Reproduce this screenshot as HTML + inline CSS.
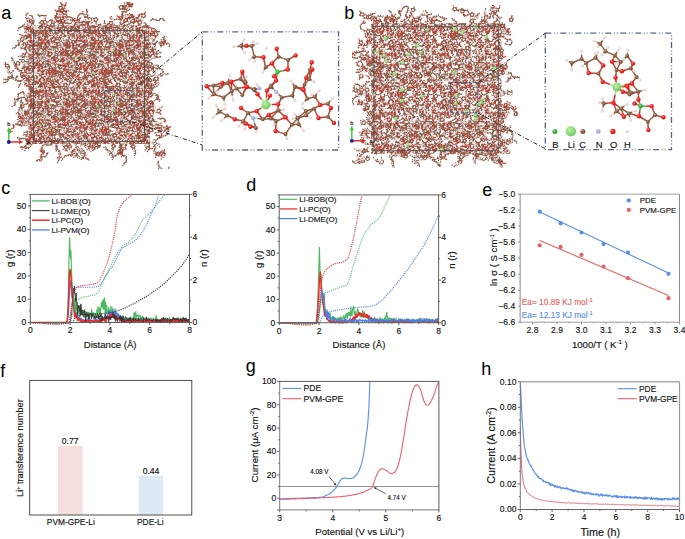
<!DOCTYPE html><html><head><meta charset="utf-8"><style>html,body{margin:0;padding:0;background:#fff;overflow:hidden}svg{display:block;font-family:"Liberation Sans", sans-serif}text{stroke:currentColor;stroke-width:0.14px;paint-order:stroke}text.pl{stroke:none}</style></head><body>
<svg width="685" height="539" viewBox="0 0 685 539">
<defs><radialGradient id="gC" cx="0.38" cy="0.35" r="0.7"><stop offset="0" stop-color="#bfa493"/><stop offset="0.5" stop-color="#8c5a3c"/><stop offset="1" stop-color="#774c33"/></radialGradient><radialGradient id="gO" cx="0.38" cy="0.35" r="0.7"><stop offset="0" stop-color="#f28482"/><stop offset="0.5" stop-color="#e8201c"/><stop offset="1" stop-color="#c51b17"/></radialGradient><radialGradient id="gH" cx="0.38" cy="0.35" r="0.7"><stop offset="0" stop-color="#f6e9e9"/><stop offset="0.5" stop-color="#f0d8d8"/><stop offset="1" stop-color="#ccb7b7"/></radialGradient><radialGradient id="gN" cx="0.38" cy="0.35" r="0.7"><stop offset="0" stop-color="#d0d5eb"/><stop offset="0.5" stop-color="#aab4dc"/><stop offset="1" stop-color="#9099bb"/></radialGradient><radialGradient id="gB" cx="0.38" cy="0.35" r="0.7"><stop offset="0" stop-color="#93d593"/><stop offset="0.5" stop-color="#3cb43c"/><stop offset="1" stop-color="#339933"/></radialGradient><radialGradient id="gL" cx="0.38" cy="0.35" r="0.7"><stop offset="0" stop-color="#c1edb5"/><stop offset="0.5" stop-color="#8fe07a"/><stop offset="1" stop-color="#79be67"/></radialGradient></defs>
<defs><pattern id="t1" patternUnits="userSpaceOnUse" width="47" height="47"><path d="M-.9.7l-2.3 0-.7-2.2 1.8-1.4 1.9 1.3-.7 2.2M-.9.7l 1.1 2M-.3 30.5l-2.2-.6-.1-2.3 2.2-.8 1.4 1.8-1.3 1.9M-.3 30.5l-1 2.1-1.1 2-2.2.7M-.9 47.7l-2.3 0-.7-2.2 1.8-1.4 1.9 1.3-.7 2.2M-.9 47.7l 1.1 2M-9.9 32.2l 2.3 0 2 1.1 2.3.4 2-1.1M-7.4 35.3l-.2 2.3 .7 2.2 2.1 1 1.8-1.5 1.4-1.8M-10 11l 2.3-.4 2.2.7 2.1.9 2.2-.7 .9-2.1M-.2 18.8l 1.7 1.5-.9 2.1-2.3-.2-.5-2.2 2-1.2M.6 22.4l 1 1.7M-2.2 32.6l 1.4 1.8-1.3 1.9-2.2-.6-.1-2.3 2.2-.8M-5.9 29.5l 1.9-1.3 2 1.2 2.2.7 .6 2.2M-1.1 25.3l-2.3-.4-1.4-1.8-.4-2.3-2-1.1-2.3.3M-.4 16.2l-1.3 1.9-2.3 0-2.2-.6-1.7-1.6M-.6 38.9l-2.2.8-1.9 1.2-2-1.1-2.3-.1-1.7 1.6-1.9 1.3-.5 2.2M-2.3 9.3l .7-2.2 2.3 0 .7 2.2-1.9 1.3-1.8-1.4M-5.7 20l 2.1-1 2.3-.3 1.6-1.6M-13.2 23.1l .8-2.2 2.2-.7 2.3 0 2 1.1 1.3 1.9 1.6 1.6 2.2-.6 .5-2.2M1.6-13.8l-1.3 1.9 0 2.3-1.5 1.7-.2 2.3 0 2.3-.9 2.1M21-4.8l 1 2.1 .3 2.3 2.1 1 2.1-.9M46.1.7l-2.3 0-.7-2.2 1.8-1.4 1.9 1.3-.7 2.2M46.1.7l 1.1 2M37.9-1.2l-2-1.1 .4-2.3 2.3-.3 1 2.1-1.7 1.6M6.5-.2l-2.3.2-1.4 1.9-1.5 1.8-2.3-.2M5.3-6.4l-2.3-.2-2.1.9-2.3.3-.9 2.1-1.5 1.7M34.1-3.1l 1.8 1.4 .7 2.2-1.7 1.5 .6 2.2-.5 2.2-.1 2.3M13.1-3.6l-1.5 1.8-1 2.1 .8 2.2-1.6 1.6-2.2-.7-2.2-.5M26.5-13.9l-2.3.2-1.2 1.9-.4 2.3-1.4 1.8-2.3.2-1.5 1.7-.8 2.2 1.1 2M34.8-7.5l-.2 2.3-1.7 1.6 .7 2.2 1.7 1.6 2.1 1M30-8.8l .1 2.3 1.4 1.8 1.4 1.8 1.9 1.3 .8 2.1-1.1 2-1.9 1.3M1.6-2.3l .4 2.3 2.1.9 2.3-.1 1.8-1.5 2.2.6M13.3-7.4l 1.9 1.3 1.5 1.7 1.7 1.5 .6 2.2M24.7-4.4l .9 2.1 2 1.1 2.2-.8 2.3.2 1.4 1.8 1 2.1-.2 2.3M18.3 3.5l 1.4 1.8-1.3 1.9-2.2-.6-.1-2.3 2.2-.8M18.5 7.2l .7 1.9M1.6 33.2l-1.3 1.9 0 2.3-1.5 1.7-.2 2.3 0 2.3-.9 2.1M19.2.2l 2.3-.2 .9 2.1-1.8 1.5-2-1.2 .5-2.2M22.3 2.2l 1.9.5M19.2.2l-2.2-.8-2.3.4-2.3-.3M4 16.1l-1.9 1.4-1.9-1.3 .7-2.2 2.3 0 .7 2.2M.3 16.1l-1.9.6M21 42.2l 1 2.1 .3 2.3 2.1 1 2.1-.9M46.7 30.5l-2.2-.6-.1-2.3 2.2-.8 1.4 1.8-1.3 1.9M46.7 30.5l-1 2.1-1.1 2-2.2.7M32.4 34l-1.8 1.5-1.9-1.2 .6-2.2 2.3-.1 .8 2.1M28.6 34.2l-1.9.7M32.4 34l 2.2.7 2.3-.4 2.1.8M4.9 2.2l .1-2.3 2.2-.6 1.3 1.9-1.4 1.8-2.1-.8M4.9 2.2l-1.1 2M28.8 26.3l-2.3.3-2.3-.4-1.2-1.9-1.8-1.5-2.1-.9-2.3-.4-2-1.2-1.1-2M15.1 28.6l-2-1.1 .4-2.3 2.3-.3 1 2.1-1.7 1.6M13.5 25.2l-1.4-1.5M15.1 28.6l-.2 2.3 .8 2.2M31.7 30l 1.7 1.5 1.9 1.3 .3 2.3 1.8 1.4 2-1.1 2.2-.8 2.3-.5M46.1 47.7l-2.3 0-.7-2.2 1.8-1.4 1.9 1.3-.7 2.2M46.1 47.7l 1.1 2M37.9 45.8l-2-1.1 .4-2.3 2.3-.3 1 2.1-1.7 1.6M36.3 42.4l-1.4-1.5M35.6 6.3l-1.3 1.9-2.2.6-.3 2.3 1.4 1.9 2.3 0 2.3 0 2.2.6M37.1 32.2l 2.3 0 2 1.1 2.3.4 2-1.1M15.8 18.4l-1.8-1.4-2.3 0-1.7 1.5-1.8 1.5-2.1.9-2.3.3M39.6 35.3l-.2 2.3 .7 2.2 2.1 1 1.8-1.5 1.4-1.8M6.5 46.8l-2.3.2-1.4 1.9-1.5 1.8-2.3-.2M37 11l 2.3-.4 2.2.7 2.1.9 2.2-.7 .9-2.1M6.4 25.5l 1.7-1.5 2 1.2-.5 2.2-2.3.2-.9-2.1M6.4 25.5l-2.3-.3-1.8 1.4-.8 2.1M5.3 40.6l-2.3-.2-2.1.9-2.3.3-.9 2.1-1.5 1.7M38.2 2.6l-1.7-1.6-.2-2.3-1.8-1.4-2.1 1-2.2-.5-2.2.7M34.1 43.9l 1.8 1.4 .7 2.2-1.7 1.5 .6 2.2-.5 2.2-.1 2.3M40.3 39.2l 1.4 1.8-1.3 1.9-2.2-.6-.1-2.3 2.2-.8M27.7 40.9l .2 2.3-2.1.9-1.5-1.7 1.2-2 2.2.5M27.7 40.9l 2.3.1 2.2-.8M8 12.4l-1.9 1.3-2.3-.3-1.2-2-2.3-.3-2.1-.8M23.3 44.9l-1.5-1.8-2.3.1-2.1 1-1.8-1.4-1.7-1.6-1.8-1.4 .5-2.2-.1-2.3M30.7 5.1l 2-1.1 2.3-.5 1.6-1.6-.2-2.3M41.5 14l-2.3-.1-1.4 1.8-2.3.2-2.2.7-1.7 1.5-.7 2.2 .9 2.1M42.3 1.7l-2.3-.2-1.1 2-2.3.1-2.3 0-1.8-1.5-2.1.9-2-1.2M-1.9 28.1l 1.1-2 2.3.5 .3 2.3-2.1 1-1.6-1.7M-1.9 28.1l-1.9-1.4-1.7-1.6M25.2 14.3l-1.5 1.8-2.2.5-1.9-1.2-.9-2.1M.4 11l 1.8 1.4-.8 2.2-2.3-.1-.7-2.2 1.9-1.3M1.5 14.6l 1.1 1.6M.4 11l-.5-2.2-1.5-1.7M39.4 15.8l .5 2.2 1.7 1.6-.5 2.2-1.2 2-2.3.4M4.7 29.6l-2.3.4-2.3.2-1.4-1.8-2.2.6-1.6-1.7M21.3 20.2l-1.8-1.5-2.2.7-1.1 2-.5 2.2-1.4 1.8M15.2 34.1l 1.2-2 2-1.1 2.1 1 2.2-.8 2.3.4 1.3-1.9 2.1-1 1.9 1.3M10.7 17.8l-1.5-1.7-2.2-.6-1.7 1.6-.6 2.2-1.5 1.8M-1.5 6.3l 1-2.1 2.3.3 .4 2.3-2 1.1-1.7-1.6M-1.5 6.3l-2.3.4-1.3 1.9-2 1.2M12 11.4l-2.2-.5-.2-2.3 2.1-.9 1.5 1.7-1.2 2M46.8 18.8l 1.7 1.5-.9 2.1-2.3-.2-.5-2.2 2-1.2M47.6 22.4l 1 1.7M17.5 20.7l-1.1 2 1 2.1 .3 2.3 1.3 1.9 2.3 0 1.6-1.6M8.3 16.7l-.2-2.3-.4-2.3-1.5-1.7-2.3.3-2 1.2-1.2 2-.6 2.2 1.1 2M13.1 43.4l-1.5 1.8-1 2.1 .8 2.2-1.6 1.6-2.2-.7-2.2-.5M.5 2.3l-.3-2.3 2.1-1 1.6 1.7-1.1 2-2.3-.4M.5 2.3l-2.3-.2M44.8 32.6l 1.4 1.8-1.3 1.9-2.2-.6-.1-2.3 2.2-.8M44.8 32.6l-.1-2.3-1.6-1.7-2.2-.7M26.5 33.1l-2.3.2-1.2 1.9-.4 2.3-1.4 1.8-2.3.2-1.5 1.7-.8 2.2 1.1 2M20.2 33.3l 2.1-1 1.7-1.6 1.4-1.8 2.2-.8 1.7 1.6 2.3 0 2.2.8 2.1.9M34.8 39.5l-.2 2.3-1.7 1.6 .7 2.2 1.7 1.6 2.1 1M4.4 21.9l-1.1 2 .8 2.1 1.4 1.8 2.2-.5 2.2-.8M44.5 14.1l-1.3 1.9 .2 2.3-1.2 2-2.3.1-2.2-.7-2.2-.6M31 13.7l 2.1 1-.3 2.3-2.3.4-1.1-2 1.6-1.7M32.8 17l 1.5 1.4M33.7 24.6l-2.3-.3-2.3 0-1.5 1.7-2 1.2-2.1 1-1.9-1.3-2.2.7M28.6 3.3l-2.3-.1-.6-2.2 1.9-1.3 1.8 1.4-.8 2.1M25.8.9l-1.9-.7M28.6 3.3l 2.1 1 2.3.1 2.3.4M10.8 28l 1.5-1.7 .9-2.1 2-1.1 2.3 0 1.6 1.6 .9 2.1M5.8 33.2l 1.1 2-.6 2.2-1.9 1.2 0 2.3 .9 2.1M34.3 1.1l 2.3-.1 2.3-.1 1.8-1.4 .3-2.3 .4-2.3M39.7 28.4l .1-2.3 2.2-.6 1.3 1.9-1.4 1.8-2.2-.8M39.7 28.4l-2.2.8-.8 2.1M10.1 6.1l-1.5 1.7-2.3-.2-1.6-1.7-2.2-.8-1.2-2-2.2-.6-2.1-1M18.9 19l .4-2.3 2.3-.3 1 2.1-1.7 1.6-2-1.1M21.5 16.4l .9-1.8M18.9 19l-2.2-.7M17.1 41l 2.1.9-.2 2.3-2.2.5-1.2-2 1.5-1.7M23.7 11.6l .6-2.2-1.5-1.7-2.3-.1-1.7-1.6M36.3 16.6l .1 2.3-2.1.8-1.5-1.8 1.2-1.9 2.2.6M36.3 16.6l 2.3.3 2.2.6M4.4 22.4l 1.7-1.5 2 1.2-.5 2.2-2.3.2-.9-2.1M8.1 22l 1.8-.8M41.1 29.5l 1.9-1.3 2 1.2 2.2.7 .6 2.2M15.9 39.6l-2.3-.3-2.3.2-2.2.5-2.2.7M45.9 25.3l-2.3-.4-1.4-1.8-.4-2.3-2-1.1-2.3.3M24.4 25.6l-2.2.7-1.9-1.3-2.3-.4-2.2.8-2.3.4-2.2-.7-2.2.8M2.1 42.6l-2.1.9-1.5-1.7 1.2-2 2.2.5 .2 2.3M13.1 32.1l-1.8 1.4-1.9-1.3 .6-2.2 2.3-.1 .8 2.2M9.4 32.3l-1.9.7M13.1 32.1l 1.4 1.9M25.2 20.8l-.2-2.3 1.7-1.5 .3-2.3-1.6-1.7 .6-2.2-.6-2.2-.5-2.2 .5-2.2M27.3 5.5l-1.8 1.5 0 2.3-.7 2.2-.7 2.2-1.4 1.9 .2 2.3 1.9 1.3-.2 2.3M15.5.2l-.1 2.3 1.8 1.4 1.3 1.9 2 1.1 1.4 1.8 2.2-.6 2.2-.5 2.2-.8M18.4 8.2l .2-2.3 2.2-.5 1.2 2-1.5 1.7-2.1-.9M18.4 8.2l-2.3.2M32.5-1.7l 2 1.1-.4 2.3-2.3.3-1-2.1 1.7-1.6M42.2 7.1l 1.1 2-1.6 1.7-2.1-.9 .3-2.3 2.3-.5M41.8 10.8l .4 2M21.4 27.8l 2.1-.9 1.5 1.7-1.2 2-2.2-.5-.2-2.3M21.4 27.8l-1.1-2M30 38.2l .1 2.3 1.4 1.8 1.4 1.8 1.9 1.3 .8 2.1-1.1 2-1.9 1.3M46.6 16.2l-1.3 1.9-2.3 0-2.2-.6-1.7-1.6M5.1 4.9l-1.7-1.6-1.9-1.2-.2-2.3-1.9-1.4-1.1-2-.6-2.2M12.6.6l 1.7 1.5-.9 2.1-2.3-.2-.5-2.2 2-1.2M46.4 38.9l-2.2.8-1.9 1.2-2-1.1-2.3-.1-1.7 1.6-1.9 1.3-.5 2.2M16.5 15.8l-2.3-.4-.3-2.3 2.1-1 1.6 1.7-1.1 2M16.5 15.8l 2.1 1M1.6 44.7l .4 2.3 2.1.9 2.3-.1 1.8-1.5 2.2.6M25 31.2l-.4-2.3 1.6-1.7 2.3-.2 1.4-1.8-.9-2.1-.3-2.3-.9-2.1 .7-2.2M20.7 13.8l-1.5-1.8 1.2-1.9 2.2.6 .1 2.3-2.1.8M20.7 13.8l-1.6 1.6-2.1 1-2 1.1M44.7 9.3l .7-2.2 2.3 0 .7 2.2-1.9 1.3-1.8-1.4M44.7 9.3l-2.2-.5-2.3-.4-1.9-1.2M27.1 10.5l 1.9-1.3 1.8 1.4-.8 2.2-2.3-.1-.6-2.2M27.1 10.5l-2.1-1M18.5 29.3l 2.1-1 2.1-.8 2.2-.8 1.8 1.5 1.7 1.6 2.3 0 1.1-2M13.3 39.6l 1.9 1.3 1.5 1.7 1.7 1.5 .6 2.2M34.2 33.2l 2.3.1 .6 2.2-1.9 1.3-1.8-1.4 .8-2.2M37.1 35.5l 1.9.7M12.4 35.7l-.1 2.3-2.2.6-1.2-1.9 1.5-1.8 2.1.8M12.4 35.7l 2.3-.2M30.6 21.6l-2.1-1-2.3-.4-2.2.7-2.3.2-2.1 1-2.3-.4M41.3 20l-.6 2.2-2.3.1-.8-2.2 1.8-1.4 1.9 1.3M41.3 20l 2.1-1 2.3-.3 1.6-1.6M1.4 32.9l-1.9-1.4 .7-2.2 2.3 0 .7 2.2-1.9 1.3M1.4 32.9l-.8 2.2-2 1.2M24.7 42.6l .9 2.1 2 1.1 2.2-.8 2.3.2 1.4 1.8 1 2.1-.2 2.3M20.8 26.2l-2.3-.2-1.6 1.7-2.1-.8-1.8 1.5-1.1 2-2.2.6-.9 2.1M31.1 44.5l 1.1-2 .9-2.1 1.8-1.5 .1-2.3M10.5 24.2l-1.3-1.9 1.4-1.9 2.2.7 0 2.3-2.2.7M10.5 24.2l .7 2.2M33.8 23.1l .8-2.2 2.2-.7 2.3 0 2 1.1 1.3 1.9 1.6 1.6 2.2-.6 .5-2.2M18.9 3.6l 1 2.1-1.7 1.6-2-1.1 .4-2.3 2.3-.3M18.2 7.2l .3 2M18.9 3.6l .5-2.2 1.3-1.9M-1.3 34l 2.2-.5 1.2 2-1.5 1.7-2.1-.9 .2-2.3M-1.3 34l-.2-2.3 .6-2.2M22.1 4.6l 2.2-.5 2.3-.5 2-1.1-.2-2.3 .1-2.3-1.2-1.9M1.7 19.3l-.9-2.1 1.8-1.5 1.9 1.2-.6 2.2-2.3.2M2.6 15.7l-.1-2M1.7 19.3l .7 2.2 1.9 1.2M19.2 47.2l 2.3-.2 .9 2.1-1.8 1.5-2-1.2 .5-2.2M19.2 47.2l-2.2-.8-2.3.4-2.3-.3M4.9 49.2l .1-2.3 2.2-.6 1.3 1.9-1.4 1.8-2.1-.8M38.2 49.6l-1.7-1.6-.2-2.3-1.8-1.4-2.1 1-2.2-.5-2.2.7M30.7 52.1l 2-1.1 2.3-.5 1.6-1.6-.2-2.3M42.3 48.7l-2.3-.2-1.1 2-2.3.1-2.3 0-1.8-1.5-2.1.9-2-1.2M.5 49.3l-.3-2.3 2.1-1 1.6 1.7-1.1 2-2.3-.4M28.6 50.3l-2.3-.1-.6-2.2 1.9-1.3 1.8 1.4-.8 2.1M25.8 47.9l-1.9-.7M34.3 48.1l 2.3-.1 2.3-.1 1.8-1.4 .3-2.3 .4-2.3M10.1 53.1l-1.5 1.7-2.3-.2-1.6-1.7-2.2-.8-1.2-2-2.2-.6-2.1-1M15.5 47.2l-.1 2.3 1.8 1.4 1.3 1.9 2 1.1 1.4 1.8 2.2-.6 2.2-.5 2.2-.8M32.5 45.3l 2 1.1-.4 2.3-2.3.3-1-2.1 1.7-1.6M5.1 51.9l-1.7-1.6-1.9-1.2-.2-2.3-1.9-1.4-1.1-2-.6-2.2M12.6 47.6l 1.7 1.5-.9 2.1-2.3-.2-.5-2.2 2-1.2M18.9 50.6l .5-2.2 1.3-1.9M22.1 51.6l 2.2-.5 2.3-.5 2-1.1-.2-2.3 .1-2.3-1.2-1.9M48.6-13.8l-1.3 1.9 0 2.3-1.5 1.7-.2 2.3 0 2.3-.9 2.1M53.5-.2l-2.3.2-1.4 1.9-1.5 1.8-2.3-.2M52.3-6.4l-2.3-.2-2.1.9-2.3.3-.9 2.1-1.5 1.7M48.6-2.3l .4 2.3 2.1.9 2.3-.1 1.8-1.5 2.2.6M48.6 33.2l-1.3 1.9 0 2.3-1.5 1.7-.2 2.3 0 2.3-.9 2.1M51 16.1l-1.9 1.4-1.9-1.3 .7-2.2 2.3 0 .7 2.2M47.3 16.1l-1.9.6M53.5 46.8l-2.3.2-1.4 1.9-1.5 1.8-2.3-.2M53.4 25.5l-2.3-.3-1.8 1.4-.8 2.1M52.3 40.6l-2.3-.2-2.1.9-2.3.3-.9 2.1-1.5 1.7M55 12.4l-1.9 1.3-2.3-.3-1.2-2-2.3-.3-2.1-.8M45.1 28.1l 1.1-2 2.3.5 .3 2.3-2.1 1-1.6-1.7M45.1 28.1l-1.9-1.4-1.7-1.6M47.4 11l 1.8 1.4-.8 2.2-2.3-.1-.7-2.2 1.9-1.3M48.5 14.6l 1.1 1.6M47.4 11l-.5-2.2-1.5-1.7M51.7 29.6l-2.3.4-2.3.2-1.4-1.8-2.2.6-1.6-1.7M45.5 6.3l 1-2.1 2.3.3 .4 2.3-2 1.1-1.7-1.6M45.5 6.3l-2.3.4-1.3 1.9-2 1.2M55.3 16.7l-.2-2.3-.4-2.3-1.5-1.7-2.3.3-2 1.2-1.2 2-.6 2.2 1.1 2M47.5 2.3l-.3-2.3 2.1-1 1.6 1.7-1.1 2-2.3-.4M47.5 2.3l-2.3-.2M57.1 6.1l-1.5 1.7-2.3-.2-1.6-1.7-2.2-.8-1.2-2-2.2-.6-2.1-1M49.1 42.6l-2.1.9-1.5-1.7 1.2-2 2.2.5 .2 2.3M52.1 4.9l-1.7-1.6-1.9-1.2-.2-2.3-1.9-1.4-1.1-2-.6-2.2M48.6 44.7l .4 2.3 2.1.9 2.3-.1 1.8-1.5 2.2.6M48.4 32.9l-1.9-1.4 .7-2.2 2.3 0 .7 2.2-1.9 1.3M48.4 32.9l-.8 2.2-2 1.2M45.7 34l 2.2-.5 1.2 2-1.5 1.7-2.1-.9 .2-2.3M45.7 34l-.2-2.3 .6-2.2M48.7 19.3l-.9-2.1 1.8-1.5 1.9 1.2-.6 2.2-2.3.2M48.7 19.3l .7 2.2 1.9 1.2M47.5 49.3l-.3-2.3 2.1-1 1.6 1.7-1.1 2-2.3-.4M57.1 53.1l-1.5 1.7-2.3-.2-1.6-1.7-2.2-.8-1.2-2-2.2-.6-2.1-1M52.1 51.9l-1.7-1.6-1.9-1.2-.2-2.3-1.9-1.4-1.1-2-.6-2.2" stroke="#8a6450" stroke-width="1.05" fill="none" stroke-linejoin="round"/>
<path d="M.8 7.2l1.2-1.6M26.5-.4l1.4 1.4M43.1-1.4l-1.9-.6M35.2.1l1.4-1.5M-1.5 41.4l-1.8-.8M26.5 46.6l1.4 1.4M44.4 27.6l-1.7-1.1M7.2-.7l.7-1.9M19.1 21.9l-1 1.8M35.3 32.8l.6-1.9M43.1 45.6l-1.9-.6M35.4 12.9l-.1-2M13.9 17l.9-1.8M41.4 11.3l.9-1.8M10.1 25.2l1.8-.8M40.4 42.9l.7 1.9M25.8 44.1l-.4 2M32.7 3.9l0-2M31.8 22.5l1.9-.6M30.5 3.2l-.7-1.9M1.5 26.6l1.5-1.4M23.7 16.1l1.7 1M21.5 16.6l1.2 1.6M1.8 4.6l1.4-1.4M9.6 8.6l-1.7-1M23 27.3l-1.1-1.7M2.3-1l.4-2M45 36.3l.7 1.9M23 35.2l-1.4-1.5M18.9 39.5l0 2M22.2 32.3l-1.4-1.4M31.5 29.7l.9-1.8M34.6 41.8l2-.3M35.2 47.1l1.4-1.5M10.1 26.6l1.6 1.2M6.4 37.4l-1.9.6M42 25.5l.7-1.9M19.1 44.2l1.5 1.3M34.3 19.7l-.5 1.9M-1.5 41.8l-2 .2M25.5 13.1l-.8 1.8M24.9 6.4l1.4-1.4M28.7 6.8l1.6 1.3M20.9 5.4l.8-1.8M34.1 1.6l1.4 1.5M25 28.5l2-.2M43 18.1l-.6-1.9M13.5 4.2l1 1.7M14 13.1l-1.8-1M29.9 25.3l-1.9-.5M28.7 20.9l2-.4M20.4 10.1l-.7-1.9M47.8 7.2l1.2-1.6M30.8 10.6l1.9-.6M10 38.6l-.7 1.9M38.4 22.3l-1.1 1.7M.2 29.4l-1.2-1.6M10.6 20.5l-.6-1.9M41.1 21.4l.2-2M2.1 35.5l2 .2M26.6 3.6l.1 2M7.2 46.3l.7-1.9M2.3 46l.4-2M34.1 48.6l1.4 1.5M45.5 41.4l-1.8-.8M48.5 26.6l1.5-1.4M48.8 4.6l1.4-1.4M45.5 41.8l-2 .2M47.2 29.4l-1.2-1.6" stroke="#b85a48" stroke-width="1.05" fill="none"/>
<path d="M-1.8 2.1h0m.9.6h0m0-1.9h0m.3-2.3h0m.3.1h0m.5 4.2h0m.2-.5h0m.8-2.5h0m.2 2.3h0m.5-2.1h0m.3-.9h0m.4 3.7h0m.1-.9h0m1-1.1h0m.2.1h0m.1-.8h0m.7 2.2h0m.5.7h0m1-2.2h0m.1-1h0m.7-.5h0m.9-.1h0m.3 2h0m1.9-1.3h0m.3 1.9h0m0-1.5h0m1-2.1h0m.8 1.4h0m.2 1h0m2.1-.7h0m.8.3h0m1.5-.8h0m.7-1h0m.9 4h0m.4-3.1h0m.2.9h0m.2 1.1h0m1.3-1.9h0m1.6.1h0m0 2.6h0m2.1-1.6h0m1.3.4h0m.8-1.3h0m1.1-.8h0m.1.9h0m.3-1.1h0m.5 3.4h0m0-1.8h0m.2 2.3h0m.8-1.5h0m1.4-1.2h0m1 2.1h0m.6-3.5h0m.1-.1h0m.1 4h0m.9-2.3h0m.1-1.5h0m.5 3.1h0m.2-.5h0m.2 1h0m.3-3.6h0m.1 3.5h0m.4-1.8h0m.4.5h0m.3-2.3h0m.4.5h0m0 .8h0m.2 1.5h0m.1.8h0m0-.8h0m0-.6h0m.7.7h0m.6-2.4h0m.3 3.9h0m.7-1.7h0m1.8-1.4h0m1.6 2.2h0m.7-3.1h0m.2-.2h0m.8 3.3h0m.6-2.8h0m.6 3.2h0m.9.6h0m0-1.9h0m.3-2.3h0m.3.1h0m.5 4.2h0m.2-.5h0m.8-2.5h0m.2 2.3h0m.5-2.1h0m-50.6 7.2h0m.1-.8h0m.6-2.9h0m.8 5.4h0m.3-.9h0m.6-.7h0m.6-3.5h0m.4.9h0m.4 2.3h0m.3-1.6h0m.9-1.9h0m.3.9h0m1.3.7h0m1.9-1.9h0m1.5 4.8h0m1 .8h0m.2-4.5h0m.2 2h0m1.1-2.1h0m.5 3.7h0m1.8-3.5h0m2.6 4.2h0m0-2.3h0m0-1.8h0m.1 2.3h0m.3-2.7h0m.7.1h0m.9 3.3h0m.2-3.7h0m.1 4.7h0m.1-1h0m.1-1.4h0m.3.1h0m0-2.4h0m1.6 4h0m.1-3.9h0m.1 3.2h0m.3-1.5h0m1.1 3.3h0m0-1.3h0m.1-2.8h0m.7 3h0m1.5.5h0m.7-1.7h0m.5-2.2h0m1 3.4h0m.1-4h0m.6 1.9h0m1.4-2.3h0m0 3.6h0m1.8-3.7h0m.2 1.9h0m0-.8h0m1.4 4.6h0m.5-4.9h0m.1 0h0m.3.4h0m1.2 0h0m.1 3.9h0m0-4.5h0m.5 5h0m.4-4h0m.3 1.6h0m1-2.6h0m1.6 3.5h0m.7-3.6h0m1.1 4h0m.2.9h0m1.7.2h0m.3-1.5h0m.2 1.7h0m.7-2h0m2.1.3h0m.1-.8h0m.6-2.9h0m.8 5.4h0m.3-.9h0m.6-.7h0m.6-3.5h0m.4.9h0m-50.6 5.6h0m.3 2.2h0m.2-1h0m.5 3.2h0m.4-3.9h0m.1-1.4h0m.8 1.8h0m.3 2.8h0m.3.1h0m.5-4.6h0m0 5.3h0m.4-2.7h0m.7-.5h0m.7 2.6h0m.5-.6h0m.1-2.6h0m2.2 3h0m.1-3.3h0m1.5 1.7h0m.3.3h0m.1 2h0m4-2.9h0m1.2-2h0m.8 3.6h0m2.1-1h0m1.6 1.7h0m1-.6h0m1.8-3.1h0m.1-1h0m.1 4.7h0m2-3.1h0m.1 2.3h0m.9-1.4h0m.3 2.1h0m.3-4.3h0m.4 2.1h0m.3-2h0m.2 4.8h0m.3-1.2h0m.6-2.2h0m1 3.9h0m0-4.3h0m.6 2.2h0m2.3.1h0m.8-2.2h0m.2 3.1h0m.8-2.6h0m1.4 1.9h0m2.3 0h0m1.5-2h0m.8 1.9h0m1.5 1h0m0-3.4h0m.5-.7h0m.2 0h0m0 3.7h0m1.5-2.3h0m.1 2.8h0m.3-3.2h0m1.7 1.3h0m1 2h0m.2-4.8h0m.5.9h0m.3 2.2h0m.2-1h0m.5 3.2h0m.4-3.9h0m.1-1.4h0m.8 1.8h0m.3 2.8h0m.3.1h0m.5-4.6h0m0 5.3h0m.4-2.7h0m-50.6 6.2h0m.4.6h0m1-2.4h0m.2 2.6h0m.4-2.7h0m.1 1h0m0-.9h0m1.4 3.2h0m.9-3.6h0m1.4 3.5h0m0-3h0m.5.8h0m.7.2h0m1.7-1.6h0m1.2 4.6h0m.1-3.4h0m.9-.6h0m1.4 4.4h0m.1-2.7h0m1-.8h0m2.2 1.2h0m.1-1.3h0m1 3.3h0m.1-2.8h0m.8.8h0m.8-2.6h0m.1 2.5h0m.3-1.9h0m.5 3h0m.1 1.2h0m1.1-3.9h0m.2 2.2h0m.2-3.6h0m.5-.1h0m0 3.4h0m1.3 1.4h0m.5.1h0m.1-3.6h0m.1-.1h0m1 2.1h0m.1-3h0m.2 2.3h0m.8-1.8h0m.4 4.9h0m.7-1.8h0m.2-.5h0m.2 2.3h0m1.1-.6h0m.5-3.2h0m1 1.7h0m.7-2.2h0m.1 4h0m.1.3h0m.8-5.5h0m1.1 2h0m.3 3h0m.7-2.2h0m1.2-1.2h0m0 1h0m.5-1.3h0m.8-.6h0m.2 3.7h0m.4 1.2h0m.8-5h0m.1 3h0m.7-2.4h0m.5 3.6h0m.7-.3h0m.1.2h0m.2-4.4h0m.8 1.2h0m.6-1h0m0 4.3h0m.3-1.5h0m0-3h0m.4 4h0m.1.6h0m0-2.3h0m.8-.5h0m0-.1h0m.5 2.5h0m.3-.4h0m.6.6h0m.8-2.1h0m.2-2.2h0m.2 3h0m.1-.8h0m1.4 1.7h0m.5-1.9h0m.4.6h0m1-2.4h0m.2 2.6h0m.4-2.7h0m.1 1h0m0-.9h0m1.4 3.2h0m-50.4 3h0m.6 3.1h0m.4-1.1h0m.3 2.5h0m.2-4.8h0m.8.4h0m.9 4.1h0m.8 0h0m.1-5.1h0m.9-.4h0m.2 2.9h0m.4-2.6h0m.3 3.8h0m.1.9h0m.1-3.4h0m.1-.3h0m.1-.5h0m.9 2.6h0m1.1 1h0m1.2-1.2h0m.5-2.2h0m1.2 3.8h0m.8.8h0m0-1.4h0m.5-.9h0m.7 2.2h0m.2-1.4h0m.8 1.3h0m.5-2.8h0m0-2.3h0m.8 4h0m.1.5h0m.7-.2h0m.4 1.3h0m.5-3.6h0m.6 1.8h0m0-1.2h0m.1 1.6h0m.4-3.8h0m.1 1.2h0m.4-1.2h0m.5 3.3h0m.1-3h0m.6 2.8h0m1-2.7h0m.1 2.9h0m.5-2.6h0m.4 4.7h0m.1-1.1h0m.1-.8h0m.4 1.2h0m.5-3.4h0m.4 4.1h0m.1-5.8h0m.4 5.1h0m.8-2h0m1.4 1.3h0m.2-4.2h0m.3 5.3h0m2.7-.6h0m1.2.2h0m.2-3.1h0m.1 1.2h0m.8.9h0m.7-3.6h0m.9 2.7h0m.4-1.8h0m1.9 2.1h0m.1-1.5h0m3.8 1.1h0m.7-1.9h0m1.6 1.5h0m1.2-2h0m0-.5h0m.5 3.8h0m.4.3h0m.3-2.4h0m.2.2h0m.8 3.5h0m.4-1.9h0m.4-.1h0m1.2-2.6h0m.6 3.1h0m.4-1.1h0m.3 2.5h0m.2-4.8h0m.8.4h0m.9 4.1h0m-50.4 1.6h0m.4 3.6h0m.2-3.3h0m0 4.2h0m0-.1h0m.3-3.1h0m.6.3h0m.1.7h0m.4-.4h0m0 .1h0m.1-.8h0m.5 2.9h0m.3-3.7h0m.4 4.4h0m.1-4.2h0m.3.1h0m.7 1.1h0m.1-.6h0m.7 2.2h0m1.5-2h0m.9-1.7h0m1.6-.3h0m.6-.2h0m.8 5.6h0m.7-.7h0m.2-4.9h0m.1 3.5h0m.4-.8h0m.8-2h0m1.1 2.3h0m.4-.3h0m.7-1.7h0m.1 3.9h0m1.8-1.3h0m.2-2.3h0m1.7-1.6h0m.1.6h0m1.5 3.3h0m.1-1.6h0m.5-.3h0m.4-1.4h0m1 4.4h0m.1-3.7h0m.8.7h0m0-1.2h0m.2 2.3h0m.6 2.3h0m.4-1.2h0m.1-3.7h0m.2-.1h0m.6.9h0m.3 2.3h0m.1.2h0m.9.8h0m.1-3.1h0m0 2.7h0m.4-2.3h0m.8.7h0m.5-1.5h0m.9 0h0m.8 1.6h0m.2-2.6h0m.7 2.7h0m0 2.2h0m.9-2h0m.5-.3h0m.9 0h0m0 2.1h0m.2-1.8h0m2 .5h0m1.7 2.3h0m.4-1.4h0m.9-.1h0m.4.9h0m.4-3.1h0m1.9 3.1h0m.3-3.9h0m1.3-.6h0m.1 1.7h0m.8-.3h0m.1-1.8h0m1.1.8h0m.2.4h0m.1-1.2h0m.2 1.6h0m.9-1.4h0m.3 2.7h0m.1 2.3h0m.1-3.2h0m.2-1.3h0m.4 3.6h0m.2-3.3h0m0 4.2h0m0-.1h0m.3-3.1h0m.6.3h0m.1.7h0m.4-.4h0m0 .1h0m.1-.8h0m.5 2.9h0m.3-3.7h0m.4 4.4h0m.1-4.2h0m.3.1h0m-50.3 7.5h0m.2 0h0m0-2.3h0m.7 4.9h0m.8-1.5h0m0-2.3h0m.3 2.1h0m0-2.1h0m1-1.9h0m.5 2.3h0m2.4 3.2h0m1.4-5.5h0m.6 4.2h0m.6-2.2h0m1.8 1.4h0m1.2 1.9h0m.2-3.7h0m2.1.8h0m.2-.4h0m.1 2.3h0m1.8-3.6h0m.2 1.5h0m.6-1.5h0m.4-1.1h0m4.5.3h0m2.8 1.9h0m1.2-1.9h0m2.3-.2h0m2.1 1.1h0m1.3 4h0m2.4-4.2h0m1 1.4h0m.8-2.2h0m.4 1.5h0m.5 1.9h0m.2.2h0m.4-1.7h0m1.2-.8h0m.3 1.2h0m.3 1h0m1.5-1.4h0m.4 2.4h0m.1-2.2h0m.1-.1h0m1.9-1.9h0m.1 1.3h0m.9.7h0m.1-2h0m.1 2.3h0m1-1.9h0m.1.4h0m.9.5h0m.2 1.7h0m.5 0h0m.2 0h0m0-2.3h0m.7 4.9h0m.8-1.5h0m0-2.3h0m.3 2.1h0m0-2.1h0m1-1.9h0m-50.3 10.2h0m.2-1.6h0m0 1.9h0m0-2.3h0m.1.1h0m1.1-1.7h0m1.2 1.4h0m.7 3.4h0m.3-4.3h0m.2 2.3h0m.9-2.3h0m2.3.2h0m.1 2.5h0m1.6-2.5h0m2.2-.7h0m2.2-.5h0m.8.4h0m1 3.6h0m.2-3.8h0m.4-.3h0m1.5 1.6h0m.4 2h0m0-.1h0m.3-3.2h0m.6 3.8h0m.1-.8h0m.2 2.1h0m.3-3.7h0m.2.2h0m.1 3h0m1-.1h0m.5-4.6h0m.1 4.7h0m.4-1h0m1.5-1h0m.2-2.9h0m.6 3.8h0m.2 1.1h0m1.3.6h0m1-2.5h0m.4.2h0m.8-2.2h0m.2 4.3h0m.2-.6h0m1.6-1.1h0m.3-2.1h0m1 4.1h0m1.3-3.9h0m.1-.5h0m.1 4.4h0m1-.4h0m.3-2.2h0m.6-2.1h0m.1 2.2h0m.7.9h0m.2-3h0m.8 4.4h0m.1-.9h0m.4-1.4h0m.1 1.8h0m.1-2.6h0m.2-2.3h0m1.5 2.9h0m.1-1.1h0m1.7-1.6h0m.1.2h0m.1 2.3h0m.4-.1h0m1 2.1h0m.4-4.4h0m.3-.6h0m0 .6h0m.1 3.1h0m.6 1.4h0m.4-2.3h0m.6-1.3h0m.3.1h0m1.5-1.6h0m.4.4h0m.5 4h0m0-2.5h0m.2 3h0m.4-.8h0m.2-1.6h0m0 1.9h0m0-2.3h0m.1.1h0m1.1-1.7h0m1.2 1.4h0m.7 3.4h0m.3-4.3h0m-49.8 7.4h0m.3-2.3h0m.3.1h0m1.5 1.2h0m.7.1h0m.3-.9h0m.6 2.8h0m1-1.1h0m.2.1h0m.1-.8h0m2.2.7h0m.1-1h0m.7-.5h0m.9-.1h0m.3 2h0m1.9-1.3h0m.3 1.9h0m0-1.5h0m1-2.1h0m.8 1.4h0m.2 1h0m2.1-.7h0m.8.3h0m1.5-.8h0m.7-1h0m1.3.9h0m.2.9h0m.2 1.1h0m1.3-1.9h0m1.6.1h0m2.1 1h0m1.3.4h0m.8-1.3h0m1.1-.8h0m.1.9h0m.3-1.1h0m.5 1.7h0m1 .8h0m1.4-1.2h0m1 2.1h0m.6-3.5h0m.1-.1h0m.9 1.7h0m.1-1.5h0m.5 3.1h0m.2-.5h0m.5-2.6h0m.1 3.5h0m.4-1.8h0m.4.5h0m.3-2.3h0m.4.5h0m0 .8h0m.2 1.5h0m.1.8h0m0-.8h0m0-.6h0m.7.7h0m.6-2.4h0m1 2.2h0m1.8-1.4h0m1.6 2.2h0m.7-3.1h0m.2-.2h0m.8 3.3h0m.6-2.8h0m1.5 1.9h0m.3-2.3h0m.3.1h0m1.5 1.2h0m.7.1h0" stroke="#7e5440" stroke-width="1.45" stroke-linecap="round" fill="none"/>
<path d="M40 1.6h0m-38.7 1.7h0m5 4.4h0m18.1-3.5h0m1.1 4.6h0m22.8-5.4h0m-47.1 14.9h0m3.5 1.2h0m33 .3h0m10.5-1.5h0m-24 8.1h0m.4 2.7h0m7.1-1.3h0m-17.8 13.6h0m26.1 7.3h0" stroke="#a9b6dc" stroke-width="1.45" stroke-linecap="round" fill="none"/>
<path d="M-1.4-1.6h0m.7.6h0m.1 2.2h0m.4-2.4h0m.1 3.8h0m.6-.8h0m.2-1.4h0m.5-1h0m.5-1.2h0m.3 3.1h0m1.6-.2h0m2.9-2.3h0m2.4 1.9h0m1-1.3h0m.2-.7h0m.9 1.6h0m.7-1.1h0m.9 2.1h0m.6-1.9h0m.9 2h0m.1-1.7h0m1.2-.4h0m.5-1.1h0m1.7 2.3h0m.6-.3h0m.8 2.8h0m1.1-.7h0m1-3.7h0m1.1-.1h0m1.5 3.6h0m.4-1.8h0m.4 2.5h0m2.7-2.7h0m0-1.7h0m.9 2.5h0m.3 2.1h0m.2-4.2h0m1.1 2.4h0m0-1.6h0m.1-.6h0m1.6 2.8h0m0-.8h0m.4 1h0m.2 1h0m1.3-.6h0m.9-1.9h0m1 0h0m0 0h0m.2 2.5h0m1.6-2h0m.1-.9h0m.6 1.9h0m.2.1h0m.5.5h0m.8-2.5h0m5 .3h0m1.7-2h0m.7.6h0m.1 2.2h0m.4-2.4h0m.1 3.8h0m.6-.8h0m.2-1.4h0m.5-1h0m.5-1.2h0m-50.4 9.9h0m.6-4.6h0m.8.2h0m.4 3.3h0m0 .5h0m1.5.9h0m0-5.1h0m.3 1.8h0m0-1.5h0m0 3.2h0m1.6-2.7h0m.6-.8h0m.8-.2h0m.3 1.4h0m.3-.4h0m3.3 2h0m.5-3.1h0m5.7 1.9h0m.5-1.7h0m1.4 3.9h0m.2-.4h0m0-3.7h0m1 4.5h0m.6-3.2h0m.1-.3h0m.1 4.4h0m.8-4.3h0m.7 1h0m.5 2.1h0m5.5 1.6h0m2.2-.3h0m1-4h0m1.3-1.2h0m1.1 2.5h0m.5 2.3h0m0-4.3h0m.2 1.6h0m.7-1.6h0m.3-.2h0m1.9 0h0m.2 2.8h0m.6 2.2h0m1.4.3h0m.4-5.5h0m.2 5h0m1-3.1h0m.2 2.9h0m0 0h0m1-4.7h0m.5 3.7h0m.5.3h0m1.4-.2h0m.3.6h0m.2-1.7h0m.3.5h0m.3-.4h0m.3-1h0m.3 2.6h0m.3-3.9h0m.4 4.4h0m.6-4.6h0m.8.2h0m.4 3.3h0m0 .5h0m1.5.9h0m0-5.1h0m-50.5 7.3h0m1.5 1.7h0m1.4-1.8h0m.5-.7h0m.2.3h0m.3 3.9h0m0-4.3h0m.2 4h0m.9-2.5h0m1.2 1.7h0m.4 1.1h0m1-1.9h0m.8-.1h0m.4.4h0m1.5-1.6h0m1 3.9h0m3.1-1.7h0m1.6-2.2h0m1.4-.7h0m1.7-.7h0m.2 5.2h0m0 .3h0m.5-3.4h0m.2-2.3h0m.8-.1h0m.1 4.3h0m.6-2.7h0m.7 4.1h0m1.9-.2h0m1-.3h0m.3-1.5h0m.6-.5h0m1.2-1h0m.1 2.2h0m.3-4h0m.2 3.8h0m.5-4.3h0m2 5.4h0m1.4-2.3h0m2.4-2.6h0m1.8 5.1h0m.3-2.5h0m1.2 2.7h0m.8-3.2h0m3.1-1.7h0m1.1 4.4h0m0-3.4h0m.4-1.4h0m1 3.2h0m.8-.9h0m0-2.8h0m1.1.2h0m.3 1.8h0m.5-.1h0m.4-.3h0m1.5 1.7h0m1.4-1.8h0m.5-.7h0m.2.3h0m-50.8 9.1h0m.3-2.6h0m.6.6h0m0 3h0m.4-1.9h0m.6-.7h0m.2 2.2h0m1.8-2.6h0m.3 3.2h0m.4-4.4h0m2.8-.1h0m.2.4h0m0 2.9h0m1.9-3.2h0m.3 2.1h0m.5-1.8h0m4.9 1.9h0m.4 0h0m1.3-1.5h0m.5.4h0m.2.4h0m.6 2.2h0m.4-3.1h0m.7 2.2h0m.6-2.1h0m.8-1.9h0m.9 0h0m.3 3h0m.9-2.8h0m.4.3h0m.9 1.6h0m.7.2h0m.3-1.4h0m.3 4.1h0m.1.9h0m1.6-3.7h0m.6 3.4h0m.3-.2h0m1.8-4.6h0m1.1 1.3h0m.3 3.2h0m1-3.4h0m.3.1h0m1.1 0h0m.5-1.5h0m.3 1.3h0m1.8 1.6h0m1.4-2.9h0m.1 1.8h0m.2 1.6h0m.2-3.1h0m.8 1h0m.1.8h0m.6 3.2h0m.1.2h0m.7-3.5h0m.1.1h0m0 0h0m.3 1.7h0m.6-2.1h0m.4-1.4h0m1 5.2h0m.2-.7h0m.1-.9h0m.5-2h0m.2 1.6h0m1.2 1.8h0m.8-3.1h0m.6.8h0m.8.9h0m.3-2.6h0m.6.6h0m0 3h0m.4-1.9h0m.6-.7h0m.2 2.2h0m1.8-2.6h0m-48.1 9.5h0m.1-2h0m.8-.8h0m1-1.4h0m.1.4h0m.1-1.1h0m0 .9h0m.7.1h0m.2.5h0m.1.3h0m1 1.1h0m.6-.8h0m4.2-3.1h0m0 4.5h0m.4-4.4h0m.7 2.4h0m1.6.1h0m.1.7h0m0 2.2h0m.3-2h0m1.8-1.1h0m.2-1.5h0m2.7-.9h0m.3 2.7h0m1.1 2.1h0m.4-2.2h0m.1-.5h0m.2.6h0m0 2.6h0m.3-2.5h0m.5 2.6h0m.3-4.9h0m.7 4.4h0m.7-1.1h0m1-3h0m.2 4.7h0m1.5-1.5h0m1.8-3.6h0m.5 5.3h0m1.6-4.6h0m2.3 1.7h0m1.6.1h0m3.8-2.6h0m3.5 1.4h0m1.3.7h0m.4-.1h0m.8 1.3h0m.2 2.2h0m.7-1.9h0m0-1.7h0m.4-2.2h0m4.2 5.7h0m.1-2h0m.8-.8h0m-50.6 5.2h0m.2 1.6h0m.3.1h0m.2.8h0m0-1.8h0m.2 1.9h0m.4-3.2h0m.5.2h0m3.7-1.1h0m1.7-.3h0m.7 1.1h0m0 1h0m.6-.5h0m1 3.9h0m4.2-5.8h0m.3 2.5h0m.4-1.4h0m.2-.8h0m1 3h0m.4-.4h0m.2-1.6h0m.9 1.8h0m.8 1.1h0m.1.8h0m.5-1.9h0m1.1-1.7h0m.6.3h0m.8-1.5h0m.1 1.6h0m.9-.3h0m.1 1h0m.2.6h0m1.9-1.2h0m.1 3.5h0m.2.3h0m1.4-3.3h0m.4 1h0m.1-.5h0m.1 2.4h0m.5-.7h0m1-3.1h0m0-.6h0m.1.8h0m.2 4h0m.7-4.6h0m.8 2.2h0m1.9.6h0m.5-2.6h0m0-.2h0m2.3 3.3h0m.5-2.4h0m.3 2h0m0 .9h0m.7-.4h0m.8 1.1h0m1.3.2h0m0 .1h0m1.3-5.4h0m1 1.5h0m.2 2.8h0m2.2-.8h0m.5-.3h0m.7-1.4h0m1.5 1.8h0m.2.3h0m.1-4.1h0m.2 4.6h0m.4-4.1h0m.5-.1h0m.1.1h0m.3 1.5h0m.2 1.6h0m.3.1h0m.2.8h0m0-1.8h0m.2 1.9h0m.4-3.2h0m.5.2h0m-48.1 9.8h0m.8-5.7h0m.3.6h0m.3-.1h0m.1-.2h0m.1-.1h0m0 2.6h0m.8.8h0m.6-.7h0m.9-2.9h0m.6 5.5h0m3-.4h0m2.7-4.4h0m1.4 4.2h0m1.8-4.1h0m.6-.4h0m.1.2h0m.1.3h0m.9-.4h0m.5 1.6h0m0 2.4h0m.2-2h0m.3 1.5h0m1.1-2.4h0m3 3h0m7.8-2.9h0m4.3 4h0m0 0h0m.7-4h0m0 .6h0m1.8-.5h0m.4 1.2h0m.1-.4h0m1.4-.5h0m.2-2.1h0m.4.9h0m1.1.5h0m.2 3.5h0m.3-.3h0m.6-4.5h0m.6 2.6h0m.1.7h0m.9-3h0m.2-.1h0m.7-.7h0m.1.4h0m0-.4h0m0 1.5h0m2.8 2h0m.1-.4h0m.3-1.3h0m1.5 4h0m.8-5.7h0m.3.6h0m.3-.1h0m.1-.2h0m.1-.1h0m0 2.6h0m.8.8h0m.6-.7h0m-50.6 6h0m1 .7h0m.1-2.3h0m2.7-.6h0m.6 4.4h0m.4-5.2h0m.7 4.2h0m1.5-3h0m3.3-.2h0m1.6 1.3h0m.3-1.8h0m3-.4h0m.5 4.1h0m.1-3.5h0m.8 4.8h0m1.8-5h0m.7 5.5h0m0-4.7h0m.2 3.9h0m1.1-4h0m.2 4h0m.3-2.9h0m1.3 3.3h0m.9.3h0m1.6-4.9h0m.8 4h0m.8-4.8h0m2.2.2h0m.3 5.6h0m1.3-.6h0m.2-3.1h0m.1-1.7h0m2.4 2.9h0m0 2.1h0m.2-.7h0m.4-3.2h0m1.2 1.1h0m.5 1.1h0m0 2h0m1.1-2.4h0m.1 1.8h0m.5-.8h0m0-2.5h0m.4 3h0m.6-4.2h0m.2 4.2h0m1.1-4h0m2.9 3h0m1.1.9h0m.3-3.2h0m.5-1.3h0m.2.4h0m.3.6h0m.9.8h0m1.2.7h0m.5.2h0m1 .7h0m.1-2.3h0m2.7-.6h0m-50.3 5.5h0m.7.6h0m.1 2.2h0m.4-2.4h0m.7 3h0m.2-1.4h0m.5-1h0m.5-1.2h0m.3 3.1h0m1.6-.2h0m2.9-2.3h0m2.4 1.9h0m1-1.3h0m.2-.7h0m.9 1.6h0m.7-1.1h0m.9 2.1h0m.6-1.9h0m.9 2h0m.1-1.7h0m1.2-.4h0m.5-1.1h0m1.7 2.3h0m.6-.3h0m2.9-1.7h0m1.1-.1h0m1.5 3.6h0m.4-1.8h0m3.1-.3h0m0-1.7h0m.9 2.5h0m.5-2.1h0m1.1 2.4h0m0-1.6h0m.1-.6h0m1.6 2.8h0m0-.8h0m.4 1h0m2.4-1.4h0m1 0h0m0 0h0m1.8.5h0m.1-.9h0m.6 1.9h0m1.6-1.9h0m5 .3h0m1.7-2h0m.7.6h0m.1 2.2h0m.4-2.4h0m.7 3h0m.2-1.4h0m.5-1h0m.5-1.2h0" stroke="#efe6e6" stroke-width="1.5" stroke-linecap="round" fill="none"/>
<path d="M.2 0h0m4.8-.1h0m6.4 2.6h0m2.9-.4h0m1.1.5h0m5.1-4h0m.9 1.5h0m3.9-1h0m2.6 2h0m1.8-3.1h0m.1 3.3h0m2.2-3.1h0m.7 3.7h0m1.8.7h0m0-3.3h0m2.1-.7h0m4.5-.7h0m2.7 2.8h0m3.4-.8h0m-48.7 7.1h0m1-2.9h0m2.5 1.3h0m1.2-2.4h0m1.5 2.9h0m3-2.6h0m.2 4.2h0m6.6-1.7h0m4.1 0h0m1.1 2.3h0m.1-3h0m.1.4h0m1.9-2h0m3.7 3.4h0m.9-3.9h0m0 1.9h0m.4.6h0m3.5 2.5h0m4.7-1.7h0m0-3h0m.5.7h0m0-1.1h0m10 4h0m1-2.9h0m2.5 1.3h0m-48.6 5.4h0m1.9 1.4h0m7.5-1.5h0m2.5 1.2h0m7-.1h0m5.4 2.9h0m.8-5.6h0m3.6-.1h0m3.7.8h0m.3 4.7h0m2.2-3.7h0m7-1.5h0m1.1-.4h0m4 1.9h0m-46.5 6.1h0m.7 3.2h0m.6-2.9h0m3.9 3.4h0m3.8-2.2h0m0 0h0m4.3-3.2h0m.5-.1h0m4.5 1.5h0m3.4 1.5h0m2.8-1.1h0m5.2 3.4h0m5.8-1.5h0m4.9.5h0m.5 1.4h0m.5-4.6h0m5.5.9h0m.7 3.2h0m-49.3 5.8h0m3.7-.9h0m3.1-4.2h0m2.1 3h0m1.1-1.6h0m2.7 2h0m1.3-.2h0m4.3-1.1h0m.6.5h0m.3 2.3h0m3.4-.3h0m1.6 1.1h0m3.1-.3h0m1.4-1.8h0m5.8-2.9h0m0-.2h0m3.5 2.3h0m2.5 2.2h0m.9-3.9h0m2 1.4h0m.1 2.9h0m3.5-.4h0m-47.2 1.6h0m.4 3.8h0m12.1-3.7h0m1.5-.4h0m3.3 4.6h0m1.3-5h0m3.1 3.8h0m4.8-3.6h0m.6 0h0m.8 1.1h0m1.2.4h0m4.1-.7h0m1.1 3.6h0m2.5-.6h0m8.6-1h0m1.5-2.1h0m.4 3.8h0m-48.3 5.9h0m.4.7h0m.6-3.8h0m1.7-.9h0m3.2 2.2h0m.4 2.3h0m6.8-4.5h0m.9 4.5h0m9.4-4.3h0m.9 3.7h0m8-2h0m4.4 3.4h0m1.5-5.6h0m8.8 4.1h0m.4.7h0m.6-3.8h0m1.7-.9h0m-49.2 5.6h0m1.2 4.4h0m2.7.6h0m1.8-3.1h0m3.5 3.5h0m1.3-4h0m9.6 1.1h0m.4.4h0m8.6 1.3h0m5 .9h0m3 .5h0m.7-3.1h0m4.5 3.2h0m.6-3.8h0m1.8 1h0m.2-1.3h0m2.1-1.5h0m1.2 4.4h0m-46.8 3.5h0m4.8-.1h0m15.6-1.4h0m.9 1.5h0m3.9-1h0m2.6 2h0m1.8-3.1h0m.1 3.3h0m2.2-3.1h0m.7 3.7h0m1.8-2.6h0m2.1-.7h0m4.5-.7h0m2.7 2.8h0m3.4-.8h0" stroke="#e2221d" stroke-width="1.45" stroke-linecap="round" fill="none"/></pattern><pattern id="t2" patternUnits="userSpaceOnUse" width="53" height="59"><path d="M-11.4-3.9l 2.3.2 1.6 1.6 1.5 1.8 0 2.3 2.1.9 2 1.1M-6 10.8l 2.1 1 1.7 1.6 2.3-.2 .8-2.2-.8-2.1-2.2-.8M-4.8 56.5l-.5-2.2 2-1.2 1.7 1.5-.9 2.1-2.3-.2M-2 47.7l 1.5-1.7 2.1.9-.2 2.3-2.2.5-1.2-2M1.6 46.9l 1.7-1M-1.4 7.5l-1.4 1.8-2.2-.8 .1-2.3 2.2-.6 1.3 1.9M-1.4 7.5l 1.5-1.7 .9-2.1 .4-2.3M-2.9 18.4l 1.9-1.2 .3-2.3-2-1.2-1.9-1.3-2.2.8-2-1.2-2.3.3M-2.8 52.3l 1.7-1M-5.9 43.6l 1.2-2 2.1-1 1.8 1.4 2-1.2 1.7-1.6M-3 28.6l-1.8-1.5 .9-2.1 2.3.2 .5 2.2-2 1.2M-8.7 5.8l .8 2.2 1.9 1.3 2.3.1 1.1-2 1.3-1.9 1.7-1.5-.5-2.3-2.2-.7M-1.2 33l-1.3-1.9-2.1-.9-2.3 0-2.2.7M-11.4 55.1l 2.3.2 1.6 1.6 1.5 1.8 0 2.3 2.1.9 2 1.1M-8.3 49.5l 1.4 1.8 .5 2.2 1.6 1.6 2.3.2 2.1-1 2.1.9 2.2.6M-1 8.2l 1.1 2-1.6 1.7-2.1-1 .3-2.3 2.3-.4M-1.5 11.9l .4 2M-.5-1.4l 2 1.1-.4 2.3-2.3.3-1-2.1 1.7-1.6M-.5-1.4l 1.1-2M-7.4 14.7l 2 1.2 2.3-.3 1.7-1.5M-1.4 66.5l 1.5-1.7 .9-2.1 .4-2.3M-8.7 64.8l .8 2.2 1.9 1.3 2.3.1 1.1-2 1.3-1.9 1.7-1.5-.5-2.3-2.2-.7M-.5 57.6l 2 1.1-.4 2.3-2.3.3-1-2.1 1.7-1.6M-.5 57.6l 1.1-2M17.5-5.5l-.8 2.2-.6 2.2-1.4 1.8 0 2.3M3.6-1.3l-.8 2.1-2.3-.1-.6-2.2 1.9-1.2 1.8 1.5M.5.7l-1.3 1.5M3.6-1.3l 1.4-1.8-.2-2.3M48.2-2.5l-2.2.8M19.6-3l-.5 2.2-1.4 1.8-1.3 1.9M32.6-.4l 2.1 1 2-1.1 2.3.2 1.6 1.7M26.7-.7l 1.2 1.9-.2 2.3 .6 2.2 .5 2.2 2.3.4M7.7-3.4l .4 2.3 .6 2.2-.1 2.3 .7 2.2 .9 2.1M41.7-6l-2 1.1-1.1 2 .9 2.1-.1 2.3M43.8-1.2l-.2-2.3-2.1-1-2 1.1-1.5 1.7-2.2.8M41.6-3.9l 2.3.2 1.6 1.6 1.5 1.8 0 2.3 2.1.9 2 1.1M37.3-1.9l .7-2.2-.8-2.1-1.9-1.3-2.2.5-2-1.1M20.3-.4l .7 2.2 2.1.9 0 2.3-2 1.1-2.3-.4-1.5-1.7-2.2.5-1.3 1.9M29.2-9.6l-1.5 1.7 .2 2.3 1.1 2-.8 2.2 1.5 1.8M17.5 53.5l-.8 2.2-.6 2.2-1.4 1.8 0 2.3M35.7 24.3l .9-2.1 2.2-.8 1.6-1.6 1.8-1.5-.1-2.3-1.2-2-.1-2.3-.6-2.2M47 10.8l 2.1 1 1.7 1.6 2.3-.2 .8-2.2-.8-2.1-2.2-.8M35.8 3.1l 1.7 1.5-.9 2.1-2.3-.2-.5-2.2 2-1.2M35.8 3.1l 1.8-1.4M27.4 40.6l-2.3.1-1.6-1.6-1.5-1.8-1.3-1.9-2.1-1M38.4 27.5l 2-1.1 2.2.7 2.3.3 1.5-1.7 2.1-.8M18 24.1l 2.3 0 2.2-.7 .8-2.2 2.1-.9 1.3-1.9M3.6 57.7l-.8 2.1-2.3-.1-.6-2.2 1.9-1.2 1.8 1.5M.5 59.7l-1.3 1.5M3.6 57.7l 1.4-1.8-.2-2.3M25.8 50l .5 2.2 2.2.7 .7 2.2 2.3.2M32.6 10.6l-1.7-1.5 .8-2.2-.5-2.2 1.6-1.6-.2-2.3-2-1.1-.9-2.1M35.2 45.7l-2.3.4-1.5-1.7 .8-2.2 1.8-1.4 2.2-.8 .4-2.3-.2-2.3M2 10.7l-2.2-.6-2.3-.2-2.3-.1-2-1.1-.7-2.2M5.6 7.2l 2-1.2 1.7 1.5-.9 2.1-2.3-.2-.5-2.2M5.6 7.2l-2.1.9-1.6 1.6M48.2 56.5l-.5-2.2 2-1.2 1.7 1.5-.9 2.1-2.3-.2M49.7 53.1l .2-2M48.2 56.5l-2.2.8M51 47.7l 1.5-1.7 2.1.9-.2 2.3-2.2.5-1.2-2M54.6 46.9l 1.7-1M19.6 56l-2.3-.3-.4-2.3 2-1.1 1.7 1.6-1 2.1M19.6 56l-.5 2.2-1.4 1.8-1.3 1.9M6.3 13.6l-2.2-.8-1.7-1.6-2.1.9-2.3.4-1.7 1.5 .4 2.3M30 8.5l 1.6-1.6 2.2.7 2.1-1 1.2-2 2.3-.4M8.4 29.9l-2.3 0-.7-2.2 1.8-1.4 1.9 1.3-.7 2.2M8.4 29.9l-.1 2.3-.5 2.2M32.6 58.6l 2.1 1 2-1.1 2.3.2 1.6 1.7M19.9 25.2l 1.2-2 .4-2.3 .9-2.1 2.3-.1 1.6 1.7 2.2.7M22.8 24.2l-1.2-1.9 .9-2.1 2.2-.6 2.2-.8M3.5 47.3l-1.1 2-2.3.2-2.1-1-1.1-2-.2-2.3-1.7-1.6-1.6-1.6M18.6 31.3l .3-2.3 1.8-1.4 1.9-1.2 1.4-1.8 2.2-.8 2.1-.9 2.2-.7 .4-2.3M31.6 21.3l-1-2.1 1.7-1.6 2 1.1-.4 2.3-2.3.3M31.6 21.3l-2.2.6M9.8 46l 0 2.3-2.2.7-1.4-1.9 1.3-1.9 2.2.7M8.7 37.7l-.8 2.1-.8 2.2-2.3.2-1.1 2 1 2.1 2.2.7M2.1 40.3l 2-1.1 2.3.1 1.7-1.6 2.2.5 1.4-1.8 2-1.1M26.7 58.3l 1.2 1.9-.2 2.3 .6 2.2 .5 2.2 2.3.4M7.7 55.6l .4 2.3 .6 2.2-.1 2.3 .7 2.2 .9 2.1M10.9 27.1l-.2-2.3 2.1-.9 1.5 1.8-1.2 2-2.2-.6M12.9 24l .5-1.9M10.9 27.1l-.5 2.3 1.3 1.9M8.9 31.5l-1.8-1.4 .8-2.1 2.3.1 .6 2.2-1.9 1.3M8.9 31.5l 1.6 1.6 1.5 1.7M2.5 32.1l 1.4 1.8 0 2.3 .2 2.3-1.8 1.4-.3 2.3 1.5 1.7 1.4 1.8 2.3.5M37.3 52.7l 1.3-1.9-.4-2.3 .2-2.3-.1-2.3-.9-2.1M43.4 24.6l .8 2.2-1.8 1.4-1.9-1.3 .6-2.2 2.3-.1M43.4 24.6l 1.4-1.8-.4-2.3-1.4-1.8M34.7 44.7l-2.2-.6-.1-2.3 2.1-.8 1.5 1.8-1.2 1.9M34.7 44.7l-.7 2.2-.1 2.3M33.7 16.6l-.9 2.1-2.1.9-1.9 1.3-2.1-.8-2.3-.4-1.9 1.4M5.3 1.8l-2.1.9-1.5-1.7 1.2-2 2.2.5 .2 2.3M1.6.9l-2 .2M5.3 1.8l 2.1.9 1.7 1.5M8.7 39.4l .7-2.2-1.7-1.6-2.3-.4-1.3-1.9-.7-2.2-1.6-1.6-2.1-.9-2.3 0M26.2 30.9l-2.2-.5-.2-2.3 2.1-.9 1.5 1.7-1.2 2M23.7 28.1l-1.7-1M26.2 30.9l-.6 2.2M51.6 7.5l-1.4 1.8-2.2-.8 .1-2.3 2.2-.6 1.3 1.9M48 8.5l-1.7 1.1M51.6 7.5l 1.5-1.7 .9-2.1 .4-2.3M50.1 18.4l 1.9-1.2 .3-2.3-2-1.2-1.9-1.3-2.2.8-2-1.2-2.3.3M24.9 23l 2.3-.2 .9 2.1-1.7 1.5-2-1.2 .5-2.2M24.9 23l-2.3-.4M41.7 48.1l-.4-2.3 1.4-1.8 2.3.1 2.2.5 1.7-1.6-.4-2.3M12.8 55.8l-1-2.1 1.6-1.6 2 1.1-.4 2.3-2.3.3M30.2 6.4l-1.7 1.6-2-1.1 .4-2.3 2.3-.3 1 2.1M26.5 6.8l-1.8.9M30.2 6.4l 1.9 1.3M2.2 52l 1.8-1.4 1.9 1.3-.7 2.2-2.3 0-.7-2.2M5.9 51.9l 1.9-.6M2.2 52l-1.3-1.9-1.7-1.5-.6-2.2M12.4 16.1l-.4-2.3 2.1-1 1.6 1.6-1 2-2.3-.4M12.4 16.1l-1.1 2 .2 2.3M41.8 24.3l-1.5-1.7-.6-2.2 1.5-1.7 2.3.4 .5 2.2-.5 2.3 .6 2.2 1.4 1.8M38.9 8.8l .2-2.3 2.2-.6 1.2 1.9-1.5 1.8-2.1-.9M41.3 5.9l .7-1.9M38.9 8.8l-2.3-.2-2.1.9M15.5 2.5l-1.2 2-2.1.9-1.6 1.6-2.3-.3-2.3 0-2 1.1-2.1-1M46.6 53l 1.6-1.7 2.1 1-.3 2.3-2.3.4-1.1-2M50.2 52.3l 1.7-1M29.3 46.9l .8-2.2 2.3.1 .6 2.2-1.9 1.3-1.8-1.4M32.4 44.8l 1.2-1.6M30.5 4.8l-2 1.1-.7 2.2-1.9 1.3-2 1.2-2-1.1M47.1 43.6l 1.2-2 2.1-1 1.8 1.4 2-1.2 1.7-1.6M50 28.6l-1.8-1.5 .9-2.1 2.3.2 .5 2.2-2 1.2M49.1 25l-1.1-1.7M50 28.6l-1.5 1.7M44.3 5.8l .8 2.2 1.9 1.3 2.3.1 1.1-2 1.3-1.9 1.7-1.5-.5-2.3-2.2-.7M27.3 44.7l 1 2.1-1.7 1.6-2-1.1 .5-2.3 2.3-.3M1.9 18.1l-2.1-1 .3-2.3 2.3-.5 1.1 2-1.6 1.7M27.3 13.3l-.8 2.2-1.1 2-2 1.1-2.3.4M28.9 34.4l 1.9 1.3-.6 2.2-2.3.1-.8-2.2 1.8-1.4M32.2 25.7l-2.3.3-1-2.1 1.6-1.6 2 1.1-.4 2.3M32.2 25.7l 1.3 1.9 .9 2.1M22.6 6.4l 2.3 0 2-1.1 1.9-1.2 .4-2.3M25.3 48.8l 0 2.3-2.2.7-1.3-1.9 1.4-1.8 2.2.7M25.3 48.8l 2.3-.2M16.2 39l-1.3 1.9-2.1.9-1.9 1.3-2.3.3M19.1 9.4l-1.8 1.4-1.9-1.3 .6-2.2 2.3-.1 .8 2.2M19.1 9.4l 1.3 1.9 1.5 1.7M16.6 11.3l-1.8 1.4-1.4 1.8 1.1 2-.4 2.3M41.7 53l-2 1.1-1.1 2 .9 2.1-.1 2.3M15.8 43.5l-2.1.9-2.1.9-2.2-.8-2.2.6-2.2.5M17 17.8l-2.2-.7 0-2.3 2.2-.7 1.4 1.9-1.3 1.9M14.8 14.8l-1.6-1.2M47.4 28.1l-1.3 1.9-2.2-.7 0-2.3 2.2-.7 1.4 1.9M43.9 29.3l-1.6 1.2M47.4 28.1l 1.8 1.4M24.7 34.7l-.2 2.3-2.2.5-1.2-2 1.5-1.8 2.1.9M22.3 37.5l-.8 1.9M24.7 34.7l 2.2-.8 2.3-.3 2.3.4M32.7 28.3l-.3 2.3-2.3.4-1.1-2 1.6-1.6 2.1 1M30.1 30.9l-.9 1.8M32.7 28.3l 2.3-.2 2.2-.6 2.3-.1M12.1 21.4l 0-2.3 2.2-.7 1.3 1.9-1.4 1.8-2.2-.7M14.3 18.4l .6-1.9M12.1 21.4l-1.9 1.2M40.5 32.6l-1.9-1.3-2.3 0-2-1.1-2 1.1-2.3-.2-1.5-1.7M15.9 48.1l-2-1.2 .5-2.2 2.3-.2 .9 2.1-1.7 1.5M15.9 48.1l 1.1 2 .4 2.3M6.7 17.8l 1.1-2 2.3.4 .3 2.3-2.1 1-1.6-1.7M10 16.2l 1.4-1.4M6.7 17.8l-1.9-1.3-.9-2.1M46.4 29.9l-1.4 1.9-2.2-.7 0-2.3 2.2-.7 1.3 1.9M11.6 15.8l 1.9 1.2 2.2.5 1.9 1.3 2.3-.4M51.8 33l-1.3-1.9-2.1-.9-2.3 0-2.2.7M1.6 6.8l-.8-2.2 1.2-2-1.2-1.9-2.3-.1-1.5 1.7M14.4 47.2l 1.8-1.4 .8-2.2-.8-2.1-1.1-2M20.5 4.5l 1.1-2 2.3.4 .3 2.3-2.1 1-1.6-1.7M20.5 4.5l-2.2.7M42.6 16.6l-2.3-.1-1.3-1.9-.4-2.3 1.7-1.5 .5-2.2M9.9-1l 1.4 1.8-1.3 1.9-2.2-.7-.1-2.3 2.2-.8M45 17.3l 1.5 1.8-1.2 2-2.2-.5-.2-2.3 2.1-.9M45 17.3l 1.3-1.9M8.3 51l 1.9 1.4-.7 2.2-2.3 0-.7-2.2 1.9-1.4M8.3 51l-.5-2.2-2.1-1M1.6 27.1l-2.2.8-1.4-1.8 1.3-1.9 2.2.7 0 2.3M-1.9 26l-2 0M11 53l-2.3.2-2.2.5-2-1.2-1.4-1.8M45.3 22.8l 1.1 2 .6 2.2-1.2 2-1.3 1.9M40 36.6l 1.9 1.3-.6 2.2-2.3.1-.8-2.1 1.8-1.4M40 36.6l .2-2.3-1.4-1.8-2.2-.8M43.8 57.8l-.2-2.3-2.1-1-2 1.1-1.5 1.7-2.2.8M11.5 42.4l 2.3.3 .4 2.3-2 1.1-1.7-1.6 1-2.1M11.5 42.4l-.9-2.1-2.1-.9M13.5 36.1l-2.3-.5-2.2.7-1.5 1.7-2.3.4-2.3-.2-2.2-.5-2 1.2-2.1 1M41.6 55.1l 2.3.2 1.6 1.6 1.5 1.8 0 2.3 2.1.9 2 1.1M44.7 49.5l 1.4 1.8 .5 2.2 1.6 1.6 2.3.2 2.1-1 2.1.9 2.2.6M34.8 3.9l-2.1.9-.8 2.2 .6 2.2-.1 2.3-.8 2.2 0 2.3-1.6 1.6M37.1 30.9l 1.5 1.7-1.2 2-2.2-.5-.2-2.3 2.1-.9M34.5 35.2l 2 1.1 1.9 1.4 2.3-.5 1.1-2 1.5-1.7 2.2-.6 1.2-2M37.3 57.1l .7-2.2-.8-2.1-1.9-1.3-2.2.5-2-1.1M20.3 58.6l .7 2.2 2.1.9 0 2.3-2 1.1-2.3-.4-1.5-1.7-2.2.5-1.3 1.9M52 8.2l 1.1 2-1.6 1.7-2.1-1 .3-2.3 2.3-.4M51.5 11.9l .4 2M6.6 19.7l-2 1.2-1.2 2-.7 2.2-.5 2.3-2.2.5-1.1 2-2.3 0M26.2.6l .4-2.3-.7-2.2-1.3-1.9 .8-2.1 1.8-1.4M49.5 45.9l-2.1.9-1.5-1.8 1.2-2 2.2.5 .2 2.3M45.8 45l-2 .1M20.4 17.3l-.4 2.3-2 1.2-1.6 1.7-2.3-.1-1.6-1.7-.8-2.2M13.7 2.8l 1 2.1 1.1 2 1.1 2-1 2.1-1.5 1.7-1.6 1.7-2.3-.4M26.6 32.3l .2 2.3-2.1.9-1.5-1.7 1.2-2 2.2.5M26.6 32.3l 1.2-2 1.7-1.6M29.2 49.4l-1.5 1.7 .2 2.3 1.1 2-.8 2.2 1.5 1.8M43.1 3.9l 1.6 1.7-.3 2.3-2.1 1-2.3.4-1.2-2 .8-2.1-1.6-1.6M31.2 29.7l 2.1-1 1.6 1.7-1.1 2-2.3-.5-.3-2.3M31.2 29.7l-2.2-.7-2.2.7-1.7 1.6M32.8 43.2l-1.9-1.3-2-1.1-2.2-.7-2.3.1-1.6 1.6M24.9 18.9l-1.7-1.5-1-2-1.6-1.6 .3-2.3-1.7-1.5M15.3 29.2l-.8 2.1-2.3-.1-.6-2.2 1.9-1.2 1.8 1.5M12.1 31.2l-1.3 1.5M15.3 29.2l 2.3-.2 2.2.6M12.4 8.9l-1.4 1.8 0 2.3 1.9 1.3 1.2 1.9M14.8 27l-1.3-1.9-.1-2.3 .4-2.3-.8-2.1-1.8-1.5-.4-2.3M25.4 38l-.9-2.1 1.7-1.5 2 1.2-.5 2.2-2.3.2M26.2 34.4l-.2-2M25.4 38l-.8 2.2-1.4 1.8M43.8 33.3l 2.2-.7 1.4 1.9-1.4 1.9-2.2-.7 0-2.3M2.8 22.2l-1.9 1.2-1.8-1.5 .8-2.1 2.3.1 .6 2.2M2.8 22.2l 2.1.9 1.5 1.7M21.8 49.6l-1.7-1.6 1-2.1 2.3.3 .4 2.3-2 1.1M46.6 2.6l 2.2-.5 1.2 2-1.5 1.7-2.1-.9 .2-2.3M19.4 40.5l 2.3-.5 1.1 2-1.6 1.7-2.1-1 .3-2.3M22.8 42.1l 2 .2M19.4 40.5l-2.1-1-1.1-2-.2-2.3M23 32.5l-1.9-1.2 0-2.3 .2-2.3 1.7-1.5 .4-2.3 2.1-.9 2.2.8 .7 2.2M.4 34.6l 1.7-1.6-.4-2.3-.1-2.3-1.6-1.6-2.2-.8-2-1M48.2 19l 2 1.2-.5 2.2-2.3.2-.9-2.1 1.7-1.5M48.2 19l .9-2.1M48.3 36.7l-1.3-1.9-1.9-1.3-1.9-1.3-1.6-1.7 .7-2.2-.4-2.3-1.5-1.7M37 14.5l 2.3-.1 1.6-1.7 2.2.6 .3 2.3M51 42.3l-2.1.9-2.3-.4-1.4 1.8 1.2 2-.3 2.3-2.2.7-1 2.1 1 2.1M19.1 11.4l 2.3 0 .7 2.2-1.8 1.4-1.9-1.3 .7-2.2M22.1 13.6l 1.9.6M39.6 43.6l 1.8-1.4 1.9 1.3-.7 2.2-2.3 0-.8-2.2M52.5-1.4l 2 1.1-.4 2.3-2.3.3-1-2.1 1.7-1.6M52.5-1.4l 1.1-2M39.5 8.2l 2.2.8-.1 2.3-2.2.6-1.3-1.9 1.4-1.8M39.5 8.2l-1.2-1.9-2.1-1M15.8 53.3l-.5-2.3-2.1-1-2.3-.1-1.2-1.9-2.2-.8-1.4-1.8-.4-2.3M32.5 23.1l 2-1.2 1.7 1.5-.9 2.1-2.3-.2-.5-2.2M32.5 23.1l-2.3-.3-1.8 1.4M45.6 14.7l-2.3.3-1-2.1 1.7-1.6 2 1.1-.4 2.3M42.4 12.9l-2-.4M45.6 14.7l 2 1.2 2.3-.3 1.7-1.5M36.1 5.6l-2 1.2 0 2.3-.6 2.2-2 1.1-1.9 1.3-2.3-.2-1.4-1.9 0-2.3M35.8 62.1l 1.8-1.4M32.6 69.6l-1.7-1.5 .8-2.2-.5-2.2 1.6-1.6-.2-2.3-2-1.1-.9-2.1M5.3 60.8l-2.1.9-1.5-1.7 1.2-2 2.2.5 .2 2.3M1.6 59.9l-2 .2M5.3 60.8l 2.1.9 1.7 1.5M51.6 66.5l 1.5-1.7 .9-2.1 .4-2.3M44.3 64.8l .8 2.2 1.9 1.3 2.3.1 1.1-2 1.3-1.9 1.7-1.5-.5-2.3-2.2-.7M22.6 65.4l 2.3 0 2-1.1 1.9-1.2 .4-2.3M1.6 65.8l-.8-2.2 1.2-2-1.2-1.9-2.3-.1-1.5 1.7M9.9 58l 1.4 1.8-1.3 1.9-2.2-.7-.1-2.3 2.2-.8M26.2 59.6l .4-2.3-.7-2.2-1.3-1.9 .8-2.1 1.8-1.4M52.5 57.6l 2 1.1-.4 2.3-2.3.3-1-2.1 1.7-1.6M52.5 57.6l 1.1-2M56.6-1.3l-.8 2.1-2.3-.1-.6-2.2 1.9-1.2 1.8 1.5M53.5.7l-1.3 1.5M56.6 57.7l-.8 2.1-2.3-.1-.6-2.2 1.9-1.2 1.8 1.5M53.5 59.7l-1.3 1.5M55 10.7l-2.2-.6-2.3-.2-2.3-.1-2-1.1-.7-2.2M58.6 7.2l-2.1.9-1.6 1.6M59.3 13.6l-2.2-.8-1.7-1.6-2.1.9-2.3.4-1.7 1.5 .4 2.3M56.5 47.3l-1.1 2-2.3.2-2.1-1-1.1-2-.2-2.3-1.7-1.6-1.6-1.6M55.5 32.1l 1.4 1.8 0 2.3 .2 2.3-1.8 1.4-.3 2.3 1.5 1.7 1.4 1.8 2.3.5M58.3 1.8l-2.1.9-1.5-1.7 1.2-2 2.2.5 .2 2.3M54.6.9l-2 .2M61.7 39.4l .7-2.2-1.7-1.6-2.3-.4-1.3-1.9-.7-2.2-1.6-1.6-2.1-.9-2.3 0M55.2 52l-1.3-1.9-1.7-1.5-.6-2.2M68.5 2.5l-1.2 2-2.1.9-1.6 1.6-2.3-.3-2.3 0-2 1.1-2.1-1M54.9 18.1l-2.1-1 .3-2.3 2.3-.5 1.1 2-1.6 1.7M54.6 6.8l-.8-2.2 1.2-2-1.2-1.9-2.3-.1-1.5 1.7M54.6 27.1l-2.2.8-1.4-1.8 1.3-1.9 2.2.7 0 2.3M51.1 26l-2 0M66.5 36.1l-2.3-.5-2.2.7-1.5 1.7-2.3.4-2.3-.2-2.2-.5-2 1.2-2.1 1M59.6 19.7l-2 1.2-1.2 2-.7 2.2-.5 2.3-2.2.5-1.1 2-2.3 0M55.8 22.2l-1.9 1.2-1.8-1.5 .8-2.1 2.3.1 .6 2.2M53.4 34.6l 1.7-1.6-.4-2.3-.1-2.3-1.6-1.6-2.2-.8-2-1M58.3 60.8l-2.1.9-1.5-1.7 1.2-2 2.2.5 .2 2.3M54.6 59.9l-2 .2M54.6 65.8l-.8-2.2 1.2-2-1.2-1.9-2.3-.1-1.5 1.7" stroke="#8a6450" stroke-width="1.05" fill="none" stroke-linejoin="round"/>
<path d="M-.4 54.4l1.3 1.6M1.1 2l1.4 1.5M1.1 61l1.4 1.5M14.7 3l1.7 1M31.1 8.4l-.2 2M8.1-1.1l1.8-.9M9.4 5.6l-1.8.9M13.7 6.4l-1.9-.7M49.1 11.8l-1 1.7M36.6 6.7l1 1.7M44.9 27.4l-.5-1.9M30.5-.4l1.2-1.6M36.2 40l1.3 1.5M9.3 7.5l2-.4M16.9 53.4l-1.8-.9M33.8 7.5l.3 2M5.4 27.8l-1.9-.6M22.4 18.9l1.8.9M24.7 18.7l-.1-2M32.3 17.6l-.3-2M7.7 49l-.6 1.9M8.1 57.9l1.8-.9M7.9 27.9l-1.1-1.7M42.4 28.1l.1 2M32.3 41.8l-1.7-1.1M50.4 13.7l1.3-1.5M28.1 24.9l2 .4M41.3 45.8l-2 .3M13.4 52.2l-.3-2M14 12.7l.3-2M28.5 6l1.6 1.3M24 10.7l-.3-2M49.2 9.3l.8 1.8M26.5 48.4l.2 2M.1 14.9l-1.5-1.4M26.6 15.5l-2 .4M25.5 17.6l-2-.4M30.1 37.9l1.2 1.6M28.9 23.9l-2-.3M23 51.8l-.7 1.9M10.9 43l1.6 1.2M15.4 9.5l-1.9.7M14.4 44.7l-1.3-1.5M42.9 31l-1.6 1.2M19.9 18.5l-1.1-1.7M23.9 3l1.5-1.4M40.9 8.6l-2-.3M10 2.7l.7 1.9M45.3 21l.8 1.9M9.5 54.6l1.2 1.6M44.3 30.9l1.8.9M41.3 40l1.3 1.6M14.2 45l1.8.8M9.1 36.4l-1.2-1.6M3 38.3l.7-1.9M.8 37.8l0-2M52.6 54.4l1.3 1.6M37.4 34.6l.8 1.8M3.4 22.9l1.9.7M24.8 35.5l-.4 2M38.1 3.5l1.4-1.5M34.8 30.4l2-.2M23.2 17.4l1.7-1M10.7 14.7l2 .3M47.3 34.4l2 0M-.9 22l-1.9.5M21.1 45.9l-1-1.8M50 4l2 .2M49.7 22.4l1.3 1.5M41.6 30.5l-1.3 1.5M46.6 42.8l-.1-2M43.8 49.6l-1.5-1.3M43.3 43.5l1.9-.7M54.1 2l1.4 1.5M41.6 11.3l1.6 1.2M36.2 23.5l2-.4M34.2 6.8l-1.6-1.2M34.1 9.1l-1.8.9M26 9.3l2 .4M30.5 58.6l1.2-1.6M29.5 56.5l1.9-.7M54.1 61l1.4 1.5M46.4 41l-1.4 1.5M53.1 14.9l-1.5-1.4M53.8 37.8l0-2M52.1 22l-1.9.5" stroke="#b85a48" stroke-width="1.05" fill="none"/>
<path d="M-1.5.6h0m.3 1.6h0m.7-3.7h0m.4-.1h0m.6 2.2h0m.3 0h0m.3 1.2h0m.3-.6h0m.3-.5h0m.4 1.8h0m.8-3.7h0m.8-.3h0m1.5.8h0m.2 2.3h0m2.1.9h0m.3-2.9h0m.1 2.3h0m.3-3.2h0m.6 2.2h0m1.2-2.1h0m.1 3.7h0m3.8.1h0m1-2.1h0m0 2.3h0m.8-.5h0m.5-3.6h0m.3 4.1h0m1.3-1.9h0m1.4-1.8h0m1.2.4h0m.7 2.2h0m2.1.9h0m.8.2h0m2.3-2.4h0m.4-2.3h0m.2.9h0m1.2 1.9h0m.2-2.6h0m1 3.3h0m.4-1.5h0m.9-.8h0m2.1 0h0m.2 3.4h0m1.9-2.4h0m1.1-1.4h0m.9.3h0m.7-1.3h0m.3 3.6h0m.3-3.3h0m1 1.2h0m.4 1.9h0m.1-2.3h0m1.1 2h0m3.2-2.4h0m2.3-.5h0m.6 4.3h0m.3-2.9h0m0 2.3h0m2.1.9h0m.9-.6h0m.8-1.4h0m.1-.8h0m.7.4h0m.3 1.6h0m.7-3.7h0m.4-.1h0m.6 2.2h0m.3 0h0m.3 1.2h0m.3-.6h0m.3-.5h0m-56.5 3.1h0m.5 3.5h0m.1-2.1h0m.3 2.8h0m1.1-2.5h0m.3-1.9h0m.4.8h0m.2-1h0m.6 3.2h0m.3-.1h0m1.6 1.4h0m.5-.4h0m1.6-.5h0m.4-.6h0m2.3 0h0m.3-3.2h0m.4.8h0m.2 3.3h0m.1-1.9h0m.9 2.1h0m.3-.7h0m1.6-1.6h0m.1 3.5h0m1.4-2.4h0m.9-1.5h0m.4-.4h0m.7 2.4h0m.3.3h0m.9 1.7h0m.4-4.9h0m1 3.2h0m0-2h0m.5.5h0m1.7-1.2h0m.5 1.6h0m1 .1h0m.5.2h0m.5-1.4h0m1.1.2h0m.7 1.2h0m1.6.4h0m.4-2.3h0m.9-1.1h0m0 4.7h0m.7-2.2h0m.3-1.8h0m.1 3.8h0m.4-3.7h0m.8 4.2h0m.2-2.1h0m.3-1.5h0m.6-.2h0m0 3.8h0m.5-1.5h0m.3.1h0m.1.7h0m.6-2.9h0m1.1 2.7h0m0-3.3h0m.3 2.6h0m.2-.3h0m.5-2.6h0m1-.8h0m.1 3.5h0m.2-.9h0m.1-.4h0m.4 3.3h0m0-1.8h0m.4-2.2h0m1-1h0m.2 2.8h0m.6 2.4h0m.6-.5h0m.2-3.1h0m1.2 3.4h0m.4-2.7h0m1 3h0m.2-1.1h0m.6-4h0m1.2 1.9h0m.1 2.1h0m.3-2.3h0m.4 2.4h0m.4-1.4h0m.7 2.2h0m.3-3.9h0m1.6 3.6h0m.1-2.3h0m.5-.4h0m1.2 2.9h0m.3-4.6h0m.2 1.5h0m.1 1.7h0m.7-3.3h0m.5 3.5h0m.1-2.1h0m.3 2.8h0m1.1-2.5h0m.3-1.9h0m.4.8h0m.2-1h0m.6 3.2h0m.3-.1h0m-56.9 5.8h0m.5-.6h0m.1 2.1h0m.7.9h0m.4-4.9h0m.4 4.8h0m.2-2.7h0m.5-1.1h0m1-1.3h0m.1.9h0m.4 3.7h0m1.5 0h0m.3-1.5h0m2-3.4h0m.2 4.2h0m2.1-4h0m2.1 4.4h0m.2.7h0m.3-4.1h0m0 2.3h0m1.8 1.4h0m.1-.1h0m.6.3h0m.6-1.8h0m.3 0h0m.5 0h0m0 2.2h0m.5-5.3h0m.3 4.9h0m.2-3.4h0m.8.3h0m.4 2.9h0m1.4-.5h0m.7-4.2h0m0 2h0m0-1.4h0m1.2 5h0m.2-3.7h0m.1 2.5h0m.3-2.3h0m1.1 1.5h0m0-3.4h0m.1 4h0m1.9-2.9h0m2 1h0m0-2.1h0m0-.2h0m1.3 4.2h0m0-.1h0m2.3.4h0m1.3-4.7h0m.6 3.4h0m.2 1.2h0m.8-2.2h0m.1-2.3h0m0 1.4h0m.9.8h0m.6-2.2h0m.3.3h0m2.5 5h0m1-4.4h0m1 4.6h0m.3-.3h0m0-2.4h0m.7-2.7h0m.2.2h0m.1 1.4h0m.4.8h0m.1 2.3h0m0-1.3h0m.1-3.1h0m.5 1.7h0m.5.9h0m.3.7h0m.7.4h0m1-1.9h0m.3.6h0m1.3 2.7h0m.4-2.3h0m.9-3.2h0m.1 1.6h0m1.1-1h0m.4 2.6h0m.6-.6h0m.1-2.5h0m.2 1.6h0m.9 2.8h0m.1-3.8h0m.3 3.5h0m.3-.8h0m.5-.6h0m.1 2.1h0m.7.9h0m.4-4.9h0m.4 4.8h0m.2-2.7h0m.5-1.1h0m1-1.3h0m.1.9h0m-55.9 6.5h0m.8 2.6h0m2-1.7h0m.3 1.9h0m1.2-3.6h0m1.3.1h0m1.8 3.2h0m.1-1.8h0m1.6 1.7h0m1.8-3.3h0m.3 2.3h0m.8-1.5h0m.1 1.1h0m.2 2.3h0m.2-4.5h0m.2 2.6h0m.5-2.4h0m.3 4.6h0m.3-2.2h0m.7-1.4h0m.2 3.5h0m.4-4.4h0m0 2.6h0m.2-.4h0m.3-2h0m1 3.8h0m.1-2.7h0m1.2.3h0m.6 1.1h0m.4 1.8h0m.3-4.7h0m1.5 2.5h0m.2 1.1h0m.4-2.3h0m.8 1.8h0m.3 1.9h0m.6-5.6h0m.3 3.5h0m.1 2.1h0m.7-3.6h0m.3 1.2h0m.9 1h0m.3 0h0m0-.8h0m.2.2h0m.4 1.3h0m.2-2.7h0m.8 2.9h0m.3-4.9h0m0 2.8h0m.1 1.7h0m.2-1.3h0m1.9 2.1h0m1.3-3.3h0m.6 2h0m1-3.6h0m.6 1.7h0m1.4-1h0m.2 4.4h0m.4-2.3h0m6-2.2h0m.1 3.2h0m.8-1.1h0m.9-2.7h0m.1 2.3h0m.5-1.7h0m.3 1.6h0m.2.5h0m0 1.8h0m.4-4.9h0m1 4.9h0m.6-3.2h0m1.3-1.9h0m.2 5.1h0m1.1-4.7h0m.6 3.1h0m.9-2.1h0m.7-1.4h0m.2 2.9h0m1.9-1.2h0m.8 2.6h0m2-1.7h0m-56.9 7.9h0m.3-.8h0m.7-3.2h0m.3 2.1h0m.5 2.7h0m1.7-2h0m1.2.3h0m.1-2.9h0m.6.7h0m1.5.2h0m1.5 1.7h0m.8 1.6h0m2.9-3.8h0m1.9-1.2h0m.8 2.6h0m.6 1.2h0m.7-2.9h0m.1-.2h0m.1 3.6h0m2.1-3.4h0m1.5 1.7h0m1.9 1.1h0m.4-1.1h0m.8-.8h0m.2 3.4h0m.2-4.4h0m.9 1.1h0m.2 2.9h0m0-3.7h0m.1 1.6h0m.2.9h0m.2-3.9h0m.2 1.7h0m1 2.4h0m.5-2.2h0m.6-1.1h0m.7 1.8h0m.2 2.7h0m1.7-1.5h0m.2-2.1h0m0 2.1h0m0-.7h0m.1-3.1h0m.4 2.8h0m.5-2h0m.8.9h0m.3-.8h0m0 .3h0m1.1-1h0m.5 4.4h0m.3-2.5h0m.1.2h0m.5 2h0m2.3.2h0m.4-1.3h0m.5-.8h0m.4-1.3h0m3.6.4h0m.2 3.8h0m.1.5h0m.6-2.2h0m.6-.4h0m.2 1.7h0m1.5-1.4h0m0-1h0m.5-2.3h0m.1 4.5h0m.8-3h0m.4.1h0m0-1.8h0m.8 5.3h0m.3-1.4h0m.1.9h0m1-3.1h0m1.1 2.3h0m.2 0h0m.4.1h0m.6-2.6h0m1.1 3.6h0m.3 0h0m.3-.8h0m.7-3.2h0m.3 2.1h0m.5 2.7h0m1.7-2h0m-55.6 2.7h0m.8 1.2h0m.3-.7h0m1.5.6h0m.1-1.4h0m.2 2.5h0m.2 3.5h0m.2-5.7h0m.2 4.8h0m1-1h0m1.9-3.4h0m2.5.1h0m.4 4.3h0m.1-2.3h0m.4 1.6h0m.3-3.8h0m1.1.3h0m.3 1.4h0m.3.8h0m.2-3.1h0m.6 1.9h0m.2 2.3h0m.4-.1h0m1-3.5h0m.3.1h0m1.3-.7h0m.5 2.2h0m2.3-.2h0m1.1 2.2h0m.3-2.3h0m.9.6h0m.9-2.1h0m.4 3.7h0m1.9 1.2h0m.7-4.4h0m.7 3.8h0m.7-.6h0m.7-4.1h0m.3 3.7h0m.4 1.5h0m.1-2.6h0m.6-.8h0m.5 1.5h0m.6-1.1h0m.5-.3h0m.1-.1h0m.5-.1h0m.6 2.2h0m.6-3.7h0m.5 2.4h0m.3 2.3h0m.9-.8h0m.4-2.9h0m.7-.7h0m.2 4.8h0m.7-2.3h0m0-.4h0m.4.7h0m.2 1.4h0m0-3.7h0m1.3 3.1h0m.3.4h0m.4-.7h0m.1-3.4h0m1.1 0h0m.3 3.7h0m.1 1.2h0m.7-5.1h0m1 5.2h0m1.1-2.1h0m.7-2.2h0m.1-.1h0m.1-1h0m.3 3.9h0m0-2.3h0m.4 3.4h0m.6-5.1h0m0 2.3h0m0 1.6h0m.4 0h0m.5-3.5h0m.2.6h0m.4-.4h0m.1 5.2h0m.1-3.8h0m.4 1.2h0m.3-.4h0m.3 1h0m.1-3.8h0m.5 1.1h0m1 2.1h0m0 .1h0m.8-.8h0m.4.3h0m.3-1.2h0m.5-.1h0m0 2.6h0m1.4-3.7h0m.8 1.2h0m.3-.7h0m1.5.6h0m.1-1.4h0m.2 2.5h0m-56.1 9.4h0m0-5.9h0m1.6 1.6h0m.4 3.2h0m2.2.5h0m.8-4.3h0m.3 4.6h0m.1-5.2h0m1.1 5.1h0m.2-3.2h0m2.1 2.9h0m.2-2.5h0m0-1.2h0m.3 3.3h0m.6-.1h0m.4-1.3h0m.4.8h0m.9 1.1h0m.2-5.2h0m.8 2.5h0m.5.8h0m.2-1.6h0m1.5 1.3h0m.3-.7h0m2.3-.2h0m.1 3.8h0m.1-1.5h0m2.3-3h0m2.1 1h0m.3.1h0m1 1.8h0m.2.2h0m.3-3.7h0m.7 0h0m1.4.9h0m.1.8h0m.6 2.5h0m.2-4.9h0m.6 1.3h0m.7-.4h0m.2 1.9h0m.6 1.9h0m.1.3h0m.3-2.5h0m.7-1.1h0m.2-.9h0m1 4.4h0m1.3-3.9h0m3.2 1.1h0m.6-1.1h0m1.3 1.4h0m.1.7h0m0 1.6h0m.8-3.2h0m.8 3.4h0m.2-.4h0m1.6-1h0m.2-2.3h0m.5 2.8h0m1.1-2h0m1.5-1.7h0m.5-.1h0m0 2.3h0m1.3-2.2h0m.9 2.9h0m1.4-1.9h0m1 2.2h0m3.5 2.3h0m0-5.9h0m1.6 1.6h0m.4 3.2h0m-54.7 4.3h0m2.9.2h0m.1-2h0m.2-.3h0m.5-.7h0m1.3-.1h0m.7 3h0m1 .9h0m.7-3.8h0m.7 2.6h0m.8-2.2h0m.6-.4h0m.1 3.8h0m.1-3.9h0m1.8 5.2h0m.1-4.2h0m.2 2.7h0m.6-.6h0m1.3-.7h0m.9 2.7h0m.6.5h0m.2-.3h0m.5-3.8h0m.2-1.3h0m.7 3.9h0m.4-1.9h0m.5 2.9h0m.3-.7h0m.3-4.2h0m1.8 3.3h0m.3-2.3h0m1.8 3.2h0m1.6-1.7h0m.4-.1h0m.3-2.9h0m.9 1.2h0m.2-.2h0m.5.6h0m1.5-.5h0m.6 4.5h0m.2-4.1h0m1.4.3h0m2 1.1h0m.5 2.4h0m.8-2.2h0m0-.4h0m.1 3h0m.5-1.5h0m1.2-2.4h0m.4.2h0m.2 3.7h0m1.2-1.9h0m.3-2.7h0m1.1 1.8h0m.9 2.1h0m.8-3.7h0m.5 3.4h0m1.8-3.6h0m1.4 4h0m.6-.5h0m1.7.6h0m.2.5h0m.7.4h0m.5-4h0m.3 1.8h0m.5.2h0m0 .6h0m.2 1h0m.7-2h0m.6-1.9h0m.3 2.4h0m.1-.1h0m.3.5h0m.4.6h0m.1-4.3h0m.6.7h0m.7 1.7h0m1.1-.3h0m2.9.2h0m-57 5.4h0m.5-1.4h0m.6 2.2h0m.1 1.1h0m.9-.2h0m.8.6h0m.6-.9h0m.2-2.3h0m.7 2.4h0m.7 1.5h0m.4-3.5h0m1.1-1h0m.3-.5h0m.1-.1h0m.8 2.1h0m.4-2.4h0m.1 1.8h0m.5-.2h0m.4-.7h0m0-1h0m.3 2h0m.1-1.9h0m0 3.7h0m.2-.2h0m1.9-.8h0m.1-2h0m1.1 4h0m.7-4.6h0m.6.7h0m1 4h0m1.1-2.8h0m1.6.8h0m1.1 2h0m.6-3.5h0m3.5-.6h0m.6 4h0m.1-.3h0m1.3-1.5h0m.3-1.9h0m.4 2.3h0m.7-1.2h0m.5-2.3h0m.3 3.8h0m.5 1.1h0m.8-1.6h0m.7 1.3h0m.3-1.1h0m1.6.8h0m.1-2.5h0m1.8 4h0m0-2.5h0m1.9-2.1h0m0 .9h0m.9 2.2h0m.1-2.3h0m1.2-1.2h0m3 2.8h0m.2-2.3h0m.2 4.6h0m1.7-5h0m1 .1h0m.4 2.3h0m.9-2.4h0m1.2 3.9h0m.9-.1h0m1.3-.6h0m.3-2.3h0m3.1-.7h0m.4.6h0m1.1 2h0m0-.8h0m.5-1.4h0m.6 2.2h0m.1 1.1h0m.9-.2h0m.8.6h0m.6-.9h0m.2-2.3h0m-56.3 7.7h0m1.3-.2h0m.9 1.2h0m1.2-.3h0m0 1h0m.4-4.3h0m.7 2.2h0m1.1 1.8h0m.5-3.4h0m.3 1h0m.2 2.3h0m.2-1.7h0m.7-2.2h0m.6 1.8h0m0-1.3h0m.7 2.2h0m.5 1.1h0m.7-4.6h0m.4 2.2h0m.8 1.4h0m1.5-1.6h0m1.8 2.8h0m.6-3.7h0m1.7 3.3h0m.2-4.4h0m.2 2.1h0m.3.1h0m.9 2.3h0m.2-2.2h0m.5-1.1h0m.1 1.1h0m1.4-1.2h0m.7 3.7h0m1-2.1h0m2.4-2.1h0m1.5 1.4h0m.8-2.1h0m.9 1.1h0m1.4-1.1h0m.2 2.3h0m.6-.5h0m.5 2.5h0m.3-.3h0m.3 1.4h0m2-1.2h0m1.6-3.4h0m2.2-.5h0m1.9 1.3h0m.1-.1h0m.7 2.2h0m.5 1.2h0m.9-.4h0m.2-1.6h0m1.8.5h0m.1.6h0m.1-2.1h0m1.2-1.3h0m.7 3.9h0m.3-.2h0m0-1.6h0m2.2-2.4h0m.4 1.7h0m.1.6h0m1.1 1.4h0m.5 1.5h0m.1-1.3h0m1.4-2.1h0m.3 1.5h0m.3-2.3h0m.3 4.4h0m.1-1.3h0m.8-.8h0m1.3-.2h0m.9 1.2h0m1.2-.3h0m0 1h0m-56.3 3.4h0m1-2h0m.4-.1h0m.6 2.2h0m.3 0h0m.3 1.2h0m.3-.6h0m.3-.5h0m1.2-2h0m.8-.3h0m1.5.8h0m.2 2.3h0m2.4-2h0m.4-.9h0m.6 2.2h0m1.2-2.1h0m4.8 1.7h0m1.4-1.8h0m1.6 2.2h0m1.4-1.8h0m1.2.4h0m.7 2.2h0m5.2-1.2h0m.4-2.3h0m.2.9h0m1.2 1.9h0m.2-2.6h0m1 3.3h0m.4-1.5h0m.9-.8h0m2.1 0h0m2.1 1h0m1.1-1.4h0m.9.3h0m.7-1.3h0m.3 3.6h0m.3-3.3h0m1 1.2h0m.4 1.9h0m.1-2.3h0m1.1 2h0m3.2-2.4h0m2.3-.5h0m.9 1.4h0m3.8 1.2h0m.1-.8h0m.7.4h0m1-2h0m.4-.1h0m.6 2.2h0m.3 0h0m.3 1.2h0m.3-.6h0m.3-.5h0" stroke="#7e5440" stroke-width="1.45" stroke-linecap="round" fill="none"/>
<path d="M32.5.7h0m18.4 7.4h0m-19.9 11.7h0m-17.6 3.1h0m-14.4 7h0m2.7.9h0m50.3-.9h0m2.7.9h0m-7.7 4h0m-37.6 9.8h0m16.4 10.5h0m19.6 1.8h0m-13 2.7h0" stroke="#a9b6dc" stroke-width="1.45" stroke-linecap="round" fill="none"/>
<path d="M-1.3 2.3h0m.5-.1h0m.4-1.2h0m1 1.8h0m.4 0h0m1.4-2.9h0m1.2.3h0m2.4-1h0m.4-1h0m.2.5h0m.6 1.4h0m1.2-2h0m6.1 1.4h0m.6 2.2h0m.9-1.2h0m.2-.5h0m.2-.2h0m.9 1.6h0m1.3.9h0m3.6-1.7h0m1.3.4h0m3.8 1.7h0m.1-.4h0m1.3-2.2h0m.4 2.3h0m.6.2h0m1.7-4.8h0m3.3 1.5h0m0 2.1h0m1-.5h0m.6-.4h0m.9-2h0m1.4 3.2h0m.1-2h0m0 0h0m1.3.7h0m5.8.4h0m.6-2.5h0m.5 1h0m0 1h0m.8-1.9h0m1 .3h0m0 .1h0m.4 2.5h0m1.1-2.8h0m.2 2.4h0m.8 1.4h0m.5-.1h0m.4-1.2h0m1 1.8h0m.4 0h0m-55.7 5.8h0m.4-4h0m0 0h0m.4-.6h0m.1 1.8h0m.5-2h0m.2 1.1h0m.1 1.9h0m.7-1.6h0m.1 3h0m.2-1.2h0m.2-.2h0m.2 1.1h0m2.6-.3h0m.1-1.3h0m.6.4h0m1-3.5h0m1.8 1.4h0m.6-.2h0m.2-.4h0m.5-.6h0m.4 1.6h0m.2 2.8h0m1.1-3h0m.3 3.7h0m0-4.4h0m2.7 1.1h0m.4-2.1h0m.3-.3h0m1.1 5.5h0m1.5-4.1h0m.5 3h0m0-.8h0m.6-3.1h0m1.1 1.9h0m.1.3h0m1.2-.5h0m.8-.9h0m.2.9h0m.6 2.6h0m1.1-1.6h0m1.5 1.4h0m1.6 1.2h0m.1-3.2h0m.9 1.7h0m1.1-4h0m1.1.5h0m0 5h0m.2-1.1h0m.3-1.8h0m1.7-.2h0m.4-1.8h0m.4 2.1h0m.2 2.8h0m0-4.4h0m.8 2.1h0m.3.9h0m.6-1.8h0m.4.7h0m2-3.2h0m.3 5.4h0m.6-.1h0m.4-.5h0m.7-3.1h0m.8 2.6h0m1 1.5h0m1 0h0m.4-4.7h0m2.4 3.2h0m.7-1h0m0-2.5h0m2.4-.3h0m.3 4.9h0m1.3 0h0m.9-4.3h0m1.3 4.7h0m.4-4h0m0 0h0m.4-.6h0m.1 1.8h0m.5-2h0m.2 1.1h0m.1 1.9h0m.7-1.6h0m.1 3h0m.2-1.2h0m.2-.2h0m.2 1.1h0m-56.4 2.3h0m.8 3.6h0m1.3-.6h0m1.3-3.3h0m.1-.5h0m3 .4h0m6 1.5h0m.9 2.1h0m.1 1.4h0m.6-1.5h0m.3 1.6h0m.3-2.3h0m.6 1.1h0m1.8-2.5h0m.1 3.6h0m.1-5.3h0m1.8.4h0m.4.6h0m.1 1.8h0m1-2.9h0m.6 1.9h0m.7 1.1h0m.1-2.6h0m1.7.4h0m.3 1.2h0m.6 3.2h0m1.4-.4h0m2-3h0m2.1 3.5h0m2.7-2.3h0m.2-1.7h0m2 2.8h0m2.6-2.7h0m.6-.8h0m1.1 1.5h0m.5 2.1h0m.5-4.3h0m1.4 4.5h0m.8-.2h0m.1-1.1h0m1 1.3h0m.2-3.2h0m.7.2h0m1.9-1.4h0m.2 5.1h0m0-.9h0m.5-.4h0m.9.5h0m.3-1.9h0m.3-2.3h0m1.2.1h0m.1 3.4h0m.5-3.8h0m2.6 2.8h0m.3-1.7h0m.8 3.6h0m1.3-.6h0m1.3-3.3h0m.1-.5h0m-53.8 9.8h0m2.3-.8h0m.3.5h0m.1-.9h0m.5 2.1h0m.8-4.3h0m.2-.4h0m.4 3.4h0m.7-1.1h0m.4 1.8h0m3.6-.3h0m.6 1.7h0m0-.5h0m1.3-2.8h0m.3 1.8h0m.2-3.7h0m.1 2.2h0m.7-1.2h0m1 1.3h0m.6.9h0m.1-2.5h0m.7-1h0m.3 3.4h0m1.7 1.7h0m.4-5.4h0m.3 2.4h0m.3.7h0m1.2 2.5h0m.1-.6h0m1.4.3h0m.3-2.3h0m.3.9h0m.8.5h0m.7-2h0m.2-1.5h0m.3 1.7h0m.1.3h0m.2 2.1h0m.9-1.1h0m.7-1.8h0m1.3-.4h0m.4 2.7h0m.4-2.4h0m1.1-1h0m1.2 4.6h0m.4-5h0m2.8.4h0m0 0h0m7.1 2h0m2.3-1.2h0m.1-.1h0m.1 3.4h0m.9-3.6h0m1 2.1h0m.2-3.2h0m.8.8h0m.1 3.5h0m.6-1.3h0m0 0h0m1.2-1h0m.4-2.2h0m1 1h0m1 1.8h0m3.4 1.1h0m-51.6 4.6h0m.4 2.3h0m.2-2.3h0m.7 2.9h0m.3-.3h0m.5-2h0m2.1-.3h0m.9-1h0m.1 3.1h0m.4-5.3h0m1 5.1h0m2.5-4.1h0m.8.6h0m.1-.7h0m.8 1h0m.3.6h0m.3-1.5h0m1.6 4.9h0m1-5.2h0m3.4 3.7h0m1.5.2h0m.2-4.1h0m1.3 3.6h0m.5-2.6h0m.1 1.6h0m.2 2h0m1-4.7h0m.1 2h0m0-2h0m1.1.4h0m2.5.2h0m.5.9h0m1.1 2.5h0m.2-1.6h0m.1-2.3h0m.2 1.8h0m.1 1.4h0m.6-1.1h0m.3 1.8h0m.7-3.8h0m.3 5.1h0m0-3.9h0m0 0h0m.1 3.7h0m.6-4h0m.7 4.3h0m.1-4.3h0m.3 3.9h0m0-4.5h0m.4 2.2h0m.2 2.3h0m1.4-5.5h0m.1 5.7h0m2.3-5.6h0m1.7 2.7h0m.2.5h0m2.9-1.3h0m.4-.6h0m0-.1h0m.7 4.6h0m1.5-.7h0m0-4.3h0m.3 4.6h0m1-3.3h0m.3 1.7h0m1-1.6h0m.1 3.2h0m.4.4h0m.5-.9h0m.8-2.2h0m.5 1.1h0m-51.9 2.3h0m.5 3.3h0m0-1.5h0m1 1.1h0m.2-.1h0m3.9 1.5h0m3.1.6h0m.7-.7h0m.3-1h0m.5-1.4h0m1.3 1.2h0m.4 1h0m.3.5h0m.1-3.1h0m0 3.1h0m0 .8h0m2.1-3.4h0m.1 3h0m.2-.4h0m3.1-1.6h0m.5-.7h0m.3-2.2h0m1.6 5.5h0m.9-2.6h0m1.7-1.1h0m.1-.8h0m.5-1.3h0m.8 4.4h0m.1.7h0m.8-4.6h0m1.6 2.9h0m.6 1.9h0m.2-2h0m.6 1.2h0m.8-.6h0m.3-.4h0m0 .4h0m.4-1.9h0m.1 1.1h0m.1-2.7h0m.6.6h0m.1-.6h0m0 5.4h0m.3-3.6h0m.2 1.3h0m0 1.9h0m.2-1.3h0m.2 0h0m.1 1.3h0m.2-5h0m3.1 3.4h0m.1-.5h0m.5-1.2h0m.9 1h0m0 1.1h0m.2-2.5h0m.2-1.1h0m.4 3.2h0m.8-2.4h0m0-.2h0m1 2.1h0m.2-2.5h0m.1 1.7h0m.3.2h0m.1 2.1h0m.6-1.1h0m.2-1.1h0m3.1.9h0m0-1.6h0m.6 1.3h0m1.2-1.1h0m.1-1.6h0m.2 1.7h0m.5 2h0m.3-.6h0m1.8.1h0m.2-1.2h0m.2-.7h0m.3 1h0m.5.5h0m.5-2.2h0m.4 2h0m.1-2.2h0m2.5-.5h0m.5 3.3h0m0-1.5h0m1 1.1h0m.2-.1h0m-51.2 4.1h0m.3 2.4h0m1.3-1h0m.4 1.6h0m.4-.3h0m.1 1.7h0m.9-4.3h0m.6.4h0m0 .4h0m.3.4h0m.6-1h0m.7-.7h0m.2 2.8h0m1.2 2.2h0m.3-2.5h0m.3 2.1h0m.7-.9h0m0-1.9h0m.1-.2h0m3.9 2.6h0m.1-2.9h0m.9 3.8h0m2.1-3.2h0m1.1 2.6h0m1 .6h0m.6-1.8h0m.8.1h0m2.2.3h0m1-4.4h0m1.1.7h0m.1-.6h0m.1 1.6h0m.1 4h0m0 0h0m0-2.2h0m1.1-1.9h0m0-.3h0m.9-1.1h0m1.7 5.5h0m.5-4.6h0m.6-.5h0m2.5 1.4h0m3.8 2.4h0m.7-2.7h0m.3 1.7h0m1.9-.6h0m1.1-2h0m.7 1.6h0m.5-.8h0m0 2.1h0m.2-1h0m.1-2.1h0m1.8 3.5h0m.6-4.1h0m-42.9 6h0m1.9 1.9h0m2.5 3.6h0m.8-5.5h0m.5 4.5h0m.5-3.2h0m1.3-1.1h0m0 4h0m.2 1.4h0m.5-.5h0m.2-4.3h0m.1 1.3h0m.9.6h0m1.3.2h0m.6-.6h0m2.8 1.6h0m1.2-3.1h0m1.3 1.2h0m.4 3.2h0m2.7-5.1h0m1.4.1h0m.1 4.2h0m1.8-1.4h0m1 1.2h0m.6-4.1h0m.9 3.6h0m1.8 1.7h0m.8.1h0m2.6-3.7h0m1.2 2.1h0m1.1-3.9h0m.9.6h0m.1 2h0m.6-.9h0m.1 3.2h0m.6-4.2h0m.5 1h0m.1-2.1h0m1 3.2h0m5.8 2.1h0m1.9-2.2h0m1.2 2.1h0m2-4.9h0m1.2 1.7h0m.2 2h0m.1.3h0m3.7-4.1h0m-54.8 8.6h0m.1 2.3h0m2.1.9h0m.3-1.8h0m1.1-3.3h0m1.1 5h0m.3-.2h0m1.3-3.6h0m0 .2h0m.2 2.1h0m.2 0h0m.4 1h0m.1-3.9h0m.4 2.1h0m1.3.6h0m.7-2h0m0-1.6h0m.8.5h0m1.3 1.5h0m.4 1.5h0m3.7.5h0m1 .1h0m1.7-1.5h0m.3-.1h0m1.8 2h0m1.9-3.4h0m1.2 3.7h0m1.2-3h0m1 1.6h0m.4 0h0m.1-.7h0m1 .5h0m.9-2.7h0m1.7 3.2h0m3.7-.6h0m.9-1.1h0m0 3.6h0m.2 0h0m2-.8h0m.5.6h0m0-3.2h0m2.3-.4h0m3 3.1h0m.7-4.9h0m.9 0h0m1.3 5.2h0m3.1-5.2h0m1.3 1.8h0m.2-.3h0m.2.8h0m.9 3.1h0m0-2.7h0m2-.1h0m.1 2.3h0m2.1.9h0m-56 5.1h0m0-.9h0m0-3.8h0m.3 4.4h0m.9-4.6h0m.5 3.9h0m0-3.8h0m.5 3.1h0m2 2h0m.3-1.9h0m.1 1.8h0m.4-4h0m.9.2h0m.5-1.1h0m.8 3.3h0m.3-1.4h0m.2 3.2h0m1.2-5h0m3.3 5.6h0m.1-.6h0m.1.2h0m4.5-4.2h0m.5 4.5h0m.2-4.4h0m.6-.9h0m1 2.5h0m1.3 2.5h0m1.7-1.6h0m.2.5h0m.6-.4h0m3.9.7h0m.6-.2h0m2.3.3h0m1.5-3.5h0m.3 1.5h0m.4 1.9h0m0-3.3h0m.6-.4h0m7.8 4.1h0m1.8-3.2h0m2 .9h0m.9 1.6h0m.5-.1h0m1-.7h0m.3-.3h0m.4.2h0m.1-.1h0m0-.1h0m.1-2.5h0m.3 1.1h0m.4 3.2h0m2.6-2.2h0m.4-2.9h0m.6 2.6h0m1.5 2.3h0m0-.9h0m0-3.8h0m.3 4.4h0m.9-4.6h0m.5 3.9h0m0-3.8h0m.5 3.1h0m-54.6 5.8h0m2.8-1h0m1.2.3h0m2.4-1h0m.4-1h0m.2.5h0m.6 1.4h0m1.2-2h0m6.1 1.4h0m.6 2.2h0m.9-1.2h0m.2-.5h0m.2-.2h0m.9 1.6h0m4.9-.8h0m1.3.4h0m5.3-.9h0m2.7-2.2h0m3.3 1.5h0m0 2.1h0m1-.5h0m.6-.4h0m.9-2h0m1.4 3.2h0m.1-2h0m0 0h0m1.3.7h0m5.8.4h0m.6-2.5h0m.5 1h0m0 1h0m.8-1.9h0m1 .3h0m0 .1h0m.4 2.5h0m1.1-2.8h0m.2 2.4h0m1.8.2h0" stroke="#efe6e6" stroke-width="1.5" stroke-linecap="round" fill="none"/>
<path d="M-.1 1.6h0m1.6-1.9h0m1.3 1.1h0m.4 1.8h0m6.7-4.6h0m1.4 2.8h0m10.4 1.7h0m3.7-.9h0m6.3-3.6h0m7.8 4h0m9.4 0h0m4.1-.4h0m1.6-1.9h0m-55.5 4.5h0m1 4.7h0m2.4-5.4h0m5.1 2.6h0m0 .5h0m3-1.9h0m.6 2.5h0m.6-1.3h0m2.5-1.4h0m2.1-.4h0m7.3 4.7h0m3.2-3.3h0m1.5.4h0m.2 2.2h0m1.5-.7h0m1.6-.4h0m.9-1.2h0m5-1h0m.1 3.8h0m1.2-1.1h0m.1 1h0m.1-1.8h0m.3-2.3h0m12.7 0h0m1 4.7h0m-54.4 4.6h0m.1-1.3h0m1.4 1h0m0-2.9h0m2.3 1h0m9.5 2.5h0m1.5-3.6h0m.9.6h0m2.9 0h0m4.1.6h0m6.6-1.7h0m3 .7h0m1.4-.4h0m1.8-.5h0m4.5 2.9h0m3-3.3h0m1.5 3.5h0m.2 2.4h0m3-1.9h0m1.7.4h0m1.2.6h0m.8-2.9h0m0-1.8h0m1.5 4.2h0m.1-1.3h0m1.4 1h0m0-2.9h0m-53.3 6.9h0m4.8 3.8h0m3.2-5.1h0m4.4 3.3h0m.5-4h0m1.9 1.5h0m.3.6h0m4-.3h0m3.7 3.4h0m1.1-3h0m.7 2.6h0m.4-3.9h0m.1.9h0m.3-.3h0m5.7 2.8h0m1.4-3.6h0m.8 3.1h0m6.8 1.7h0m3.8-1.3h0m3.1 0h0m3.2-2.7h0m.5 3.9h0m2.6-3h0m-54.8 6.8h0m2.8-.5h0m4.4.2h0m1.5 2.6h0m4-1.4h0m13.3-.4h0m2.9-.9h0m.3-.8h0m.5-.1h0m2.2 3.3h0m.2-.7h0m4.4-3.3h0m3.7 1.1h0m.6-1.6h0m1.7 2.9h0m3.8 2.5h0m.1-1.2h0m1.7-2.7h0m4.1-.4h0m.9 1.5h0m2.8-.5h0m-54.4 4.4h0m4-.6h0m2.6 2.8h0m1 .1h0m7.4 1.3h0m6.6-2.4h0m2.9 1.4h0m6.1.6h0m2.3-.4h0m.9-1.8h0m3.5 1.5h0m1.8 2.5h0m1.7-.7h0m1 .3h0m1.3-2h0m2.5 1.6h0m.9.8h0m.1-2.6h0m.1 1.8h0m2.1-4.7h0m4.2.7h0m-51.7 8h0m2.9.6h0m.2-.1h0m4.1-1.5h0m16.4 2.8h0m.1-1.6h0m0 1.1h0m2.4-2.4h0m3.9 1.1h0m7.4.7h0m3.8 1.4h0m7.4-3.4h0m4.5 1.3h0m-52.7 5.1h0m2.4 3.1h0m.1.2h0m8.9 0h0m.6-1h0m.7-.5h0m6.4 1.5h0m1.5-4.1h0m1.1 1.9h0m7.3 2.7h0m.5-4h0m.7-1.2h0m1.1 4.6h0m5.1-2.5h0m3.9.6h0m1.2-.6h0m2.4.9h0m.2.4h0m1.3-2.1h0m1.7.8h0m5.9-.8h0m-54.6 5.1h0m4.5 4.6h0m3 .3h0m2.8-2.6h0m3.3 1.9h0m.8-3.2h0m2.1-1.1h0m.2.1h0m3.9 2.1h0m6.6 2.4h0m1.5-3.5h0m11.1-.7h0m3 2.2h0m5-1.5h0m5.2-.8h0m-51.6 10h0m9.3-3.6h0m.5 3.8h0m1.1-2.4h0m3.3-1.2h0m2.2 3.1h0m5-2h0m2.9-2.6h0m6.2 4.7h0m16.3-1.6h0m.5-2.9h0m5.8 4.7h0m-54 4.7h0m1.6-1.9h0m1.3 1.1h0m7.1-2.8h0m1.4 2.8h0m14.1.8h0m6.3-3.6h0m21.2 3.6h0m1.6-1.9h0" stroke="#e2221d" stroke-width="1.45" stroke-linecap="round" fill="none"/></pattern><pattern id="t3" patternUnits="userSpaceOnUse" width="43" height="51"><path d="M-1.1 40.4l 1.6-1.6-.2-2.3-1.7-1.5-2.1.9-2.3.1M.5 25.1l-2.3-.4-.3-2.3 2.1-1 1.6 1.7-1.1 2M.5 25.1l 0 2.3 1 2.1M-6.1 12.5l 2.3.3 2 1.2M14.2-8l .8 2.2 .7 2.2-1.5 1.8-1.6 1.6-2.2-.5M40.6-7.9l-.1 2.3-.7 2.2 1 2.1-.9 2.1 0 2.3 0 2.3M19.3-1.6l 2-1.2 1.8 1.5-.9 2.1-2.3-.2-.5-2.2M32.5-1l-.9 2.1-.5 2.3 .2 2.3-.9 2.1M27.2 35.1l-.9-2.1 1.8-1.5 2 1.2-.5 2.2-2.3.2M27.2 35.1l-2.3.3M41.9 40.4l 1.6-1.6-.2-2.3-1.7-1.5-2.1.9-2.3.1M21.7 24.7l-1.1-2 1.6-1.6 2.1 1-.3 2.3-2.3.4M21.7 24.7l .2 2.3 1.8 1.4M14.2 43l .8 2.2 .7 2.2-1.5 1.8-1.6 1.6-2.2-.5M32.1 26.1l-.6-2.2 1.9-1.2 1.8 1.5-.8 2.1-2.3-.1M33.5 22.6l .1-2M32.1 26.1l-1.1 2-1.6 1.7M6.2 28.7l 1.4 1.8-1.3 1.9-2.2-.7-.1-2.3 2.2-.8M6.2 28.7l .6-2.2-.8-2.2-1.8-1.4M35 34.7l-.3-2.3 2.1-1 1.6 1.6-1.1 2-2.3-.4M35 34.7l-2.2.7-2.2-.8-1.5-1.8M43.5 25.1l-2.3-.4-.3-2.3 2.1-1 1.6 1.7-1.1 2M40.9 22.4l-1.8-.9M43.5 25.1l 0 2.3 1 2.1M40.6 43.1l-.1 2.3-.7 2.2 1 2.1-.9 2.1 0 2.3 0 2.3M13.3 27.8l-1.7-1.6 1-2.1 2.3.3 .4 2.3-2 1.1M12.6 24.1l-1-1.7M7 1.1l 2.3.4 .8 2.2-1.5 1.8-.1 2.3 0 2.3M16.7 41.4l 2.3-.2 1.4-1.8 2.2-.8 2-1.1 2.3.3M19.3 49.4l 2-1.2 1.8 1.5-.9 2.1-2.3-.2-.5-2.2M32.6 34.7l 0 2.3-2.2.7-1.4-1.8 1.3-1.9 2.2.7M32.6 34.7l 1.2-2-.8-2.2M5.9 35.3l-2.3.3-2.3.2-1.4 1.8-2.3.4-1.6-1.6 .8-2.1M36.9 12.5l-.2 2.3-2.2.5-1.2-2 1.5-1.7 2.1.9M34.4 15.3l-.8 1.8M36.9 12.5l 2.3.3 2 1.2M25.3 27.2l-2.1 1-2.3.5-1.8-1.4-2.3-.1M25.3 14.3l .5-2.3 .7-2.2 2.3-.4 .6-2.2M7.8 44.7l-1.2 2-2.2-.5-.2-2.3 2.1-.9 1.5 1.7M7.8 44.7l 2.2-.5M18.8 5.3l 1.9 1.3-.5 2.3 1.1 2-.4 2.3-1.4 1.8M23.9 35l-.8 2.2-2.3-.1-.7-2.2 1.9-1.3 1.8 1.4M20.9 37.1l-1.2 1.6M23.9 35l 1.4-1.8 2.2-.8 1.2-2M36.7 2.7l 1.8 1.4-.8 2.2-2.3-.1-.6-2.2 1.9-1.3M37.8 6.3l 1.1 1.7M36.7 2.7l-.4-2.3-1-2M16.2 23.7l 2.2-.8 1.7 1.6 .3 2.3-.2 2.3-.6 2.2M33.3 9.4l 2.3.3 .4 2.3-2 1.1-1.6-1.6 1-2.1M30.8-1.5l 1.1 2-1.6 1.6-2.1-1 .3-2.3 2.3-.4M2.8 21.8l-.9-2.1 1.6-1.6 1.5-1.7 .1-2.3M14.2 1.3l 1.7-1.5 2 1.2-.5 2.2-2.3.2-.9-2.1M17.9.9l 1.8-.8M14.2 1.3l-1.9 1.3M32.5 50l-.9 2.1-.5 2.3 .2 2.3-.9 2.1M9.6 17.7l-2-1.2 .6-2.2 2.3-.2 .9 2.1-1.8 1.5M8.2 14.2l-1.3-1.5M9.6 17.7l .8 2.1M5.6 8.8l 2.3-.2 2.1-.9 1-2.1 2.2-.5 .7-2.2M7 52.1l 2.3.4 .8 2.2-1.5 1.8-.1 2.3 0 2.3M36.7 53.7l-.4-2.3-1-2M30.8 49.5l 1.1 2-1.6 1.6-2.1-1 .3-2.3 2.3-.4M14.2 52.3l 1.7-1.5 2 1.2-.5 2.2-2.3.2-.9-2.1M17.9 51.9l 1.8-.8M14.2 52.3l-1.9 1.3M48.9 35.3l-2.3.3-2.3.2-1.4 1.8-2.3.4-1.6-1.6 .8-2.1M45.8 21.8l-.9-2.1 1.6-1.6 1.5-1.7 .1-2.3" stroke="#8a6450" stroke-width="1.05" fill="none" stroke-linejoin="round"/>
<path d="M23-1.3l1.9-.5M31.1 3.4l-1.7-1.1M28.1 31.5l-.2-2M22.3 21.1l-.3-2M15 45.2l-1.7 1M6.3 32.5l.7 1.9M36.8 31.4l.3-2M40.5 45.4l-1.9.5M26.8 37.8l.5-1.9M23 49.7l1.9-.5M30.5 37.7l-.6 1.9M4.4 46.1l-1.5 1.3M36 12.1l1.8.9M30.2 2.1l.3 2M13.3 5.2l.6 1.9" stroke="#b85a48" stroke-width="1.05" fill="none"/>
<path d="M7 1.1h0m2.3.4h0m1.1-2.2h0m2 3.3h0m.3-2.8h0m1.6-1.6h0m0 3.1h0m3.7-.4h0m1.3-2.5h0m.5 2.2h0m2.3.2h0m.9-2.1h0m5.2 2.4h0m.3-2.3h0m1.7 3.3h0m.6-3.7h0m1.7.6h0m2.8-.6h0m1 2h0m.4 2.3h0m3.1-1.9h0m.9-2.1h0m-35.2 10.2h0m2.3-.2h0m.6-.9h0m1.5 0h0m0-4.1h0m1 2h0m2.2-.5h0m.7-2.2h0m1.1.4h0m2.3-.2h0m1.3 2.1h0m1.4 3.6h0m.5-2.3h0m8.7.6h0m1.1.6h0m.7-4.4h0m.2 2.3h0m3.6-1.7h0m.6 2.2h0m2.3.1h0m2.1-.9h0m0-2.3h0m-41.8 10.9h0m7 .1h0m3 .2h0m.3-4.2h0m2 4h0m9 .9h0m1.4-1.8h0m.4-2.3h0m4 3.4h0m.5-2.3h0m2.9-2.6h0m3.6 2.1h0m.9 1.8h0m.1-3.8h0m.6 3.7h0m.8-1.6h0m1.2.5h0m.9.4h0m2.3.3h0m2 1.2h0m-39.2 5.7h0m1.6-1.6h0m1.5-1.7h0m4.6 1.4h0m.8 2.1h0m.9-3.6h0m23-.9h0m10.5 4.4h0m-44.9 1.8h0m.5 3.7h0m1.1-2h0m1.2-1.3h0m1.4 1.1h0m1.8 1.4h0m.8 2.2h0m5.9-2.4h0m2.3.3h0m.4 2.3h0m.9-2.9h0m2.2-.8h0m1.7 1.6h0m.3 2.3h0m1.4-2.1h0m.6-3.7h0m1.7 3.3h0m.3-2.3h0m7.8 4h0m1.4-3.5h0m.9 3.6h0m.8-2.1h0m5.6-1.6h0m2.1-1h0m.5 3.7h0m1.1-2h0m-44.1 4.3h0m1 2.1h0m2.6 0h0m.1 2.3h0m2.1-3.1h0m.1 3.7h0m7-4.7h0m5.8-.4h0m.3 4h0m.6-2.2h0m.9-.4h0m.9-1.7h0m1.3 1.2h0m.5.2h0m1.5-1.2h0m2.3 5.2h0m.5-.9h0m.6-1.1h0m.5 2.4h0m.2-3.1h0m.6 3h0m1-4.7h0m2 2.5h0m.8 2.2h0m3-1.3h0m6.7-4h0m1 2.1h0m-44.5 8.1h0m.4-1.1h0m.2 2.3h0m.8-3h0m2.3-.2h0m2.3-.3h0m14.3-.4h0m.7 2.2h0m1.2-3.5h0m.4 5h0m1.4-3.6h0m.6 2.6h0m.4-2.1h0m.5-2.3h0m1.5 4.6h0m.3-2.7h0m1.9.7h0m.4-.9h0m.9-1h0m.1 3.7h0m.2-3.1h0m1.9.1h0m.2.7h0m2.2-.7h0m2.2 1.3h0m.1-.9h0m1.1-2h0m.7 3.3h0m.8-2.1h0m.8 3.8h0m2.3-.4h0m.4-1.1h0m.2 2.3h0m.8-3h0m-45.4 4.6h0m5.3 3.4h0m2.1-.9h0m1.5 1.7h0m2.2-.5h0m4.1-1.1h0m2.4-1.7h0m2.3-.2h0m1.4-1.8h0m20.2 3.7h0m1.3-2.7h0m-37.5 5.6h0m6 4.2h0m2.2.5h0m1.6-1.6h0m.8-4h0m.7 2.2h0m3.6 2h0m3.7.3h0m5.5.1h0m2.3-.4h0m1.7.6h0m2.8-.6h0m4.6-1.8h0m.7-2.2h0m.2 4.3h0m-33.8 2.5h0m2.3.4h0m5-.2h0m3.7-.4h0m1.9-.3h0m2.3.2h0m6 .3h0m8.2-.7h0m3.6.3h0" stroke="#7e5440" stroke-width="1.45" stroke-linecap="round" fill="none"/>
<path d="M10.4 2.8h0m2.1-1.9h0m.4-.7h0m.4 1h0m4.4-2.2h0m.5 2.1h0m.5.9h0m1.1-1.8h0m15.5-1h0m.4 2.3h0m.3-.2h0m.7-1.9h0m1.9.4h0m.9.1h0m-41.1 4.9h0m8.6 4h0m1.3-.4h0m1.2-2.2h0m.3 2.9h0m4.2-4.3h0m1.7-1.2h0m3.2 3h0m2-1.6h0m9.2 3.7h0m.6-3.7h0m2.6-1.7h0m.8 4.5h0m4.8 0h0m2-3.5h0m.6.2h0m-37.3 7.9h0m2.8.1h0m2.2-2.8h0m3.3 5h0m8-4.3h0m.7.9h0m1.1.7h0m8-2.7h0m.4 1.7h0m.6-1h0m1.9 1h0m3.1-.5h0m1.2 1.8h0m.3-1.5h0m.3.2h0m-39.2 4.2h0m1.6 5h0m1.2-2.5h0m1.9-1.7h0m2.7-1.2h0m1.6 2.8h0m.7 1.1h0m9.3-3.3h0m15.6 1.4h0m0 3.5h0m8.2-5.1h0m1.6 5h0m1.2-2.5h0m-45 8h0m.9.9h0m1.4-.7h0m1.2-3.8h0m2 4.1h0m0-.7h0m.6-2.1h0m.1-.2h0m1.1-.6h0m2.7-1.6h0m2.1 1.1h0m7 2.3h0m1.5.6h0m.3-.1h0m.3 1.5h0m.5-1.2h0m2.2-.2h0m1.6.4h0m5.5.5h0m5.6.3h0m0-.7h0m3.1-4.4h0m3.4 4.5h0m.9.9h0m1.4-.7h0m-44.4 4.9h0m1.6-3.2h0m.2 1.8h0m.1-.7h0m.5 1.4h0m2.7-2.5h0m2.1 1.7h0m5.1-.1h0m3.8-1.6h0m3.5 2.4h0m.7-2.7h0m1.4.2h0m1.1 4.7h0m.9-.4h0m.7-4.1h0m4.3 5h0m1-4.6h0m.2 2.1h0m.5 2.6h0m.5-3h0m.6-.5h0m.5-1.8h0m11 3.2h0m-44.1 6.7h0m2.6-2h0m.1-1.4h0m2.2 2.9h0m15.4 1.5h0m1.7-1.3h0m3.2-2.7h0m.2 1.8h0m.8-.7h0m.2 3h0m.3-.4h0m.1-4h0m.4-.5h0m1.7 2.3h0m1.8-3.1h0m.1 3.5h0m1-1.2h0m1.6-1.2h0m.6.5h0m.6 2.1h0m.4-2h0m3 2.1h0m2.4-2.1h0m.4.2h0m2.3 2.7h0m2.6-2h0m-45.8 3.4h0m2.3 1.2h0m3.7 1.5h0m1.9-.4h0m4.7 3.2h0m4.4-.6h0m1.7-4.1h0m22.6-.2h0m1.7-.6h0m2.3 1.2h0m-45.1 5h0m9.8.3h0m.2 0h0m0 3.4h0m3.3-.2h0m1.6-.7h0m3.5 1.9h0m10.4-1.8h0m3.3-.3h0m3.8-.2h0m.1 2.4h0m1.5.1h0m1.7-3.6h0m.2 4h0m.9.1h0m1.4-3.8h0m1.3-1.8h0m-29.8 6.7h0m.4-.7h0m.4 1h0m4.9-.2h0m.5.9h0m1.1-1.8h0m15.9 1.3h0m.3-.2h0" stroke="#efe6e6" stroke-width="1.5" stroke-linecap="round" fill="none"/>
<path d="M15.9-.2h0m9-1.5h0m4.5 4h0m2.1-1.1h0m.3-.6h0m-23.2 4.9h0m5.3 1.6h0m16.6-3h0m8 0h0m-12.1 5.7h0m9.2 0h0m1 5h0m1.2-1.8h0m-30.1 3.5h0m14.3 2.6h0m-23.7 5.6h0m13.4 1.5h0m9-3.5h0m10.9 1.1h0m9.7.9h0m-33.6 5.8h0m9.2-3.3h0m11.1 2.3h0m6.8 2.9h0m2.4-3h0m-38.5 5.5h0m8.3-.6h0m16.2 2.8h0m3.1-4.1h0m1 2.9h0m5.3 1.1h0m6.9-1.2h0m2.1-.9h0m-11.8 4.7h0m-27 7.7h0m3.8-.8h0m6.6-.4h0m2.7 4.6h0m5.3-2.6h0m3.7 1h0m13.7-3.3h0m-7.1 6.2h0m.3-.6h0" stroke="#e2221d" stroke-width="1.45" stroke-linecap="round" fill="none"/></pattern><clipPath id="cpa"><rect x="3" y="2" width="176" height="167"/></clipPath><clipPath id="cpb"><rect x="352" y="5" width="168" height="163"/></clipPath></defs>
<rect width="685" height="539" fill="#fff"/>
<text x="1.2" y="19.3" font-size="18" text-anchor="start" fill="#000" color="#000" class="pl">a</text>
<g clip-path="url(#cpa)"><rect x="28.5" y="25.4" width="121.0" height="118.6" fill="url(#t1)"/><rect x="28.5" y="25.4" width="121.0" height="118.6" fill="url(#t2)" transform="translate(0 0)"/><path d="M113 23.6l-1.9 1.3-1.8-1.4 .8-2.1 2.3.1 .6 2.2M113 23.6l 1.9 1.3M73.8 153.6l-2.1.9-2.3.2-2.3.2-2.1.9-1.2 2-1.7 1.6M22.7 124.7l-.1-2.3 2.1-.8 1.5 1.8-1.2 1.9-2.2-.6M24.7 121.6l .5-1.9M156.5 36.2l-2-1.2 .5-2.2 2.3-.2 .9 2.1-1.7 1.5M29.1 25.5l 1 2.1-1.7 1.6-2-1.1 .4-2.3 2.3-.3M29.1 25.5l 1.2-2 .1-2.3M160.3 100.6l-1.5-1.8-1.5-1.7-.5-2.3-1.9-1.2-2-1.1-2.3-.3M127.2 144.3l-2.3.1-2.1-.9-2.2.7-.6 2.2 .5 2.2-.3 2.3 1.2 2 1.6 1.6M152.4 95.6l-1.9 1.3-1.8-1.4 .8-2.2 2.3.1 .6 2.2M148.7 95.4l-1.9.5M152.4 95.6l 2.1-.9M151.7 51.1l 1.7 1.5 2.2.6 2.2.6 1.6-1.7 2.2.5M20.9 40.7l-.5-2.2 2-1.2 1.7 1.5-.9 2.1-2.3-.2M20.9 40.7l-1.1 2-.1 2.3M26.2 80.7l 1.4-1.8 2.2.8-.1 2.3-2.2.6-1.3-1.9M29.7 79.7l 1.7-1.1M26.2 80.7l-2.3-.2-2.3-.2-2.1.9M153.7 40.7l-1.1 2-1.5 1.7-.5 2.3-2.2.6-1.5-1.7 .1-2.3M65.2 21.4l-.7-2.2 .1-2.3-2.1-1-1.9 1.3-2.1-1M112.6 147.8l-.9-2.1 1.8-1.5 2 1.2-.5 2.2-2.3.2M112.6 147.8l-.2 2.3M151 20.3l 1.7-1.5 2.2.7 2.1.8 2.3.1 1.3-1.9 2.3.4 1.4 1.8M132 20.2l 2.2-.6 1.3 1.9-1.4 1.8-2.2-.8 .1-2.3M29.2 23.8l .3-2.3 2.3-.4 1.1 2-1.6 1.7-2.1-1M31.8 21.1l .9-1.8M29.2 23.8l-2.3.1-2.2.6-1.7 1.5M25 48.8l 1.2-1.9 1-2.1 .3-2.3 1.2-2M24.8 27.1l 2.2-.5 2.1-1 1.8-1.5 .1-2.3 1.9-1.3-.2-2.3-.9-2.1-2.2-.8M157.6 40.9l-1.4 1.8-1.9 1.3-2.2-.5-2.1 1-1.8-1.5-2.2-.6-2.3.4M25.4 64.2l-1.2 2-.2 2.3-1.6 1.7-2.2.6-1.8-1.4-.8-2.2-1.6-1.6 .5-2.2M64.1 24.2l-.7 2.2-1.8 1.4-1.9 1.3-.2 2.3M149.5 27.6l 2.3.4 2.3.4 1.7 1.5 1.8 1.4 2.3.2M154.4 120.3l-2.2-.8-.8-2.1-1.7-1.6-2.1.8-.1 2.3-1.4 1.9M126.3 25l 2.2-.8 1.7-1.5 2.2-.5 2.2-.6 .4-2.3 1.4-1.8 2.3-.3M125.2 18.4l 2.2.6 .1 2.3-2.2.8-1.4-1.8 1.3-1.9M127.4 21.3l 1.7 1.1M125.2 18.4l-1.7-1.6-1.3-1.9 .7-2.2M28 142.8l-1.7-1.5 .9-2.1 2.3.2 .5 2.2-2 1.2M27.2 139.2l-1-1.7M28 142.8l-1.2 2-.5 2.2-.3 2.3M158.8 117.8l 2.1.9 2.2-.8 1.9 1.3 .7 2.2M114.8 146.9l-1.7 1.5 .6 2.2-1.7 1.6-1.8 1.4M156.7 79.2l 1.5-1.8 2-1.1 2.2-.8 1.4-1.8M26.6 143.4l-.2-2.3 2.1-.9 1.5 1.7-1.2 2-2.2-.5M26.6 143.4l-.7 2.2M24.1 79.9l .7 2.2 .8 2.1 1.2 1.9 2.3 0 1.2 2 1.3 1.9 2.3-.3M96.4 21.4l-2.2-.6-.1-2.3 2.1-.8 1.5 1.8-1.2 1.9M94 18.5l-1.7-1.1M96.4 21.4l .1 2.3-.6 2.2-1.2 2M30.3 147l .9-2.1 1.5-1.7-.8-2.2 .7-2.2 2.3-.2M37.8 14.6l 1.6 1.6 2.1-.9 2.3.5 2.3-.3M27.9 103.3l-.1-2.3-1.1-2 1.3-1.9 2.2-.6 2-1 2.2-.7M152.1 124.3l-2.3.1-.8-2.1 1.8-1.5 1.9 1.2-.6 2.2M148.9 122.3l-1.9-.5M152.1 124.3l 1.3 1.9M125.8 147.1l-1.4 1.8-1.2 2-1.6 1.7-2.3-.2-1.9 1.3-1.6 1.7-2.3-.4M83.3 26.1l-1.6-1.7 1.1-2 2.3.4 .3 2.3-2.1 1M82.8 22.4l-.8-1.8M83.3 26.1l-.1 2.3-1.8 1.4M49.8 25.4l-1 2.1-2.3-.1-1-2-2.2-.6-2.2.5M149.9 141.4l-.5 2.2-.2 2.3 .1 2.3-.6 2.2M148.9 85.9l 2.3-.2 .9 2.1-1.8 1.5-1.9-1.2 .6-2.2M152.1 87.8l 1.9.5M153.3 68.6l .5 2.2 1.3 1.9-.5 2.2-2.1 1-2.1.9-1.2 2-1.7 1.5-2.1 1M156 86.7l 1.9-1.2 1-2.1-.5-2.2 .1-2.3-1.5-1.8 .9-2.1 2.3 0 1.2-2M150.4 35.8l 0-2.3 2.2-.7 1.3 1.9-1.4 1.8-2.2-.7M152.6 32.8l .6-1.9M150.4 35.8l-2.3.1M155.1 47.5l-1.6 1.6-.4 2.3 .4 2.3-1.9 1.3-1.8 1.5M72.8 24.8l-1.2 2 .4 2.3 2 1.1 2.1.9 2.1-.8 2.1 1M120.9 20.1l-2.2-.7 0-2.3 2.2-.7 1.4 1.8-1.3 1.9M120.9 20.1l-.1 2.3-.5 2.3M159 109l 1.6 1.6-1.1 2-2.3-.4-.3-2.3 2.1-1M159 109l 1.9-1.3 1.9-1.3M28.2 122l-2.3.1-.8-2.2 1.8-1.4 1.9 1.3-.6 2.2M28.2 122l .9 2.1M29.2 111.5l-1 2.1-2.3-.3-.4-2.3 2-1.1 1.7 1.6M28 59.2l 1.3 1.9 2 1.2 1.4 1.8-.4 2.3-.8 2.2M157.6 77.8l-.1 2.3-2.2.6-1.3-1.9 1.4-1.8 2.1.8M21.9 99.7l-.4 2.3 1.9 1.3 2.1 1 2.2-.7 2 1.1 .8 2.2 2.3.1 2.3.1M153.3 57.9l 2.3.1 1.1-2-.1-2.3 .4-2.3 2.1-1M153.5 110.9l-2.1-.9-1.6-1.6-.2-2.3 2-1.1 1.7-1.5 0-2.3M101.3 24l-2.2.5-1.8 1.4-2.1.8-1.9 1.3-2-1.1-1.8 1.5-2.2-.7M23.9 72.3l 2.2-.5 1.4 1.8 2.2-.5 2.1-.9 2.2-.5 2.1 1M90.5 148.8l 1.1-2 2.3.4 .3 2.3-2.1 1-1.6-1.6M93.8 147.1l 1.4-1.4M90.5 148.8l-2.3-.2M124.3 143.7l 1.6 1.7-1.1 2-2.3-.4-.3-2.3 2.1-1M124.3 143.7l-1.2-2M90.4 144.8l-.9 2.1-2.3-.3-.5-2.3 2-1.1 1.7 1.5M87.1 146.7l-1.3 1.5M90.4 144.8l 1.2-2-.6-2.2 .2-2.3M104.9 146.3l 1.7 1.5 .4 2.3 2.2.7 1.7 1.5 1.7 1.6 .5 2.2 .4 2.3M93.8 145.7l .5-2.2 2.3-.2 .9 2.1-1.8 1.5-2-1.2M93.8 145.7l-2.3 0M100.6 146.1l-2.1.9-2.2.8-2.3.4-2.2-.7-2.2-.7-2.3-.2-1.7-1.5-1.4-1.8M77.3 19.8l .2-2.3 1-2.1 1.7-1.6 2.3 0 2.3.3 1.9-1.3 .6-2.2M26.1 98.6l-1.8-1.5-2.3.3-2.2.5-2.1.9-1.9 1.3-.7 2.2 .3 2.3-2 1.2M26.2 83.2l 1.7 1.5 2.3.4 1.2 1.9-1.2 1.9M57.5 21.8l 1.9-1.3 1.8 1.4-.7 2.2-2.3 0-.7-2.2M61.2 21.9l 1.9-.6M57.5 21.8l-1.4-1.8-.8-2.2-.1-2.3M27.9 96.1l-2.2-.6-1.4-1.8-1.5-1.7-2.2.8-2 1.2-.4 2.3 .4 2.3-.6 2.2M75.2 25l .9-2.1-1.5-1.7-1.7-1.5-1.2-2-2.2-.6-2.3-.1M156.3 64.8l 2.1.8 .1 2.3 2.2.8 2.2.6 .4 2.3 1.6 1.7 2 1.1 1.9-1.2M20.7 59.4l 1 2.1 2.2.8 1.3 1.9 .4 2.3 1.9 1.3 2.2.5M152.6 104.1l-2.3-.1-.6-2.2 1.9-1.2 1.8 1.5-.8 2.1M149.8 101.7l-1.9-.7M152.6 104.1l 1.7 1.6 1.3 1.9M152.2 36.4l-.2-2.3 1.1-2 2.2-.5 2.3-.4M24.8 132.2l 2.3-.3 1 2.1-1.7 1.6-2-1.1 .4-2.3M20 124.9l-2.2-.7-2.3-.1-1.2 1.9-.9 2.1-2.2.6-1.2 1.9 .4 2.3M88.5 23.2l 0 2.3-2.2.7-1.4-1.8 1.3-1.9 2.2.7M86.4 26.2l-.6 1.9M149.8 136.5l-2.2-.5-2.3.3-1.1 2-1.4 1.8-2.1 1-2.3-.4-1.9 1.3M28.1 93.6l 1.9-1.3 2.1-1 2.2.7 1.5 1.8 2.3-.3 1.7 1.5 2.2.5 1.8 1.4M150.2 118.3l-2.2-.5-1.7-1.5-1.9-1.3-1.3-1.9M150.9 59.9l .8-2.2-1.5-1.8-.7-2.2 .8-2.2 1.9-1.3 2.3-.3M58.9 23.1l-.6-2.2 2-1.2 1.8 1.5-.9 2.1-2.3-.2M58.9 23.1l-.6 2.2M29.4 147.2l-2.3 0-2.1-.9-1.8 1.4-2-1.1M48.3 21.8l 1.7-1.6 2.3-.1 1.5 1.7 2.3.1 1.8-1.5M76.3 21.9l .6-2.2 2.3-.1 .8 2.2-1.8 1.4-1.9-1.3M153.8 67.5l-1.9 1.3-1.8-1.4 .8-2.2 2.3.1 .6 2.2M43.6 23.5l-.6-2.2 1.9-1.2 1.8 1.5-.8 2.1-2.3-.1M43.6 23.5l-.3 2.3M23.9 46.3l-.8-2.2 1.6-1.7 2.3-.1 1.4 1.8 1.7 1.5 1.7 1.6 1.5 1.7M158.3 125.5l-.8 2.1-2.3-.1-.6-2.2 1.9-1.3 1.8 1.4M158.3 125.5l 1.4-1.9 2.2-.6M77.4 23.6l-2.3.2-.7 2.2 1.3 1.9 .6 2.2-1.2 2-1.6 1.6-1.3 1.9 .9 2.1M24.8 66.7l 2.3.3 .5 2.3-2 1.1-1.7-1.6 1-2.1M152.8 101.9l-.3 2.3-.6 2.2-1.4 1.8-2.3-.1-2.3-.3-2.3.3M150.1 83.4l 2.3.5 2 1.1 1.9-1.3-.4-2.3-1.7-1.5M57.2 148.7l-1.3-1.9 .3-2.3 1.5-1.8 .9-2.1 1.8-1.4 2.3.4 .7 2.2 .4 2.3M104.3 20.8l .6 2.2 1.4 1.8 .1 2.3 .8 2.2-1.4 1.9-.7 2.2 .9 2.1M71.9 22.5l-2 1-2.2-.7-1.5-1.8-2.3-.1-1.6 1.6-2.1.8M150.6 106.1l-.2-2.3 2.1-.9 1.5 1.7-1.2 2-2.2-.5M152.6 102.9l .5-1.9M18.7 40.3l .7 2.2-.5 2.2-2.2.6-1 2.1-2.2.6M27.2 33.8l 2.2.6 .1 2.3-2.2.8-1.4-1.8 1.3-1.9M27.2 33.8l-1.4-1.8 .4-2.3M17.5 75.9l-1.6 1.6 .1 2.3 2.2.8 2.3.2 1 2-1.5 1.7-.6 2.2M21.8 76.2l-1.4-1.8 1.3-1.9 2.2.6 .1 2.3-2.2.8M28.4 75.6l .9 2.1-1.7 1.5-2-1.2 .5-2.2 2.3-.2M28.4 75.6l 1.8-1.5 1.5-1.8 2.2-.6M66.7 145.5l 1.2 2-1.5 1.7-2.1-.9 .2-2.3 2.2-.5M52.3 144.4l-2.3.1-2.3.4-2.1-.9-2.2.8-1 2.1-1.3 1.9 .5 2.2 1.2 2M154.9 111.5l-1-2.1-1.8-1.4-2.3.1-1.8 1.5-2.2.6M141.8 16.5l .4-2.3 2.3-.3 1 2.1-1.7 1.6-2-1.1M141.8 16.5l-1 2.1 .5 2.2 .5 2.2M43.8 23.5l-2.1.9-1.5-1.8 1.2-2 2.2.6 .2 2.3M40.1 22.6l-2 .1M43.8 23.5l 2.1 1 2.2.7M140.4 24.2l-2.2-.6-.1-2.3 2.1-.8 1.4 1.8-1.3 1.9M34.2 22.1l-.3-2.3-2.2-.8-2.3.2-1.8-1.5M27.9 56.7l 1.9-1.4 2.2-.7 2.3-.3 2-1.1 2.3-.2 2.2.7 2.3.4 2.3.4M82.4 24.9l 2.2-.6 1.6-1.7 2-1.2 2.2.7 2.2.6M150.5 80.6l-2.2-.8-2.3 0-1.8 1.4-.9 2.1-1.4 1.8M154.3 35.4l 1.3 1.9-1.4 1.8-2.2-.8 .1-2.3 2.2-.6M154.1 39.1l .5 1.9M154.3 35.4l-.4-2.3M52 26.7l-1.4-1.9 1.4-1.9 2.2.7 0 2.3-2.2.7M52 26.7l-.7 2.2 .5 2.2 1 2.1M152.2 34.9l-1.4-1.8 1.3-1.9 2.2.7 .1 2.3-2.2.8M152.2 34.9l-1.4 1.9-2 1.2-1.5 1.8M151.6 67.4l-2.3.1-2.2-.7-2.3-.1-2.3.3-1.6-1.7-.8-2.2 .8-2.2M27.5 25.5l-2.3.4-2.3-.4-1.6 1.6-2.2.6-.4 2.3M109.9 24.8l-.7 2.2-.2 2.3 1 2.1-1.1 2-2.3 0M152.1 70.1l-2.3-.1-.9-2.1-.6-2.2-1.6-1.6 .7-2.2 1.9-1.3M152.8 129l-.4 2.3-2.3.3-1-2.1 1.7-1.6 2 1.1M152.8 129l 2-1.2 2.3.5 2.2-.6M25.5 75.6l .2 2.3-2.1.9-1.5-1.7 1.2-2 2.2.5M23.6 78.8l-.4 2M25.5 75.6l 2-1.1 2-1.1M23.2 56.8l 2.1-.9 .1-2.3 1.3-1.9-.5-2.2-1.7-1.5-2.3.2-2.1-1M132.5 20l-2 1.2 0 2.3-2 1.2-.3 2.3M150.7 110.5l 2.2.7 .5 2.2-.4 2.3 .2 2.3 0 2.3 2 1.2 2.3.2M24.7 76.6l 1.8 1.4 2.3-.2 2.1-1 2.3-.2 1.9-1.3 2.1.9-.1 2.3M121.6 26.7l-.4-2.3 2.1-1 1.6 1.6-1 2-2.3-.4M121.6 26.7l-1.9 1.4M21.8 55.5l 1.3-1.9 2.2.7 0 2.3-2.2.7-1.4-1.8M21.8 55.5l-2.2.5M33.8 23.8l-2.2-.6-2.3-.4-1.6-1.7-.8-2.2-1.4-1.9 .6-2.2 1.6-1.7M150.8 62.1l 1.7 1.6 .6 2.2 1.7 1.6 2.1.8M150.4 126.8l .9-2.1-.5-2.3-1.7-1.6-1-2.1 1.5-1.7-.4-2.3M25.6 26.1l 2.3-.4 1 2.1-1.6 1.6-2-1 .4-2.3M28.9 27.8l 2 .3M25.6 26.1l-.3-2.3M139.8 18.7l-2.3.4-2.3 0-1.9-1.3-2.1-.8-1.6 1.7-2.2-.8-2.2-.7M154.1 51.7l-.4 2.3-2.3.3-1-2.1 1.7-1.6 2 1.1M154.1 51.7l 1.3-1.9-.5-2.2M150.9 106.1l-2.2-.7-2.3-.3-2.1 1-1.8 1.5-.1 2.3-2 1.2-.9 2.1M24.4 118.2l-1.6-1.6-1.1-2 0-2.3 .5-2.2-.5-2.3-.4-2.3 .9-2.1-.9-2.1M149.6 111.3l .2 2.3 1.8 1.5 .8 2.2 1.3 1.9-1 2.1-2.2.8M42.3 153.4l-1.4-1.8 1.3-1.9 2.2.7 0 2.3-2.2.8M42.3 153.4l-1.2 1.9 .7 2.2 .1 2.3M28 67.6l 1.2-2-.9-2.1-.8-2.1-2.3-.2-1.4-1.8-2.3 0M154.8 50l-1.4-1.8-1.6-1.7-2.1-.8-1.5-1.7-2-1.1-2.3-.1M57.1 145l 0 2.3 .3 2.3 2.2.8 .4 2.3 .3 2.3-1.1 2 0 2.3-1 2.1M150.3 82.2l-2-1.1 .5-2.3 2.3-.2 .9 2.1-1.7 1.5M148.8 78.8l-1.3-1.5M150.3 82.2l .9 2.1 2.1.9 1.6 1.7M101.1 144.7l-2 1.2-1.9-1.2 .4-2.3-1.6-1.6-2.3-.4-2.1-.8M154.7 139.2l 1.2 2 .8 2.2 2.3.5 1.6 1.6M64.1 22.3l-2.2.6-1.3-1.9 1.4-1.8 2.2.8-.1 2.3M64.1 22.3l 2.2.8 2.2.6M82.1 145.2l-.8-2.2 .2-2.3-.9-2.1-2-1.1-1.3-1.9-1.8-1.5M154.1 109.7l-1.7 1.5-2-1.2 .5-2.2 2.3-.2 .9 2.1M149.7 90.9l-.7-2.2 1.9-1.4 1.9 1.3-.7 2.2-2.3 0M157.6 94.5l 1 2.1-.9 2.1-2.1.9-1.6 1.6M28.7 27l-1.8 1.4-1.9-1.3 .7-2.2 2.3 0 .7 2.2M24.9 27.1l-1.9.6M28.7 27l 2.3-.3M27.3 80.6l 0-2.3 .2-2.3 .6-2.2-1.2-2 1.3-1.9 2.3.4 2.2.8M133.8 148.2l-2.2-.8 .1-2.3 2.2-.6 1.3 1.9-1.4 1.8M133.8 148.2l 1.5 1.8 .4 2.3-.4 2.3M23.9 37.2l 1.4-1.9 2.2.7 0 2.3-2.2.7-1.4-1.9M23.9 37.2l-2-1.1-1.2-2M25.9 123.2l-1.7-1.6-2.3.3-1.7-1.5 .4-2.3-.7-2.2M77.8 146.2l 1.1 2 2.3.2 1.8 1.4 1 2.1 2 1.1M141.6 13.9l-2.2.5-.8 2.2-1.3 1.9 1.1 2 2.3.2 2.3-.4M146.8 146.6l 2.3-.3 1 2.1-1.7 1.6-2-1.1 .5-2.3M146.8 146.6l-.9-2.1M20 62.6l-.7 2.2-2.3.1-.8-2.2 1.8-1.4 1.9 1.3M26.6 138l 2-1.1 2.3.4 2.2-.5 1.7-1.6 2.1-.9 .5-2.2 1.1-2M144.8 22.5l 1.6 1.6-.6 2.2-2.3.4-2.3.2-1.9 1.3 .2 2.3 .7 2.2 1.9 1.3M70.6 148.3l-2.2-.5-.2-2.3 2.1-.9 1.5 1.8-1.2 2M20.4 107.3l .3-2.3 2.3-.4 1.1 2-1.6 1.7-2.1-1M23 104.6l .9-1.8M20.4 107.3l-.9 2.1-.3 2.3-1.8 1.4M79.4 26.6l-2.2-.5-.2-2.3 2.1-.9 1.5 1.7-1.2 2M79.4 26.6l .2 2.3 .2 2.3 .3 2.3M18.6 137.2l 1.5 1.7 2.2-.7 2.3 0 2.3-.1 1.5 1.8M63.4 24l-1.7 1.6-2.1.9-2.2.7-2.3.4-1.7-1.5M48.2 152.2l-1.2 2-1.1 2-2.3 0-1.2 1.9-2 1.2-2.3.3-1.8 1.5M28.5 138l 1.8 1.4-.8 2.2-2.3-.1-.7-2.2 1.9-1.3M29.6 141.6l 1.1 1.6M28.5 138l-1.2-2-1.4-1.8M24.9 42.1l .6 2.2 1.5 1.8 1.7 1.6 1.9 1.3 2.1.9 0 2.3 1.2 2-.6 2.2M26.1 115.1l-1.7-1.5 .9-2.1 2.3.2 .5 2.2-2 1.2M25.3 111.5l-1-1.7M26.1 115.1l-1.5 1.8 .2 2.3 .1 2.3M66.4 15.1l-.5 2.2-2.3.2-.9-2.1 1.7-1.5 2 1.2M59 14.2l-2.2-.6-.1-2.3 2.2-.8 1.4 1.8-1.3 1.9M59 14.2l 1.7 1.5 2.1.9 2 1.2M64.2 11.2l-2 1.2-1.8-1.5 .9-2.1 2.3.2 .6 2.2M64.2 11.2l 2.3.4 2.3-.3M61.5 6.3l 1.1 2-1.6 1.6-2.1-1 .3-2.3 2.3-.4M61.5 6.3l 1.3-1.9M62.4 8.8l .3 2.3-.6 2.2-1.7 1.5-1.8 1.4-1.5 1.8M65.2 12.1l .2 2.3-.2 2.3 .7 2.2-1.4 1.8-.7 2.2M67.8 16.9l-1.6-1.7 .2-2.3 .2-2.3-1.6-1.6-.9-2.1 1.3-1.9 .9-2.1M60.1 15.7l 1.8 1.5 1.6 1.7 2.3.3 2.3.4 2.3.2 2 1.1 2.3-.4 2.2-.6 1.6 1.6M66 10.2l-2.3-.2-1.2-2 .2-2.3-1.5-1.8-.7-2.2-2.3-.3M60 16.1l-1.6 1.7-2.1-1 .3-2.3 2.3-.4 1.1 2M129.4 13.5l 2 1.2 .4 2.3-1.9 1.3-2.3-.2-1.8-1.5-.8-2.1M124.7 4.7l 1.7 1.5-.9 2.1-2.3-.2-.5-2.2 2-1.2M125.5 8.3l 1 1.7M124.7 4.7l-.4-2.3 1.3-1.9-.5-2.2M121.1 5.4l 1.9 1.3-.7 2.2-2.3 0-.8-2.2 1.8-1.4M122.3 8.9l 1.2 1.6M125 4.3l 1.9-1.2 2.1-.9 .7-2.2-1.4-1.8-.7-2.2M127.5 1.8l 2.3-.4 1 2-1.6 1.6-2-1 .4-2.3M127.5 1.8l-1.2-2M129.1 6.6l-.7-2.2 1.9-1.3 1.9 1.4-.7 2.2-2.3 0M130.2 3l 0-2M129.1 6.6l .1 2.3M127.3 10.7l-1.7 1.6-2-1.1 .4-2.3 2.3-.3 1 2.1M127.3 10.7l 1.9-1.2M127.5 7.7l-1.1 2-2.3-.4-.3-2.3 2.1-1 1.6 1.6M124.2 9.4l-1.4 1.4M127.5 7.7l 1.6-1.7 1.6-1.6M126.5 4.5l 2.3-.5 1.1 2-1.5 1.7-2.1-.9 .2-2.3M129.8 15l 2.2-.5 1.2 2-1.5 1.7-2.1-.9 .2-2.3M133.3 16.5l 2 .2M129.8 15l-2.3-.2-2.3.2M121.5 14.5l 1.7 1.6-.5 2.3-2.1.9-2.1-1-2.1.9-2.2.8-2.2-.7-2.1-1M85.2 19.9l 1.7 1.6 .2 2.3 .7 2.2 1.5 1.8 1.5 1.7-.1 2.3-2.1 1M86 13.7l 1.8 1.4-.8 2.2-2.3 0-.7-2.2 1.9-1.3M86 13.7l 1.2-2-.8-2.2M85 16.2l 2.1 1 2.2.5 2.1.9 .1 2.3-2 1.1-1.9 1.2-2.2-.6-1.8-1.4-2.1.9M7.3 67.8l-1.8-1.4 .7-2.2 2.3 0 .7 2.2-1.9 1.3M7.3 67.8l 1.6 1.6-.1 2.3M10.1 66.1l-.8 2.1-.1 2.3 .7 2.2 1.9 1.2-.4 2.3-2.2.7-1.5 1.7M14.8 77.8l-2.3-.5-2.1.9-2.2.7-2.3.2-2.3-.1M8.6 76.5l .2 2.3-.9 2.1-2 1.1-2.2.8-1.9-1.4-.8-2.2-.7-2.2M18.4 69.1l-2.1-1-.1-2.3-1.3-1.9-.7-2.2-1.3-1.9-.5-2.2M14 70.2l-1.4 1.8-.3 2.3 .3 2.3 1.4 1.8 2.2-.5 2-1.2M155.6 46.3l 0-2.3-2-1.1-2.3-.1-2.1.9-2.3.3M163.1 39.5l 2.1.9-.2 2.3-2.2.5-1.2-2 1.5-1.7M163.1 39.5l .6-2.2 2-1.1M165.2 41.3l-1.7 1.5-2-1.2 .5-2.2 2.3-.2 .9 2.1M165.2 41.3l 1.8 1.5 1.9 1.2 1.3 1.9M163.7 42.4l 0 2.3-2.2.7-1.4-1.9 1.3-1.9 2.2.7M161.5 45.4l-.6 1.9M163.7 42.4l .4-2.3 1.2-2 .9-2.1M155.9 49.4l-2.3-.1-2.3 0-1 2.1 .6 2.2 2.2.8 1.7 1.5 1.9 1.3 2.3-.1 2.2-.5M164.7 127.4l 1.9-1.3 1.8 1.4-.8 2.2-2.3-.1-.6-2.2M168.4 127.6l 1.9-.6M164.7 127.4l-2.2-.6-1.7-1.5-2.1-.9M159.3 129.7l 1.2 2 1.5 1.7-.6 2.2-1.1 2-2.2.6-1.5 1.8M165.5 130.8l .7-2.2 2.3 0 .7 2.2-1.9 1.3-1.8-1.4M165.5 130.8l-2.3-.2-2.2.5M158.9 126.9l 2.1 1 1.1 2-1.4 1.8-2.3.4-2.3.1M160 124.4l 1.5 1.8-1.2 1.9-2.2-.6-.2-2.3 2.1-.9M160 124.4l-.5-2.2M168.2 133.5l-1.7 1.6-2.3.2-1.5 1.7-2.2.6-1.5-1.8-2.2-.6-.9-2.1M159.1 160.8l-1.2 2 .9 2.1 .5 2.2 2 1.2 1.1 2 2.2.6 1.7-1.5 2.3.3 .8 2.2M156.2 156.1l .5-2.2-1.4-1.8-.9-2.1 1-2.1-.6-2.2-1.4-1.9-.4-2.3M164.3 151.5l-.3 2.3-2.3.4-1.1-2 1.6-1.7 2.1 1M159.8 155l-2.2.6-1.3-1.9 1.4-1.8 2.2.8-.1 2.3M156.3 153.7l-2-.1M159.8 155l 2.3.3M162 155.5l-.3-2.3 2.1-1 1.6 1.7-1.1 2-2.3-.4M162 155.5l .1 2.3M77.5 153l-.6 2.2-2.1.9-1.8-1.4 0-2.3 .8-2.2 2.1-1 2.3-.4M73.9 154l-2.1-.8 0-2.3 2-1.2 1.7-1.6 1.5-1.7-.9-2.1-.7-2.2-.8-2.1M75.7 152.2l 1.3 1.9 1.3 1.9 2 1.1 1.9 1.2 2-1.2-.1-2.3 .5-2.3-.4-2.3M78.3 149.4l 1.6 1.7 1.4 1.8 1.7 1.5 .5 2.2 1.6 1.6 2.2.8 2 1.2M120.3 152l .2 2.3 1.9 1.3 2.3-.4 1.9 1.4-.3 2.3 .4 2.3-1.9 1.3-1.2 2M118.7 152.3l .6-2.2 2.1-.9 1.5-1.8 .1-2.3-1.6-1.6-.4-2.3-1.9-1.3-2.1-1M122.7 153.2l-1.7 1.5-2-1.2 .5-2.2 2.3-.2 .9 2.1M120.4 148.7l 1.9 1.3-.7 2.2-2.3.1-.8-2.2 1.8-1.4M121.7 152.2l 1.2 1.6M120.4 148.7l .9-2.1-.5-2.2 .1-2.3M22.7 117.8l-2.2-.5-.2-2.3 2.1-.9 1.5 1.7-1.2 2M22.7 117.8l 1.1 2 1.9 1.2 1 2.1M19.4 113.4l 1 2.1 1.3 1.9 2.2.7 2.3-.1 1.9-1.4 0-2.3M19.3 116.9l 1.9 1.3 1.2 2 1.8 1.4 1.4 1.8 1.9 1.3M19.7 121l 1.7 1.6-1 2.1-2.3-.3-.4-2.3 2-1.1M19.7 121l-1.1-2" stroke="#8a6450" stroke-width="1.05" fill="none" stroke-linejoin="round"/>
<path d="M109.3 23.4l-1.9.5M155 32.8l-1.3-1.5M28.4 29.1l.3 2M150.6 92.3l-.3 2M22.3 37.3l.2-2M146.9 43.2l2-.2M64.5 19.2l-2 .3M113.5 144.2l-.2-2M135.5 21.4l2 .1M27.3 44.8l-2-.2M28.8 40.5l2 .2M29.1 25.6l.7 1.9M148.2 43.1l-1.1 1.7M24 68.5l-2-.3M59.5 31.4l2 .1M138.8 17.3l.3-2M165.7 121.4l-1.9.5M28.5 140.2l.4-2M29.1 86.2l-.3-2M31.1 144.8l-1.7-1M32.6 138.7l1.9.6M27.8 101l-2-.3M45.5 25.3l1.1-1.7M147.5 80.4l-.7-1.9M153.1 51.4l-2 0M78.3 30.2l1.3 1.5M118.7 17.1l-1.6-1.2M159.6 112.6l.9 1.8M25.1 119.9l-1.9-.6M26 113.3l-1.4 1.5M155.3 80.7l-.7 1.9M35.1 106.9l-.6 1.9M151.5 105.1l1.2 1.6M93.2 28.1l1.4 1.4M91.2 27l1.2-1.6M87.2 27.7l.3-2M26.2 71.8l.5 1.9M124.8 147.4l.9 1.8M96.6 143.3l1.1-1.7M98.5 147l-1.1-1.7M91.8 147.6l.4-2M82.5 13.8l.3-2M15.8 100.2l-1.5-1.3M72.9 19.7l1.7-1.1M28 134l2 .4M14.3 126l-1.7-1.1M9.9 130.7l1.5 1.3M38 93.6l-.8-1.8M42 95.6l1.4-1.5M148 117.8l.2-2M146.3 116.3l.5-1.9M60.3 19.7l.1-2M23.2 147.8l-1.8-.9M79.2 19.6l1.1-1.7M150.1 67.3l-1.9.5M44.9 20l.1-2M155.2 127.5l-1.3 1.6M72.2 35.6l1.9.6M27.6 69.2l1.8.8M150.5 108.2l.7 1.9M29.5 36.7l1.7 1.1M21.7 72.5l-.7-1.9M27.7 79.3l.2 2M66.4 149.2l.4 2M144.4 13.9l.9-1.8M138 21.3l-1.7-1.1M52 23l-.6-1.9M152.1 31.2l-.7-1.9M25.2 25.9l.3 2M150.1 131.6l-.9 1.8M123.3 23.3l.3-2M25.3 54.3l1.6-1.2M27.7 21.1l1.9-.7M133.3 17.9l.3-2M127.5 17.9l-.8 1.8M151.5 54.3l-.9 1.8M42.3 149.7l-.7-1.9M59.2 157l1.9.7M59.2 159.3l-1.9-.6M60.6 21l-2-.1M150.4 110l-1.8.8M150.9 87.4l0-2M27.4 76l-1.8-.9M131.7 145.1l-1.6-1.2M27.5 36.1l1.6-1.2M20.3 120.4l.8-1.8M150 148.4l2 .4M17 64.9l-1.1 1.6M36.9 134.4l1.5 1.3M139.6 30.5l2 .1M142.2 34l1.7-1.1M68.2 145.5l-1.7-1M76.9 23.8l-1.7-1M28.4 139.8l1.5-1.3M42.4 158.1l-2-.3M28.7 47.6l1-1.7M32.7 49.9l.3 2M33.9 54.1l2-.3M63.6 17.6l-1 1.7M56.7 11.3l-1.7-1.1M60.5 11l-1.9.5M61 10l.3 2M65.4 14.4l-1.9-.5M64 6.9l1.4-1.4M62.8 5.8l2-.3M56.3 16.8l-1.8 1M129.9 18.3l-1.8-.9M127.6 18.1l-.3 2M130.8 3.5l2 .3M123.6 11.2l-1.8.8M129.9 6l2 .2M123.2 16l-1.6 1.2M120.7 19.2l-1.4-1.4M110.1 18.2l1.1-1.7M87.1 17.2l1.1 1.6M6.2 64.2l-1.2-1.6M165 42.7l1.5 1.3M161.5 41.6l-1.8.8M168.6 128.7l1.2-1.6M160.2 128.1l.7 1.9M168.7 169.7l-.3-2M155.3 147.9l-1.1-1.7M161.7 154.2l-.9 1.8M163.8 152.2l.4-2M72.9 152.5l1.8-.9M83.6 156.6l1.8-.9M119 153.5l-1.8.8M20.3 115l-1.7-1M21.6 117.4l-1 1.7M20.4 124.7l1 1.8" stroke="#b85a48" stroke-width="1.05" fill="none"/>
<path d="M58.3 1.5h0m2.3.3h0m5.6 1.1h0m58.2-.5h0m.8-4.1h0m.5 2.2h0m.6-.7h0m1.2 2h0m.8-3.6h0m.7 4h0m.7-2.2h0m-70.8 9h0m.3-2.3h0m2-2.7h0m0 4.9h0m.2-2.5h0m.9 2.5h0m.4-3h0m.1-1.3h0m1.2 2.5h0m1.3-1.9h0m53.9 1.8h0m.8 2.2h0m1.1-3.6h0m1.2 3.5h0m.5-3.1h0m.5 2.2h0m.6-1h0m.2 1.8h0m.7-4.3h0m.3-.4h0m.6 4h0m.4-2.2h0m.4.7h0m0 1.9h0m.2-4.2h0m.4-1.4h0m.2 1h0m.4 3.7h0m.9 0h0m.7-1.1h0m0-.5h0m.1 2.8h0m0-3.8h0m.8.9h0m.3-3h0m.5 1.4h0m.1-.9h0m.6 3.1h0m.7-2.2h0m-106 10.5h0m1.6-1.7h0m10.2 1.4h0m18.8-.1h0m.1-3.2h0m2.2 2.8h0m0-3.6h0m.1 3.7h0m1.3.5h0m0-2.4h0m.2-1.4h0m.5-1h0m1 3.3h0m.6-2.2h0m1-2.1h0m.1 1h0m.4 1.2h0m.2 2.7h0m.5-4.9h0m.2 3h0m.2 2.3h0m.6-4.2h0m.3 2.7h0m.1-1.4h0m2.3-.3h0m11.4 2.6h0m2.3 0h0m1.7 1.2h0m.6-.8h0m1.3-.5h0m.4-4.2h0m.3 3.4h0m.5-1.2h0m.1-1h0m34.2 3.8h0m.7.4h0m.7-2.2h0m.7-1.5h0m.6-1.8h0m.8 5.1h0m2.3-3.8h0m.3 4.1h0m1.7-5.3h0m.1 4h0m.5 1.5h0m1.5-.3h0m10.3-.8h0m2.8 0h0m-118.9 3.3h0m1.4 1.9h0m.7-1.2h0m1.8 1.5h0m.2-3.9h0m2.1 3.7h0m.1-3h0m.9 2.1h0m.2 2.3h0m6.5-4.2h0m1.9 4.4h0m.2-5.2h0m3.3 4.6h0m1.2-4.4h0m3.9 4.6h0m2.3-.1h0m2.9-4.6h0m.1 2.3h0m.8 2.2h0m.2-3.2h0m.7 1.1h0m.9 2.4h0m.6-4.2h0m0 0h0m1.5-.1h0m.2-.4h0m.2 4h0m.4-3.9h0m1.2 1.4h0m.1 2.1h0m.5-3.3h0m.2-.4h0m.1 1.2h0m.7 2.2h0m.1-1.3h0m.3 3.3h0m.3-.8h0m.3-.8h0m0 1.5h0m0-3.8h0m.2 1h0m1 1.2h0m.1-.3h0m.3 2.2h0m0-5.8h0m.2-.1h0m.8 1.8h0m.6-.1h0m.2 2.7h0m2.3.2h0m1.4-2.1h0m.6 3.2h0m.6-1.3h0m3.9.4h0m.5-.2h0m.2-2.3h0m1.7 2h0m5.6-2.4h0m.2-1h0m.2 3.7h0m1.9-2.8h0m0 .1h0m2.2.4h0m2.1.9h0m.1 2.3h0m2.5-2.4h0m2.1-.8h0m1.5 1.8h0m6.6 1.3h0m5.8-2.5h0m2.1 1h0m2.2.7h0m2.2-.8h0m2.1-.9h0m.1-1.1h0m2 2.1h0m.1-2.8h0m0 3.7h0m1.3-1.9h0m.6.1h0m.5-2.3h0m.2.8h0m.4 3.5h0m1.3-1.9h0m.1-3.3h0m0 2.2h0m.5-.6h0m1.6 1.3h0m.1.2h0m2-.8h0m0 1.4h0m.2-.4h0m1.9-.1h0m0-1.2h0m.3 3.2h0m.5-.2h0m.7-3.5h0m.1 1.4h0m1.7 1.5h0m.2-.3h0m1.2-1.5h0m.7.8h0m.4.7h0m.7 1.4h0m.3-3.9h0m.2.8h0m1.1 1.4h0m.3 1.8h0m.4.1h0m.1-2.1h0m.5 2.2h0m.5-4.3h0m1.1 3.8h0m.9-2.7h0m1.7-1.6h0m5.6 4.3h0m1.7-1.5h0m2.2.7h0m2.1.8h0m2.3.1h0m1.3-1.9h0m2.3.4h0m1.4 1.8h0m-141.5 4.8h0m0 .4h0m1.7-1.5h0m.5 1.5h0m.1-2.1h0m.3 2.3h0m0-1.2h0m1.1.9h0m.2-1.9h0m.1 2.7h0m.4-1h0m.2-4.4h0m.2 3.7h0m1.1.6h0m.1.1h0m.1-1.8h0m0-1h0m.9.7h0m.1-2.3h0m.6 2.9h0m0 2.7h0m.1-5h0m.3 3h0m.2-1.6h0m.3-2.1h0m1.1 2h0m.9.7h0m.4-1.7h0m6 .5h0m.9 2.7h0m2.2.4h0m0-1h0m.3-1.3h0m0-2.3h0m.2 2.3h0m1.7 1.9h0m.4-.9h0m0-.8h0m.8-2.1h0m1.3 3.7h0m.3-3.4h0m1.5 3.6h0m2.3 1.4h0m0-3.7h0m1.4 3.1h0m.8-.1h0m0-2.3h0m1.9-1.9h0m1.3 0h0m.7 2.2h0m.1 1.4h0m.6-2.2h0m.7 3.3h0m.5-3.1h0m.3.7h0m.1-3h0m.6 2.3h0m0-1.5h0m.5 3.7h0m.4-4.4h0m.2 1.3h0m1.1 1.5h0m0 2.4h0m.7-4h0m.1 1.8h0m1.1-2.8h0m1 1.7h0m1.4-.3h0m.8.9h0m1.4-.2h0m1.8 3.3h0m.3-4.3h0m1 2.4h0m1.5 1.2h0m.3-4.9h0m.4 2.7h0m.1 1.1h0m.9-2.1h0m.1-1h0m.6 2h0m.5-.2h0m.8-.5h0m.3-1.5h0m.5 1.3h0m.4 3.7h0m.6-4.9h0m.5 2.9h0m.9-2.6h0m.9 2.8h0m.4-2.4h0m.5 3.7h0m1.4-1.9h0m.4.1h0m.1-1.5h0m.3 2.3h0m0-2.6h0m.8 0h0m.1-.1h0m.1 3.7h0m.5-4.7h0m.2 2.3h0m.7 2.2h0m.7-2.8h0m1-1.2h0m.8.2h0m2.2.6h0m2.5 4.1h0m.8-.9h0m.5-4.5h0m.1 2.3h0m.7 2.3h0m1.8-1.4h0m2.2-.5h0m3.6-1h0m1.4 1.8h0m3 2.2h0m0-3.6h0m.6 1.4h0m.2-3.5h0m2.3.1h0m.6 2.2h0m1.9 1.3h0m5.4-.2h0m.5-2.3h0m.8 4.3h0m1.7-3.3h0m1.6 1.6h0m.4-2.9h0m1 3h0m1.1-3.7h0m.9 5.6h0m.2-2.6h0m.1.3h0m1.6-1.9h0m.4.7h0m1.4-1h0m.5-.2h0m1.7 1h0m.5-1.6h0m.9-.2h0m2.5-.1h0m2.3 2.9h0m.9 2.7h0m.4-4.6h0m.1.7h0m1.8 3.7h0m1.3-4.2h0m1.6 1.6h0m-127.7 5.8h0m.4-2.3h0m2.2-.6h0m3.5-.1h0m.1 0h0m.3 1.3h0m.5 3.6h0m.4-2.3h0m.1-1.7h0m.9 1.4h0m1.1-.3h0m.3-2.1h0m.3.8h0m17.6-.4h0m4.8 1.6h0m.5 2.2h0m3.3-3.5h0m2.3-.4h0m2.1 4.1h0m2-3.6h0m10.5 1.3h0m2 1.1h0m1 2h0m.6-4.2h0m.5 3.1h0m.1-.9h0m2 0h0m1.2-1.3h0m.2 2.3h0m.6 0h0m.9-1.3h0m1.8-1.4h0m4.1-.7h0m2 0h0m.1.7h0m1.3 3.3h0m.1-2.3h0m.4-2.5h0m2 1.1h0m1.5-.2h0m11.1 3.2h0m.6-4h0m.8 2.2h0m12.6-1.2h0m4.1-1h0m15.8 3.5h0m.7 2.2h0m9.3-5.1h0m2.3.4h0m.3 3.2h0m.5 1.7h0m.5-.8h0m1-3.7h0m.2 3.4h0m.7.9h0m.3-1.2h0m.5-1.6h0m1.5 2.6h0m.3-1.3h0m0 .1h0m2.3.2h0m-139.2 2.6h0m1.2 2h0m.4 1.1h0m1.6 0h0m.1 1.5h0m1.9-3.1h0m1.3-1.9h0m.1 3.7h0m.1.9h0m0-2.3h0m2 .6h0m23.3-3.4h0m19.4 2.4h0m.9 2.1h0m.4-4h0m6.7-.3h0m25.9 2h0m.6-2h0m35.5.6h0m5.9 1.9h0m.7 2h0m1.6-2.1h0m.4.9h0m1.2 1.6h0m.1-2.3h0m.1-1.1h0m.1 1.5h0m.3.2h0m1.3-3.4h0m.1 1.5h0m.4.7h0m0-1.3h0m2.2 2h0m1.7-1.5h0m5.4 2.6h0m1.6.9h0m.4-2h0m.5-.1h0m-147.4 4.3h0m.7 2.2h0m.3 2.5h0m.1-2.3h0m1.1-2h0m2.2 3.4h0m.1-3.2h0m1.5 1.6h0m.2-.3h0m.4-3h0m2 5.7h0m.3-2.3h0m.8 1.7h0m.4-3.6h0m115 2.3h0m0 .1h0m2.3-.4h0m0 .4h0m.8 1.1h0m0-.8h0m.5-3.5h0m.7 4.3h0m.2-.9h0m.9.7h0m.9.8h0m1-.1h0m1.1-.9h0m1.4-.7h0m.1-2.2h0m.5-1.6h0m.2 4.9h0m1.2-.1h0m.7-1.3h0m1.4-1.8h0m2.5 2.6h0m1.3-1.9h0m0-.1h0m0-.4h0m.5-1.8h0m.7 3.8h0m.4-3.7h0m.6 2.9h0m.4-2.3h0m.3-.9h0m.6 3.5h0m.3-1.4h0m1.8 1.5h0m1.9 1.2h0m-155.6 3.9h0m2.2-.6h0m1-2.1h0m5.7 2.8h0m1.6-1.9h0m1.2 2.5h0m1.2-1.9h0m0 2.6h0m.7-3.4h0m1.7 1.6h0m1.4-1.9h0m.5 3.3h0m1.2-1.7h0m.9 2.6h0m.6-.9h0m115-1.7h0m1.3-1.5h0m.9 1h0m.7 2.6h0m.5-2.8h0m.3 4.1h0m1.3-2.5h0m.1 1h0m.1.2h0m.8.7h0m.4-.1h0m.2-2.4h0m.1-.1h0m.4 2.3h0m.1-3.5h0m.3 3.1h0m3.3 1h0m2.4-5h0m8.7.6h0m-150.6 10.1h0m2.2-.5h0m1.4 1.3h0m2.1-2.5h0m0 2.3h0m.1-3h0m1.3-1.9h0m1.1 4.9h0m4.8-4.5h0m.6 4.2h0m.6-2.2h0m.3.2h0m2-1.1h0m2.3-.2h0m2.2.7h0m2.3.4h0m2.3.4h0m104.2-.7h0m.4 2.7h0m.4-.5h0m0-4.3h0m0-.3h0m.2.9h0m.4 1.3h0m.6.7h0m.1.7h0m.1-3.9h0m1.3 3.3h0m.1-3h0m.3 1.3h0m0 1h0m.7-2h0m.6 4.2h0m.9-2.6h0m1 .3h0m.1 2.3h0m.3-4.6h0m.8 2.6h0m1.6-1.7h0m1.8 4.3h0m.5-3.8h0m-149.2 4.8h0m.5 2.2h0m1.3 1.9h0m2 1h0m1.8-1.4h0m1.9 1.3h0m.7-3.2h0m.7-.1h0m.3 2.2h0m1.5-4.1h0m.5 2h0m.1 2.9h0m1.3-1.1h0m2.3.2h0m.6-2.2h0m1.3 1.9h0m2 1.2h0m109.6-1.2h0m9.9 1h0m0-2.2h0m.8-2.2h0m1.6.1h0m5.6-.8h0m-152.7 7.2h0m1.1 3.6h0m1.2-3.5h0m.7 2.2h0m.1 1.8h0m.8-2.1h0m4.8-2.2h0m1 1.6h0m.3.3h0m.1 2.3h0m.1-4.8h0m.5 1.6h0m.6 2.3h0m6.3 1.6h0m.1-.2h0m.2-2.3h0m.6.4h0m.3-2.5h0m.3.1h0m.1 2.2h0m1.9 1.3h0m.6-.1h0m.3-4.1h0m.9 2.1h0m.5 2.6h0m2 .2h0m.8-2.2h0m.4-2.3h0m107.3-.9h0m.8 2.2h0m3.9 1.4h0m2-2.7h0m.3 2.8h0m1.9 1.1h0m.3-.4h0m.8-.2h0m.8-2.2h0m.7 2.2h0m1-3.7h0m.6 2.2h0m0-.6h0m.1 3.3h0m.5-1.1h0m1 0h0m1.5-2.6h0m.7 3.5h0m1.5-2.7h0m.1 2.3h0m2.2.8h0m-151.8 3h0m.1-2.3h0m.3 1.1h0m.7 2.2h0m1.9 1.2h0m.4.4h0m.3-2.3h0m1.4-1.8h0m4.4-.9h0m.1-.2h0m1.7 1.7h0m1.5 1.7h0m.8-2.3h0m1.5 2.9h0m.1-.8h0m1.6-2h0m.6 1.5h0m.7.1h0m.6 2.7h0m.1-.9h0m0-4.4h0m.5 4.6h0m1.5-.4h0m.3-.3h0m.4 1h0m.2-3.8h0m1.3 2.1h0m.2-.2h0m.7-1.1h0m1.3.7h0m.2-.1h0m2.1 1h0m113.6-2.7h0m2.3.1h0m1.7.7h0m.8 4.1h0m.5-2.2h0m2.9 2.2h0m2.3 0h0m1.2-2h0m1.4-3.7h0m.4 2.3h0m.6 2.2h0m1-.5h0m2 1.1h0m1.9-1.2h0m-168.3 4h0m.7 2.2h0m2.5-.2h0m2.3.1h0m1.7-.5h0m.3 2.3h0m.3-2h0m.4-2.4h0m.6.4h0m1.2 1.3h0m1-2h0m1.1 1.1h0m0-.7h0m1.4 1.8h0m.9-.7h0m1.1-.3h0m.1 2.3h0m.2-1.9h0m1.3-2.1h0m.6 4.7h0m0-3.9h0m2.3 4h0m1.2-.5h0m.2-4.1h0m.3.9h0m1.2-2h0m.4 3.7h0m.3 1.7h0m.1-5.1h0m.1 4.5h0m.6-3.3h0m.8-1h0m.2 2.5h0m.5-2.2h0m0 4.9h0m.4-2.7h0m.7.3h0m0 2.3h0m.1-4.6h0m.2 3.2h0m.8-3.6h0m.4 2.2h0m.9 1.9h0m1.1-2.9h0m2.3-.2h0m1.9-1.3h0m2 3.2h0m.1-2.3h0m108.9 3.6h0m1.5.6h0m.8-.6h0m.4-1h0m.5.1h0m1.2-2h0m.1 3.8h0m.5-2.1h0m.9 2.1h0m.5-4.6h0m1.5 2.8h0m.1 1.1h0m1.1.8h0m.2-3.7h0m1.3 2.2h0m.4-2.2h0m.4.7h0m.6-.4h0m.4 1.4h0m1.6-2.4h0m2.2-.8h0m-160.5 5.9h0m1.9 1.4h0m2.2-.8h0m13.3 4.7h0m.1-5.6h0m.5 3.4h0m1.5-1.7h0m3.3-.7h0m.8 2.1h0m.6-1h0m1.2-.6h0m.5 2.2h0m1.2 1.4h0m.5-4.2h0m112.3 3.2h0m1.4-1.8h0m.9-2.1h0m1.2.1h0m3.5 4.5h0m1.1-2.5h0m.2-1.2h0m.9 2.1h0m1.2-.4h0m.9 1.4h0m1.1-.3h0m.5 2h0m1-5.5h0m.2 5.3h0m.2-3h0m1.7 1.8h0m.5-4.3h0m.5 2.2h0m-129 9h0m.2-3.3h0m.2-1h0m1.1-1h0m.7 4.2h0m1.8-1.6h0m.4 2.3h0m114.1-4h0m1.4 2.8h0m.6-1.6h0m.3 3h0m.2-4.9h0m1.2 3.5h0m.1-3.1h0m.6.9h0m.2 3.9h0m-135.2 6.3h0m.6-2.8h0m.4-2.3h0m0 4.5h0m1.1-.4h0m2.2-.5h0m2.3-.3h0m0-3.6h0m1.4 1.8h0m.4 3.2h0m.6.4h0m1.2-2.9h0m.1 1h0m.1-3.4h0m2.1 2.8h0m2-1h0m2.2-.7h0m1.4-.8h0m2.3-.3h0m1.7 1.5h0m2.2.5h0m1.8 1.4h0m104.9-1.6h0m.8-2.2h0m2.3.1h0m.6 2.2h0m2.1-.9h0m.4-1h0m1.9 1.2h0m.5 2.3h0m.3-2.6h0m.1 4.2h0m.9-2.1h0m.2 2.3h0m-143.8 3.5h0m.3 2.3h0m.4-4.5h0m2.3.4h0m3.1.7h0m.3.7h0m.4-2.3h0m.2 3.7h0m.9 1.2h0m2.5-.4h0m2.2-.7h0m.1-2.5h0m.1 2.3h0m1.9 1.3h0m120-2.9h0m1.9-1.2h0m.9 2.4h0m.1 1.2h0m.1-2.2h0m.4-.6h0m0 2.3h0m.2-1.6h0m.4-.8h0m.1 3.5h0m1.5-5.1h0m4.7 1.1h0m-147 5.2h0m6.1 3.5h0m.9-2.1h0m1.2.5h0m.5 2.3h0m.4-1.8h0m1.6-1.7h0m3.5 3.3h0m5.3-3.1h0m2.3.1h0m107.3 3h0m.1-2.3h0m1.1.5h0m.7-1.9h0m1.5 4.1h0m.1-2.5h0m.5-2.6h0m1.6 4.5h0m.2-1.6h0m.5-2.6h0m.8.7h0m.3 2h0m.6 1.8h0m.1-1.8h0m.1-2.1h0m.1 4.4h0m.1-4.3h0m0 1.6h0m.4 2.3h0m.2-5h0m.4 1.3h0m.2 1.7h0m.8-1.4h0m.3.9h0m.3 3.4h0m.5-1.5h0m.2.2h0m.2-4h0m1.3 1.9h0m1.4 2.4h0m2.1-1h0m1.9-1.3h0m1.9-1.3h0m-145.5 6.7h0m1.8-1.4h0m.2 5.3h0m0-3.5h0m.6 2.5h0m.3-1h0m.1.5h0m1.2-.9h0m.8-.5h0m1.5 1.7h0m.8 1h0m.7-5.4h0m.2-.4h0m.4 2.3h0m.2 1.8h0m1.5-3.4h0m.3 2.7h0m0 2.3h0m.1-2.8h0m1.1-2.4h0m110.4 1.7h0m6.7 3.1h0m1.3.4h0m1.8-1.8h0m.3-3.5h0m.1 4.5h0m1.8-.8h0m1.4-3.9h0m.1 4.5h0m.4-2.3h0m1.4-1.9h0m2.4.7h0m2.3.4h0m-141.9 9.5h0m.9-3.1h0m1.1 2h0m.6-.6h0m.4-2.3h0m.6.1h0m.4-.8h0m.3 4.5h0m.5-1.7h0m.2-2.4h0m1.1.4h0m0 1.6h0m.4 1.8h0m0 0h0m.1-3.3h0m.3 3.4h0m.2-2.5h0m.1 2.3h0m.2-1.5h0m.6 1.1h0m.4-3h0m.8.5h0m1.3 3.5h0m.6-2.2h0m117.2 1h0m1.4-1.9h0m.6-1.1h0m.3 1h0m.7 3.5h0m.3-1.4h0m.6-3.8h0m.4 1.3h0m.2 3.7h0m.3-1.2h0m.2 1.6h0m.5-5.1h0m.8 2.1h0m.1-2.3h0m.3 4h0m.1.8h0m.6-4.1h0m0 2.3h0m.3-1.1h0m.8 1.2h0m.9 1.2h0m2.3.2h0m1.3-3.9h0m.7 4.3h0m1.5-3.5h0m2.2-.8h0m1.9 1.3h0m.7 2.2h0m-154.6 7.4h0m3.1-2.7h0m1.2-1.9h0m2.3.1h0m.3.1h0m1.9.5h0m.4-.3h0m2.3.1h0m2.2.6h0m.8-1.9h0m.3-.2h0m.2.2h0m.6-.3h0m.8 1.6h0m1.5-.6h0m121.4 2.7h0m.3 1.1h0m.6-3.2h0m.7-.4h0m1.3 1.9h0m1.2-.9h0m.2 2.5h0m.4-.3h0m1.3-3.5h0m.5 4.2h0m.9-3.1h0m.2 2.3h0m.3-2h0m.3-1.1h0m.3 2.5h0m.3.8h0m.4-4.1h0m.3.7h0m.2 3.7h0m.5-2.7h0m.3 2.6h0m.9-4.9h0m.6 3.8h0m2.2.6h0m3.7.1h0m.2 1.1h0m-158.7 2h0m.4 2.3h0m14.1 1.6h0m.4-2.3h0m1.2 2h0m2.1-.2h0m8.9.4h0m.5-2.2h0m1.1-2h0m110.6-.6h0m1 2.1h0m2.7-2.6h0m3.1 4.1h0m.2-.8h0m3.2-2.6h0m1.2 2h0m.5-.6h0m1 2.3h0m.1-3.4h0m1.1.6h0m2.1-.9h0m.2 1.2h0m1.8 1.4h0m.2-2.5h0m.5 3.8h0m1.1-2.6h0m-150.7 6.3h0m1.5 1.7h0m2.2-.7h0m2.3 0h0m1.8-2.6h0m.2 2.4h0m0 1.3h0m.3-1.2h0m.3 1.1h0m.2-3.2h0m1.1 3.8h0m.1.4h0m0-2.2h0m.9 1.4h0m1.4-2h0m1 3.6h0m.7-2.2h0m.6-1.9h0m1.7-1.6h0m.1 3.3h0m23.9 2.1h0m1.8-1.4h0m2.3.4h0m11.7.3h0m4-2.5h0m2 1.1h0m.9 2.1h0m9.5 0h0m.2-2.3h0m2.5 1.9h0m2.3.4h0m21.1-1.8h0m2.1 1h0m19.4.8h0m5.8-2.4h0m3.4-2.3h0m2.2.5h0m4.9 2.7h0m2 .8h0m.1-4.8h0m1.4 3.1h0m2.2-.6h0m.1-.1h0m2.2-.6h0m1.5-1.7h0m2.3-.2h0m-145.3 11.5h0m3.8-.2h0m.8-.8h0m.7-2.2h0m.2 1.4h0m.4-3.3h0m.7 1.3h0m.8 1.1h0m.7-2.3h0m.4.1h0m0 .3h0m.3 5h0m.9-2.1h0m11.3 2.1h0m1-2.1h0m2.2-.8h0m2.1.9h0m2.3-.4h0m2.3-.1h0m4.8.6h0m.7-2.2h0m5.7-.9h0m.4 2.3h0m.5 1.9h0m2.2-.5h0m1.5 0h0m2.1-.9h0m1.5 1.8h0m3.5-4.2h0m.7 2.2h0m.9 2.1h0m.8-.3h0m3.5-3.2h0m.8 2.2h0m2.1-1.8h0m1.4 1.8h0m1-.7h0m.5 2.3h0m.2 0h0m1.3-3.4h0m1 3.6h0m.7-2h0m1.1.9h0m.1-2.8h0m2.2 2.8h0m2 1.2h0m.9-3.6h0m.6 1.3h0m.3.8h0m.1-3.1h0m1.6 3.5h0m1.5.2h0m.5-1.4h0m3.8 1.6h0m8.6-2.1h0m1.3 2.7h0m.7-1.5h0m4.6 1h0m.6-2.2h0m.2.1h0m.1-2.3h0m.1-.7h0m.3 5.3h0m.1-3h0m.8 1.2h0m.3 2.3h0m.3-3.5h0m.2 1.6h0m.1-3.4h0m1.2 2h0m.6.8h0m2.3-.1h0m4.5.8h0m2.2-.6h0m1.3 1.9h0m1.4-4.3h0m9.2 2.5h0m.9 2.1h0m2.4-.7h0m.2-2.3h0m.5-2.2h0m3.1.1h0m1.7 4.1h0m1.1-4.4h0m.8 2.2h0m2.3.5h0m1.6 1.6h0m-137.4 2.3h0m2.8 1.6h0m.3-2.3h0m.8.2h0m2.3 0h0m11.7 1.6h0m1.1.8h0m2.2.7h0m0 2.3h0m3.7-.4h0m8.9-4.9h0m.2 1.4h0m.2.8h0m2.2.8h0m.4 2.3h0m4.3-4.4h0m2.1.9h0m4.2-.9h0m1.1 2.6h0m1.1 1.6h0m.8-2.2h0m.1-.5h0m1.7-1.6h0m.3 1.1h0m0 2.9h0m2.3-3.3h0m.4.5h0m.6-1.2h0m1 2.9h0m1.3-2.7h0m.1 4.4h0m1.6-3h0m1 2.1h0m.3-1.6h0m.4 2.3h0m3.5-4h0m2.3.2h0m1.3-1.2h0m.3 2.8h0m1.7-3.3h0m.3 2.3h0m2.1-1.5h0m2.2-.8h0m8.1.8h0m2.6 3h0m1.7 1.5h0m1.1-.2h0m.5-2.1h0m.2-2.3h0m1.1 2.8h0m1.2-3h0m3.8 2.4h0m.1 2.2h0m.6.1h0m0-2.3h0m0 2.2h0m.1-.9h0m.7-.3h0m0 1h0m.2-3.3h0m.1 0h0m.9.5h0m.2 3h0m.1-1.1h0m1.2-3.7h0m.2 3.5h0m1.2-2h0m.4-1.6h0m1-.3h0m8 1.1h0m1.5 1.8h0m.4 2.3h0m10.7-3.4h0m2 1.1h0m.3.5h0m.6-2.2h0m.7.2h0m4.4 1.5h0m.9 2.1h0m.1-4.2h0m2.3 4.1h0m2.2.8h0m.8-.6h0m1.6-1.7h0m1.6 1.7h0m.5-.7h0m-123.2 3.8h0m.7 2.2h0m.6-4.1h0m0 4.7h0m1.2-1.9h0m2.3 0h0m13.3.8h0m4.6.8h0m1.2-2h0m2.1-.9h0m2.3-.2h0m2.3-.2h0m1.2.3h0m.9-1.2h0m.1.5h0m.9 2.1h0m2.1-.9h0m.2-1.1h0m.5-1.1h0m.9 3h0m2 1.1h0m1.9 1.2h0m.8-3.9h0m.5 2.2h0m.7-1.8h0m.1 2.3h0m1.6-4.1h0m24.2.5h0m2.4.4h0m.5 2.2h0m.4 2.3h0m.2-3.5h0m2.3.4h0m1.6-1.7h0m1.6-.2h0m3.3 2.1h0m.4-2.4h0m.4 1.3h0m1.5.7h0m1.6 3.6h0m.3-2.3h0m8.8-2h0m20.9 1.6h0m.1-2.4h0m3.5 1.3h0m2-.8h0m.2 1.3h0m.1-.2h0m0 2.5h0m2.2-1.8h0m1.1-2h0m-127.2 5.6h0m2.3-.3h0m1.5.6h0m16.3 1.5h0m1-2.1h0m3 .1h0m61.3 5.1h0m1.2-2h0m1.9-1.3h0m31.4 1.7h0m.9 2.1h0m.2-4.1h0m.3 6.3h0m2 1.2h0m1.1 2h0m2.2.6h0m1.7-1.5h0m2.3.3h0" stroke="#7e5440" stroke-width="1.45" stroke-linecap="round" fill="none"/>
<path d="M33.8 19.8h0m76.2 11.5h0m-1.1 2h0m42.3 9.5h0m1.3-.1h0m-132.3 4.4h0m5.1 8.8h0m124 4.6h0m6.3-2.6h0m-7.2 7.7h0m-139.5 13.2h0m14.6 24.4h0m-1.8 9.1h0m122.7 2.7h0m-67.2 20.7h0m-20.9 8.9h0m97-.7h0m-40.3 4.6h0m-23.7 11.8h0m80.2 11.7h0" stroke="#a9b6dc" stroke-width="1.45" stroke-linecap="round" fill="none"/>
<path d="M59.7.5h0m.2-.3h0m5.5 1.1h0m58-.4h0m.3-1.9h0m.3 1.5h0m.3-.9h0m.3-.2h0m1.3-.7h0m.2 2.8h0m.6-3.3h0m.1 2h0m.1-2h0m1.4 1.6h0m2 1.2h0m.3 1.7h0m.8.1h0m-72 2.1h0m.8.3h0m2.9.8h0m.1.4h0m0-.2h0m.6.7h0m.1-3.9h0m1.6 4.6h0m0-.3h0m52.1-1.2h0m1.9-1.5h0m1.6-1h0m.7.7h0m2.1-1.3h0m.9 1.5h0m.5-.1h0m.2-1.1h0m.7 1h0m.1 4h0m.3-1.5h0m1.1.1h0m1.1 1.2h0m.1.4h0m.6-.8h0m3.5-1.5h0m-107 6.3h0m31.8.2h0m.9 1.2h0m1.4-.9h0m.1 1h0m1.5-.9h0m.3-2.8h0m2.5 2.4h0m.4-3.1h0m.1 0h0m.4.3h0m.5 3.4h0m.6-4h0m1.3 4.9h0m.2-2.9h0m1.9 1h0m11.6 0h0m.7-.2h0m2 1.1h0m1 .5h0m0-1.7h0m.1-.3h0m.9 1.3h0m1.6-2.7h0m.9.5h0m31.8 4h0m1.2-3.5h0m1-.7h0m.8-.2h0m.2 3.8h0m2.8-4.3h0m1.3-.5h0m.3-.2h0m1.1 5.7h0m1.2-4.9h0m.3 3.5h0m-105.1 3h0m1.7.8h0m.6 2.2h0m.7-.2h0m.5.8h0m.2-.2h0m0 1.1h0m1.8-2.2h0m1.7.5h0m1.4-.2h0m10 .5h0m10.1-.5h0m.1-2.1h0m4.2-1.1h0m.3 3.1h0m.1-3.2h0m1.1-.1h0m0 .1h0m.4.3h0m.6.4h0m.5-.1h0m0 .7h0m.2-1.9h0m.3-.2h0m.2 3.7h0m.4 2.1h0m1.4-5.3h0m.2 3.8h0m.6-1.7h0m.3-.4h0m.3 2h0m0-3.8h0m.1 3.6h0m.4.7h0m.2-2.8h0m.2.5h0m1.3 2.9h0m1.6-1.9h0m.2 1.6h0m12.4.4h0m3.1-4.8h0m1.1 5h0m3.2-1.5h0m3-1.9h0m.2 2.4h0m6.7.1h0m10-3.2h0m1.7 1.3h0m1.9 1.7h0m2.6.8h0m2.7-1.8h0m.3 1.2h0m.5-.7h0m.9 1.6h0m1.3-3.3h0m2.6 1.1h0m.1-.5h0m.1-1.1h0m.5-.3h0m.3 1.1h0m.4-2.8h0m.8 1.5h0m.5-.5h0m.1 1.5h0m.7-1.2h0m.3.2h0m.4 1h0m.5-.9h0m3.2 2h0m1.1 2h0m2.6-3.9h0m.5 2.6h0m.7 1.1h0m1.4-.4h0m1.3-1.8h0m.5.6h0m.5-2.6h0m.3 2.7h0m1.3.9h0m.4.8h0m.1-2.5h0m10.3-1.2h0m3.7 1.7h0m6.1-.7h0m.8-.8h0m-138.4 8.9h0m.3-4h0m.2 3.9h0m.1-1.1h0m.1-1.8h0m.4 1.3h0m.1 1h0m.2-.9h0m.4 1h0m.3-1.4h0m.9 2.4h0m.5-1.3h0m.3-1.3h0m.1-.5h0m.1 3.1h0m.3-2.9h0m.2 1.3h0m.5.9h0m0 0h0m.2-.2h0m.1.3h0m.2-1.6h0m.3.3h0m.5-2.2h0m1.9 3.4h0m5.4-2.9h0m4.8 2.3h0m2 .7h0m0-3.5h0m.4 3h0m0-2.4h0m1 1.1h0m.2.4h0m.3.1h0m6.3-2.8h0m1.8-.4h0m.9 5.5h0m.8-3.5h0m.3 3h0m.2-1h0m.6-1h0m0-.5h0m1.3 2.8h0m.6-1.6h0m.5-.4h0m.2 2h0m2.8-5.3h0m.9 2.8h0m.7 1.3h0m.2.3h0m.8-3.6h0m1-.6h0m1 3.8h0m.1-2.8h0m3.1-.5h0m1.3 3.4h0m.9-3.2h0m2.5-.8h0m.2 4.2h0m.7 1.1h0m0-3h0m1.3-.6h0m.2 1.9h0m1.6-.9h0m.4-2.7h0m1.1 5h0m.4.3h0m1.7.2h0m.2-3.8h0m.3 3.9h0m.9-3.4h0m1.4 3.2h0m0-1.4h0m2.2 1.2h0m1.7-3.9h0m.1.3h0m1-1.2h0m3.5 3h0m.9.7h0m1.3-.1h0m0-2.3h0m1.2-1.7h0m7.2 3.3h0m3.6.7h0m4.5-1.2h0m.7-2.9h0m.6 2h0m5.2 3.2h0m.4-.6h0m1.1-3.9h0m.3 4h0m.7-4.1h0m.5-.1h0m5.5 3.7h0m.8-2.8h0m1 2h0m.8-3h0m.2 2.5h0m9.1-1.6h0m.6 3.5h0m.6-.7h0m.8-3h0m8.6 4.4h0m14.2-4.3h0m-146.8 9.3h0m.5-2.2h0m4-1.8h0m.4.1h0m.6.1h0m1.6 2.3h0m.1-2.4h0m1.8 3.5h0m3.8-3.1h0m12.9-.7h0m6.9.3h0m.6 5.1h0m.9-4.3h0m.9.5h0m.5-1.8h0m.3 1.7h0m1.9-1.2h0m17.3 4h0m1.8 1.2h0m4.9-3.5h0m0 .3h0m.7 1.8h0m.4-1.5h0m.1-2.4h0m.2 2.4h0m.1-.1h0m1.2-1.2h0m3.5-.3h0m5.7-.1h0m1.4 1.7h0m.3-1.1h0m3.5-1.2h0m10.5 4.3h0m12.8-4.6h0m1.3.2h0m4.2 0h0m1.1-.2h0m14 4h0m.5 1.6h0m.1 0h0m2.8-4.2h0m.9-.6h0m5.4 1.1h0m1 3.2h0m1.9-1.1h0m1.9 1.7h0m.2.1h0m1.4-4.2h0m.7 1.5h0m.9 2.8h0m.4-.4h0m-138.5 3.7h0m1.5-.7h0m.1-1.1h0m.4 3.2h0m1.4 1.1h0m1.2-1.7h0m.8-3.6h0m0 .6h0m.2-.4h0m.2 0h0m2.4 5.2h0m23-4.8h0m1.8.8h0m22-.7h0m6.3.4h0m.3-.4h0m24-.5h0m1.4.3h0m.8.6h0m31.4-.7h0m7 4.6h0m.8-.5h0m1.8-1.9h0m.4.8h0m.2 0h0m1.1.9h0m.2-.9h0m.3-.9h0m1.1 1.8h0m.1-3.6h0m0 2.3h0m.7-2.2h0m.4 3.6h0m2-4.1h0m2.2 3.5h0m2.1-3.6h0m.2 1h0m1.6 4.2h0m2.8-.7h0m.4-.7h0m0 0h0m.4-1.1h0m.1 0h0m1.1 1.2h0m.4 0h0m-147.9 3.6h0m.6 3.1h0m.9-2.1h0m4.3-.5h0m1.5 1.6h0m.1-1.9h0m1.5.4h0m2.9 2.2h0m111.8-.1h0m1.3.6h0m.6-2.7h0m.8.8h0m1.3-1.2h0m1.6.8h0m2.7 2.3h0m.2-1.8h0m1.8-.7h0m.2.1h0m1.6-1.1h0m5.3.8h0m1.8-1.9h0m.8.4h0m2.1 3.3h0m1.1-3.7h0m.3-.8h0m.2 3.4h0m.6-1.9h0m.2.4h0m.2 3.1h0m0 .1h0m.6-.1h0m2.6 0h0m-149.4 1.6h0m2.1.8h0m4.3-.2h0m.1-.8h0m.2.5h0m2.2 2.5h0m.9-1.4h0m.4 3.2h0m1.4 0h0m2-2.5h0m112.5-2.3h0m1.8.2h0m0 3h0m.3 1.2h0m.2-4.6h0m1 5.3h0m.6-4.7h0m2.3 1.9h0m.6 2.3h0m.1.7h0m.1-3h0m1.3 3h0m.8-4.2h0m4.6.8h0m8.4.1h0m-149.1 7.4h0m3.7-2h0m.4-.4h0m2 1h0m2-1.2h0m2.7-.7h0m2 3.1h0m.7 1.2h0m.2-3.2h0m.7 3.3h0m5.6-.6h0m1.7-.5h0m1 .9h0m1.8.4h0m104.6-3.5h0m.1.2h0m.6 1.6h0m1-1.4h0m.5 3.8h0m.4-4.3h0m.7 2.6h0m.4.9h0m1.3-2.7h0m1.3 1.6h0m2.2-3.2h0m.6.6h0m1.6 1.5h0m.7-2.5h0m-148.1 9.9h0m2.6.8h0m2.1-2.3h0m1.2-2.5h0m.9 2.9h0m.3.7h0m.9-3.6h0m2 3.7h0m1.4 1.8h0m.6-4.6h0m4.1 2.1h0m1 1.2h0m3.2.2h0m107.3-.3h0m.3-2.1h0m2 1.9h0m7.6-2.7h0m1-1.1h0m6.7.9h0m-152.2 9.1h0m2 1.3h0m.3-.8h0m2.9-1.3h0m2.3-2.9h0m3 2.3h0m.7.8h0m7.8-2h0m1 .5h0m.9-1.4h0m.7 1.6h0m2.4 1.7h0m.3-.5h0m.9-3h0m.1 5.2h0m.6-4.2h0m106.8-.9h0m3.9 2.4h0m.2-.7h0m2.5-1.7h0m.7 4.3h0m3.5.3h0m3.2-3.1h0m1.2-1.7h0m1.3 2.4h0m.5.6h0m4.8-1.5h0m2.7 2.4h0m-155.1 3.5h0m.1.1h0m1.1-1.2h0m.7 4.3h0m1 .5h0m.4-1.4h0m1.3-1.1h0m.2 1.4h0m1.6 1.1h0m8.4-5.4h0m.2.3h0m.9 3.6h0m2.8 1.4h0m.2-.7h0m0-1h0m.5 1.2h0m.2-2.4h0m.1 2.5h0m.2-4h0m.3 3.6h0m.8-2h0m.2 2.5h0m1 0h0m.4-2.8h0m.1-.4h0m.5-1.6h0m.7 4h0m.1.2h0m.1-1.1h0m1.5.7h0m.2-2.7h0m.3 2h0m0-.9h0m.4-1.9h0m.3 3.3h0m.5-.2h0m.9-.8h0m.1-.7h0m1.1 3.3h0m1.2-2.5h0m111.6-2.9h0m2 1h0m1.4 1.9h0m1 1.1h0m1.8-2.3h0m.9.7h0m.4-1.9h0m3.6 1.6h0m1.8-1.4h0m.8 3.7h0m.4-1.8h0m.8.8h0m1.1.8h0m2.2.8h0m.7-.7h0m-168.2 4.2h0m.6 2.3h0m1.2-3.7h0m.1 4.2h0m2.9-3h0m.7 2.7h0m.3-2h0m2.7 1.6h0m4.7-1.9h0m.8-.6h0m0-.2h0m2.1.8h0m.2 0h0m.8 1h0m.3-.2h0m3.5-.3h0m1 1.7h0m1-3h0m.2 3.4h0m1.4-1.8h0m.9-2.9h0m.7-.6h0m.1 1.7h0m2.7 1h0m0 .2h0m.7-2h0m.1-.9h0m1-.4h0m.6 3.5h0m1-.5h0m1-2.6h0m1 2.3h0m1.6 1.9h0m1.9-2.7h0m109.6.3h0m2.1-.1h0m1.4 1.3h0m3.2-2.5h0m1.5.4h0m.1 3h0m.1-1.3h0m.5-3.1h0m1.5.8h0m.2 3.7h0m.5-2.7h0m.1-.5h0m.2-.4h0m.4 1.9h0m1 1.3h0m1.1-2.2h0m-160.7 5.7h0m1.9 1.4h0m5.1-1.6h0m10.5-.2h0m1.7 2.9h0m.5-2.6h0m.3.4h0m1 1.4h0m1.2-2.7h0m1.8-.3h0m.4.3h0m1.3 2.6h0m.2-1.5h0m1.8 1.2h0m1 1.6h0m115.5-4.7h0m3.8 1.7h0m.6 1.5h0m2.3.9h0m.1-2.9h0m.3.5h0m1.3-1.1h0m.4 1.7h0m.3 2h0m2.3.6h0m.5-4.5h0m.5 2.3h0m.1-2h0m0 0h0m1.1 3.2h0m.8-.4h0m-131.1 8.2h0m4.7-5.3h0m114.5 2.1h0m.4.1h0m.2.5h0m3.8 2.3h0m1.5.1h0m.3-1.7h0m.3-2.7h0m.6 4h0m-137.4 4.9h0m6.2-2.3h0m1.4 1.9h0m0-1.3h0m.5 2.3h0m1.7-1.5h0m.1-.9h0m6.6-.7h0m5.7 2h0m2.7-2.8h0m1.5 1.5h0m103.1.6h0m6.1-.8h0m1.1-.2h0m4.8 3.1h0m.4-.8h0m1.1-.6h0m-145.8 4.2h0m1.7 2.5h0m4.2.1h0m3.3.3h0m0-.8h0m4.2 1.4h0m.8-1.9h0m115.8 2.7h0m3.2-4h0m3.1 4h0m2-5.4h0m.1 1.4h0m.4-1.4h0m.5-.2h0m.8 3.8h0m.2-2.1h0m7.1 3.8h0m-145.8 1.2h0m2.2 4.7h0m1.1-2h0m.5 2.2h0m2-5.9h0m2 3.7h0m.2 1h0m1.6.2h0m1-4.7h0m3.8 5.2h0m112-1.2h0m1.1-.7h0m.2.1h0m.4-.8h0m1.6-.9h0m.3-.7h0m1.2-.1h0m2 3h0m.4-.1h0m0-.2h0m.2-.1h0m1.2-.4h0m.3-.7h0m.7 1.4h0m.7-3.7h0m.3.4h0m.6 1h0m.1 2h0m.1-.6h0m0 .1h0m.1-.8h0m0 .8h0m0-2.1h0m.6 2h0m.8 2.6h0m.3-1.9h0m1.6-1.1h0m2.1.5h0m.7.8h0m.5-.9h0m.6-1.9h0m-144.5 8.4h0m3.2-1.4h0m.3 2.3h0m.1-1.8h0m.4-2.8h0m.4 3.7h0m.5 2h0m1.3.2h0m.4-2.2h0m.4 1.7h0m4.1-1h0m2-1.1h0m109.8.6h0m7.7 0h0m.9.3h0m.1-.2h0m.3 1.3h0m.6-.3h0m1.4-4.4h0m.1 2.2h0m.3.6h0m.9.1h0m1 1.8h0m.8 0h0m.9-5.3h0m.2.2h0m.2 3h0m5.9 2.7h0m-146.2 5.7h0m1.4.1h0m0 0h0m1.9-2.1h0m.7-1h0m1.4 2.4h0m.2-2.3h0m1.9.6h0m.9 2.4h0m0-3.4h0m.1-.9h0m.1.9h0m.7 2.1h0m.7-4.2h0m.4 2.4h0m.1.6h0m.2-.1h0m1.3-2.2h0m0 5.1h0m.2-3.1h0m3.4.6h0m.1-.4h0m115.7-.9h0m.4 3.3h0m0-4.4h0m.4 3.7h0m1.2.5h0m2.3-2.4h0m.3-1.6h0m.5-.7h0m.3 5.2h0m.4-.7h0m.9.8h0m.1-4.8h0m1.1 4.7h0m1-3.1h0m.5 2.8h0m1.6-.1h0m.6-.2h0m.8 0h0m6.7.7h0m2.2-1.8h0m-157.4 7.8h0m3.4-1.5h0m.6-2.5h0m1.9.9h0m6.3.5h0m2 .5h0m.6-2h0m.4-1.8h0m.9 1.6h0m.6-1.5h0m.3.1h0m.9 2.1h0m.4.3h0m121.4.9h0m.1 0h0m3.1.8h0m.2.8h0m.1-1h0m.2-3.5h0m.1 1.6h0m.4-.7h0m0 3.2h0m2.5-1.7h0m.6-2.8h0m.3.1h0m.4 3.3h0m1-3.3h0m.4 1.5h0m.3 1.9h0m.9-2.5h0m1.1 2.6h0m2.1-3.4h0m.6 3.2h0m0-.8h0m6.2 1.2h0m-147.4 6.6h0m1.4.1h0m1.3-3h0m2.1 3.6h0m7.6.2h0m3.8-2h0m116.1 1.1h0m.1-2.2h0m2.1 2.6h0m1.8-1.5h0m.6-3.2h0m.7.5h0m.3.1h0m.1 2.3h0m.7-.7h0m1.1-1.2h0m0 1.4h0m1.6-2.6h0m.5 3.1h0m.6 1.6h0m.4-2.6h0m2.4 2.4h0m-145 3.6h0m.4-.3h0m1.2-.8h0m.6 2.1h0m.9-.8h0m.7.3h0m.6.6h0m.3-2h0m.3.4h0m2 3.4h0m.9-1h0m.4 1.3h0m3.6-3.7h0m.7-.3h0m26.8 3.8h0m11.3-2h0m1.4 0h0m3.8-.4h0m.8 2.7h0m2.5-2.2h0m7 1.7h0m0 0h0m.4-.8h0m.7.5h0m1.6-.2h0m2.2.7h0m23.2-.5h0m.3.6h0m.1 0h0m2.1.2h0m40.3-1.4h0m1.2-.2h0m.8-1.5h0m.4-2.6h0m.7.4h0m-138.3 8.8h0m0-1.1h0m.9 3.1h0m.5-3.3h0m1.2 2.9h0m1.9-.3h0m1.4-2.3h0m1.1 3.2h0m10-2.1h0m.9-1h0m1.2 1h0m4.4-.9h0m0 .8h0m9.5.3h0m4.5 0h0m1.2.1h0m1.6-2.2h0m.3 2h0m.4-.3h0m7.6 1.8h0m.3-4.2h0m.3-.6h0m1.2 5h0m4.3-2.7h0m6.1.9h0m.1 1.9h0m1.2-2.8h0m3.3 3.7h0m.5-2.6h0m.3-.3h0m.3.5h0m.4 1.2h0m1.7-3.8h0m1.8 3.7h0m21 1h0m3.7-3.9h0m.6-.2h0m.4 1h0m.9-.9h0m.1 2.6h0m.4-2.3h0m.5 2.6h0m.5-.9h0m0-.6h0m.2 2.6h0m.4-4.7h0m.5.6h0m.4-.3h0m12.2 3.9h0m8.4-.6h0m1.3-.9h0m.5.7h0m3-1.1h0m.4-2.1h0m.2.2h0m4.9-.6h0m2.4 2.3h0m.9 1.7h0m1.4-1.2h0m-137.8 4.5h0m.5.1h0m1.4.5h0m2.4.8h0m14-3.6h0m.5-.1h0m28.1 2.4h0m.6 1.7h0m.4-1.2h0m1.9 2.9h0m1.6-1.8h0m.1-2.2h0m.3 2.7h0m.9-1.2h0m1.3 2h0m.8-3.3h0m1.9.3h0m.2-1.2h0m1.1-.5h0m1.8 1.8h0m.3 3.1h0m3.1-4.6h0m1.8 4.6h0m0 0h0m1.9-2.6h0m.2-1h0m.9 2h0m1.9-2.2h0m.7-1.7h0m2.1 1.2h0m13.1.7h0m2.1 2.7h0m.2-1.3h0m1.5 1.1h0m.3.6h0m1.2-3.4h0m2.4-.3h0m.7 1.2h0m.7 2.3h0m3.9-2.5h0m.3-2.1h0m1.6 1.5h0m0 2.2h0m.3.4h0m11-2.2h0m.5 1h0m1.3-3.2h0m.2 3.6h0m.2-1.1h0m0 .1h0m9.5.6h0m7.2-2.6h0m2.8 1.1h0m.4 2.5h0m3.7-1.6h0m1-1.1h0m2.5.9h0m1.4 2.9h0m-127.2 5.1h0m.6.2h0m.7-3.4h0m1.1-.8h0m1.4 5h0m.8-2.5h0m.4 2.1h0m1-4h0m0 0h0m15.5 1.1h0m.9 3.1h0m1.4-.7h0m.1-.1h0m3.2-2.4h0m2.4-1.2h0m1.2-1h0m2.3 1h0m1.1 2h0m.6.3h0m1.4 1.5h0m4-3.6h0m.9 4.2h0m2.2-3.2h0m.6.4h0m.6.2h0m1.2 2.5h0m.5-.2h0m1 .3h0m.8-5h0m25.6.4h0m.9 1.9h0m.6-2.4h0m3 1.7h0m4.3.4h0m2.3-1.6h0m2.8 1.2h0m1.4 2.5h0m.4-2.2h0m6-.2h0m20.7-1.4h0m5.8 3h0m.6-.4h0m.3.1h0m.3-2.8h0m.1 2.5h0m1.2.8h0m1.5.6h0m1-.3h0m-124.9 2.6h0m2.3 1.5h0m14.3-1.1h0m.5-.4h0m3.4.3h0m2.2-1h0m52.1 0h0m9.8 1.5h0m2.5-.6h0m29.9 4.7h0m1.9-3.3h0m-34.3 3.8h0m35.1 1.9h0m2.6 2.1h0m2.9 1.4h0m.2.1h0m4.4-.3h0" stroke="#efe6e6" stroke-width="1.5" stroke-linecap="round" fill="none"/>
<path d="M127.6-4h0m2.2 5.5h0m-67.2 6.6h0m0 .3h0m2.2-2.9h0m.8 0h0m57.5 1.2h0m3.5-.6h0m1.9-1.8h0m.4-.4h0m3.1 2.2h0m.9-2.4h0m-77.7 6.4h0m1.7 3.4h0m1.8-2.1h0m2.8.5h0m.9.5h0m1.2 1.4h0m3.1-3.2h0m16.2 1.2h0m39 .2h0m3.8.3h0m.8-2.5h0m5.7 4.7h0m7.3-.1h0m2.8-.2h0m3.2-2.1h0m-115.8 8.3h0m14.3-4.6h0m1.2 2.2h0m9.5-.3h0m3.8 3.1h0m0-3.1h0m.2 3.2h0m.8-.5h0m1.1-2.8h0m.1-.5h0m2 2.3h0m.1-.2h0m2.6-2.6h0m.7.7h0m3.6-.3h0m5.1 3.5h0m0-2h0m2.3 1.1h0m1.6-4.2h0m1.8 2.5h0m7.5-2.8h0m.4 3.8h0m5.9 2h0m17-4.3h0m5.8-.6h0m1.7 3.5h0m.6-1.6h0m2.3-.6h0m5.1 2.6h0m.7.3h0m.1-1.1h0m.7-1.6h0m3.1-.3h0m2.4-1.2h0m.6 3.7h0m2.1.7h0m2.8-4.9h0m-111.2 10.4h0m1.7-4.2h0m12.1 2.9h0m1.4-3.1h0m3.6 2.4h0m4.1 1.2h0m.7-3.8h0m2.4.7h0m8 1.2h0m1.9-.1h0m11.3 0h0m2 3.3h0m4.6-1.7h0m1.9-3.3h0m4 4.6h0m0-2.5h0m.6-1.8h0m.4 4.1h0m3.8-.1h0m15-1.5h0m3.7.9h0m10.1-.4h0m2.4-3h0m7-.2h0m7 .4h0m.6 2.1h0m7.7 2.7h0m-120.2 1.6h0m1.2.5h0m1.8 2.7h0m1.2-3.7h0m.2.1h0m18.8-.1h0m10.9 1.6h0m1.8 2.4h0m18.1.2h0m9 1h0m6-3.2h0m14.4-.3h0m30.3-1.1h0m2.2 2.4h0m2.2 2.2h0m7.6-3.5h0m2.2 2h0m-133.3 7.2h0m2.2-3.2h0m2.8.1h0m3.8-.5h0m.3-.5h0m1.7 3.4h0m42.9-1.5h0m31-3h0m45.3.2h0m.4-.5h0m1.2 1h0m2.5.9h0m1.1 2.3h0m-136.7 7.4h0m6.5-.2h0m.2-.3h0m1.5-2h0m3.8-1.6h0m116.4 4h0m1.7-1.7h0m10.8-.6h0m3.8.4h0m.2 1.9h0m1.5-4.3h0m1.3 3.6h0m-141.9 3.9h0m5.1-2.1h0m117.2-.4h0m5.3 4.8h0m-128.9 3.3h0m3.8-.5h0m2.8 2.2h0m2.2-.7h0m1-2.8h0m3 2h0m114.6 2.3h0m.6-4.7h0m2.6 2.6h0m-148.7 8.6h0m142.4-.8h0m9.2-4.6h0m-151.2 9.3h0m10.4.1h0m3.4-1.7h0m2.7 3.4h0m5.1-1.3h0m115.4.1h0m5.7.9h0m3.7.9h0m-131.5 5.6h0m.6-3.8h0m5.7 3.1h0m1.5-3.8h0m1.2.1h0m-3.7 5.1h0m.1 2.7h0m1.9 1h0m1.8-1.2h0m117.4.8h0m10.7 1.6h0m-130.6 6.1h0m1-5h0m1 2.9h0m1.3 1h0m118.1-4.2h0m2.5 4.4h0m.4.3h0m3.3-3.1h0m-134 10.1h0m2.2-.8h0m8.9-1.8h0m5.6 1.7h0m111.7-3h0m-134.8 10.2h0m29.2-4.8h0m106.9.1h0m.3 2.6h0m-129.8 8.1h0m5.1-4.3h0m124.5 3.2h0m.1-.2h0m2.1.3h0m-131.2 1.4h0m9.2 1.2h0m4 2.1h0m114 1.9h0m1.2-2.3h0m1.5 1.6h0m1.5-3.4h0m7.9 3.9h0m-142.1 3.3h0m4.2 2.7h0m1.7-3h0m.2 1.2h0m3.6-1.2h0m112.2-2.5h0m2.6 2h0m3.7 1.2h0m1.4 1.5h0m1.6-2.2h0m2.6-2.4h0m8.1 3.3h0m-140 2.8h0m.2 1.9h0m.5-.6h0m.3 4h0m1.1-.1h0m.7-3.1h0m2.7 2.7h0m137.9-.2h0m-151.2 3.1h0m.8 3.2h0m8-1.7h0m128.4-2h0m7.7 3.2h0m4-1.5h0m4.8 2.5h0m.3-2.5h0m3.2.9h0m-158.3 4.9h0m15.6 0h0m3 2.4h0m45.4-.2h0m73.7-.8h0m3.2-2.1h0m1.5-2.2h0m4.5 3.1h0m2.3-.4h0m.3-1.8h0m-132.4 7h0m.3 1.3h0m1 .3h0m.4.8h0m4.1 0h0m4-3.7h0m53.1 3.8h0m51.3.6h0m2.5-3.8h0m13.7-.4h0m2.5-.2h0m-140.1 11.2h0m4.9-5.6h0m.1-.2h0m3 2.7h0m3.3-.7h0m23.3 3.7h0m10.5-2.4h0m22.9 2.5h0m2.1-.2h0m.7-1.1h0m2.1-2.1h0m3 1.9h0m.3-3.8h0m14.1 4.1h0m1.6-3.5h0m12.6 3.1h0m4.2-1.4h0m10.6-2.8h0m8.3 5.2h0m5.2-.1h0m-113.3 5.3h0m.7-3.8h0m.1 3.3h0m25.1.1h0m1.1-3.7h0m.5.3h0m6.3 3.8h0m19.4-3.3h0m12.9 1.9h0m14.5 2.8h0m.2-.3h0m.7-2.7h0m3.3-.8h0m6-1.8h0m20.3 1.4h0m12.2 1.4h0m-123.8 7.4h0m2.5-4.7h0m4.2 1.1h0m10.2 4.5h0m3-3.7h0m.8 2.8h0m10.7-4.5h0m13.5 5h0m.2-2.5h0m31.8-1.4h0m3.3 0h0m.5.4h0m35.7-.8h0m.9 1.8h0m3.3.3h0m.8-2.8h0m2.3.6h0m-127.6 7.2h0m51-1.9h0m81.1 8.7h0" stroke="#e2221d" stroke-width="1.45" stroke-linecap="round" fill="none"/></g>
<circle cx="76.4" cy="57.5" r="1.2" fill="url(#gL)"/><circle cx="53.6" cy="129.9" r="1.2" fill="url(#gL)"/><circle cx="97.3" cy="106.2" r="1.2" fill="url(#gL)"/><circle cx="94.6" cy="73.7" r="1.2" fill="url(#gL)"/><circle cx="113.6" cy="94.1" r="1.2" fill="url(#gL)"/><circle cx="118.8" cy="103.1" r="1.2" fill="url(#gL)"/><circle cx="125.0" cy="79.6" r="1.2" fill="url(#gL)"/><circle cx="52.4" cy="48.9" r="1.2" fill="url(#gL)"/><circle cx="112.7" cy="50.8" r="1.2" fill="url(#gL)"/><circle cx="105.4" cy="98.8" r="1.2" fill="url(#gL)"/><circle cx="42.3" cy="116.1" r="1.2" fill="url(#gL)"/><circle cx="39.5" cy="124.9" r="1.2" fill="url(#gL)"/><circle cx="125.2" cy="55.9" r="1.2" fill="url(#gL)"/><circle cx="113.0" cy="110.6" r="1.2" fill="url(#gL)"/><circle cx="49.3" cy="104.0" r="1.2" fill="url(#gL)"/><circle cx="49.1" cy="129.8" r="1.2" fill="url(#gL)"/>
<rect x="33.5" y="30.4" width="111" height="111.2" fill="none" stroke="#444" stroke-width="0.75"/>
<rect x="104.6" y="90.5" width="27.2" height="31.2" fill="none" stroke="#3c4a78" stroke-width="0.9" stroke-dasharray="3 1.5"/>
<line x1="131.8" y1="90.5" x2="202.3" y2="31.8" stroke="#222" stroke-width="1.0" stroke-dasharray="4 2 1 2"/>
<line x1="131.8" y1="121.7" x2="202.3" y2="145" stroke="#222" stroke-width="1.0" stroke-dasharray="4 2 1 2"/>
<rect x="202.3" y="31.8" width="136.3" height="118.2" fill="#fff" stroke="#56648a" stroke-width="1.3" stroke-dasharray="6 2.6 0.9 2 0.9 2.6"/>
<path d="M295.0 86.7L294.9 86.8" stroke="#8c5a3c" stroke-width="1.5"/>
<path d="M294.9 86.8L294.9 86.9" stroke="#8c5a3c" stroke-width="1.5"/>
<path d="M254.5 89.0L254.3 89.5" stroke="#8c5a3c" stroke-width="1.5"/>
<path d="M254.3 89.5L254.1 90.0" stroke="#8c5a3c" stroke-width="1.5"/>
<path d="M271.1 85.6L270.9 86.2" stroke="#8c5a3c" stroke-width="1.5"/>
<path d="M270.9 86.2L270.6 86.9" stroke="#8c5a3c" stroke-width="1.5"/>
<path d="M310.1 69.5L311.2 69.5" stroke="#8c5a3c" stroke-width="1.5"/>
<path d="M311.2 69.5L312.3 69.5" stroke="#e8201c" stroke-width="1.5"/>
<path d="M309.3 79.0L307.8 78.4" stroke="#8c5a3c" stroke-width="1.5"/>
<path d="M307.8 78.4L306.2 77.8" stroke="#e8201c" stroke-width="1.5"/>
<path d="M243.5 121.1L244.8 122.3" stroke="#8c5a3c" stroke-width="1.5"/>
<path d="M244.8 122.3L246.0 123.6" stroke="#e8201c" stroke-width="1.5"/>
<path d="M227.8 82.9L229.5 82.3" stroke="#8c5a3c" stroke-width="1.5"/>
<path d="M229.5 82.3L231.2 81.7" stroke="#e8201c" stroke-width="1.5"/>
<path d="M221.1 86.8L221.7 84.8" stroke="#8c5a3c" stroke-width="1.5"/>
<path d="M221.7 84.8L222.3 82.9" stroke="#e8201c" stroke-width="1.5"/>
<path d="M270.6 118.6L269.6 116.8" stroke="#8c5a3c" stroke-width="1.5"/>
<path d="M269.6 116.8L268.7 114.9" stroke="#e8201c" stroke-width="1.5"/>
<path d="M306.0 111.1L306.0 113.3" stroke="#8c5a3c" stroke-width="1.5"/>
<path d="M306.0 113.3L306.0 115.5" stroke="#8c5a3c" stroke-width="1.5"/>
<path d="M245.6 82.3L246.1 84.5" stroke="#8c5a3c" stroke-width="1.5"/>
<path d="M246.1 84.5L246.7 86.8" stroke="#e8201c" stroke-width="1.5"/>
<path d="M245.6 82.3L246.1 84.6" stroke="#8c5a3c" stroke-width="1.5"/>
<path d="M246.1 84.6L246.6 86.9" stroke="#e8201c" stroke-width="1.5"/>
<path d="M304.5 84.5L303.6 86.8" stroke="#8c5a3c" stroke-width="1.5"/>
<path d="M303.6 86.8L302.8 89.0" stroke="#e8201c" stroke-width="1.5"/>
<path d="M254.5 89.0L257.0 88.7" stroke="#8c5a3c" stroke-width="1.5"/>
<path d="M257.0 88.7L259.5 88.4" stroke="#aab4dc" stroke-width="1.5"/>
<path d="M251.7 46.1L249.1 46.0" stroke="#8c5a3c" stroke-width="1.5"/>
<path d="M249.1 46.0L246.5 45.8" stroke="#e8201c" stroke-width="1.5"/>
<path d="M270.6 86.9L268.8 88.8" stroke="#8c5a3c" stroke-width="1.5"/>
<path d="M268.8 88.8L266.9 90.6" stroke="#e8201c" stroke-width="1.5"/>
<path d="M327.8 103.7L329.4 105.8" stroke="#8c5a3c" stroke-width="1.5"/>
<path d="M329.4 105.8L330.9 108.0" stroke="#e8201c" stroke-width="1.5"/>
<path d="M241.2 46.1L243.8 46.0" stroke="#8c5a3c" stroke-width="1.5"/>
<path d="M243.8 46.0L246.5 45.8" stroke="#e8201c" stroke-width="1.5"/>
<path d="M274.1 76.2L275.8 74.2" stroke="#e8201c" stroke-width="1.5"/>
<path d="M275.8 74.2L277.5 72.1" stroke="#3cb43c" stroke-width="1.5"/>
<path d="M254.1 90.0L255.8 92.2" stroke="#8c5a3c" stroke-width="1.5"/>
<path d="M255.8 92.2L257.5 94.3" stroke="#e8201c" stroke-width="1.5"/>
<path d="M227.8 82.9L225.1 82.9" stroke="#8c5a3c" stroke-width="1.5"/>
<path d="M225.1 82.9L222.3 82.9" stroke="#e8201c" stroke-width="1.5"/>
<path d="M304.5 84.5L304.1 87.2" stroke="#8c5a3c" stroke-width="1.5"/>
<path d="M304.1 87.2L303.6 90.0" stroke="#e8201c" stroke-width="1.5"/>
<path d="M254.1 90.0L256.8 89.2" stroke="#8c5a3c" stroke-width="1.5"/>
<path d="M256.8 89.2L259.5 88.4" stroke="#aab4dc" stroke-width="1.5"/>
<path d="M256.0 127.9L253.2 127.3" stroke="#8c5a3c" stroke-width="1.5"/>
<path d="M253.2 127.3L250.4 126.7" stroke="#e8201c" stroke-width="1.5"/>
<path d="M236.7 88.4L234.2 89.8" stroke="#8c5a3c" stroke-width="1.5"/>
<path d="M234.2 89.8L231.7 91.2" stroke="#8c5a3c" stroke-width="1.5"/>
<path d="M240.6 79.0L243.1 80.7" stroke="#8c5a3c" stroke-width="1.5"/>
<path d="M243.1 80.7L245.6 82.3" stroke="#8c5a3c" stroke-width="1.5"/>
<path d="M254.5 89.0L256.0 91.7" stroke="#8c5a3c" stroke-width="1.5"/>
<path d="M256.0 91.7L257.5 94.3" stroke="#e8201c" stroke-width="1.5"/>
<path d="M270.6 118.6L273.4 119.8" stroke="#8c5a3c" stroke-width="1.5"/>
<path d="M273.4 119.8L276.2 121.1" stroke="#8c5a3c" stroke-width="1.5"/>
<path d="M278.1 110.5L278.1 107.4" stroke="#8c5a3c" stroke-width="1.5"/>
<path d="M278.1 107.4L278.1 104.3" stroke="#e8201c" stroke-width="1.5"/>
<path d="M298.6 124.2L298.3 121.1" stroke="#8c5a3c" stroke-width="1.5"/>
<path d="M298.3 121.1L298.0 118.0" stroke="#8c5a3c" stroke-width="1.5"/>
<path d="M271.1 85.6L269.0 88.1" stroke="#8c5a3c" stroke-width="1.5"/>
<path d="M269.0 88.1L266.9 90.6" stroke="#e8201c" stroke-width="1.5"/>
<path d="M213.4 85.6L210.1 85.9" stroke="#8c5a3c" stroke-width="1.5"/>
<path d="M210.1 85.9L206.7 86.2" stroke="#e8201c" stroke-width="1.5"/>
<path d="M304.5 84.5L305.4 81.2" stroke="#8c5a3c" stroke-width="1.5"/>
<path d="M305.4 81.2L306.2 77.8" stroke="#e8201c" stroke-width="1.5"/>
<path d="M291.7 124.8L295.1 124.5" stroke="#8c5a3c" stroke-width="1.5"/>
<path d="M295.1 124.5L298.6 124.2" stroke="#8c5a3c" stroke-width="1.5"/>
<path d="M271.1 85.6L273.6 83.1" stroke="#8c5a3c" stroke-width="1.5"/>
<path d="M273.6 83.1L276.1 80.6" stroke="#e8201c" stroke-width="1.5"/>
<path d="M247.9 113.0L250.4 115.5" stroke="#8c5a3c" stroke-width="1.5"/>
<path d="M250.4 115.5L252.9 118.0" stroke="#aab4dc" stroke-width="1.5"/>
<path d="M314.1 108.6L317.2 106.8" stroke="#8c5a3c" stroke-width="1.5"/>
<path d="M317.2 106.8L320.3 104.9" stroke="#e8201c" stroke-width="1.5"/>
<path d="M309.3 79.0L306.9 81.8" stroke="#8c5a3c" stroke-width="1.5"/>
<path d="M306.9 81.8L304.5 84.5" stroke="#8c5a3c" stroke-width="1.5"/>
<path d="M262.8 119.2L265.8 117.1" stroke="#8c5a3c" stroke-width="1.5"/>
<path d="M265.8 117.1L268.7 114.9" stroke="#e8201c" stroke-width="1.5"/>
<path d="M265.7 67.3L268.8 65.3" stroke="#8c5a3c" stroke-width="1.5"/>
<path d="M268.8 65.3L271.9 63.4" stroke="#e8201c" stroke-width="1.5"/>
<path d="M310.1 69.5L310.9 65.9" stroke="#8c5a3c" stroke-width="1.5"/>
<path d="M310.9 65.9L311.7 62.3" stroke="#e8201c" stroke-width="1.5"/>
<path d="M270.6 86.9L273.4 89.3" stroke="#8c5a3c" stroke-width="1.5"/>
<path d="M273.4 89.3L276.2 91.8" stroke="#aab4dc" stroke-width="1.5"/>
<path d="M240.6 79.0L241.4 75.3" stroke="#8c5a3c" stroke-width="1.5"/>
<path d="M241.4 75.3L242.3 71.7" stroke="#e8201c" stroke-width="1.5"/>
<path d="M327.8 103.7L324.1 104.3" stroke="#8c5a3c" stroke-width="1.5"/>
<path d="M324.1 104.3L320.3 104.9" stroke="#e8201c" stroke-width="1.5"/>
<path d="M307.3 98.7L311.1 97.8" stroke="#8c5a3c" stroke-width="1.5"/>
<path d="M311.1 97.8L314.8 96.8" stroke="#8c5a3c" stroke-width="1.5"/>
<path d="M227.8 82.9L224.4 84.8" stroke="#8c5a3c" stroke-width="1.5"/>
<path d="M224.4 84.8L221.1 86.8" stroke="#8c5a3c" stroke-width="1.5"/>
<path d="M221.1 86.8L217.2 86.2" stroke="#8c5a3c" stroke-width="1.5"/>
<path d="M217.2 86.2L213.4 85.6" stroke="#8c5a3c" stroke-width="1.5"/>
<path d="M262.8 119.2L266.7 118.9" stroke="#8c5a3c" stroke-width="1.5"/>
<path d="M266.7 118.9L270.6 118.6" stroke="#8c5a3c" stroke-width="1.5"/>
<path d="M281.8 97.4L280.0 100.8" stroke="#8c5a3c" stroke-width="1.5"/>
<path d="M280.0 100.8L278.1 104.3" stroke="#e8201c" stroke-width="1.5"/>
<path d="M281.8 97.4L279.0 94.6" stroke="#8c5a3c" stroke-width="1.5"/>
<path d="M279.0 94.6L276.2 91.8" stroke="#aab4dc" stroke-width="1.5"/>
<path d="M271.1 85.6L273.6 88.7" stroke="#8c5a3c" stroke-width="1.5"/>
<path d="M273.6 88.7L276.2 91.8" stroke="#aab4dc" stroke-width="1.5"/>
<path d="M254.1 90.0L250.4 88.4" stroke="#8c5a3c" stroke-width="1.5"/>
<path d="M250.4 88.4L246.7 86.8" stroke="#e8201c" stroke-width="1.5"/>
<path d="M254.5 89.0L250.6 87.9" stroke="#8c5a3c" stroke-width="1.5"/>
<path d="M250.6 87.9L246.7 86.8" stroke="#e8201c" stroke-width="1.5"/>
<path d="M295.0 86.7L298.9 87.8" stroke="#8c5a3c" stroke-width="1.5"/>
<path d="M298.9 87.8L302.8 89.0" stroke="#e8201c" stroke-width="1.5"/>
<path d="M294.9 86.9L298.9 88.0" stroke="#8c5a3c" stroke-width="1.5"/>
<path d="M298.9 88.0L302.8 89.0" stroke="#e8201c" stroke-width="1.5"/>
<path d="M278.6 56.7L277.6 52.7" stroke="#8c5a3c" stroke-width="1.5"/>
<path d="M277.6 52.7L276.7 48.7" stroke="#e8201c" stroke-width="1.5"/>
<path d="M270.6 86.9L273.4 83.8" stroke="#8c5a3c" stroke-width="1.5"/>
<path d="M273.4 83.8L276.1 80.6" stroke="#e8201c" stroke-width="1.5"/>
<path d="M298.0 118.0L302.0 116.8" stroke="#8c5a3c" stroke-width="1.5"/>
<path d="M302.0 116.8L306.0 115.5" stroke="#8c5a3c" stroke-width="1.5"/>
<path d="M314.1 108.6L310.1 109.8" stroke="#8c5a3c" stroke-width="1.5"/>
<path d="M310.1 109.8L306.0 111.1" stroke="#8c5a3c" stroke-width="1.5"/>
<path d="M247.9 113.0L244.4 110.5" stroke="#8c5a3c" stroke-width="1.5"/>
<path d="M244.4 110.5L241.0 108.0" stroke="#e8201c" stroke-width="1.5"/>
<path d="M227.1 115.5L230.9 117.3" stroke="#8c5a3c" stroke-width="1.5"/>
<path d="M230.9 117.3L234.8 119.2" stroke="#e8201c" stroke-width="1.5"/>
<path d="M276.1 80.6L276.8 76.3" stroke="#e8201c" stroke-width="1.5"/>
<path d="M276.8 76.3L277.5 72.1" stroke="#3cb43c" stroke-width="1.5"/>
<path d="M236.7 88.4L239.5 91.7" stroke="#8c5a3c" stroke-width="1.5"/>
<path d="M239.5 91.7L242.3 95.0" stroke="#8c5a3c" stroke-width="1.5"/>
<path d="M236.7 88.4L233.9 85.1" stroke="#8c5a3c" stroke-width="1.5"/>
<path d="M233.9 85.1L231.2 81.7" stroke="#e8201c" stroke-width="1.5"/>
<path d="M219.3 111.7L223.2 113.6" stroke="#8c5a3c" stroke-width="1.5"/>
<path d="M223.2 113.6L227.1 115.5" stroke="#8c5a3c" stroke-width="1.5"/>
<path d="M213.4 85.6L213.6 89.9" stroke="#8c5a3c" stroke-width="1.5"/>
<path d="M213.6 89.9L213.7 94.3" stroke="#8c5a3c" stroke-width="1.5"/>
<path d="M327.8 116.7L330.9 119.8" stroke="#8c5a3c" stroke-width="1.5"/>
<path d="M330.9 119.8L334.0 122.9" stroke="#e8201c" stroke-width="1.5"/>
<path d="M288.1 60.0L291.9 57.7" stroke="#8c5a3c" stroke-width="1.5"/>
<path d="M291.9 57.7L295.6 55.4" stroke="#e8201c" stroke-width="1.5"/>
<path d="M243.5 121.1L246.9 123.9" stroke="#8c5a3c" stroke-width="1.5"/>
<path d="M246.9 123.9L250.4 126.7" stroke="#e8201c" stroke-width="1.5"/>
<path d="M243.5 121.1L239.2 120.2" stroke="#8c5a3c" stroke-width="1.5"/>
<path d="M239.2 120.2L234.8 119.2" stroke="#e8201c" stroke-width="1.5"/>
<path d="M247.9 113.0L252.2 112.0" stroke="#8c5a3c" stroke-width="1.5"/>
<path d="M252.2 112.0L256.6 111.1" stroke="#e8201c" stroke-width="1.5"/>
<path d="M292.4 95.6L293.6 91.2" stroke="#8c5a3c" stroke-width="1.5"/>
<path d="M293.6 91.2L294.9 86.9" stroke="#8c5a3c" stroke-width="1.5"/>
<path d="M254.3 56.7L258.9 57.0" stroke="#8c5a3c" stroke-width="1.5"/>
<path d="M258.9 57.0L263.4 57.3" stroke="#e8201c" stroke-width="1.5"/>
<path d="M242.3 95.0L244.4 91.0" stroke="#8c5a3c" stroke-width="1.5"/>
<path d="M244.4 91.0L246.6 86.9" stroke="#e8201c" stroke-width="1.5"/>
<path d="M227.8 82.9L229.8 87.1" stroke="#8c5a3c" stroke-width="1.5"/>
<path d="M229.8 87.1L231.7 91.2" stroke="#8c5a3c" stroke-width="1.5"/>
<path d="M310.1 69.5L308.1 73.7" stroke="#8c5a3c" stroke-width="1.5"/>
<path d="M308.1 73.7L306.2 77.8" stroke="#e8201c" stroke-width="1.5"/>
<path d="M295.0 86.7L299.3 88.3" stroke="#8c5a3c" stroke-width="1.5"/>
<path d="M299.3 88.3L303.6 90.0" stroke="#e8201c" stroke-width="1.5"/>
<path d="M243.5 121.1L245.7 117.0" stroke="#8c5a3c" stroke-width="1.5"/>
<path d="M245.7 117.0L247.9 113.0" stroke="#8c5a3c" stroke-width="1.5"/>
<path d="M327.8 116.7L329.4 112.3" stroke="#8c5a3c" stroke-width="1.5"/>
<path d="M329.4 112.3L330.9 108.0" stroke="#e8201c" stroke-width="1.5"/>
<path d="M294.9 86.9L299.2 88.5" stroke="#8c5a3c" stroke-width="1.5"/>
<path d="M299.2 88.5L303.6 90.0" stroke="#e8201c" stroke-width="1.5"/>
<path d="M291.7 124.8L294.9 121.4" stroke="#8c5a3c" stroke-width="1.5"/>
<path d="M294.9 121.4L298.0 118.0" stroke="#8c5a3c" stroke-width="1.5"/>
<path d="M295.0 86.7L293.7 91.2" stroke="#8c5a3c" stroke-width="1.5"/>
<path d="M293.7 91.2L292.4 95.6" stroke="#8c5a3c" stroke-width="1.5"/>
<path d="M213.4 85.6L217.9 84.2" stroke="#8c5a3c" stroke-width="1.5"/>
<path d="M217.9 84.2L222.3 82.9" stroke="#e8201c" stroke-width="1.5"/>
<path d="M242.3 95.0L244.5 90.9" stroke="#8c5a3c" stroke-width="1.5"/>
<path d="M244.5 90.9L246.7 86.8" stroke="#e8201c" stroke-width="1.5"/>
<path d="M327.8 116.7L323.1 117.3" stroke="#8c5a3c" stroke-width="1.5"/>
<path d="M323.1 117.3L318.5 118.0" stroke="#e8201c" stroke-width="1.5"/>
<path d="M307.3 98.7L305.5 94.3" stroke="#8c5a3c" stroke-width="1.5"/>
<path d="M305.5 94.3L303.6 90.0" stroke="#e8201c" stroke-width="1.5"/>
<path d="M278.6 56.7L275.2 60.0" stroke="#8c5a3c" stroke-width="1.5"/>
<path d="M275.2 60.0L271.9 63.4" stroke="#e8201c" stroke-width="1.5"/>
<path d="M288.1 60.0L288.0 64.8" stroke="#8c5a3c" stroke-width="1.5"/>
<path d="M288.0 64.8L287.8 69.5" stroke="#e8201c" stroke-width="1.5"/>
<path d="M231.7 91.2L231.4 86.5" stroke="#8c5a3c" stroke-width="1.5"/>
<path d="M231.4 86.5L231.2 81.7" stroke="#e8201c" stroke-width="1.5"/>
<path d="M310.1 69.5L309.7 74.2" stroke="#8c5a3c" stroke-width="1.5"/>
<path d="M309.7 74.2L309.3 79.0" stroke="#8c5a3c" stroke-width="1.5"/>
<path d="M276.2 121.1L272.4 118.0" stroke="#8c5a3c" stroke-width="1.5"/>
<path d="M272.4 118.0L268.7 114.9" stroke="#e8201c" stroke-width="1.5"/>
<path d="M291.7 124.8L288.6 121.0" stroke="#8c5a3c" stroke-width="1.5"/>
<path d="M288.6 121.0L285.5 117.3" stroke="#e8201c" stroke-width="1.5"/>
<path d="M240.6 79.0L235.9 80.3" stroke="#8c5a3c" stroke-width="1.5"/>
<path d="M235.9 80.3L231.2 81.7" stroke="#e8201c" stroke-width="1.5"/>
<path d="M314.8 96.8L317.6 100.8" stroke="#8c5a3c" stroke-width="1.5"/>
<path d="M317.6 100.8L320.3 104.9" stroke="#e8201c" stroke-width="1.5"/>
<path d="M276.2 121.1L275.9 126.0" stroke="#8c5a3c" stroke-width="1.5"/>
<path d="M275.9 126.0L275.6 131.0" stroke="#e8201c" stroke-width="1.5"/>
<path d="M240.6 79.0L243.6 83.0" stroke="#8c5a3c" stroke-width="1.5"/>
<path d="M243.6 83.0L246.6 86.9" stroke="#e8201c" stroke-width="1.5"/>
<path d="M309.3 79.0L310.8 74.2" stroke="#8c5a3c" stroke-width="1.5"/>
<path d="M310.8 74.2L312.3 69.5" stroke="#e8201c" stroke-width="1.5"/>
<path d="M262.8 119.2L257.9 118.6" stroke="#8c5a3c" stroke-width="1.5"/>
<path d="M257.9 118.6L252.9 118.0" stroke="#aab4dc" stroke-width="1.5"/>
<path d="M236.7 88.4L241.6 87.7" stroke="#8c5a3c" stroke-width="1.5"/>
<path d="M241.6 87.7L246.6 86.9" stroke="#e8201c" stroke-width="1.5"/>
<path d="M276.2 121.1L280.9 119.2" stroke="#8c5a3c" stroke-width="1.5"/>
<path d="M280.9 119.2L285.5 117.3" stroke="#e8201c" stroke-width="1.5"/>
<path d="M278.1 110.5L281.8 113.9" stroke="#8c5a3c" stroke-width="1.5"/>
<path d="M281.8 113.9L285.5 117.3" stroke="#e8201c" stroke-width="1.5"/>
<path d="M278.6 56.7L283.4 58.4" stroke="#8c5a3c" stroke-width="1.5"/>
<path d="M283.4 58.4L288.1 60.0" stroke="#8c5a3c" stroke-width="1.5"/>
<path d="M270.0 95.6L267.9 100.2" stroke="#e8201c" stroke-width="1.5"/>
<path d="M267.9 100.2L265.9 104.9" stroke="#9be08a" stroke-width="1.5"/>
<path d="M223.6 97.4L227.6 94.3" stroke="#8c5a3c" stroke-width="1.5"/>
<path d="M227.6 94.3L231.7 91.2" stroke="#8c5a3c" stroke-width="1.5"/>
<path d="M262.8 119.2L259.7 115.2" stroke="#8c5a3c" stroke-width="1.5"/>
<path d="M259.7 115.2L256.6 111.1" stroke="#e8201c" stroke-width="1.5"/>
<path d="M265.7 67.3L264.5 62.3" stroke="#8c5a3c" stroke-width="1.5"/>
<path d="M264.5 62.3L263.4 57.3" stroke="#e8201c" stroke-width="1.5"/>
<path d="M271.9 63.4L274.7 67.8" stroke="#e8201c" stroke-width="1.5"/>
<path d="M274.7 67.8L277.5 72.1" stroke="#3cb43c" stroke-width="1.5"/>
<path d="M285.5 134.1L280.6 132.6" stroke="#8c5a3c" stroke-width="1.5"/>
<path d="M280.6 132.6L275.6 131.0" stroke="#e8201c" stroke-width="1.5"/>
<path d="M256.0 127.9L254.4 123.0" stroke="#8c5a3c" stroke-width="1.5"/>
<path d="M254.4 123.0L252.9 118.0" stroke="#aab4dc" stroke-width="1.5"/>
<path d="M213.7 94.3L218.6 95.8" stroke="#8c5a3c" stroke-width="1.5"/>
<path d="M218.6 95.8L223.6 97.4" stroke="#8c5a3c" stroke-width="1.5"/>
<path d="M314.1 108.6L316.3 113.3" stroke="#8c5a3c" stroke-width="1.5"/>
<path d="M316.3 113.3L318.5 118.0" stroke="#e8201c" stroke-width="1.5"/>
<path d="M278.1 110.5L273.4 112.7" stroke="#8c5a3c" stroke-width="1.5"/>
<path d="M273.4 112.7L268.7 114.9" stroke="#e8201c" stroke-width="1.5"/>
<path d="M241.2 46.1L246.4 46.1" stroke="#8c5a3c" stroke-width="1.5"/>
<path d="M246.4 46.1L251.7 46.1" stroke="#8c5a3c" stroke-width="1.5"/>
<path d="M221.1 86.8L217.4 90.5" stroke="#8c5a3c" stroke-width="1.5"/>
<path d="M217.4 90.5L213.7 94.3" stroke="#8c5a3c" stroke-width="1.5"/>
<path d="M298.0 118.0L302.0 114.5" stroke="#8c5a3c" stroke-width="1.5"/>
<path d="M302.0 114.5L306.0 111.1" stroke="#8c5a3c" stroke-width="1.5"/>
<path d="M287.8 69.5L282.6 70.8" stroke="#e8201c" stroke-width="1.5"/>
<path d="M282.6 70.8L277.5 72.1" stroke="#3cb43c" stroke-width="1.5"/>
<path d="M314.1 108.6L310.1 112.0" stroke="#8c5a3c" stroke-width="1.5"/>
<path d="M310.1 112.0L306.0 115.5" stroke="#8c5a3c" stroke-width="1.5"/>
<path d="M307.3 98.7L305.1 93.8" stroke="#8c5a3c" stroke-width="1.5"/>
<path d="M305.1 93.8L302.8 89.0" stroke="#e8201c" stroke-width="1.5"/>
<path d="M213.7 94.3L210.2 90.2" stroke="#8c5a3c" stroke-width="1.5"/>
<path d="M210.2 90.2L206.7 86.2" stroke="#e8201c" stroke-width="1.5"/>
<path d="M281.8 97.4L287.1 96.5" stroke="#8c5a3c" stroke-width="1.5"/>
<path d="M287.1 96.5L292.4 95.6" stroke="#8c5a3c" stroke-width="1.5"/>
<path d="M256.0 127.9L251.0 125.8" stroke="#8c5a3c" stroke-width="1.5"/>
<path d="M251.0 125.8L246.0 123.6" stroke="#e8201c" stroke-width="1.5"/>
<path d="M251.7 46.1L253.0 51.4" stroke="#8c5a3c" stroke-width="1.5"/>
<path d="M253.0 51.4L254.3 56.7" stroke="#8c5a3c" stroke-width="1.5"/>
<path d="M278.1 110.5L274.4 114.5" stroke="#8c5a3c" stroke-width="1.5"/>
<path d="M274.4 114.5L270.6 118.6" stroke="#8c5a3c" stroke-width="1.5"/>
<path d="M245.6 82.3L243.9 77.0" stroke="#8c5a3c" stroke-width="1.5"/>
<path d="M243.9 77.0L242.3 71.7" stroke="#e8201c" stroke-width="1.5"/>
<path d="M256.6 111.1L261.2 108.0" stroke="#e8201c" stroke-width="1.5"/>
<path d="M261.2 108.0L265.9 104.9" stroke="#9be08a" stroke-width="1.5"/>
<path d="M291.7 124.8L288.6 129.4" stroke="#8c5a3c" stroke-width="1.5"/>
<path d="M288.6 129.4L285.5 134.1" stroke="#8c5a3c" stroke-width="1.5"/>
<path d="M278.1 104.3L272.0 104.6" stroke="#e8201c" stroke-width="1.5"/>
<path d="M272.0 104.6L265.9 104.9" stroke="#9be08a" stroke-width="1.5"/>
<path d="M257.5 94.3L261.7 99.6" stroke="#e8201c" stroke-width="1.5"/>
<path d="M261.7 99.6L265.9 104.9" stroke="#9be08a" stroke-width="1.5"/>
<path d="M266.9 90.6L266.4 97.8" stroke="#e8201c" stroke-width="1.5"/>
<path d="M266.4 97.8L265.9 104.9" stroke="#9be08a" stroke-width="1.5"/>
<path d="M233.4 46.7L237.3 46.4" stroke="#f0d8d8" stroke-width="1.5"/>
<path d="M237.3 46.4L241.2 46.1" stroke="#8c5a3c" stroke-width="1.5"/>
<path d="M244.0 39.5L242.6 42.8" stroke="#f0d8d8" stroke-width="1.5"/>
<path d="M242.6 42.8L241.2 46.1" stroke="#8c5a3c" stroke-width="1.5"/>
<path d="M244.5 52.8L242.8 49.5" stroke="#f0d8d8" stroke-width="1.5"/>
<path d="M242.8 49.5L241.2 46.1" stroke="#8c5a3c" stroke-width="1.5"/>
<path d="M253.4 41.7L252.6 43.9" stroke="#f0d8d8" stroke-width="1.5"/>
<path d="M252.6 43.9L251.7 46.1" stroke="#8c5a3c" stroke-width="1.5"/>
<path d="M257.3 43.4L254.5 44.8" stroke="#f0d8d8" stroke-width="1.5"/>
<path d="M254.5 44.8L251.7 46.1" stroke="#8c5a3c" stroke-width="1.5"/>
<path d="M249.0 59.8L251.7 58.2" stroke="#f0d8d8" stroke-width="1.5"/>
<path d="M251.7 58.2L254.3 56.7" stroke="#8c5a3c" stroke-width="1.5"/>
<path d="M254.5 61.2L254.4 59.0" stroke="#f0d8d8" stroke-width="1.5"/>
<path d="M254.4 59.0L254.3 56.7" stroke="#8c5a3c" stroke-width="1.5"/>
<path d="M262.3 72.3L264.0 69.8" stroke="#f0d8d8" stroke-width="1.5"/>
<path d="M264.0 69.8L265.7 67.3" stroke="#8c5a3c" stroke-width="1.5"/>
<path d="M230.0 75.1L228.9 79.0" stroke="#f0d8d8" stroke-width="1.5"/>
<path d="M228.9 79.0L227.8 82.9" stroke="#8c5a3c" stroke-width="1.5"/>
<path d="M246.2 76.7L245.9 79.5" stroke="#f0d8d8" stroke-width="1.5"/>
<path d="M245.9 79.5L245.6 82.3" stroke="#8c5a3c" stroke-width="1.5"/>
<path d="M256.8 84.5L258.1 86.5" stroke="#f0d8d8" stroke-width="1.5"/>
<path d="M258.1 86.5L259.5 88.4" stroke="#aab4dc" stroke-width="1.5"/>
<path d="M314.0 81.7L311.6 80.3" stroke="#f0d8d8" stroke-width="1.5"/>
<path d="M311.6 80.3L309.3 79.0" stroke="#8c5a3c" stroke-width="1.5"/>
<path d="M290.6 80.6L292.8 83.7" stroke="#f0d8d8" stroke-width="1.5"/>
<path d="M292.8 83.7L295.0 86.7" stroke="#8c5a3c" stroke-width="1.5"/>
<path d="M208.7 98.1L211.2 96.2" stroke="#f0d8d8" stroke-width="1.5"/>
<path d="M211.2 96.2L213.7 94.3" stroke="#8c5a3c" stroke-width="1.5"/>
<path d="M224.9 104.3L224.2 100.8" stroke="#f0d8d8" stroke-width="1.5"/>
<path d="M224.2 100.8L223.6 97.4" stroke="#8c5a3c" stroke-width="1.5"/>
<path d="M224.9 108.6L222.1 110.2" stroke="#f0d8d8" stroke-width="1.5"/>
<path d="M222.1 110.2L219.3 111.7" stroke="#8c5a3c" stroke-width="1.5"/>
<path d="M216.2 105.5L217.8 108.6" stroke="#f0d8d8" stroke-width="1.5"/>
<path d="M217.8 108.6L219.3 111.7" stroke="#8c5a3c" stroke-width="1.5"/>
<path d="M213.0 117.4L216.2 114.6" stroke="#f0d8d8" stroke-width="1.5"/>
<path d="M216.2 114.6L219.3 111.7" stroke="#8c5a3c" stroke-width="1.5"/>
<path d="M221.0 121.0L224.1 118.2" stroke="#f0d8d8" stroke-width="1.5"/>
<path d="M224.1 118.2L227.1 115.5" stroke="#8c5a3c" stroke-width="1.5"/>
<path d="M244.8 129.2L244.2 125.1" stroke="#f0d8d8" stroke-width="1.5"/>
<path d="M244.2 125.1L243.5 121.1" stroke="#8c5a3c" stroke-width="1.5"/>
<path d="M238.6 126.0L241.1 123.5" stroke="#f0d8d8" stroke-width="1.5"/>
<path d="M241.1 123.5L243.5 121.1" stroke="#8c5a3c" stroke-width="1.5"/>
<path d="M256.0 132.0L256.0 129.9" stroke="#f0d8d8" stroke-width="1.5"/>
<path d="M256.0 129.9L256.0 127.9" stroke="#8c5a3c" stroke-width="1.5"/>
<path d="M282.4 109.9L280.2 110.2" stroke="#f0d8d8" stroke-width="1.5"/>
<path d="M280.2 110.2L278.1 110.5" stroke="#8c5a3c" stroke-width="1.5"/>
<path d="M294.9 100.5L293.6 98.0" stroke="#f0d8d8" stroke-width="1.5"/>
<path d="M293.6 98.0L292.4 95.6" stroke="#8c5a3c" stroke-width="1.5"/>
<path d="M302.3 103.7L304.8 101.2" stroke="#f0d8d8" stroke-width="1.5"/>
<path d="M304.8 101.2L307.3 98.7" stroke="#8c5a3c" stroke-width="1.5"/>
<path d="M311.6 94.3L313.2 95.5" stroke="#f0d8d8" stroke-width="1.5"/>
<path d="M313.2 95.5L314.8 96.8" stroke="#8c5a3c" stroke-width="1.5"/>
<path d="M319.1 90.6L317.0 93.7" stroke="#f0d8d8" stroke-width="1.5"/>
<path d="M317.0 93.7L314.8 96.8" stroke="#8c5a3c" stroke-width="1.5"/>
<path d="M332.8 98.0L330.3 100.8" stroke="#f0d8d8" stroke-width="1.5"/>
<path d="M330.3 100.8L327.8 103.7" stroke="#8c5a3c" stroke-width="1.5"/>
<path d="M302.3 108.0L304.1 109.5" stroke="#f0d8d8" stroke-width="1.5"/>
<path d="M304.1 109.5L306.0 111.1" stroke="#8c5a3c" stroke-width="1.5"/>
<path d="M294.9 114.2L296.4 116.1" stroke="#f0d8d8" stroke-width="1.5"/>
<path d="M296.4 116.1L298.0 118.0" stroke="#8c5a3c" stroke-width="1.5"/>
<path d="M310.4 117.4L308.2 116.5" stroke="#f0d8d8" stroke-width="1.5"/>
<path d="M308.2 116.5L306.0 115.5" stroke="#8c5a3c" stroke-width="1.5"/>
<path d="M303.6 130.4L301.1 127.3" stroke="#f0d8d8" stroke-width="1.5"/>
<path d="M301.1 127.3L298.6 124.2" stroke="#8c5a3c" stroke-width="1.5"/>
<path d="M286.8 138.5L286.1 136.3" stroke="#f0d8d8" stroke-width="1.5"/>
<path d="M286.1 136.3L285.5 134.1" stroke="#8c5a3c" stroke-width="1.5"/>
<path d="M292.4 118.6L295.2 118.3" stroke="#f0d8d8" stroke-width="1.5"/>
<path d="M295.2 118.3L298.0 118.0" stroke="#8c5a3c" stroke-width="1.5"/>
<path d="M273.7 124.8L274.9 122.9" stroke="#f0d8d8" stroke-width="1.5"/>
<path d="M274.9 122.9L276.2 121.1" stroke="#8c5a3c" stroke-width="1.5"/>
<path d="M283.7 109.9L280.9 110.2" stroke="#f0d8d8" stroke-width="1.5"/>
<path d="M280.9 110.2L278.1 110.5" stroke="#8c5a3c" stroke-width="1.5"/>
<path d="M217.0 92.0L215.3 93.2" stroke="#f0d8d8" stroke-width="1.5"/>
<path d="M215.3 93.2L213.7 94.3" stroke="#8c5a3c" stroke-width="1.5"/>
<path d="M233.0 100.0L232.3 95.6" stroke="#f0d8d8" stroke-width="1.5"/>
<path d="M232.3 95.6L231.7 91.2" stroke="#8c5a3c" stroke-width="1.5"/>
<circle cx="233.4" cy="46.7" r="1.4" fill="url(#gH)"/>
<circle cx="244.0" cy="39.5" r="1.4" fill="url(#gH)"/>
<circle cx="244.5" cy="52.8" r="1.4" fill="url(#gH)"/>
<circle cx="253.4" cy="41.7" r="1.4" fill="url(#gH)"/>
<circle cx="257.3" cy="43.4" r="1.4" fill="url(#gH)"/>
<circle cx="249.0" cy="59.8" r="1.4" fill="url(#gH)"/>
<circle cx="254.5" cy="61.2" r="1.4" fill="url(#gH)"/>
<circle cx="262.3" cy="72.3" r="1.4" fill="url(#gH)"/>
<circle cx="230.0" cy="75.1" r="1.4" fill="url(#gH)"/>
<circle cx="246.2" cy="76.7" r="1.4" fill="url(#gH)"/>
<circle cx="256.8" cy="84.5" r="1.4" fill="url(#gH)"/>
<circle cx="314.0" cy="81.7" r="1.4" fill="url(#gH)"/>
<circle cx="290.6" cy="80.6" r="1.4" fill="url(#gH)"/>
<circle cx="208.7" cy="98.1" r="1.4" fill="url(#gH)"/>
<circle cx="224.9" cy="104.3" r="1.4" fill="url(#gH)"/>
<circle cx="224.9" cy="108.6" r="1.4" fill="url(#gH)"/>
<circle cx="216.2" cy="105.5" r="1.4" fill="url(#gH)"/>
<circle cx="213.0" cy="117.4" r="1.4" fill="url(#gH)"/>
<circle cx="221.0" cy="121.0" r="1.4" fill="url(#gH)"/>
<circle cx="244.8" cy="129.2" r="1.4" fill="url(#gH)"/>
<circle cx="238.6" cy="126.0" r="1.4" fill="url(#gH)"/>
<circle cx="256.0" cy="132.0" r="1.4" fill="url(#gH)"/>
<circle cx="282.4" cy="109.9" r="1.4" fill="url(#gH)"/>
<circle cx="294.9" cy="100.5" r="1.4" fill="url(#gH)"/>
<circle cx="302.3" cy="103.7" r="1.4" fill="url(#gH)"/>
<circle cx="311.6" cy="94.3" r="1.4" fill="url(#gH)"/>
<circle cx="319.1" cy="90.6" r="1.4" fill="url(#gH)"/>
<circle cx="332.8" cy="98.0" r="1.4" fill="url(#gH)"/>
<circle cx="302.3" cy="108.0" r="1.4" fill="url(#gH)"/>
<circle cx="294.9" cy="114.2" r="1.4" fill="url(#gH)"/>
<circle cx="310.4" cy="117.4" r="1.4" fill="url(#gH)"/>
<circle cx="303.6" cy="130.4" r="1.4" fill="url(#gH)"/>
<circle cx="286.8" cy="138.5" r="1.4" fill="url(#gH)"/>
<circle cx="292.4" cy="118.6" r="1.4" fill="url(#gH)"/>
<circle cx="273.7" cy="124.8" r="1.4" fill="url(#gH)"/>
<circle cx="283.7" cy="109.9" r="1.4" fill="url(#gH)"/>
<circle cx="266.3" cy="48.5" r="1.4" fill="url(#gH)"/>
<circle cx="217.0" cy="92.0" r="1.4" fill="url(#gH)"/>
<circle cx="233.0" cy="100.0" r="1.4" fill="url(#gH)"/>
<circle cx="241.2" cy="46.1" r="2.0" fill="url(#gC)"/>
<circle cx="251.7" cy="46.1" r="2.0" fill="url(#gC)"/>
<circle cx="254.3" cy="56.7" r="2.0" fill="url(#gC)"/>
<circle cx="265.7" cy="67.3" r="2.0" fill="url(#gC)"/>
<circle cx="240.6" cy="79.0" r="2.0" fill="url(#gC)"/>
<circle cx="227.8" cy="82.9" r="2.0" fill="url(#gC)"/>
<circle cx="221.1" cy="86.8" r="2.0" fill="url(#gC)"/>
<circle cx="213.4" cy="85.6" r="2.0" fill="url(#gC)"/>
<circle cx="236.7" cy="88.4" r="2.0" fill="url(#gC)"/>
<circle cx="245.6" cy="82.3" r="2.0" fill="url(#gC)"/>
<circle cx="254.5" cy="89.0" r="2.0" fill="url(#gC)"/>
<circle cx="278.6" cy="56.7" r="2.0" fill="url(#gC)"/>
<circle cx="288.1" cy="60.0" r="2.0" fill="url(#gC)"/>
<circle cx="271.1" cy="85.6" r="2.0" fill="url(#gC)"/>
<circle cx="310.1" cy="69.5" r="2.0" fill="url(#gC)"/>
<circle cx="309.3" cy="79.0" r="2.0" fill="url(#gC)"/>
<circle cx="304.5" cy="84.5" r="2.0" fill="url(#gC)"/>
<circle cx="295.0" cy="86.7" r="2.0" fill="url(#gC)"/>
<circle cx="213.7" cy="94.3" r="2.0" fill="url(#gC)"/>
<circle cx="223.6" cy="97.4" r="2.0" fill="url(#gC)"/>
<circle cx="231.7" cy="91.2" r="2.0" fill="url(#gC)"/>
<circle cx="242.3" cy="95.0" r="2.0" fill="url(#gC)"/>
<circle cx="254.1" cy="90.0" r="2.0" fill="url(#gC)"/>
<circle cx="219.3" cy="111.7" r="2.0" fill="url(#gC)"/>
<circle cx="227.1" cy="115.5" r="2.0" fill="url(#gC)"/>
<circle cx="243.5" cy="121.1" r="2.0" fill="url(#gC)"/>
<circle cx="247.9" cy="113.0" r="2.0" fill="url(#gC)"/>
<circle cx="256.0" cy="127.9" r="2.0" fill="url(#gC)"/>
<circle cx="262.8" cy="119.2" r="2.0" fill="url(#gC)"/>
<circle cx="270.6" cy="86.9" r="2.0" fill="url(#gC)"/>
<circle cx="281.8" cy="97.4" r="2.0" fill="url(#gC)"/>
<circle cx="292.4" cy="95.6" r="2.0" fill="url(#gC)"/>
<circle cx="294.9" cy="86.9" r="2.0" fill="url(#gC)"/>
<circle cx="307.3" cy="98.7" r="2.0" fill="url(#gC)"/>
<circle cx="314.8" cy="96.8" r="2.0" fill="url(#gC)"/>
<circle cx="327.8" cy="103.7" r="2.0" fill="url(#gC)"/>
<circle cx="314.1" cy="108.6" r="2.0" fill="url(#gC)"/>
<circle cx="327.8" cy="116.7" r="2.0" fill="url(#gC)"/>
<circle cx="278.1" cy="110.5" r="2.0" fill="url(#gC)"/>
<circle cx="270.6" cy="118.6" r="2.0" fill="url(#gC)"/>
<circle cx="276.2" cy="121.1" r="2.0" fill="url(#gC)"/>
<circle cx="291.7" cy="124.8" r="2.0" fill="url(#gC)"/>
<circle cx="285.5" cy="134.1" r="2.0" fill="url(#gC)"/>
<circle cx="298.6" cy="124.2" r="2.0" fill="url(#gC)"/>
<circle cx="298.0" cy="118.0" r="2.0" fill="url(#gC)"/>
<circle cx="306.0" cy="111.1" r="2.0" fill="url(#gC)"/>
<circle cx="306.0" cy="115.5" r="2.0" fill="url(#gC)"/>
<circle cx="259.5" cy="88.4" r="1.9" fill="url(#gN)"/>
<circle cx="276.2" cy="91.8" r="1.9" fill="url(#gN)"/>
<circle cx="252.9" cy="118.0" r="1.9" fill="url(#gN)"/>
<circle cx="246.5" cy="45.8" r="2.2" fill="url(#gO)"/>
<circle cx="263.4" cy="57.3" r="2.2" fill="url(#gO)"/>
<circle cx="242.3" cy="71.7" r="2.2" fill="url(#gO)"/>
<circle cx="231.2" cy="81.7" r="2.2" fill="url(#gO)"/>
<circle cx="222.3" cy="82.9" r="2.2" fill="url(#gO)"/>
<circle cx="206.7" cy="86.2" r="2.2" fill="url(#gO)"/>
<circle cx="246.7" cy="86.8" r="2.2" fill="url(#gO)"/>
<circle cx="276.7" cy="48.7" r="2.2" fill="url(#gO)"/>
<circle cx="295.6" cy="55.4" r="2.2" fill="url(#gO)"/>
<circle cx="271.9" cy="63.4" r="2.2" fill="url(#gO)"/>
<circle cx="287.8" cy="69.5" r="2.2" fill="url(#gO)"/>
<circle cx="274.1" cy="76.2" r="2.2" fill="url(#gO)"/>
<circle cx="276.1" cy="80.6" r="2.2" fill="url(#gO)"/>
<circle cx="311.7" cy="62.3" r="2.2" fill="url(#gO)"/>
<circle cx="312.3" cy="69.5" r="2.2" fill="url(#gO)"/>
<circle cx="306.2" cy="77.8" r="2.2" fill="url(#gO)"/>
<circle cx="302.8" cy="89.0" r="2.2" fill="url(#gO)"/>
<circle cx="246.6" cy="86.9" r="2.2" fill="url(#gO)"/>
<circle cx="257.5" cy="94.3" r="2.2" fill="url(#gO)"/>
<circle cx="234.8" cy="119.2" r="2.2" fill="url(#gO)"/>
<circle cx="241.0" cy="108.0" r="2.2" fill="url(#gO)"/>
<circle cx="256.6" cy="111.1" r="2.2" fill="url(#gO)"/>
<circle cx="246.0" cy="123.6" r="2.2" fill="url(#gO)"/>
<circle cx="250.4" cy="126.7" r="2.2" fill="url(#gO)"/>
<circle cx="266.9" cy="90.6" r="2.2" fill="url(#gO)"/>
<circle cx="270.0" cy="95.6" r="2.2" fill="url(#gO)"/>
<circle cx="303.6" cy="90.0" r="2.2" fill="url(#gO)"/>
<circle cx="320.3" cy="104.9" r="2.2" fill="url(#gO)"/>
<circle cx="330.9" cy="108.0" r="2.2" fill="url(#gO)"/>
<circle cx="318.5" cy="118.0" r="2.2" fill="url(#gO)"/>
<circle cx="334.0" cy="122.9" r="2.2" fill="url(#gO)"/>
<circle cx="278.1" cy="104.3" r="2.2" fill="url(#gO)"/>
<circle cx="268.7" cy="114.9" r="2.2" fill="url(#gO)"/>
<circle cx="285.5" cy="117.3" r="2.2" fill="url(#gO)"/>
<circle cx="275.6" cy="131.0" r="2.2" fill="url(#gO)"/>
<circle cx="277.5" cy="72.1" r="2.3" fill="url(#gB)"/>
<circle cx="265.9" cy="104.9" r="4.5" fill="url(#gL)"/>
<text x="344.2" y="19.3" font-size="18" text-anchor="start" fill="#000" color="#000" class="pl">b</text>
<g clip-path="url(#cpb)"><rect x="371" y="23.2" width="130.3" height="130.5" fill="url(#t3)"/><rect x="340" y="1.1999999999999993" width="130.3" height="130.5" fill="url(#t2)" transform="translate(31 22)"/><path d="M393.4 160.8l-.1 2.3 .2 2.3 .7 2.2 .6 2.2M376.4 18.2l 0 2.3-2.2.7-1.3-1.9 1.4-1.8 2.2.8M376.4 18.2l 1.8-1.5 2.3 0 2.3.4M369.2 151.6l-2.3 0-2.3.4-1.3 1.9-2.2.8-1.9 1.4M509.7 21.3l-.2-2.3 2.1-.9 1.5 1.7-1.2 2-2.2-.5M509.6 79.3l 2-1.1 1.9-1.3 2.3.4 2.3.1 2.2.7 .3 2.3 1.6 1.6M506.3 141.5l 2.2-.5 1.2 2-1.5 1.7-2.1-.9 .2-2.3M509.8 142.9l 2 .2M506.3 141.5l-1.7-1.5-2.3.1-2.3-.4M413.9 163.7l 2-1.1 2.3.1 1 2.1 .4 2.3M422.8 156.8l 1.6-1.6 .1-2.3-1.1-2-2.1-.9-1.7-1.6-1.6-1.6M372.4 38.7l-.9 2.1-2.3-.2-.5-2.2 2-1.2 1.7 1.5M505.1 113.5l-.8 2.1-2.3-.1-.6-2.2 1.9-1.2 1.8 1.5M505.1 113.5l 2.3-.2 2.2-.6M365.7 122.4l-1.1 2-2.3-.4-.3-2.3 2.1-1 1.6 1.6M362.3 124l-1.4 1.4M370.9 64.3l 2.2.7 1.9 1.3 2.3.5 2.2.8 2.3.4 1.7-1.5 2.1 1M501.5 146.1l-.9-2.1 1.8-1.5 2 1.2-.5 2.2-2.3.2M502.4 142.5l-.2-2M501.5 146.1l-2.2.8-1.2 2M367.7 62.8l 1.2-2 2.2.5 .2 2.3-2.1.9-1.5-1.7M367.7 62.8l-1.9-1.3M376.4 154.7l .2-2.3 .8-2.1 1.9-1.3 1.9 1.2 1.6 1.7 .5 2.2M432.6 20.5l 2.3.4 2.2-.6 2.1.9 2.1.8M377.4 23.7l-1.6-1.6 1.1-2 2.3.4 .3 2.3-2.1 1M377.4 23.7l-.4 2.3M402.6 157.3l-1.5-1.8 1.2-1.9 2.2.6 .2 2.3-2.1.9M442.9 155.1l 2.1 1-.3 2.3-2.3.4-1.1-2 1.6-1.7M442.9 155.1l 1.3-1.9 1.7-1.6 2.2-.7M509.2 128l .2 2.3-2.1.9-1.5-1.7 1.2-2 2.2.5M509.2 128l 2.1-.8M444.8 156.9l 1.2-2-1-2.1-.8-2.2 1-2.1 1.3-1.9 2.2-.6 1.6-1.7M503.4 27.4l-2.3 0-.7-2.2 1.9-1.3 1.8 1.4-.7 2.2M503.4 27.4l 1.1 2 2.2.6 2.3 0M425.1 22l 2.3-.3 .5-2.2-1-2.1-.4-2.3 .6-2.2-1.5-1.7-2.2.5M501.2 18.1l-2.3 0-1.5-1.8-1.7-1.6-.3-2.3M491.6 155.5l .1-2.3 2.2-.6 1.2 1.9-1.5 1.8-2.1-.8M493.9 152.6l .7-1.9M491.6 155.5l-1.8 1.4-1.1 2-.8 2.1M420 158.4l .6-2.2 2.3-.1 .8 2.1-1.8 1.5-1.9-1.2M422.8 156.1l 1.1-1.7M420 158.4l-1.2 2-2.2.7-2.2.6M362.7 151.3l 1.1-2 2.2.5 .2 2.3-2.1.9-1.5-1.7M362.7 151.3l-2.2-.5-2.3.3-2-1.2M370.2 96.2l-.9 2.1-2.3-.2-.5-2.2 2-1.2 1.7 1.5M367 98.2l-1.3 1.5M370.2 96.2l 2-1.2 .8-2.1 1.2-2M384.5 20.4l 2.1.8 .6 2.2 0 2.3-1.9 1.2-2.1-.8-1.5-1.8M505.9 140.3l 2.2.6 1.7 1.5 2.3-.1 1.8-1.5 2.3.3 .7 2.2M368.9 40.5l-.1-2.3 2.1-.8 1.4 1.8-1.3 1.9-2.2-.6M370.9 37.4l .5-1.9M459.5 163.6l-1.4-1.8 1.3-1.9 2.2.7 0 2.3-2.2.7M459.5 159.9l-.6-1.9M459.5 163.6l-2 1.2-2.2.6-1.5 1.7M369 73.7l 2.1 1 2.2.8 2 1.1 2.3-.2 2.2-.6 2.2.6 1.5 1.8M365.8 56.4l 2.2-.5 1.2 2-1.5 1.7-2.1-.9 .2-2.3M369.2 57.8l 2 .2M362.8 89.3l-.2-2.3 1.8-1.5 1.9-1.3 1-2.1 2.3-.1M501.5 131.8l-.1-2.3 2.2-.8 1.4 1.8-1.3 1.9-2.2-.6M503.6 128.7l .6-1.9M502.4 138.6l 1.2 2-1.5 1.7-2.1-.9 .2-2.3 2.2-.5M502.4 138.6l-.4-2.3M501.6 109.8l 2.1.9 2.3-.1 1.3-1.9-.6-2.2 1-2.1 .8-2.2M501.7 101.3l-1.9 1.3 .2 2.3 1.2 2 2.3-.2 1.8 1.5 1.3 1.9-.1 2.3 1 2.1M370.5 15l 1.5 1.7-1.2 2-2.2-.5-.2-2.3 2.1-.9M370.5 15l 2.1-1 2.3-.4M505.9 151.3l-1.7-1.5 .9-2.1 2.3.2 .5 2.2-2 1.2M505.9 151.3l-1.6 1.7-1.9 1.4M452.3 19.5l 2.1 1 1.6 1.7 1.4 1.8 2.1 1M419 19.6l-.9 2.1-2.3-.2-.6-2.2 1.9-1.2 1.8 1.5M415.9 21.6l-1.3 1.5M419 19.6l 2.3-.2M504 68.3l-.1-2.3 2.2-.8 1.4 1.8-1.3 1.9-2.2-.6M504 68.3l-.3 2.3-1.7 1.5M369.9 77.5l .2-2.3 .8-2.2 2.2-.5 2.3.1 1.2-1.9 2.3.1 1.9 1.3-.3 2.3M414.5 20.6l 1.3 1.9-1.4 1.8-2.2-.8 .1-2.3 2.2-.6M416.9 22.5l-.1-2.3 2.1-1 1.8 1.4 0 2.3 .7 2.2-.8 2.2 1.2 1.9M479 154.2l 2.3.3 2.2.8 2.3-.1 1.8 1.4-.1 2.3M412 156.4l 2 1.2 2.3-.3 2-1.1 .3-2.3 0-2.3 1.5-1.8 .8-2.1M364.3 136.5l-1 2.1-1 2.1 .5 2.2 2.1.8 2.2.5 2.2.6 2.3-.3M384.8 18.1l 2.2-.7 2.1 1 .3 2.3-1.3 1.9-1.6 1.6M370.1 100.3l-2-1.1 .4-2.3 2.3-.3 1 2.1-1.7 1.6M370.1 100.3l 1.1 2M504.1 72.9l-1.4-1.8-2.2.6-2.3.1-2.3.2-2.2-.6-2-1.1-2.1.8M502.6 91.5l 2.2.7 1.7 1.5 2.2.8 2.3.5 1.6-1.6M406 156.3l-.2-2.3-1.7-1.5 0-2.3-.8-2.2M370.5 138.5l-1.9-1.4-2-1.2-.1-2.3 .5-2.2 2.2-.8 2 1 .1 2.3 1.9 1.3M500.5 159l 1 2.1-1.7 1.6-2-1.1 .5-2.3 2.3-.3M499.8 162.7l .2 2M476.6 157.7l-1.4-1.8 1.3-1.9 2.2.7 0 2.3-2.2.8M476.5 154l-.7-1.9M476.6 157.7l-1.2 1.9-.6 2.2 .8 2.1M490.8 15.8l-1 2.1-2.3.1-1 2.1-2.1.8-2.3.4-2 1.1-1.4 1.8-.8 2.1M433 159.5l 2.3.1 2-1.2 2.3.3 1.9 1.3M503.8 122.3l-2.1.9-1.5-1.7 1.2-2 2.2.5 .2 2.3M368.9 107.3l-.8 2.2-2.3-.1-.6-2.2 1.9-1.3 1.8 1.4M493.7 18.4l-1-2.1 1.3-1.9-1.2-2-1.4-1.9 1.1-2M368.3 113.2l 1.5-1.7 2.1.9-.2 2.3-2.2.5-1.2-2M368.3 113.2l-1.3-1.9M480.7 155.1l 1-2.1 .6-2.2 1.8-1.4 1-2.1M485 15.9l 2.3-.2 .9 2.1-1.8 1.5-2-1.2 .5-2.2M485 15.9l-.4-2.3 .4-2.3 .5-2.2M399.7 156.5l-2-1.1-2.2.7-2.2-.7-1.7 1.5 0 2.3 .7 2.2 2.2.6M370.7 119l 1.5-1.7 2.1-.9 2.1-1 2.3.3 .7 2.2 1.3 1.9 1.6 1.7M375.1 159.7l 1.6 1.7 2.3.2 .8 2.1 2.3.2 1.4-1.8-.4-2.3M368.2 71l-1.7-1.6-1.5-1.8-2.2.6-.3 2.3-1.7 1.5-2.2.6-2.3-.1M370.9 86.1l 1-2.1 .6-2.2 1.4-1.8 1.9-1.3 1.9 1.2 2.3-.5M391.3 16.8l 2.3.2 .5 2.2-2 1.2-1.7-1.5 .9-2.1M394 19.2l 1.8.8M391.3 16.8l .4-2.3-.9-2.1-1.8-1.5M367.1 37.8l-1.9-1.2 .6-2.2 2.3-.1 .8 2.1-1.8 1.5M365.7 34.3l-1.3-1.5M367.1 37.8l 1.3 1.9M507.9 107.8l-2.2-.8-1.8-1.4-2 1.1-1.3 1.9-.4 2.3 1.2 2-.1 2.3 1.6 1.6M430.9 20.4l 1.5-1.7 1.4-1.8 2.3 0 2.2-.7 1.8 1.4 2.2.5 2.2.7 2.3.3M367.2 109.1l 1.8-1.4 .6-2.2-1.4-1.8-2.2.5-1.9-1.3-1.9-1.3-2.3.3-2.3.1M503.2 65.2l-.9 2.1 1.1 2-.9 2.1 .3 2.3M394.1 24.2l-.9-2.1 1.8-1.5 2 1.2-.6 2.2-2.3.2M395 20.6l-.1-2M394.1 24.2l-.5 2.3 1.1 2 .5 2.3M427.2 154l 1.4-1.8 1.6-1.6 .2-2.3 2-1.1 2-1.1 2.2.7 2.3-.1 1.2 2M363.2 75.5l-.6 2.2-2.3.1-.8-2.1 1.8-1.5 1.9 1.2M369.1 96.7l-2.3-.2-.5-2.2 2-1.2 1.7 1.5-.9 2.1M366.3 94.3l-1.8-.8M381.6 22.6l 1.5 1.8-.2 2.3 .6 2.2 2.1 1 2.3-.2M473 19.8l .6 2.2-1.9 1.2-1.8-1.5 .9-2.1 2.3.2M471.6 23.3l-.1 2M473 19.8l 2.3-.4 2.1-1 .6-2.2M502.6 52.4l-2.3-.3-.4-2.3 2-1.1 1.7 1.6-1 2.1M502.6 52.4l .4 2.3M501 73.4l .7-2.2 2.3 0 .7 2.2-1.9 1.3-1.8-1.4M501 73.4l-1.4 1.8-1.5 1.7-1 2.1M504 32.9l .1 2.3-.2 2.3 1.8 1.4 2 1.1 2.3-.2M430.9 21.1l 1.7-1.6 2 1.1-.4 2.3-2.3.3-1-2.1M430.9 21.1l-2 1.2M368.5 64.9l-1.8 1.5-1.9 1.2-.2 2.3 2 1.1M491.9 158l 1.8 1.4 1.6 1.7 2.3-.2 1.6 1.7 2 1.1 1 2.1-.4 2.3M505.9 126.1l-1 2.1-.2 2.3-2.1 1-2.3-.4-2.2-.7-1.9-1.4M404.2 156.9l .6-2.2 2.3-.1 .8 2.2-1.8 1.4-1.9-1.3M404.2 156.9l-2.3-.1-1.4-1.8M368.9 116.6l-1 2.1 .1 2.3 1.5 1.8 1 2.1 1.8 1.4 1.4 1.8 1.6 1.7M473.3 16.3l-2.3.2-.9-2.1 1.8-1.5 2 1.2-.5 2.2M470.2 14.4l-1.9-.5M473.3 16.3l 2.3.2 1.9-1.4 1.7-1.5M363.2 103.4l-1.7 1.6-2-1.1 .4-2.3 2.3-.3 1 2.1M363.2 103.4l 2.1 1 2 1.1M369.1 104.8l-.1 2.3-.5 2.2-2.1.8-2.2.6M365.8 60l-2.3.1-1.1-2 1-2.1-1.5-1.8-1.6-1.7-2.3-.2-1.9 1.2-2.3.3M427.4 153.7l 2.2.5 .2 2.3-2.1.9-1.5-1.7 1.2-2M432.2 18.4l .7 2.2-1.9 1.3-1.8-1.4 .8-2.2 2.3.1M432.2 18.4l 2-1.1 2.3-.3M368.2 69l 2.2.7 1.2 2 2.2.5 1.8 1.4 1.5 1.8 1.2 2 2.2.6 2.2-.6M485.7 156.8l 0 2.3-1.7 1.5-2.1-.9-2.3.1-1.7-1.6-2.2.6-1.2 2M369.8 100.9l-2.1 1-1.6-1.7 1.1-2 2.3.4 .3 2.3M366.1 100.2l-2 .3M390.6 22.1l .6-2.2 1.9-1.3 2.1.8 2.3-.5 2.1-.8 1-2.1-.6-2.2-1.1-2M368 65.7l 0-2.3 2.2-.7 1.3 1.9-1.4 1.8-2.2-.8M368 65.7l-1.5 1.7 0 2.3 .4 2.3M398.5 13.2l .7-2.2 2.3-.2 1-2.1 1.5-1.8 2.2-.7 2.1.9M370.3 120.9l 1.1 2-1.6 1.7-2.1-1 .3-2.3 2.3-.4M369.8 124.6l .4 2M366.7 43.8l-2.1.9-1.2 1.9 .6 2.2-.3 2.3-2.2.6-2.3.1-2.3-.1-2.1 1M443.1 155.9l 0-2.3 1.5-1.7 2-1.1 .3-2.3M441.9 155.7l .1-2.3 1.6-1.6 2.3-.1 1.8-1.5 2.1-.9 2.3.4 1.8-1.4 2 1M423 158.2l 1.1-2 2.3.4 .3 2.3-2.1 1-1.6-1.6M423 158.2l-1.4 1.9M484.3 154l 2.2-.5 1.9 1.2 1.9-1.3 .1-2.3M481.7 20.5l 2.3-.4 1.1 2-1.6 1.7-2.1-1 .3-2.3M481.7 20.5l .2-2.3M507 82.3l 1.6-1.6 .2-2.3 2.2-.6 .9-2.1-.5-2.2-2.3-.5-1.5 1.7M478.1 156.5l-2.3.4-1.1-2 1.6-1.7 2.1 1-.3 2.3M478.1 156.5l .5 2.2M505.3 149.3l .1 2.3 1.2 2 2.3-.2 1.8-1.4M367.7 132.2l-1.6 1.6-2-1.1 .4-2.3 2.3-.3 1 2.1M367.7 132.2l 1.9-1.3M365.3 23.5l-2.3-.4-1.7 1.6-1 2.1 .5 2.2 1.7 1.5 2.2.7 1.7 1.6M497.4 20.4l 2 1.2 0 2.3-1.9 1.3-2.3-.1M504 31.3l 1.3-1.9 2.2.7 .1 2.3-2.2.8-1.4-1.8M504 31.3l-2.3.4-1.5 1.7M367.4 47.8l-.7-2.2 1.8-1.4 .9-2.1-.4-2.3-.2-2.3 1.3-1.9 2.2-.7 2.3.4M495.5 155.8l-.8 2.2-2.3-.1-.7-2.2 1.9-1.3 1.8 1.4M492.4 157.9l-1.2 1.6M495.5 155.8l 2.2.8M368.8 129.4l-1.9 1.3-2.3-.2-1.9 1.3-1.4 1.8 .3 2.3M493.6 14.2l 2.2-.7 .4-2.3 1.4-1.8 1.9-1.2 .2-2.3M413.7 21.1l-1.7 1.5-2.2-.6-1.1-2-.9-2.1-1.7-1.5M504.1 35.1l-1.5 1.7-2.1-.9 .2-2.3 2.2-.5 1.2 2M504.1 35.1l 2-1.2 1.9-1.3 2.3-.2M368.8 88.7l-.1 2.3-2.2.6-1.3-1.9 1.4-1.8 2.2.8M366.5 91.6l-.7 1.9M502.7 28.3l-1.6-1.7 1.1-2 2.3.4 .3 2.3-2.1 1M502.2 24.6l-.9-1.8M502.7 28.3l .7 2.2M370.1 41.2l .1 2.3-2.2.8-1.4-1.8 1.3-1.9 2.2.6M368.1 44.3l-.5 1.9M370.1 41.2l 1.2-1.9-.1-2.3-.6-2.2M499.7 56.3l 2.1-.9 1.5 1.7-1.2 2-2.2-.5-.2-2.3M499.7 56.3l-1.3-1.9-2.2-.5-2 1.2M431.9 160.5l 2.2.8 2.1.9 1.8 1.4 .9 2.1 2.3 0M366.6 61l 2.3-.4 1.9-1.3 2.3.5 1.8-1.5M388.8 19.7l .6-2.2 2.3-.2 .9 2.1-1.8 1.5-1.9-1.2M505 69.6l-1.9 1.3-1.8-1.4 .7-2.2 2.3 0 .7 2.2M398.9 18.1l-1.9 1.4-2.2.8-2.3.4-1.5-1.8-2.1-.8-1.8-1.5-2.1.9 .1 2.3M449.1 154.4l-2.3-.4-1.2 2-2.1.9-2 1.1-.2 2.3-1.1 2-.1 2.3-.5 2.3M393.5 19.3l .2 2.3-2.1.9-1.5-1.8 1.2-1.9 2.2.6M391.5 22.5l-.5 1.9M393.5 19.3l .3-2.3 1.6-1.7M452.8 154.4l 1.4-1.9 1.7-1.6 .6-2.2 2.1-1 1.9 1.3 2.3 0 1.9 1.3 2.1 1M505.9 105.8l .6 2.2-1.9 1.2-1.8-1.5 .9-2.1 2.3.2M504.5 109.2l-.1 2M505.9 105.8l 1.7-1.5M387 20l-1 2.1-.7 2.2-1.1 2 1.1 2-1 2.1M505.5 143.3l 1.1-2 2.2-.5 2-1.1 1.6-1.7 .6-2.2-.2-2.3-1.5-1.8-2.2-.7M368.8 52.1l-1.9 1.3-.8 2.2 1.6 1.7 2 1.1 2.1 1 2.3.5 .5 2.2 2.3.4M367.4 33.4l-1.3-1.9 1.4-1.8 2.2.7 0 2.3-2.2.7M367.5 29.7l-.6-1.9M367.4 33.4l .4 2.3M506.6 111.4l-1.6 1.7-2.3-.3-1.5 1.8-.6 2.2M504.5 143.6l-2.3.5-1.1-2 1.5-1.7 2.1.9-.2 2.3M501.1 142.1l-2-.2M361.6 16.7l-1.7-1.6 1-2.1 2.3.3 .4 2.3-2 1.1M364.8 14.6l 2.1 1-.3 2.3-2.3.5-1.1-2 1.6-1.7M462.5 155.3l .9-2.1 2.3.2 .5 2.2-2 1.2-1.7-1.5M360.9 44.8l-1.8-1.4 .8-2.2 2.3.1 .7 2.2-1.9 1.3M360.9 44.8l-1.8 1.4-.6 2.2M491.6 158.5l 1.4-1.9 .8-2.2-.8-2.1 .5-2.2-.6-2.2 .9-2.1 1.3-1.9M373.1 16.6l 1.8 1.5 1.7 1.6 1.5 1.7 2.2.5M506.2 31.3l 2.2.5 .2 2.3-2.1.9-1.5-1.8 1.2-2M506.2 31.3l-1-2.1M367.3 76.5l 2.3.5 1.3-1.9 .8-2.2 1.2-2 2.2-.6 1.5 1.7M367.4 43l-.3-2.3 2.1-1 1.6 1.7-1.1 2-2.3-.4M367.4 43l-1.4 1.9-1.9 1.3-2.3.1M503.6 95.7l .9-2.1 2.1-.9 1.9-1.2 2.1.8 2.2-.6M462.4 155.5l .8 2.2-1.8 1.4-1.9-1.3 .6-2.2 2.3-.1M462.4 155.5l 2.2-.7 2.1 1 2.2-.7M505.5 44.4l 2.3 0 2.2.7 1.7-1.6 .2-2.3-1.5-1.7M431.3 14.5l-2.3.2-2.1.9-2.3-.2-2.3-.3-2 1.1-1.3 1.9M408.2 8l-.4 2.3-.8 2.2-1.2 2 .4 2.3 .4 2.3-1.9 1.3-.3 2.3-1.3 1.9-.9 2.1M411.3 10.9l .3-2.3 2.3-.4 1.1 2-1.6 1.7-2.1-1M413.8 8.1l .8-1.8M411.3 10.9l-.6 2.2 1.1 2M411.7 14.3l-1.3 1.9-1.2 2-.2 2.3-2 1.1-2.1 1-1.8-1.4-2.3.3M410 16.4l 2.3.1 1.6 1.6 1.4 1.8 1.7 1.5 2.1-1M453.8 7.5l 2.3.2 .5 2.2-2 1.2-1.7-1.5 .9-2.1M453.8 7.5l-.5-2.2 1-2.1M461.4 9.3l 1.8 1.4 2.3-.4 2.3.4 .8 2.2-.7 2.2-1.7 1.6-2.1-.8M463.5 13l-2.3-.3-.4-2.3 2-1.1 1.7 1.6-1 2.1M463.5 13l 0 2.3 1.6 1.6M498.8 11.6l-.9-2.1-2.1-1-2.2-.6-2.3-.1-1 2.1 1.3 1.9-.2 2.3M497 12.3l-2.2.5-2.1-1-1.4-1.8 1-2.1 .4-2.3 2-1.2 1.1-2M497.1 19.2l-.8 2.2-2.2.8-.2 2.3 .9 2.1 2.3.4 2.2-.7M357.9 91.1l-1.9 1.3-1.8-1.4 .8-2.2 2.3.1 .6 2.2M354.2 91l-1.9.5M357.9 91.1l 1.9 1.3 1.4 1.8 2.1 1M360 93.6l-.7 2.2-2.3.4-1.9 1.3-1.6 1.7-1.4 1.8 .9 2.1 .8 2.1M359.2 93.6l .9-2.1 2.3.2 .6 2.2-1.9 1.2-1.8-1.5M359.2 97.3l 0-2.3-.4-2.3 1-2.1 .1-2.3 .1-2.3-1.7-1.6-2.3-.1-1.2 1.9-.4 2.3M515.6 116l-1.5-1.7 1.2-2 2.2.5 .2 2.3-2.1.9M507.1 106.5l 2.1.9 2.3.3 1.3 1.9 2.3.1 1.4-1.8M508 113.8l-1.2 2-1.2 2-2.2.6-2.2-.5-1.9-1.3-2.3.2-1.3 1.9M514.6 109.6l-1.3-1.9-1.6-1.7-2.2-.8-2.3.4-1.6 1.7M501.7 162.6l-2.3-.4-1.9 1.4-2.3-.5-2-1.2-.5-2.2-1.7-1.5-.3-2.3-.4-2.3M500.4 162l-1.1-2 .5-2.2-1.6-1.6-2.2-.8-.3-2.3-.4-2.3M499.8 161.8l 2.3-.5 1.1 2-1.6 1.7-2.1-1 .3-2.3M499.8 161.8l-2.2-.6M365.5 162.1l-2.3.1-2.2.5-2-1.2-.4-2.3 .3-2.3M365.3 162l-1.6-1.6-2.1.8-2.3-.3-1.7 1.6-2.2.8-2.1-1-1.6-1.6M365.6 159.2l .9-2.1 2.3.2 .5 2.3-2 1.1-1.7-1.5M368.8 157.3l 1.3-1.5M361.3 55.6l-1.6 1.7-2 1.1-2.3-.1-2.2-.6-1.9-1.3-.9-2.1M363.2 59.6l 2.3-.1 1.9 1.3-.5 2.2 .7 2.2-1.5 1.7-2.2.7-1.4 1.8-2.3 0-2.1.9M362.3 63.1l .9 2.1-1.6 1.6-2.2-.6-2.2-.7-.3-2.3 2-1.1 1.9-1.3 1.5-1.7 2.1-.9" stroke="#8a6450" stroke-width="1.05" fill="none" stroke-linejoin="round"/>
<path d="M374.2 21.1l-.7 1.9M511.6 18.1l.5-1.9M513.5 76.9l1.1 1.6M369.2 40.6l-1.3 1.5M501.9 115.5l-1.3 1.5M371.1 61.4l1.5-1.3M376.9 20.1l-.9-1.8M402.3 153.5l-.7-1.9M444.6 158.4l1.4 1.4M507.3 131.2l-.4 2M500.4 25.2l-1.9-.6M495.5 12.4l-1.9.5M366.1 149.8l1.5-1.3M502 142.4l.5 1.9M507.3 108.7l1.9.5M505.3 108.1l.8-1.8M506.6 110l2-.4M370.8 18.7l.8 1.8M505.1 147.7l-1-1.7M506.1 65.2l.5-1.9M380.9 72.2l-.3 2M380.5 74.4l-1.9-.6M414.3 24.3l.5 1.9M416.8 20.2l-1.9.7M420 149.9l-1.2-1.6M389.3 20.7l2 0M368.5 96.9l-1.4-1.4M404 152.5l.7-1.9M368.7 137.2l-1.8.9M366.6 133.7l2-.2M480.2 22.5l.8 1.8M500.1 121.5l-2 .2M365.8 109.4l-1.2 1.6M371.9 112.4l1.7-1M488.2 17.8l1.9.5M374.4 116.4l-.6-1.9M366.5 69.4l-.9 1.8M372.6 81.9l2 .3M503.9 105.6l1.1-1.7M501.9 106.8l-1.2-1.6M501.3 115.2l2-.4M444.6 18.7l-.6 1.9M368.2 103.7l-1.8.8M362.1 101.6l-.8 1.8M359.8 101.9l-1-1.7M503.4 69.3l1.9-.8M360.3 77.8l-1.1 1.7M385.6 29.9l.4-2M499.9 49.8l-1.8-.9M504.1 71.3l1.2-1.6M507.8 40.1l-.8 1.9M434.6 20.6l1.8-.9M498.2 130.5l-1.1 1.6M407.1 154.7l1.1-1.7M359.5 103.9l-1.8.8M364.2 110.8l-.4-2M353.8 53.9l1 1.8M429.8 156.5l1.7 1M431 21.9l0 2M370.4 69.6l-.6 1.9M377.2 75.3l-1.5 1.3M398.9 11.8l2-.2M370.2 62.7l.7-1.9M363.3 46.6l-1.1-1.6M363.9 48.8l-2-.3M363.6 51.1l2 .4M426.3 156.6l1.4-1.4M490.5 151.1l-2 .2M485 22.1l2 .3M474.8 154.9l-2-.3M364 132.8l-1.8.9M363 23.1l1-1.7M507.5 30.1l1.6-1.2M369.4 42.1l-2-.4M496.2 11.2l-2-.1M497.6 9.4l-1.6-1.2M500.5 36l-1.7 1M503.3 57.2l2-.2M368.8 60.6l.7 1.9M370.8 59.4l-1.2-1.6M373 59.8l-.1-2M391.7 17.4l1.1-1.7M501.3 69.6l-1.9.6M397.1 19.5l-1.4-1.4M385.2 19.8l1.9-.6M386 22.1l-1.6-1.2M360.9 13l-1-1.7M366.7 17.8l1.5 1.3M465.7 153.4l1.3-1.5M359.9 41.3l-1.1-1.6M493 156.7l-1.6-1.2M493.8 145.8l-1.8-.9M380.3 21.9l.2-2M508.6 34.2l1.7 1M369.6 77l-.4 2M369.2 39.7l.4-2M461.4 159.1l.1 2M426.9 15.6l1 1.7M413.9 18.2l-1.1 1.7M456.6 10l1.8.8M466.1 16.6l-1.3-1.5M460.8 10.5l-1.8-.9M491.4 14.1l-2-.3M492.8 5.6l1.8 1M362.3 91.6l1.3-1.5M515.3 112.3l-.8-1.8M509.6 105.2l.2-2M495.8 153l1.7-1M503.2 163.3l2 .2M358.9 157l1.8-.8M357.6 162.5l1.8 1M359.7 57.2l1.8.9M351.3 56.4l1.2-1.6M350.3 54.3l1.9-.6M363.8 67.7l.1 2M364.4 58.3l1.6 1.2" stroke="#b85a48" stroke-width="1.05" fill="none"/>
<path d="M495.9 2.4h0m-93.3 6.3h0m3.6-2.5h0m2 1.7h0m.1-.8h0m5.5.9h0m39.5-2.9h0m.5 2.2h0m.5-4.3h0m37 4.7h0m1 0h0m.3.7h0m.2-3h0m.8 2.3h0m1.2-3.5h0m1.1 4.1h0m3.8-.5h0m.2-2.3h0m-138.9 7.2h0m2.3.3h0m1.6 1.3h0m7.7-.6h0m2.3-.4h0m14.2-2.7h0m1.8 1.5h0m.9 2.1h0m6.8-1.3h0m.4-1.4h0m.3-.8h0m.7 2.8h0m1.6-3h0m4.3 3.6h0m1.2-2h0m.8-2.2h0m2.9 2.8h0m.6-2.2h0m.4 3.5h0m1.6-2.5h0m1.6-1.7h0m8.5 1.4h0m2.2-.5h0m1.5 1.7h0m1.8 1.9h0m2.3-.2h0m21.6-4.9h0m1.7 1.5h0m2-1.2h0m4.2.5h0m.6-1.2h0m1.5.1h0m.3 1.3h0m.3 2.3h0m1-2.1h0m.9-.7h0m2.3.4h0m.1 4.3h0m.7-2.2h0m1.7 1.6h0m1.8-1.5h0m2 1.2h0m5.3-.4h0m5.4 0h0m.4-2.3h0m.5-2.2h0m4.8.8h0m1 0h0m.1 4.1h0m.1-3.5h0m.2 1.2h0m1 0h0m.2.6h0m.8 1.7h0m.4.2h0m.7-1.6h0m.7-.4h0m.3 2.3h0m0-1.2h0m.4-2.3h0m.7 1.1h0m.6-3h0m.3.2h0m.9 2.1h0m-137.2 5h0m1.6-.4h0m.4-.8h0m.8 2.8h0m2.3-.5h0m1.7-2h0m.2 2.3h0m1.9-3.2h0m.3 3.7h0m2.1.5h0m.2-2.7h0m1.2.8h0m.6.6h0m1.6.1h0m.1 1.4h0m.3.5h0m1.4-3.4h0m.9 3.7h0m1.4-3.7h0m2.3.4h0m1.8 3.3h0m.2-2.3h0m.4-.6h0m.1 2.3h0m1.7-2.3h0m0 2.5h0m.2-3.4h0m1.6 3.2h0m.2-1.8h0m0 .4h0m.3 2.3h0m.7 0h0m.3-1.9h0m.4 2.1h0m.4-2.1h0m0 1h0m0-1.1h0m0-2h0m.4.6h0m.4 3h0m.5-.9h0m.1 1.1h0m.5-2h0m.3.8h0m.3-2.3h0m.2 2.2h0m.9 1.3h0m.3-1.1h0m.1-4h0m1.7 4.1h0m.5-.5h0m1.4-.8h0m.7 0h0m1-2.1h0m4.1 4.2h0m1.3-3.8h0m.6 2.6h0m1.1-1h0m.9 2.1h0m.4.5h0m.2-2.3h0m.7-1.8h0m1.9-1.3h0m.4 1.4h0m1.6 1.6h0m.6 2.4h0m.8-.6h0m0-.7h0m1.6.8h0m.4-2.1h0m1.7 1.1h0m.1.4h0m0-1.5h0m.1 2.4h0m1.2-4.3h0m1 3.2h0m1-4.3h0m2.3.3h0m2-.3h0m.3.5h0m.1 1.7h0m1 2.1h0m1.2 1.1h0m.8-2.2h0m1 2.1h0m1.3-2h0m.2.3h0m.1 1.9h0m1.3-3.7h0m.4.4h0m.4 3.3h0m.2.4h0m1.3-4.1h0m.4.2h0m.5 3.4h0m1.3-4.3h0m1.8 1.4h0m2.2.5h0m2.2.7h0m7.7.8h0m2.1 1h0m9.1-5.2h0m.4.4h0m1.2 1.2h0m1-.4h0m4.6 3.1h0m2.3.2h0m.3-3.5h0m1.9 3.1h0m.4-2.9h0m1.7 1.9h0m.2-3.2h0m.5 1h0m3.8 4.3h0m.2-2.3h0m2.5 2.8h0m.1-2.9h0m.5-2.2h0m1.4 3.4h0m.1.8h0m1.6-2.3h0m1.6.1h0m1-2.1h0m2.9 2.6h0m3.4.8h0m.4-2.9h0m0 4.1h0m1.4-2.3h0m2.3 0h0m10.5.1h0m1.5 1.7h0m-152.8 6.8h0m2.7-3.6h0m2.3.4h0m8.9-2.3h0m2.8 4.9h0m.4-2.3h0m.6-2.4h0m1.4 1.4h0m.8-.8h0m1.3.7h0m.2 1.8h0m1.1 2.3h0m.2-2.3h0m.2 1.8h0m1 .1h0m1.1-2h0m.7-2.2h0m.6-.8h0m.6 4.5h0m0-2.3h0m.7-.8h0m2.5-.5h0m.9.4h0m2.1 3.9h0m.5-2.3h0m2.3-.2h0m.6-2.2h0m5.3 4.7h0m.9-2.1h0m.2-3.2h0m1.2 1.4h0m.6.1h0m2.1-1h0m2.7.5h0m2.2.6h0m.2.9h0m.1-2.3h0m1.5-.1h0m.6 3.2h0m1.5-2.8h0m1.1.9h0m.1-1h0m3.7 1.4h0m4.4-1h0m2.3-.3h0m1.6.7h0m2-1.2h0m0 .8h0m1 1.3h0m2.3-.3h0m4.9-1.5h0m2.1.8h0m14.7.1h0m3.5 2.8h0m10.4-3.2h0m1.8 1.5h0m6.3 3.2h0m.8-2.1h0m1.4-1.8h0m1.2.2h0m.8-1.4h0m1.3 2.4h0m1.6-1.7h0m9.7 4.4h0m.5-1.4h0m1-3.7h0m.8 5.5h0m.5-1.7h0m1.7.9h0m.2-2.3h0m0-2.3h0m1 3.6h0m1.8-.6h0m.1-.8h0m1.8 1.4h0m.3-.2h0m5.3-3.7h0m2.2.5h0m-151.1 7.1h0m1.7 1.5h0m2.2.7h0m1.7 1.6h0m1.1-3.1h0m2.1 3h0m0-2.3h0m13.8-1.6h0m.8 1.5h0m1-2.1h0m.3 1.5h0m2.3-.2h0m6.8-1.2h0m.5 2.3h0m25.5-3.5h0m1.2 1.9h0m79.9 2.5h0m1-3.4h0m.7 2.2h0m0-3.1h0m.6 3.9h0m.1 1.6h0m.4-3.5h0m.3-2.2h0m.4 2h0m1 2.1h0m.4-1.2h0m.8 0h0m.1 2.3h0m.4.3h0m1-2.6h0m1.3 2.4h0m-144.6 1.8h0m1.3 3.5h0m.4-4.3h0m.4 2.3h0m.2-1.5h0m.6 4.2h0m.2-2h0m0 1.2h0m1.3-1.9h0m.4 1.5h0m.1-2.4h0m.2 2.7h0m.4-.4h0m1 1.7h0m0-3.7h0m2.3.4h0m125.5-1.8h0m.2 2.5h0m.2-2.3h0m2.2-.5h0m1.1 4.4h0m.1-2.4h0m.1.1h0m.8-2h0m.4-.1h0m.4 5.8h0m.3-5h0m.4 1.1h0m2.1-.9h0m-148.7 7.1h0m1.1 3.6h0m1.2-3.5h0m.7 2.2h0m1.7 1.2h0m1.5.2h0m.6-2.3h0m0 1.3h0m.7-.8h0m.5-2.4h0m.1 3.7h0m.3-4.6h0m.6.8h0m.1-.7h0m.1-.1h0m0 .8h0m.2 1.5h0m.2 1.3h0m.5-2.2h0m.6.2h0m.4-.3h0m.3-1.8h0m1-.1h0m133.1 5.2h0m2.3-4.3h0m2.3-.2h0m1.6 3.7h0m-153.1 4.8h0m.6-2.2h0m2.7 0h0m1.4.4h0m.6 2.2h0m.2-2.7h0m3.2 1.7h0m132.5 2h0m2-1.1h0m1.7 1.6h0m6.4-5.2h0m-159.6 9.1h0m.9 2.1h0m2.6-2.4h0m.9-1.2h0m1.3.9h0m.7-1.9h0m1.2.7h0m1.1-.6h0m1.2.8h0m.9 3h0m.6-1.3h0m1.7-3.1h0m2.1 5.2h0m.4-.9h0m2.7-3.4h0m125.4 3h0m2-1.2h0m2.2.5h0m1.3 1.9h0m2.9-3.9h0m.4 2.3h0m-149.8 3h0m2.2.6h0m2.3.1h0m1.2 3.8h0m.8-5h0m1.1 3.6h0m1.5-1.7h0m.8.4h0m.4.5h0m.9-1.9h0m1 1.2h0m.1-.8h0m.2 2.9h0m0-1.5h0m.7.9h0m.8-.1h0m.4 2h0m0-3.3h0m0-2.4h0m1.1 3.5h0m.4-2.8h0m.5.5h0m.5 4.4h0m.5-3.3h0m.4 2h0m.7-2.2h0m1.2.6h0m1-.1h0m.5 2.2h0m.2-3.6h0m2.1 4h0m123-3.7h0m2.2.5h0m1.2-2h0m-146.4 6.1h0m2.5 3h0m3-3.1h0m.5 5.1h0m.4-3h0m.6 2.5h0m1.1-.1h0m1.1-.6h0m.5.4h0m.3-1h0m0-3.3h0m.7 2.2h0m.5.4h0m.3 3.3h0m.3-4.1h0m.7-.3h0m1 1.8h0m.7-2.1h0m.5-.6h0m.2.9h0m3.4 1.7h0m6.7 1.6h0m1.7-1.5h0m2.1 1h0m116.6 0h0m.3-.1h0m.9-2.1h0m.8 3.2h0m.3-.9h0m1.8-2.2h0m.1 3.7h0m1.3-1.9h0m-149.7 3.4h0m.7 2.2h0m1.5-3.1h0m.8 2.5h0m.5 2.2h0m1-4.7h0m.2 1h0m2.2-.6h0m1.8-.2h0m0-.3h0m.2 1.7h0m.2.9h0m1.3-1h0m.8 2.7h0m1.5-4h0m.5 3.4h0m.2 1.5h0m.6-3h0m1.1-.7h0m.3 1.6h0m.7-.4h0m1.1-1.8h0m.4 2.3h0m.3.8h0m.8-1.4h0m.2-1.3h0m3.9 3.7h0m.3-2.3h0m108.6-1h0m2.1-.8h0m2 1.1h0m2.2.6h0m2.3-.2h0m2.3-.1h0m.5 1.8h0m.3-3.9h0m.7 2.6h0m.5-.7h0m.2-.3h0m.1 3.7h0m0-1.1h0m.6-4.4h0m.3 1.3h0m.3.7h0m0 1.6h0m.6.6h0m.3-3.9h0m2.7 5h0m1.5-1.7h0m2.3.5h0m-152 2.3h0m.8 2.1h0m2.9-2.4h0m4.1 1h0m2.3.5h0m.3.6h0m.2-2.3h0m.7-.2h0m2.4.4h0m.7 4.6h0m1.3-3.5h0m.6 2.2h0m1.3-3.4h0m.4 1h0m.2 3.7h0m.6-2.7h0m1.4-1.6h0m.3 3.8h0m.5-1.7h0m1.4-1.5h0m.8 1h0m114.2 1.7h0m1-2.1h0m1.5-1.7h0m9.1 5.4h0m.2-2.3h0m.7.9h0m1.5-1.6h0m.5.5h0m.4-2.6h0m1.5 1.3h0m2.3.4h0m2.3.1h0m2.2.7h0m.3 2.3h0m-165.8 6.1h0m1.2-1.9h0m2.3.1h0m1.7 1.6h0m4.3-.6h0m1.9-1.3h0m1-2.1h0m2.3-.1h0m1.3 4h0m1-2.1h0m.6-2.2h0m134.5.4h0m15.1-.3h0m-168 9h0m.1-2.4h0m.7.2h0m2.3.1h0m.6 2.2h0m.8 1.6h0m1-2.1h0m0 1.7h0m2.5-.8h0m.2-4.6h0m.2 2.3h0m2.4.4h0m1.3 1.9h0m.2-3.7h0m2.2.8h0m4.2 4.2h0m1.2-2h0m128.4.5h0m2.2.7h0m1.9.5h0m1.9-1.2h0m2.1.8h0m2.2-.6h0m-155.9 4.4h0m2.1-1.1h0m0-1.4h0m0 3.7h0m.1-1.6h0m.7-2.2h0m1 1.5h0m.3-.8h0m1.6-.4h0m.4 1.4h0m2.9-1h0m.2 1.7h0m.5 2.2h0m.2 0h0m1-5.1h0m.2 1.7h0m0 2.2h0m.6-.2h0m.4 1.9h0m.5-4h0m.2 1.7h0m.6.4h0m1 2.1h0m.4-3.6h0m131.5.7h0m.9-2.1h0m1.9.1h0m2.2.8h0m3.9-1.2h0m-160.3 7.6h0m.9 2.1h0m.5-3.9h0m4 2.9h0m1.9 1.8h0m.4-1.9h0m.1-.4h0m2.2 0h0m.1-.3h0m1 2.1h0m.9-.5h0m1.2 1.6h0m.7-.3h0m.2-3.9h0m2.1 3.4h0m.9 1.2h0m.6-3.9h0m.3-.6h0m1.1 2h0m128.6.3h0m.2 2.3h0m1.7-3.6h0m5.9 3h0m.1.1h0m.8-2.2h0m-144.3 8.6h0m1-3.5h0m.6 2.2h0m.6.7h0m.6-4.3h0m.1 3.1h0m0-3.5h0m1.7 1.8h0m.1.3h0m0-.6h0m.6-1.7h0m130.6 5.5h0m.4-2.3h0m1 1.1h0m.3-3h0m.9 1h0m.8-1.2h0m.1-1h0m.1 5h0m.2-5h0m.6 3.6h0m.8-1.2h0m.4-1h0m.2-1.3h0m.1 4.8h0m.6-.7h0m.4-3.5h0m.2 2.2h0m.1-3.1h0m.5 2.2h0m1.3-.4h0m.5-2.2h0m2.2.8h0m1 3.5h0m1.9.1h0m1.9-1.8h0m-149.6 3.5h0m1.3 1.9h0m.6 3.4h0m.5-1.4h0m2.2-.5h0m.2-2.3h0m2.5 4h0m122.6.3h0m2.3-.2h0m1.4.3h0m.6-2.2h0m.1.7h0m0-2h0m.1-.3h0m.5 2.5h0m1 1.4h0m.3-4.9h0m1.7 1h0m.1.4h0m1.4-1.2h0m.1-.9h0m.2 4.4h0m.6-2.5h0m.1 1.1h0m.5-.5h0m1.6-1.2h0m5.7-.3h0m.4 3.7h0m1.9-3.2h0m.2 2.3h0m-155.8 6.6h0m2.1-1h0m1.6 1.6h0m2.3-3.7h0m.1 2.7h0m0-.4h0m1.5 1.8h0m.8-1.8h0m.4-1.9h0m1.5-1.7h0m8.4 2.5h0m1.6 1.7h0m113.4-2.9h0m4.4 2.9h0m1-3.7h0m.2 1.7h0m2.1-1.2h0m.2 1.7h0m.2 2.3h0m1.8-4.6h0m-143.3 6.3h0m5.4-.4h0m2.1 1h0m.8.2h0m1.8 1.4h0m1.4 1.8h0m129.8.7h0m2.3-2.6h0m1 1.4h0m2.2.5h0m2.1-.8h0m-150.1 6.4h0m2.7-.8h0m.4-2.3h0m.2 0h0m2 3.2h0m.1-3.5h0m.3.5h0m.2.7h0m.6.8h0m1.1-2.8h0m.5 1.3h0m.3.3h0m1.7.8h0m4.1-2h0m120.9-.6h0m1.9 1.4h0m3.3 1.3h0m1.1-.3h0m1.1.9h0m1-2h0m.3.1h0m.8-1h0m1.5 1.7h0m2-.2h0m2.2.7h0m1.5 1.8h0m-151.3 2.4h0m.6 4.7h0m1-2.1h0m1-2.1h0m2.4-.5h0m2 1.2h0m1.9 1.4h0m2.8-3.3h0m126.7 4.4h0m.1-.5h0m1.8-2.8h0m.4 3.7h0m0-1.4h0m.3 1.7h0m1.9-.4h0m1.3.3h0m2.2.6h0m.8-.2h0m2-1.1h0m1.6-1.7h0m.6-2.2h0m.8 5.2h0m-151.2 1.9h0m2.1.8h0m2.2.5h0m2.2.6h0m2.3-.3h0m46.5 2.3h0m16.4-.6h0m2.2.7h0m2.3-.1h0m7.6 0h0m2.2-.6h0m1.6-1.7h0m43.4 1.3h0m1.3-1.9h0m4.3 3h0m.6-5.4h0m1.2.6h0m.4 4.1h0m.5-3.8h0m.4.2h0m1.4 3.4h0m.5-2.2h0m.2-.1h0m.2-2.3h0m.7 2h0m.6.5h0m.2-2.3h0m.3-.2h0m1.6 3.4h0m1.5-1.7h0m0-.4h0m2.3-.1h0m4-1.1h0m-160 8.6h0m2 1.2h0m2.3-.3h0m2.2.5h0m1.5 1.7h0m.3-1h0m1.5-2.2h0m.2 2.3h0m.5-.5h0m2.3 0h0m8.2-1.3h0m3.8-.1h0m1.6 1.7h0m20.4-3.8h0m.8 2.2h0m0 2.3h0m14.5-.9h0m1.2-3.3h0m.3 1.5h0m.8-2.1h0m.5 2.2h0m2.1.9h0m1.1 2h0m4-.7h0m1.6-1.6h0m.2-2.3h0m9.8.4h0m3.5 3h0m.5-1h0m.4 1.1h0m.4 1.1h0m.3-4.2h0m.6 2.9h0m.2 0h0m.6-.9h0m.3-2.3h0m.9 1.7h0m.2.8h0m1.9-1.7h0m4.3 3.4h0m1.7-1.6h0m.6-2.2h0m2.1-1h0m4.2 1.3h0m1.9 1.3h0m2.1 1h0m15.1 1.6h0m.6-2.2h0m2.8-3.5h0m5.3 3.8h0m2.4-3.2h0m.1 4.4h0m.5-2.2h0m.4 2.5h0m1.5-1.9h0m.4 2.3h0m2.4-4.1h0m6.1 4.1h0m.8-5.3h0m.2 1.6h0m.1 2.3h0m.5-.3h0m1.5-3.4h0m.5 2.2h0m2.8 1.8h0m-151.8 5h0m.4-1h0m1.9-1.4h0m2.2-.8h0m5.5 3.4h0m7.6-2.6h0m7-.6h0m8.2 2.8h0m1.7-1.5h0m2.2.7h0m2.2-.7h0m2 1.1h0m.7-1.5h0m1.4 1.8h0m.5-3.3h0m.3 3.7h0m1.6-.3h0m.4-2.8h0m.2 2.3h0m1-2.4h0m.2 2.3h0m.1 1.9h0m1-3.6h0m.8 2.2h0m4.1-.4h0m2 1.2h0m2.3-.3h0m2-1.1h0m.3-2.3h0m1.4 4.5h0m2.9-1.7h0m0-.7h0m.1 2.1h0m.7 0h0m.8-3.1h0m1.7.5h0m.1.9h0m.3 2.3h0m.5-4.8h0m.3-.3h0m.3 3.7h0m2.1-.9h0m9.8 2.1h0m1.7-1.9h0m.2 1.2h0m.5-2.3h0m.1-2.3h0m.3 5.4h0m.5-3.7h0m.2.8h0m0-2.3h0m.4 3.3h0m.7-3.7h0m.5 5.2h0m.2-1.4h0m.8-1h0m.4-1h0m3.1-.6h0m3.7.1h0m6.7 3.4h0m.6-2.2h0m2.3-.1h0m.1-.2h0m1.7 1.5h0m.4-2h0m1.1-1.4h0m.5 2.2h0m.5.1h0m2.2-.7h0m5.9-.3h0m1.6-1.7h0m.1.8h0m.1 3.7h0m1.3.4h0m.2-1.7h0m.3-2.3h0m.2 4.5h0m.1-4.1h0m0 2.3h0m.2-2.8h0m1.7.9h0m2.7.3h0m.9-1.4h0m1.4 1.2h0m0 1.6h0m.8-3.3h0m.9 5.5h0m.1-2.3h0m1-2h0m.1 4.2h0m1.1-2h0m.6-3.3h0m0-.2h0m.4 2.4h0m.3 2.3h0m.5-2.6h0m.1 3h0m.1-2.8h0m.2 2.2h0m.5 0h0m.6-1.3h0m.7-2.2h0m.1 1.9h0m.1-1.8h0m1.4 0h0m.3 1.3h0m.6-.6h0m1.6 1.4h0m.6-.6h0m1.6 1.6h0m2.6-3.3h0m4.1-.8h0m2.3-.2h0m-157.1 7.3h0m1.6 1.6h0m2.1 1h0m2.2-.8h0m1.3-1h0m.3-.6h0m2.3.3h0m1.7.9h0m.5-1.8h0m1.6 1.6h0m.2.1h0m.1-3h0m1.7 1.5h0m2-1.1h0m5.8.1h0m3.8 1.9h0m.8 2.1h0m2.3.2h0m1-4.1h0m.4 2.3h0m8.1-2.9h0m.7 2.2h0m1 1.7h0m.1-2.3h0m1.1 1.2h0m19.3 1.7h0m.5-2h0m1.5.9h0m.7-1.5h0m1.6 1.5h0m.6-2.2h0m.3 4.3h0m2.5-4.6h0m.3-.4h0m2.7.2h0m7.3.7h0m1.2-1h0m1 1.8h0m1.3-1.7h0m.8 2.6h0m1.8 1.4h0m2.1 1h0m.1-2.3h0m1.1-2h0m.2-.3h0m16.1 4.8h0m2-4.9h0m0 3.7h0m1.9-4.5h0m.3 1.5h0m0 2.3h0m12.8-2.1h0m.2 1.2h0m.6-2.2h0m.2 4.4h0m4-4.3h0m2.3-.1h0m2.1.9h0m1.7-1.5h0m2.1 2h0m5-1.4h0m.5 2.2h0m.4-2.4h0m1.6 3.6h0m0-1.9h0m2.2 2.4h0m.1-2.7h0m0 .3h0m.1.4h0m.5-2.3h0m1 3.2h0m.1-2.6h0m.3 4.1h0m.2-1.4h0m.1-.9h0m.5.2h0m.1-2.9h0m.7 4.6h0m.4-1.1h0m1.6.8h0m-109.7 2.1h0m.7 2.2h0m.6 2.2h0m24.7-2.8h0m20.1-.1h0m1.6-1.1h0m12.6 1.3h0m1.5-1.7h0m46.4-.3h0m.1 2.9h0m.4-2.3h0" stroke="#7e5440" stroke-width="1.45" stroke-linecap="round" fill="none"/>
<path d="M487.5 18h0m-102.2 8.9h0m1.1-2.7h0m71-.2h0m-88.9 20.2h0m139.3.3h0m4-3.2h0m-149.4 16.8h0m10.6 6.9h0m-1.5 7.8h0m139.3 22.1h0m-157 10.2h0m157.5 2.5h0m-6.5 20.5h0m11.9 15.3h0m-62.9 4.8h0m-7.1 5.7h0m-85.9 8.7h0" stroke="#a9b6dc" stroke-width="1.45" stroke-linecap="round" fill="none"/>
<path d="M497 1.2h0m-89.3 4.3h0m.1.2h0m6.8.5h0m38-.1h0m0-2.8h0m.3 2.6h0m1.4.5h0m.3-2.3h0m1.3-.9h0m33.6 4.7h0m1.1-1.8h0m.7.2h0m.8.5h0m3.1 1.4h0m0-.8h0m.8 1h0m3.1-2.2h0m-136 8.4h0m4-.3h0m2.9-1.3h0m5.1-1.4h0m12.5-.1h0m3.5 2.2h0m2.9.4h0m3.5-3.5h0m4.3-.7h0m.4 2.2h0m3.6 1.1h0m.4-2.9h0m2.9 2h0m.5-2.1h0m1.5.9h0m2.1 2.1h0m1.2-.3h0m9.6-1.7h0m1 .6h0m1.1 2.7h0m.2-.8h0m.7.6h0m1.7-1.2h0m1.1-.1h0m21.7-2.5h0m11.2 3.1h0m2.1.2h0m.2-4.6h0m.1 3.9h0m.9-1.8h0m2.1 2.5h0m7.3.4h0m5.2.1h0m2.4.1h0m.5-4.1h0m.6 3.9h0m.6-3.7h0m.2 1.3h0m1-1.2h0m4.5 2.4h0m.4-1.4h0m.1-2.7h0m.7 1.4h0m.2-1h0m.8 3.7h0m.4.8h0m1-4.6h0m.4 1.8h0m1 .6h0m1.5-2.1h0m.1 3.9h0m-135.5 3h0m1.6.9h0m2.2-1.9h0m7.9 0h0m.6.3h0m3.4 2.3h0m.4.2h0m.2.1h0m.1-1h0m.2 2.3h0m3.3-1.5h0m.8-2.6h0m1.8 5.5h0m.3-4.4h0m1.4-.7h0m1.9 4.8h0m1.1-1.2h0m1-1.4h0m.3-2.4h0m.4-.1h0m1.1 5h0m.3-3.3h0m1.4-1.7h0m.1-.1h0m.3 2.2h0m1.2.9h0m1 1.5h0m3.1-3.8h0m1.9.6h0m.2 2.2h0m4.2-1.1h0m.4.1h0m.1 2.4h0m.8-.4h0m.5-.6h0m1.8-1h0m.5.5h0m.6.9h0m.7-3.8h0m.3 1.6h0m.4 2.2h0m.4-3.1h0m1.5 2.7h0m.4-4.4h0m1.6 4.7h0m.4-.4h0m1-2.8h0m.3 3h0m.5.4h0m1.9 1h0m1.3-5.6h0m3.2 1.5h0m1.1-1.8h0m3.6 4.2h0m.2 1.2h0m1.6-3.8h0m.5 2.3h0m2-.8h0m.7 1.3h0m.2-4.3h0m1.1 3.7h0m.9-3.4h0m2.1 1.7h0m.4-.5h0m.4.2h0m.6.7h0m.8 1.6h0m5.3-2h0m9.4 1.7h0m7.5-2.8h0m3 2.6h0m.4-2h0m.4 1.9h0m1.1-2.2h0m3.3 1.6h0m2.6.1h0m.2 0h0m1-1.1h0m.9-1.2h0m.7 2.8h0m1.1.1h0m.7-1.7h0m1.2-1.6h0m1.1.8h0m.7 1.5h0m1.5 1.3h0m1.2-1.6h0m.3 2.2h0m.2-4.3h0m2.4 3.5h0m2.6-1.7h0m10.8 2.9h0m-138.3 5.5h0m.9-.8h0m16.4.8h0m.3.2h0m.2-1.1h0m.3-1.2h0m5.4 1.9h0m3.7-3.7h0m.2-.3h0m.4 5.6h0m2.2-2.1h0m.1-1.8h0m.5-1.1h0m3.7 5.1h0m.2-1.4h0m.1.3h0m2.5-1.3h0m4.4-1.4h0m.8-1.8h0m.1 1.5h0m4.2-1.4h0m1.3 2.3h0m5.7-.4h0m4.8 3h0m.2-4.5h0m.1-.5h0m1.4 0h0m0 0h0m7.4 2.9h0m.7-2.9h0m.2.9h0m1.9 2.8h0m1 .1h0m6.3-1.9h0m19.5 3.1h0m.7.5h0m12.6-1.3h0m4.4-4.2h0m.8 4.3h0m.2-.2h0m.3-1.4h0m2.7-1.6h0m.2 3.3h0m3.1-3.3h0m3.9-.4h0m6 4.4h0m3.5 0h0m0 0h0m.3-.9h0m1.7-2.8h0m2.7.4h0m4.3 3.3h0m.9.9h0m2.4-4.2h0m2.3.5h0m2.5-1.2h0m-152.6 7.7h0m1 .4h0m.5-1.8h0m2 4.3h0m.6-1h0m1.3-.1h0m.5-3.8h0m4.2 4.2h0m5.3-4.4h0m5.3 1.2h0m2.7-.9h0m.3 4.1h0m.2-2.1h0m.8-1.8h0m6.3-.9h0m1 .7h0m1.1 1.4h0m1.8-1.8h0m23.2.8h0m3.9 2.1h0m72.6-2.3h0m2.4-.6h0m.8 4.9h0m1.3-.6h0m.3-1.3h0m2-.1h0m.2 1.1h0m.4.9h0m.2-4.4h0m.4 4h0m.1-3h0m.1.3h0m.6 2.9h0m.4-1.7h0m.1-.5h0m.4 1.5h0m.5-3.2h0m.6.2h0m.6 4.3h0m2.7-1.4h0m.5-1.8h0m-144.4 5h0m1.7 2.8h0m.5 1.5h0m.1-.9h0m.1-2.1h0m.7-.3h0m.3.1h0m.2 2.1h0m.3-1.4h0m.1-.8h0m1.3 0h0m.3 1h0m0-.6h0m.7-.1h0m.3-2.5h0m.2 4h0m0-2.5h0m.8 3h0m130-3.3h0m.4-.1h0m.5 2.3h0m.7-2.5h0m1-.7h0m4.2.6h0m1.2-1.1h0m-149.3 11.6h0m.8-1.2h0m.4-1.3h0m2.1 1.7h0m0 0h0m.5-.7h0m.2-3.3h0m.2-.7h0m1.8-.1h0m.6 4.6h0m.2-1.6h0m1.7-2.3h0m.2 3.7h0m.5-2h0m.9-1.2h0m.1 1h0m132-2.3h0m1.8 2.2h0m1.8.4h0m.2-1h0m-151.4 8.9h0m0 0h0m2.9-3.3h0m.7.2h0m1.6-.4h0m.3-.8h0m.6 1.8h0m1.2-.7h0m1.2 0h0m1.7-.1h0m.1-.8h0m136.9 3.6h0m4.2-2.6h0m-157.6 6.4h0m4 .2h0m3.2-1.8h0m.6 2.5h0m2.5-1h0m1.1 3.2h0m1.5.4h0m.1-.4h0m2.1.4h0m1 .5h0m126.1-.2h0m1.2-3.1h0m2.6-.9h0m1.1 2.8h0m1.1-2.3h0m.2 1.6h0m.3-1.1h0m4.2-1.9h0m0 0h0m.4 2.4h0m.1.7h0m-146.4 5.3h0m.8-2.7h0m.2 1.6h0m.3 3.2h0m1.4-3.9h0m3.2 3.3h0m2 1h0m0-2.1h0m.2-.1h0m.7-1.5h0m.9 3.1h0m.6-2.1h0m1.3-1.7h0m.4 2.1h0m.9-2h0m.3 1.2h0m3.9-.5h0m.9.4h0m121.9-.6h0m-137.8 9.1h0m.7-1.2h0m.7 2.5h0m2.2-.6h0m2-2.6h0m.5-.8h0m0-.3h0m.5 2.3h0m.1-1.2h0m1.3.2h0m.8 1.7h0m7.3-.4h0m125.1 1.5h0m3.2-3h0m3.2 3h0m-149 5.5h0m1.3-1.2h0m.8-.6h0m.6-2.4h0m.1 1.9h0m.2 1.3h0m1.6.4h0m.7.3h0m.6-4.8h0m.3 2.3h0m.2-.8h0m.1 1.8h0m1-1.3h0m1.2-1.8h0m1.2-.2h0m.8 4.4h0m2.8-.9h0m.1.1h0m.1-.4h0m.4 1.1h0m2.2-3.7h0m.4 4.3h0m2.2.2h0m110.6-4.7h0m.4 2.9h0m7.3-2.5h0m2.7.8h0m.5 2.5h0m1-1.6h0m.6 0h0m.4 2.6h0m2.6-4.4h0m.2 2.2h0m.9-2.7h0m.8 1.5h0m1.7 1.8h0m.6 1.3h0m1.9 0h0m-140.1 1.7h0m.7 1h0m.4-.6h0m1.4-.7h0m2.3 3h0m.7-2.9h0m1.3.9h0m0-.1h0m1.8 2h0m.2 2.2h0m117-2.9h0m1.4.7h0m2.4-1.9h0m1.3-.4h0m2.6.1h0m8.2.4h0m.8 1.7h0m.1-1.3h0m6.2 3.1h0m1.2-1.6h0m1-2.1h0m.1 4.1h0m-165.4 5.5h0m.2-1h0m.5 1.4h0m8.2-2.8h0m2.2 2.5h0m.7-3h0m.1 3.3h0m3.5-3.8h0m.4-.4h0m152.3-.4h0m-171.6 9.5h0m.6-2.1h0m3.2-1.7h0m1 5h0m1.8-.1h0m.3-1.7h0m.9.8h0m.5-3.9h0m3.5.1h0m6.2 5.1h0m.2-3.5h0m0-1.4h0m2.1 2.8h0m133.7.5h0m.2 1.2h0m.6-.2h0m4.6.6h0m-153.8 1.8h0m1.6 1.2h0m.4-.8h0m3.2-.6h0m1.5-1h0m.4 1h0m1-1h0m1.7-.2h0m.6 4.2h0m1.9-2.9h0m.7 2.1h0m.8-2.7h0m.4-.6h0m.6 1.2h0m.4 2.9h0m130-3.1h0m6.1-1.3h0m.5 2.8h0m1.5-1.9h0m1.2 1h0m-160.8 7.5h0m.6-.9h0m4.4-1h0m4.6-.4h0m.2.7h0m1.3-1.3h0m1.6.8h0m.1 2.5h0m.2-.7h0m1.3-2.6h0m1.1 4.6h0m.4 0h0m1.5.4h0m0 .1h0m.5-.9h0m1.7-2.1h0m.2.1h0m1.5-1.8h0m.2 2.7h0m126.4-1.8h0m4.6 3h0m2.2.9h0m.2-.7h0m2.4-1.2h0m.2.1h0m1.8 1.7h0m.4-.5h0m.4.1h0m-141.1 3.9h0m.3-1.2h0m129.6-.5h0m.9.5h0m.4-1.2h0m.4.8h0m.2 4.2h0m.5-4.1h0m.5 1.1h0m0-2.2h0m.8 2.6h0m1.7.3h0m2.2-2.3h0m.9-.8h0m2.4 4.5h0m3.7-1.9h0m3.4-.4h0m-154.3 4.7h0m2.6.6h0m.3 0h0m.5-1.3h0m1 4.7h0m3.1-.7h0m123.8 1.1h0m2-2h0m4.4-3h0m.1 3.8h0m2.4 1.1h0m.3-5.6h0m.5.3h0m.8 2.2h0m.4-2.1h0m.5 2.4h0m.2-.6h0m.1 1.5h0m1.1-1.7h0m.4-1.8h0m10.9 4.4h0m-156.3 3.6h0m3.7 1h0m.5 1.1h0m0 0h0m1.6 1h0m.6-4.9h0m2 1.9h0m.7 1.3h0m7.7.4h0m4.2.3h0m116.7-4.1h0m4.5 2h0m.1 2h0m.1 1.6h0m9.5-5.5h0m.4.2h0m-154.4 7.7h0m9.3 1.2h0m134 .2h0m3-1h0m1.2.8h0m1.1-.3h0m.3.1h0m2.1-.9h0m-147.8 6.5h0m1.4-.2h0m.4-2.5h0m2.3 0h0m.2.7h0m.1 1.4h0m0 .7h0m.2-1.4h0m.7 1.6h0m1 .7h0m.4-3.1h0m1 0h0m128 1.5h0m0 .3h0m2.2.8h0m1.1.4h0m.5 1h0m-143.2 3h0m2.3 1.9h0m.8-2.1h0m2.6.8h0m2.9 1.1h0m129.4 1.3h0m2.2-2.3h0m.9 1.8h0m.5 1h0m.4-2.1h0m.7-1.1h0m.7 2.6h0m0-1.4h0m1.4 1.2h0m0 .4h0m.8-.3h0m.1 1h0m.3-1h0m4.1-1.9h0m1.1-1.6h0m2.8-1h0m1.9 4.3h0m-152.6 4.1h0m1.6-.6h0m4.3.7h0m47.6 1.2h0m13.5 1.6h0m62.4-2.4h0m4.6 1.5h0m1.1-4h0m.6-.5h0m4.6.3h0m0 2h0m.2 1.6h0m.6 1.5h0m.8-2.5h0m3.9-2.2h0m1.8 1h0m2.7-1.8h0m-158.4 6.9h0m1 1.5h0m1.9.1h0m.1 2.6h0m1.9-1h0m1.1-1h0m56.2-.5h0m.8 1.3h0m.4 1.3h0m1.9-3.8h0m.5 1.8h0m.5-2h0m2.7 1.7h0m.4 1.2h0m1.3.7h0m10.5-5.1h0m.9.6h0m.1-.2h0m2.3 5.1h0m3.1.1h0m.6-2.5h0m2.4-1.7h0m.8 3.5h0m0-.1h0m.3.8h0m1.1-4.7h0m.1 4.4h0m2.5-2.8h0m2.8 1.4h0m5.7-3.7h0m.1.8h0m1.8-.4h0m3.2 1.2h0m10.8 3.3h0m2.2.4h0m1.2.2h0m2.6-1.4h0m2.7-2.4h0m.5 3.6h0m4.7-.6h0m.6-2.5h0m1.1.4h0m.4-.4h0m.1.1h0m1.5 3.4h0m.5-5.2h0m.5 4.3h0m.1-1h0m1.9-2.3h0m1.3 2.2h0m4.6-3h0m2.5-.3h0m1.2 2.9h0m.5.4h0m1.7-2h0m-150.6 8.2h0m.9 2h0m.9-1h0m1-.2h0m2.1-4.5h0m1.5 5.4h0m.3-3.8h0m1-1.2h0m4.8 2.3h0m12.8-.1h0m8.5-.6h0m2.3-1.4h0m4.9 1.2h0m.2-.8h0m.4 1.5h0m.9 1.7h0m.2-.7h0m.5-1.4h0m1.6 3.6h0m.4-.7h0m3.4-1.9h0m8-.3h0m2.9 2.7h0m.9.1h0m.1-.5h0m.7-3.6h0m2.3 3.5h0m1.6.7h0m1-4.6h0m.4-.9h0m.7 1h0m14.7 3h0m.1-1.5h0m1.1 2.4h0m2.5-4.7h0m.1 1.5h0m.2-1.5h0m0 1.2h0m.5.2h0m.3.5h0m.5-1.3h0m.2-1h0m1.6-.3h0m11.9 4.9h0m.5-3.9h0m3.6 2.8h0m.3-1h0m.8 0h0m1.6 1.8h0m1.5-2.6h0m.3-.8h0m9.2 2.7h0m1.6 1.1h0m0 .1h0m1.7-.1h0m4.9-4.1h0m.4 3.4h0m1.2.1h0m1.1-4.3h0m1.3 4h0m.2-1.1h0m.1.2h0m.3 2.3h0m.4-3.3h0m1.5 2h0m.3-.1h0m1.3-1.2h0m.9-2.2h0m1.5 3.1h0m.4-2.2h0m1.1 2.2h0m.4-.9h0m1.8 1.8h0m.3-1.5h0m.1 1.9h0m.9-2.2h0m1.7 2.1h0m.2.5h0m1.2-4.3h0m.4-1.1h0m2.1.4h0m.2-.7h0m3.2 2h0m2.3-1.7h0m-159.1 5.8h0m4.1 2.9h0m.3.5h0m3.3-2.1h0m1.7-.2h0m1 3.6h0m1.3-3.7h0m2.6 2.1h0m11.4.6h0m2.8-.5h0m11.2-.7h0m13.5-1.9h0m1.6-.6h0m7.8.9h0m.7 2.3h0m2.2-.5h0m.4 2.3h0m1.9-4.4h0m1.7-.2h0m.2 1.6h0m.2.2h0m3.5-.6h0m7.7 2h0m3.4-3.9h0m2.7 4.5h0m1.3-2.7h0m.1 2.9h0m.6.8h0m.8-3.1h0m12.1 2.3h0m3.6-.5h0m.1 1.7h0m2.1-.8h0m12.7-2.9h0m0-.1h0m.5-1h0m.8 1.1h0m.6 1.3h0m.9-2.6h0m2.5.6h0m1.6-.6h0m2.5 1.6h0m3.8.5h0m2-1.5h0m.6-.7h0m2.3-.2h0m2.9 2.7h0m.2 2.1h0m1.1-4.5h0m.5-.4h0m.1 4.6h0m.3-2.5h0m1.5-2.2h0m.3 5.2h0m.3-2.2h0m.1.2h0m1.6 2h0m-105.4 3.4h0m60.4.1h0m21.3-2.7h0m24.2 1.2h0m3.3-1.7h0" stroke="#efe6e6" stroke-width="1.5" stroke-linecap="round" fill="none"/>
<path d="M404 7h0m7.6 1.6h0m44.5-.9h0m38.4-1.1h0m1.5 1.6h0m-136.1 3.1h0m41 .4h0m57.5-.9h0m.6-1.2h0m2.2 3.1h0m28.2 1h0m4.1-.9h0m.7-1.8h0m-134.3 3.9h0m7 .5h0m1.2 3.6h0m3.4 1.4h0m.4-3.8h0m4 1.5h0m.4 2.2h0m4-.6h0m4 1h0m2.7-1.8h0m2.2-1.6h0m2 3.2h0m1.4-5.1h0m.8 1.3h0m1.3 3.2h0m.7-2.2h0m10.6-1.4h0m4.2-.4h0m2.3 3.6h0m2.2 1h0m5.8-.2h0m7.2-3.4h0m4.7 2.2h0m.3 1.1h0m3.6-.9h0m7.5.9h0m2.9-1.6h0m17.9-4h0m6.3 1.5h0m12.9 3.6h0m3.4-4.4h0m2.8 2.6h0m2.6-2h0m16.8 2.7h0m2.6-2.8h0m-150.7 8.5h0m2.7-3.3h0m9.5 1.7h0m2.3-.9h0m17.4-.1h0m.4-.4h0m7.3-.2h0m14 4.8h0m.9-3.7h0m2.4-.8h0m3.3 3.4h0m9.5-1.2h0m42.6-1.9h0m7.4 2.3h0m6.1-2h0m6.9 2h0m.2-2.3h0m4.4 2.4h0m2.6 2.1h0m-135 4.9h0m19.9-3.7h0m115.1-.5h0m4.2 2.1h0m3.2 2.4h0m.6-3h0m-143.9 7.7h0m3.7 1.7h0m.7-.5h0m129.2-.7h0m3.8-.2h0m7.7-1.7h0m-151.6 4.4h0m.4 3.8h0m3 1.6h0m5-4.3h0m.3 1h0m.4.4h0m2.4 1.5h0m1.2-2.8h0m135.6 1.2h0m3.3-2.4h0m-148.4 9h0m4.8-3h0m131.4 3.4h0m-145.8 4.7h0m.3 1.1h0m2.3.9h0m6.6-4h0m2 4.3h0m2.2-4.5h0m1.3 1.8h0m1.1 2.5h0m132.3-3.7h0m1.5 3.3h0m-140.3 2.7h0m4.5 1.3h0m2.9 1.4h0m.6-3.1h0m0 4.7h0m1.3-1.7h0m1.8-.7h0m.3-2.3h0m132.3-.8h0m-148.2 8.6h0m4.4 1.3h0m3.4.8h0m3-4.2h0m9.2 3.4h0m2.2.8h0m124.6-1.5h0m1.3 2.5h0m1.4-5.2h0m-150.4 9.3h0m7.6-2.9h0m1.7 1.4h0m4.3.4h0m8.8 2.3h0m.3-3h0m1.6 3.3h0m118.8-4h0m2.4 1.1h0m1.4-.3h0m2.1-1.2h0m-146 9.8h0m3.4-1.8h0m6.5 1.2h0m6.5-2.3h0m7.8 1.5h0m131.2.5h0m-140.1 3.6h0m-18.5 10.3h0m3.9-4h0m.1 3h0m3.6-1.4h0m5.1.9h0m-13.6 6.4h0m11.6-1h0m.3-1h0m2.2 2.9h0m-11.6 6.3h0m1.2-4.5h0m2.4 3.3h0m.2 1.5h0m4.9-.5h0m1.4-2.6h0m.4-2.7h0m136.9 4.8h0m4.9-.7h0m-146.1 5.6h0m4.3.7h0m.5-.2h0m132.1-4.1h0m.6 1.6h0m4.6.4h0m.3-1h0m.4 1.8h0m.3-1.6h0m1.8 3.1h0m.7-.3h0m4.1-1.5h0m1.1 2.8h0m.6-.8h0m-150.5 1.4h0m5.2.5h0m3.8-.1h0m.2 3.1h0m2.6.9h0m2.3.3h0m124-3h0m.6 2.1h0m1 .8h0m9.9-1.3h0m-142.7 8.7h0m8-5h0m118.8 3.8h0m2.5-4.7h0m-136.1 7.4h0m137.1-1.2h0m-139.4 10.4h0m.5-1.9h0m3.3 2.1h0m2.6-.3h0m2.8.5h0m125.6-1.9h0m3.3-1h0m1.1-1.7h0m5.4 3.7h0m2.5-2.9h0m-142.6 7.8h0m136.7 2.6h0m5 .3h0m-16.6 3.9h0m8.7-.9h0m1.6 0h0m.2.2h0m1.6 1.7h0m-140.2 3.3h0m3.7-.9h0m9 4h0m2.7-3.4h0m22.3 2.7h0m3.1-1.1h0m3.5 2.4h0m10.7-4.7h0m13.6-1h0m19.7 2.4h0m3.9-.3h0m4.3-.2h0m6.7 2.8h0m17.1-2.6h0m4.4 1.9h0m9 .7h0m6.7-2.2h0m-143.4 6.4h0m5.8.9h0m34.6-1.6h0m3.7-.8h0m15.8 1.5h0m3.5 0h0m3.7-1h0m1.9-.9h0m1.9 3.3h0m5.8.8h0m7.6-2.3h0m18.2 1.5h0m.2-4.5h0m9.3 1.4h0m2.4 1.3h0m.5 2.9h0m.2-1.8h0m5.4-2.3h0m10.2.9h0m.3-2.2h0m3 4.8h0m-136.1 1.3h0m.8 4.2h0m17.3-2.1h0m69.4-1.6h0m12.1 2h0m3.3-.7h0m37.9 1.1h0m2.1-1h0m.7.2h0m3.1 2.2h0m-66.3 2.2h0" stroke="#e2221d" stroke-width="1.45" stroke-linecap="round" fill="none"/></g>
<circle cx="454.6" cy="29.2" r="1.9" fill="url(#gL)"/><circle cx="408.7" cy="54.3" r="1.9" fill="url(#gL)"/><circle cx="466.8" cy="111.9" r="1.9" fill="url(#gL)"/><circle cx="486.4" cy="37.0" r="1.9" fill="url(#gL)"/><circle cx="427.2" cy="29.8" r="1.9" fill="url(#gL)"/><circle cx="401.5" cy="90.2" r="1.9" fill="url(#gL)"/><circle cx="377.3" cy="51.3" r="1.9" fill="url(#gL)"/><circle cx="455.9" cy="95.2" r="1.9" fill="url(#gL)"/><circle cx="401.8" cy="100.8" r="1.9" fill="url(#gL)"/><circle cx="476.0" cy="26.8" r="1.9" fill="url(#gL)"/><circle cx="475.5" cy="114.7" r="1.9" fill="url(#gL)"/><circle cx="416.9" cy="45.7" r="1.9" fill="url(#gL)"/><circle cx="494.6" cy="68.7" r="1.9" fill="url(#gL)"/><circle cx="385.7" cy="38.3" r="1.9" fill="url(#gL)"/><circle cx="480.8" cy="102.7" r="1.9" fill="url(#gL)"/><circle cx="475.7" cy="118.7" r="1.9" fill="url(#gL)"/><circle cx="441.6" cy="149.6" r="1.9" fill="url(#gL)"/><circle cx="421.7" cy="96.1" r="1.9" fill="url(#gL)"/><circle cx="478.5" cy="104.6" r="1.9" fill="url(#gL)"/><circle cx="482.6" cy="99.3" r="1.9" fill="url(#gL)"/><circle cx="462.8" cy="31.8" r="1.9" fill="url(#gL)"/><circle cx="402.7" cy="62.8" r="1.9" fill="url(#gL)"/><circle cx="384.1" cy="55.6" r="1.9" fill="url(#gL)"/><circle cx="386.7" cy="61.3" r="1.9" fill="url(#gL)"/><circle cx="454.1" cy="72.3" r="1.9" fill="url(#gL)"/><circle cx="420.6" cy="52.6" r="1.9" fill="url(#gL)"/><circle cx="407.6" cy="145.0" r="1.9" fill="url(#gL)"/><circle cx="455.7" cy="103.4" r="1.9" fill="url(#gL)"/><circle cx="395.6" cy="118.6" r="1.9" fill="url(#gL)"/><circle cx="394.6" cy="74.2" r="1.9" fill="url(#gL)"/>
<rect x="374" y="26.2" width="124.3" height="124.5" fill="none" stroke="#444" stroke-width="0.75"/>
<rect x="450.3" y="82.6" width="27.5" height="30.3" fill="none" stroke="#3c4a78" stroke-width="0.9" stroke-dasharray="3 1.5"/>
<line x1="477.8" y1="82.6" x2="545.3" y2="33.2" stroke="#222" stroke-width="1.0" stroke-dasharray="4 2 1 2"/>
<line x1="477.8" y1="112.9" x2="545.3" y2="148.7" stroke="#222" stroke-width="1.0" stroke-dasharray="4 2 1 2"/>
<rect x="545.3" y="33.2" width="126.2" height="116.4" fill="#fff" stroke="#56648a" stroke-width="1.3" stroke-dasharray="6 2.6 0.9 2 0.9 2.6"/>
<path d="M631.2 92.8L630.4 93.7" stroke="#8c5a3c" stroke-width="1.5"/>
<path d="M630.4 93.7L629.5 94.5" stroke="#8c5a3c" stroke-width="1.5"/>
<path d="M616.7 111.2L618.9 109.8" stroke="#8c5a3c" stroke-width="1.5"/>
<path d="M618.9 109.8L621.1 108.4" stroke="#8c5a3c" stroke-width="1.5"/>
<path d="M633.0 63.6L631.9 66.0" stroke="#e8201c" stroke-width="1.5"/>
<path d="M631.9 66.0L630.7 68.3" stroke="#8c5a3c" stroke-width="1.5"/>
<path d="M621.9 71.2L619.2 70.6" stroke="#e8201c" stroke-width="1.5"/>
<path d="M619.2 70.6L616.6 70.0" stroke="#8c5a3c" stroke-width="1.5"/>
<path d="M623.9 116.7L626.4 115.1" stroke="#e8201c" stroke-width="1.5"/>
<path d="M626.4 115.1L628.9 113.4" stroke="#8c5a3c" stroke-width="1.5"/>
<path d="M581.6 58.9L584.0 61.0" stroke="#8c5a3c" stroke-width="1.5"/>
<path d="M584.0 61.0L586.3 63.0" stroke="#8c5a3c" stroke-width="1.5"/>
<path d="M640.6 106.1L637.5 104.8" stroke="#3cb43c" stroke-width="1.5"/>
<path d="M637.5 104.8L634.5 103.4" stroke="#e8201c" stroke-width="1.5"/>
<path d="M612.0 61.6L613.5 58.5" stroke="#e8201c" stroke-width="1.5"/>
<path d="M613.5 58.5L614.9 55.4" stroke="#8c5a3c" stroke-width="1.5"/>
<path d="M640.6 106.1L639.5 102.8" stroke="#3cb43c" stroke-width="1.5"/>
<path d="M639.5 102.8L638.4 99.5" stroke="#e8201c" stroke-width="1.5"/>
<path d="M627.5 86.6L629.4 89.7" stroke="#e8201c" stroke-width="1.5"/>
<path d="M629.4 89.7L631.2 92.8" stroke="#8c5a3c" stroke-width="1.5"/>
<path d="M622.8 91.7L626.1 93.1" stroke="#e8201c" stroke-width="1.5"/>
<path d="M626.1 93.1L629.5 94.5" stroke="#8c5a3c" stroke-width="1.5"/>
<path d="M631.2 92.8L634.8 92.2" stroke="#8c5a3c" stroke-width="1.5"/>
<path d="M634.8 92.2L638.4 91.7" stroke="#8c5a3c" stroke-width="1.5"/>
<path d="M616.9 87.1L619.8 89.4" stroke="#9be08a" stroke-width="1.5"/>
<path d="M619.8 89.4L622.8 91.7" stroke="#e8201c" stroke-width="1.5"/>
<path d="M615.5 77.6L616.0 73.8" stroke="#e8201c" stroke-width="1.5"/>
<path d="M616.0 73.8L616.6 70.0" stroke="#8c5a3c" stroke-width="1.5"/>
<path d="M638.4 99.5L638.4 95.6" stroke="#e8201c" stroke-width="1.5"/>
<path d="M638.4 95.6L638.4 91.7" stroke="#8c5a3c" stroke-width="1.5"/>
<path d="M631.8 83.5L634.1 80.2" stroke="#e8201c" stroke-width="1.5"/>
<path d="M634.1 80.2L636.5 77.0" stroke="#8c5a3c" stroke-width="1.5"/>
<path d="M627.5 86.6L628.5 90.5" stroke="#e8201c" stroke-width="1.5"/>
<path d="M628.5 90.5L629.5 94.5" stroke="#8c5a3c" stroke-width="1.5"/>
<path d="M648.4 130.1L648.1 125.9" stroke="#e8201c" stroke-width="1.5"/>
<path d="M648.1 125.9L647.9 121.7" stroke="#8c5a3c" stroke-width="1.5"/>
<path d="M622.8 91.7L627.0 92.2" stroke="#e8201c" stroke-width="1.5"/>
<path d="M627.0 92.2L631.2 92.8" stroke="#8c5a3c" stroke-width="1.5"/>
<path d="M663.4 117.3L659.2 116.2" stroke="#e8201c" stroke-width="1.5"/>
<path d="M659.2 116.2L655.1 115.0" stroke="#8c5a3c" stroke-width="1.5"/>
<path d="M612.0 61.6L616.4 61.8" stroke="#e8201c" stroke-width="1.5"/>
<path d="M616.4 61.8L620.7 61.9" stroke="#8c5a3c" stroke-width="1.5"/>
<path d="M614.9 55.4L617.8 58.6" stroke="#8c5a3c" stroke-width="1.5"/>
<path d="M617.8 58.6L620.7 61.9" stroke="#8c5a3c" stroke-width="1.5"/>
<path d="M623.9 116.7L622.5 112.6" stroke="#e8201c" stroke-width="1.5"/>
<path d="M622.5 112.6L621.1 108.4" stroke="#8c5a3c" stroke-width="1.5"/>
<path d="M620.7 61.9L624.0 59.0" stroke="#8c5a3c" stroke-width="1.5"/>
<path d="M624.0 59.0L627.2 56.0" stroke="#8c5a3c" stroke-width="1.5"/>
<path d="M613.4 102.8L615.0 107.0" stroke="#e8201c" stroke-width="1.5"/>
<path d="M615.0 107.0L616.7 111.2" stroke="#8c5a3c" stroke-width="1.5"/>
<path d="M623.9 116.7L620.3 114.0" stroke="#e8201c" stroke-width="1.5"/>
<path d="M620.3 114.0L616.7 111.2" stroke="#8c5a3c" stroke-width="1.5"/>
<path d="M616.6 70.0L618.7 66.0" stroke="#8c5a3c" stroke-width="1.5"/>
<path d="M618.7 66.0L620.7 61.9" stroke="#8c5a3c" stroke-width="1.5"/>
<path d="M600.3 43.8L602.9 47.6" stroke="#8c5a3c" stroke-width="1.5"/>
<path d="M602.9 47.6L605.5 51.4" stroke="#8c5a3c" stroke-width="1.5"/>
<path d="M602.7 81.7L600.6 77.6" stroke="#e8201c" stroke-width="1.5"/>
<path d="M600.6 77.6L598.5 73.5" stroke="#8c5a3c" stroke-width="1.5"/>
<path d="M621.1 108.4L625.0 110.9" stroke="#8c5a3c" stroke-width="1.5"/>
<path d="M625.0 110.9L628.9 113.4" stroke="#8c5a3c" stroke-width="1.5"/>
<path d="M621.9 71.2L626.3 69.8" stroke="#e8201c" stroke-width="1.5"/>
<path d="M626.3 69.8L630.7 68.3" stroke="#8c5a3c" stroke-width="1.5"/>
<path d="M638.4 91.7L634.0 93.1" stroke="#8c5a3c" stroke-width="1.5"/>
<path d="M634.0 93.1L629.5 94.5" stroke="#8c5a3c" stroke-width="1.5"/>
<path d="M603.2 65.4L600.9 69.5" stroke="#e8201c" stroke-width="1.5"/>
<path d="M600.9 69.5L598.5 73.5" stroke="#8c5a3c" stroke-width="1.5"/>
<path d="M613.4 102.8L608.6 103.1" stroke="#e8201c" stroke-width="1.5"/>
<path d="M608.6 103.1L603.9 103.4" stroke="#8c5a3c" stroke-width="1.5"/>
<path d="M613.4 102.8L617.2 105.6" stroke="#e8201c" stroke-width="1.5"/>
<path d="M617.2 105.6L621.1 108.4" stroke="#8c5a3c" stroke-width="1.5"/>
<path d="M651.7 106.1L653.4 110.5" stroke="#e8201c" stroke-width="1.5"/>
<path d="M653.4 110.5L655.1 115.0" stroke="#8c5a3c" stroke-width="1.5"/>
<path d="M633.0 63.6L630.1 59.8" stroke="#e8201c" stroke-width="1.5"/>
<path d="M630.1 59.8L627.2 56.0" stroke="#8c5a3c" stroke-width="1.5"/>
<path d="M612.0 61.6L614.3 65.8" stroke="#e8201c" stroke-width="1.5"/>
<path d="M614.3 65.8L616.6 70.0" stroke="#8c5a3c" stroke-width="1.5"/>
<path d="M616.9 87.1L616.2 82.3" stroke="#9be08a" stroke-width="1.5"/>
<path d="M616.2 82.3L615.5 77.6" stroke="#e8201c" stroke-width="1.5"/>
<path d="M655.1 115.0L651.5 118.3" stroke="#8c5a3c" stroke-width="1.5"/>
<path d="M651.5 118.3L647.9 121.7" stroke="#8c5a3c" stroke-width="1.5"/>
<path d="M588.6 73.0L593.5 73.2" stroke="#e8201c" stroke-width="1.5"/>
<path d="M593.5 73.2L598.5 73.5" stroke="#8c5a3c" stroke-width="1.5"/>
<path d="M605.5 51.4L610.2 53.4" stroke="#8c5a3c" stroke-width="1.5"/>
<path d="M610.2 53.4L614.9 55.4" stroke="#8c5a3c" stroke-width="1.5"/>
<path d="M640.6 106.1L639.8 111.2" stroke="#3cb43c" stroke-width="1.5"/>
<path d="M639.8 111.2L639.0 116.2" stroke="#e8201c" stroke-width="1.5"/>
<path d="M588.6 73.0L587.5 68.0" stroke="#e8201c" stroke-width="1.5"/>
<path d="M587.5 68.0L586.3 63.0" stroke="#8c5a3c" stroke-width="1.5"/>
<path d="M630.7 68.3L633.6 72.7" stroke="#8c5a3c" stroke-width="1.5"/>
<path d="M633.6 72.7L636.5 77.0" stroke="#8c5a3c" stroke-width="1.5"/>
<path d="M639.0 116.2L643.5 119.0" stroke="#e8201c" stroke-width="1.5"/>
<path d="M643.5 119.0L647.9 121.7" stroke="#8c5a3c" stroke-width="1.5"/>
<path d="M639.0 116.2L634.0 114.8" stroke="#e8201c" stroke-width="1.5"/>
<path d="M634.0 114.8L628.9 113.4" stroke="#8c5a3c" stroke-width="1.5"/>
<path d="M631.8 83.5L635.1 87.6" stroke="#e8201c" stroke-width="1.5"/>
<path d="M635.1 87.6L638.4 91.7" stroke="#8c5a3c" stroke-width="1.5"/>
<path d="M616.9 87.1L622.2 86.8" stroke="#9be08a" stroke-width="1.5"/>
<path d="M622.2 86.8L627.5 86.6" stroke="#e8201c" stroke-width="1.5"/>
<path d="M586.3 63.0L591.0 60.4" stroke="#8c5a3c" stroke-width="1.5"/>
<path d="M591.0 60.4L595.6 57.8" stroke="#8c5a3c" stroke-width="1.5"/>
<path d="M571.7 63.0L576.7 61.0" stroke="#8c5a3c" stroke-width="1.5"/>
<path d="M576.7 61.0L581.6 58.9" stroke="#8c5a3c" stroke-width="1.5"/>
<path d="M603.2 65.4L599.4 61.6" stroke="#e8201c" stroke-width="1.5"/>
<path d="M599.4 61.6L595.6 57.8" stroke="#8c5a3c" stroke-width="1.5"/>
<path d="M640.6 106.1L646.2 106.1" stroke="#3cb43c" stroke-width="1.5"/>
<path d="M646.2 106.1L651.7 106.1" stroke="#e8201c" stroke-width="1.5"/>
<path d="M616.9 87.1L609.8 84.4" stroke="#9be08a" stroke-width="1.5"/>
<path d="M609.8 84.4L602.7 81.7" stroke="#e8201c" stroke-width="1.5"/>
<path d="M616.9 87.1L624.3 85.3" stroke="#9be08a" stroke-width="1.5"/>
<path d="M624.3 85.3L631.8 83.5" stroke="#e8201c" stroke-width="1.5"/>
<path d="M616.9 87.1L615.1 94.9" stroke="#9be08a" stroke-width="1.5"/>
<path d="M615.1 94.9L613.4 102.8" stroke="#e8201c" stroke-width="1.5"/>
<path d="M566.4 60.1L569.0 61.5" stroke="#f0d8d8" stroke-width="1.5"/>
<path d="M569.0 61.5L571.7 63.0" stroke="#8c5a3c" stroke-width="1.5"/>
<path d="M571.7 70.0L571.7 66.5" stroke="#f0d8d8" stroke-width="1.5"/>
<path d="M571.7 66.5L571.7 63.0" stroke="#8c5a3c" stroke-width="1.5"/>
<path d="M581.6 50.8L581.6 54.8" stroke="#f0d8d8" stroke-width="1.5"/>
<path d="M581.6 54.8L581.6 58.9" stroke="#8c5a3c" stroke-width="1.5"/>
<path d="M582.5 66.0L584.4 64.5" stroke="#f0d8d8" stroke-width="1.5"/>
<path d="M584.4 64.5L586.3 63.0" stroke="#8c5a3c" stroke-width="1.5"/>
<path d="M595.0 53.7L595.3 55.8" stroke="#f0d8d8" stroke-width="1.5"/>
<path d="M595.3 55.8L595.6 57.8" stroke="#8c5a3c" stroke-width="1.5"/>
<path d="M598.0 51.9L596.8 54.8" stroke="#f0d8d8" stroke-width="1.5"/>
<path d="M596.8 54.8L595.6 57.8" stroke="#8c5a3c" stroke-width="1.5"/>
<path d="M593.9 40.8L597.1 42.3" stroke="#f0d8d8" stroke-width="1.5"/>
<path d="M597.1 42.3L600.3 43.8" stroke="#8c5a3c" stroke-width="1.5"/>
<path d="M605.0 37.3L602.6 40.5" stroke="#f0d8d8" stroke-width="1.5"/>
<path d="M602.6 40.5L600.3 43.8" stroke="#8c5a3c" stroke-width="1.5"/>
<path d="M598.0 46.7L599.1 45.2" stroke="#f0d8d8" stroke-width="1.5"/>
<path d="M599.1 45.2L600.3 43.8" stroke="#8c5a3c" stroke-width="1.5"/>
<path d="M607.9 47.3L606.7 49.3" stroke="#f0d8d8" stroke-width="1.5"/>
<path d="M606.7 49.3L605.5 51.4" stroke="#8c5a3c" stroke-width="1.5"/>
<path d="M602.0 54.9L603.8 53.1" stroke="#f0d8d8" stroke-width="1.5"/>
<path d="M603.8 53.1L605.5 51.4" stroke="#8c5a3c" stroke-width="1.5"/>
<path d="M619.0 49.0L617.0 52.2" stroke="#f0d8d8" stroke-width="1.5"/>
<path d="M617.0 52.2L614.9 55.4" stroke="#8c5a3c" stroke-width="1.5"/>
<path d="M617.8 63.0L619.2 62.5" stroke="#f0d8d8" stroke-width="1.5"/>
<path d="M619.2 62.5L620.7 61.9" stroke="#8c5a3c" stroke-width="1.5"/>
<path d="M623.8 59.5L622.2 60.7" stroke="#f0d8d8" stroke-width="1.5"/>
<path d="M622.2 60.7L620.7 61.9" stroke="#8c5a3c" stroke-width="1.5"/>
<path d="M627.7 50.2L627.5 53.1" stroke="#f0d8d8" stroke-width="1.5"/>
<path d="M627.5 53.1L627.2 56.0" stroke="#8c5a3c" stroke-width="1.5"/>
<path d="M645.1 90.0L641.8 90.8" stroke="#f0d8d8" stroke-width="1.5"/>
<path d="M641.8 90.8L638.4 91.7" stroke="#8c5a3c" stroke-width="1.5"/>
<path d="M598.9 102.3L601.4 102.8" stroke="#f0d8d8" stroke-width="1.5"/>
<path d="M601.4 102.8L603.9 103.4" stroke="#8c5a3c" stroke-width="1.5"/>
<path d="M602.2 98.4L603.0 100.9" stroke="#f0d8d8" stroke-width="1.5"/>
<path d="M603.0 100.9L603.9 103.4" stroke="#8c5a3c" stroke-width="1.5"/>
<path d="M602.2 111.2L603.0 107.3" stroke="#f0d8d8" stroke-width="1.5"/>
<path d="M603.0 107.3L603.9 103.4" stroke="#8c5a3c" stroke-width="1.5"/>
<path d="M610.6 116.2L613.7 113.7" stroke="#f0d8d8" stroke-width="1.5"/>
<path d="M613.7 113.7L616.7 111.2" stroke="#8c5a3c" stroke-width="1.5"/>
<path d="M627.3 103.9L624.2 106.2" stroke="#f0d8d8" stroke-width="1.5"/>
<path d="M624.2 106.2L621.1 108.4" stroke="#8c5a3c" stroke-width="1.5"/>
<path d="M635.6 110.6L632.2 112.0" stroke="#f0d8d8" stroke-width="1.5"/>
<path d="M632.2 112.0L628.9 113.4" stroke="#8c5a3c" stroke-width="1.5"/>
<path d="M630.6 120.6L629.8 117.0" stroke="#f0d8d8" stroke-width="1.5"/>
<path d="M629.8 117.0L628.9 113.4" stroke="#8c5a3c" stroke-width="1.5"/>
<path d="M640.0 80.0L638.2 78.5" stroke="#f0d8d8" stroke-width="1.5"/>
<path d="M638.2 78.5L636.5 77.0" stroke="#8c5a3c" stroke-width="1.5"/>
<path d="M634.0 71.0L632.4 69.7" stroke="#f0d8d8" stroke-width="1.5"/>
<path d="M632.4 69.7L630.7 68.3" stroke="#8c5a3c" stroke-width="1.5"/>
<circle cx="566.4" cy="60.1" r="1.4" fill="url(#gH)"/>
<circle cx="571.7" cy="70.0" r="1.4" fill="url(#gH)"/>
<circle cx="581.6" cy="50.8" r="1.4" fill="url(#gH)"/>
<circle cx="582.5" cy="66.0" r="1.4" fill="url(#gH)"/>
<circle cx="595.0" cy="53.7" r="1.4" fill="url(#gH)"/>
<circle cx="598.0" cy="51.9" r="1.4" fill="url(#gH)"/>
<circle cx="593.9" cy="40.8" r="1.4" fill="url(#gH)"/>
<circle cx="605.0" cy="37.3" r="1.4" fill="url(#gH)"/>
<circle cx="598.0" cy="46.7" r="1.4" fill="url(#gH)"/>
<circle cx="607.9" cy="47.3" r="1.4" fill="url(#gH)"/>
<circle cx="602.0" cy="54.9" r="1.4" fill="url(#gH)"/>
<circle cx="619.0" cy="49.0" r="1.4" fill="url(#gH)"/>
<circle cx="617.8" cy="63.0" r="1.4" fill="url(#gH)"/>
<circle cx="623.8" cy="59.5" r="1.4" fill="url(#gH)"/>
<circle cx="627.7" cy="50.2" r="1.4" fill="url(#gH)"/>
<circle cx="645.1" cy="90.0" r="1.4" fill="url(#gH)"/>
<circle cx="598.9" cy="102.3" r="1.4" fill="url(#gH)"/>
<circle cx="602.2" cy="98.4" r="1.4" fill="url(#gH)"/>
<circle cx="602.2" cy="111.2" r="1.4" fill="url(#gH)"/>
<circle cx="610.6" cy="116.2" r="1.4" fill="url(#gH)"/>
<circle cx="627.3" cy="103.9" r="1.4" fill="url(#gH)"/>
<circle cx="635.6" cy="110.6" r="1.4" fill="url(#gH)"/>
<circle cx="630.6" cy="120.6" r="1.4" fill="url(#gH)"/>
<circle cx="640.0" cy="80.0" r="1.4" fill="url(#gH)"/>
<circle cx="634.0" cy="71.0" r="1.4" fill="url(#gH)"/>
<circle cx="571.7" cy="63.0" r="2.0" fill="url(#gC)"/>
<circle cx="581.6" cy="58.9" r="2.0" fill="url(#gC)"/>
<circle cx="586.3" cy="63.0" r="2.0" fill="url(#gC)"/>
<circle cx="595.6" cy="57.8" r="2.0" fill="url(#gC)"/>
<circle cx="598.5" cy="73.5" r="2.0" fill="url(#gC)"/>
<circle cx="600.3" cy="43.8" r="2.0" fill="url(#gC)"/>
<circle cx="605.5" cy="51.4" r="2.0" fill="url(#gC)"/>
<circle cx="614.9" cy="55.4" r="2.0" fill="url(#gC)"/>
<circle cx="616.6" cy="70.0" r="2.0" fill="url(#gC)"/>
<circle cx="620.7" cy="61.9" r="2.0" fill="url(#gC)"/>
<circle cx="627.2" cy="56.0" r="2.0" fill="url(#gC)"/>
<circle cx="630.7" cy="68.3" r="2.0" fill="url(#gC)"/>
<circle cx="636.5" cy="77.0" r="2.0" fill="url(#gC)"/>
<circle cx="631.2" cy="92.8" r="2.0" fill="url(#gC)"/>
<circle cx="638.4" cy="91.7" r="2.0" fill="url(#gC)"/>
<circle cx="629.5" cy="94.5" r="2.0" fill="url(#gC)"/>
<circle cx="655.1" cy="115.0" r="2.0" fill="url(#gC)"/>
<circle cx="647.9" cy="121.7" r="2.0" fill="url(#gC)"/>
<circle cx="603.9" cy="103.4" r="2.0" fill="url(#gC)"/>
<circle cx="616.7" cy="111.2" r="2.0" fill="url(#gC)"/>
<circle cx="621.1" cy="108.4" r="2.0" fill="url(#gC)"/>
<circle cx="628.9" cy="113.4" r="2.0" fill="url(#gC)"/>
<circle cx="603.2" cy="65.4" r="2.2" fill="url(#gO)"/>
<circle cx="588.6" cy="73.0" r="2.2" fill="url(#gO)"/>
<circle cx="602.7" cy="81.7" r="2.2" fill="url(#gO)"/>
<circle cx="612.0" cy="61.6" r="2.2" fill="url(#gO)"/>
<circle cx="615.5" cy="77.6" r="2.2" fill="url(#gO)"/>
<circle cx="621.9" cy="71.2" r="2.2" fill="url(#gO)"/>
<circle cx="633.0" cy="63.6" r="2.2" fill="url(#gO)"/>
<circle cx="631.8" cy="83.5" r="2.2" fill="url(#gO)"/>
<circle cx="627.5" cy="86.6" r="2.2" fill="url(#gO)"/>
<circle cx="622.8" cy="91.7" r="2.2" fill="url(#gO)"/>
<circle cx="638.4" cy="99.5" r="2.2" fill="url(#gO)"/>
<circle cx="634.5" cy="103.4" r="2.2" fill="url(#gO)"/>
<circle cx="651.7" cy="106.1" r="2.2" fill="url(#gO)"/>
<circle cx="663.4" cy="117.3" r="2.2" fill="url(#gO)"/>
<circle cx="648.4" cy="130.1" r="2.2" fill="url(#gO)"/>
<circle cx="639.0" cy="116.2" r="2.2" fill="url(#gO)"/>
<circle cx="613.4" cy="102.8" r="2.2" fill="url(#gO)"/>
<circle cx="623.9" cy="116.7" r="2.2" fill="url(#gO)"/>
<circle cx="640.6" cy="106.1" r="2.3" fill="url(#gB)"/>
<circle cx="616.9" cy="87.1" r="4.5" fill="url(#gL)"/>
<circle cx="554.9" cy="131.4" r="2.5" fill="url(#gB)"/>
<circle cx="570.9" cy="131.4" r="5.1" fill="url(#gL)"/>
<circle cx="582.9" cy="131.4" r="2.5" fill="url(#gC)"/>
<circle cx="598.2" cy="131.4" r="2.4" fill="url(#gN)"/>
<circle cx="612.9" cy="131.4" r="2.6" fill="url(#gO)"/>
<circle cx="626.9" cy="131.4" r="1.7" fill="url(#gH)"/>
<text x="555.4" y="148" font-size="9.4" text-anchor="middle" fill="#111" color="#111" >B</text>
<text x="571.3" y="148" font-size="9.4" text-anchor="middle" fill="#111" color="#111" >Li</text>
<text x="582.6" y="148" font-size="9.4" text-anchor="middle" fill="#111" color="#111" >C</text>
<text x="599.1" y="148" font-size="9.4" text-anchor="middle" fill="#111" color="#111" >N</text>
<text x="613.6" y="148" font-size="9.4" text-anchor="middle" fill="#111" color="#111" >O</text>
<text x="627.4" y="148" font-size="9.4" text-anchor="middle" fill="#111" color="#111" >H</text>
<line x1="8.8" y1="142" x2="8.8" y2="131" stroke="#33cc33" stroke-width="1.4"/>
<path d="M8.8 127l-2 4.5h4z" fill="#33cc33"/>
<line x1="8.8" y1="142" x2="18.8" y2="142" stroke="#e02020" stroke-width="1.4"/>
<path d="M23.3 142l-4.5 -2v4z" fill="#e02020"/>
<circle cx="8.8" cy="142" r="1.9" fill="#1a1aa0"/>
<text x="7.2" y="125.7" font-size="5.5" text-anchor="start" fill="#111" color="#111" >b</text>
<text x="26.4" y="143.8" font-size="5.5" text-anchor="start" fill="#111" color="#111" >a</text>
<line x1="351.8" y1="140.8" x2="351.8" y2="129.8" stroke="#33cc33" stroke-width="1.4"/>
<path d="M351.8 125.80000000000001l-2 4.5h4z" fill="#33cc33"/>
<line x1="351.8" y1="140.8" x2="361.8" y2="140.8" stroke="#e02020" stroke-width="1.4"/>
<path d="M366.3 140.8l-4.5 -2v4z" fill="#e02020"/>
<circle cx="351.8" cy="140.8" r="1.9" fill="#1a1aa0"/>
<text x="350.2" y="124.5" font-size="5.5" text-anchor="start" fill="#111" color="#111" >b</text>
<text x="369.4" y="142.6" font-size="5.5" text-anchor="start" fill="#111" color="#111" >a</text>
<text x="1.2" y="193.7" font-size="18" text-anchor="start" fill="#000" color="#000" class="pl">c</text>
<path d="M30.3 322.5L30.7 322.5L31.1 322.5L31.5 322.5L31.9 322.5L32.3 322.5L32.7 322.5L33.1 322.5L33.5 322.5L33.9 322.5L34.3 322.5L34.7 322.5L35.1 322.5L35.5 322.5L35.9 322.5L36.3 322.5L36.7 322.5L37.1 322.5L37.5 322.5L37.9 322.5L38.3 322.5L38.7 322.5L39.1 322.5L39.5 322.5L39.9 322.5L40.2 322.5L40.6 322.5L41 322.5L41.4 322.5L41.8 322.5L42.2 322.5L42.6 322.5L43 322.5L43.4 322.5L43.8 322.5L44.2 322.5L44.6 322.5L45 322.5L45.4 322.5L45.8 322.5L46.2 322.5L46.6 322.5L47 322.5L47.4 322.5L47.8 322.5L48.2 322.5L48.6 322.5L49 322.5L49.4 322.5L49.8 322.5L50.2 322.5L50.6 322.5L51 322.5L51.4 322.5L51.8 322.5L52.2 322.5L52.6 322.5L53 322.5L53.4 322.5L53.8 322.5L54.2 322.5L54.6 322.5L55 322.5L55.4 322.5L55.8 322.5L56.2 322.5L56.6 322.5L57 322.5L57.4 322.5L57.8 322.5L58.2 322.5L58.6 322.5L59 322.5L59.4 322.5L59.8 322.5L60.2 322.5L60.5 322.5L60.9 322.5L61.3 322.5L61.7 322.5L62.1 322.5L62.5 322.5L62.9 322.5L63.3 322.5L63.7 322.5L64.1 322.5L64.5 322.5L64.9 322.5L65.3 322.5L65.7 322.5L66.1 322.5L66.5 322.5L66.9 322.5L67.3 318.8L67.7 311.3L68.1 303.9L68.5 283.4L68.9 262.9L69.3 247.6L69.7 237.5L70.1 253.8L70.5 258.1L70.9 250.3L71.3 263.1L71.7 275.9L72.1 282.4L72.5 289L72.9 293.6L73.3 296.2L73.7 298.9L74.1 307.5L74.5 298.7L74.9 310.4L75.3 302.4L75.7 313.3L76.1 305.5L76.5 302.7L76.9 310.1L77.3 302.2L77.7 314.1L78.1 310.4L78.5 312.4L78.9 310.2L79.3 309L79.7 316L80.1 316.2L80.4 316.3L80.8 314.5L81.2 305.3L81.6 312.8L82 313.3L82.4 313.4L82.8 314.7L83.2 313.7L83.6 310.8L84 312.9L84.4 313.2L84.8 312.7L85.2 311.4L85.6 315.3L86 312.7L86.4 312.1L86.8 313.2L87.2 314.2L87.6 315.4L88 317.5L88.4 312.4L88.8 312.3L89.2 313.2L89.6 314.2L90 312.8L90.4 314.4L90.8 313.9L91.2 315.2L91.6 309L92 314.2L92.4 316.1L92.8 315.1L93.2 312.4L93.6 313.5L94 315.7L94.4 313.5L94.8 319.5L95.2 314.1L95.6 313.4L96 314.3L96.4 317.7L96.8 309.8L97.2 312.7L97.6 314.1L98 306.3L98.4 310.4L98.8 310.2L99.2 314.1L99.6 307.6L100 308.6L100.3 316.4L100.7 311.3L101.1 305.5L101.5 302.9L101.9 306.3L102.3 300.9L102.7 306.8L103.1 309L103.5 299.2L103.9 309.2L104.3 305.3L104.7 297.8L105.1 313.1L105.5 302.4L105.9 313.8L106.3 310.3L106.7 305.1L107.1 312.8L107.5 312.2L107.9 310.9L108.3 311.8L108.7 307.2L109.1 314.3L109.5 309.8L109.9 314.1L110.3 315.6L110.7 307.5L111.1 306.5L111.5 313.6L111.9 314.1L112.3 316.1L112.7 308.1L113.1 309.3L113.5 314.6L113.9 315.3L114.3 319L114.7 313.5L115.1 313.2L115.5 313.1L115.9 312.8L116.3 317.6L116.7 314.6L117.1 313.2L117.5 316.3L117.9 315L118.3 317.5L118.7 313.7L119.1 316.6L119.5 320.1L119.8 316.1L120.2 317.7L120.6 315.7L121 319.4L121.4 316.5L121.8 316.7L122.2 317.5L122.6 318L123 319.9L123.4 316.9L123.8 317.6L124.2 318.5L124.6 318.8L125 318L125.4 320.2L125.8 320.8L126.2 320.6L126.6 319.7L127 319.3L127.4 317.8L127.8 319.8L128.2 318L128.6 320.6L129 321.3L129.4 318.8L129.8 318.7L130.2 318L130.6 317L131 321.9L131.4 318.4L131.8 318.6L132.2 317.8L132.6 319.4L133 320.5L133.4 320.2L133.8 313.8L134.2 312.5L134.6 319.2L135 314.6L135.4 314.4L135.8 311.5L136.2 318.3L136.6 315.2L137 315.2L137.4 315.7L137.8 315.4L138.2 314.9L138.6 319L139 316.9L139.4 315.7L139.7 316.7L140.1 315.6L140.5 316.2L140.9 319.8L141.3 318.5L141.7 317.6L142.1 319.4L142.5 316.1L142.9 318.2L143.3 320.1L143.7 320.7L144.1 319.8L144.5 318.9L144.9 319.4L145.3 320.9L145.7 320.1L146.1 320.7L146.5 318.9L146.9 318.5L147.3 318.4L147.7 321.5L148.1 320.2L148.5 318L148.9 319.8L149.3 320.1L149.7 319L150.1 321.1L150.5 319.2L150.9 318L151.3 318.4L151.7 319.2L152.1 320.9L152.5 319.6L152.9 320.5L153.3 318.1L153.7 321.6L154.1 320.7L154.5 320.3L154.9 322.2L155.3 320.1L155.7 318.1L156.1 315.4L156.5 320.1L156.9 318L157.3 319.5L157.7 320.7L158.1 320.5L158.5 319.8L158.9 319.5L159.3 322.5L159.6 319.8L160 321.1L160.4 321L160.8 319.5L161.2 319.7L161.6 321.2L162 320.6L162.4 319.1L162.8 322L163.2 320L163.6 317.5L164 320.6L164.4 319.2L164.8 320.8L165.2 320.2L165.6 322.5L166 318.6L166.4 321.3L166.8 319.3L167.2 320.2L167.6 320.5L168 322.5L168.4 321.3L168.8 321.4L169.2 319.2L169.6 317.6L170 322.1L170.4 320.9L170.8 320.5L171.2 322.3L171.6 321.2L172 320.5L172.4 319.3L172.8 319.4L173.2 321.9L173.6 317.1L174 321.3L174.4 321.8L174.8 320.9L175.2 319.2L175.6 322.3L176 320L176.4 322.1L176.8 318.9L177.2 319.5L177.6 319.9L178 317.6L178.4 321.2L178.8 319.7L179.2 319.3L179.5 320.5L179.9 322.1L180.3 318L180.7 318.6L181.1 318.6L181.5 320.5L181.9 320L182.3 321.2L182.7 319.7L183.1 321.8L183.5 318.5L183.9 320L184.3 319.8L184.7 318L185.1 319.5L185.5 320.5L185.9 318.9L186.3 317.9L186.7 320.2L187.1 319.9L187.5 321.9L187.9 321.6L188.3 319.4L188.7 320.7L189.1 321.5L189.5 319.8" fill="none" stroke="#4cb860" stroke-width="1.1" stroke-linejoin="round" />
<path d="M30.3 322.5L30.7 322.5L31.1 322.5L31.5 322.5L31.9 322.5L32.3 322.5L32.7 322.5L33.1 322.5L33.5 322.5L33.9 322.5L34.3 322.5L34.7 322.5L35.1 322.5L35.5 322.5L35.9 322.5L36.3 322.5L36.7 322.5L37.1 322.5L37.5 322.5L37.9 322.5L38.3 322.5L38.7 322.5L39.1 322.5L39.5 322.5L39.9 322.5L40.2 322.5L40.6 322.5L41 322.5L41.4 322.5L41.8 322.5L42.2 322.5L42.6 322.5L43 322.5L43.4 322.5L43.8 322.5L44.2 322.5L44.6 322.5L45 322.5L45.4 322.5L45.8 322.5L46.2 322.5L46.6 322.5L47 322.5L47.4 322.5L47.8 322.5L48.2 322.5L48.6 322.5L49 322.5L49.4 322.5L49.8 322.5L50.2 322.5L50.6 322.5L51 322.5L51.4 322.5L51.8 322.5L52.2 322.5L52.6 322.5L53 322.5L53.4 322.5L53.8 322.5L54.2 322.5L54.6 322.5L55 322.5L55.4 322.5L55.8 322.5L56.2 322.5L56.6 322.5L57 322.5L57.4 322.5L57.8 322.5L58.2 322.5L58.6 322.5L59 322.5L59.4 322.5L59.8 322.5L60.2 322.5L60.5 322.5L60.9 322.5L61.3 322.5L61.7 322.5L62.1 322.5L62.5 322.5L62.9 322.5L63.3 322.5L63.7 322.5L64.1 322.5L64.5 322.5L64.9 322.5L65.3 322.5L65.7 322.5L66.1 322.5L66.5 322.5L66.9 322.5L67.3 322.5L67.7 319.4L68.1 316.3L68.5 313.2L68.9 303.9L69.3 294.6L69.7 286.8L70.1 280.6L70.5 283.4L70.9 286.2L71.3 289.2L71.7 292.5L72.1 295.7L72.5 299L72.9 302.2L73.3 304.6L73.7 306.2L74.1 309.3L74.5 312.6L74.9 312.5L75.3 314.6L75.7 314.4L76.1 312.1L76.5 316.4L76.9 313.1L77.3 317L77.7 316.9L78.1 318.4L78.5 319.1L78.9 318.1L79.3 316L79.7 317.5L80.1 318.3L80.4 318.3L80.8 319.7L81.2 319.8L81.6 318.6L82 321.1L82.4 320L82.8 319.5L83.2 321.6L83.6 319.8L84 320.9L84.4 320.7L84.8 320.3L85.2 320.7L85.6 322.5L86 319.7L86.4 321.9L86.8 320.4L87.2 318.8L87.6 320L88 321.1L88.4 321L88.8 320.6L89.2 319.2L89.6 319.8L90 321.5L90.4 320.1L90.8 319.9L91.2 320.3L91.6 321.4L92 320.4L92.4 320.5L92.8 320.9L93.2 320L93.6 320.3L94 319.8L94.4 320.2L94.8 320.4L95.2 319.5L95.6 321.2L96 321L96.4 319.2L96.8 320.7L97.2 320L97.6 321.3L98 320.3L98.4 320.8L98.8 321.6L99.2 320.3L99.6 322.2L100 319.7L100.3 319L100.7 320.7L101.1 318.5L101.5 320.7L101.9 319.4L102.3 318.3L102.7 319.7L103.1 319.8L103.5 317.9L103.9 318.3L104.3 317.7L104.7 317.7L105.1 316L105.5 318.8L105.9 317L106.3 316.7L106.7 318.3L107.1 315.9L107.5 314.1L107.9 314.2L108.3 313.1L108.7 311.8L109.1 314.1L109.5 311.4L109.9 317.5L110.3 312.3L110.7 312.3L111.1 311.9L111.5 314.7L111.9 312.2L112.3 310.9L112.7 313.5L113.1 313.3L113.5 312.3L113.9 312.4L114.3 318.3L114.7 314.8L115.1 308.9L115.5 313.7L115.9 315.9L116.3 312.8L116.7 315.6L117.1 313.1L117.5 316.2L117.9 317.1L118.3 315.4L118.7 316.5L119.1 316.7L119.5 321.2L119.8 317.1L120.2 316.2L120.6 316.6L121 318.6L121.4 317.8L121.8 319.2L122.2 319.7L122.6 318.5L123 319.5L123.4 320.1L123.8 319.6L124.2 320.2L124.6 320.9L125 318.7L125.4 320L125.8 320.1L126.2 321L126.6 320.2L127 319.9L127.4 321.1L127.8 321.3L128.2 320.2L128.6 321.2L129 321.3L129.4 319.3L129.8 321L130.2 321.3L130.6 320.4L131 320.1L131.4 320.4L131.8 320.2L132.2 321.3L132.6 320.5L133 321.3L133.4 320.8L133.8 320.3L134.2 321.9L134.6 319.8L135 321.2L135.4 320.1L135.8 320.2L136.2 320.6L136.6 320.6L137 321.2L137.4 321.9L137.8 320.5L138.2 320.6L138.6 320.5L139 320.1L139.4 321.7L139.7 320.2L140.1 320.1L140.5 319.9L140.9 321.4L141.3 321.3L141.7 319.3L142.1 320.8L142.5 320.2L142.9 319.4L143.3 320.3L143.7 322.1L144.1 318.8L144.5 321.1L144.9 320.1L145.3 321.6L145.7 319.6L146.1 320.3L146.5 318.6L146.9 319L147.3 321.3L147.7 321.1L148.1 320.8L148.5 321.3L148.9 319.2L149.3 319.4L149.7 319.7L150.1 320.9L150.5 320.9L150.9 320.3L151.3 319.9L151.7 321.3L152.1 321.9L152.5 320.4L152.9 320.7L153.3 319.8L153.7 319.9L154.1 321L154.5 321L154.9 321.2L155.3 320.9L155.7 321.1L156.1 320.4L156.5 320.9L156.9 321.8L157.3 321.8L157.7 321.6L158.1 321.4L158.5 320.6L158.9 322L159.3 321.2L159.6 320.7L160 320.5L160.4 322.2L160.8 321.6L161.2 321.2L161.6 320.9L162 319.8L162.4 321L162.8 319.7L163.2 321L163.6 320.1L164 320.4L164.4 320.8L164.8 322.2L165.2 320.6L165.6 319.4L166 322L166.4 319.4L166.8 319.7L167.2 320.6L167.6 320L168 320.5L168.4 320.9L168.8 320.5L169.2 320.8L169.6 319.6L170 320L170.4 320.5L170.8 320.8L171.2 319.4L171.6 320.7L172 321L172.4 320.8L172.8 321.3L173.2 319.5L173.6 319L174 320.4L174.4 321.3L174.8 320.9L175.2 321L175.6 322.5L176 320.7L176.4 320L176.8 321.1L177.2 320.1L177.6 322L178 320.3L178.4 320.9L178.8 320L179.2 320.6L179.5 319.7L179.9 318.7L180.3 320.7L180.7 320.8L181.1 321.2L181.5 319.4L181.9 320.1L182.3 321.2L182.7 319.9L183.1 319L183.5 320.6L183.9 321L184.3 320.2L184.7 320.9L185.1 321.5L185.5 320.2L185.9 321.4L186.3 321.4L186.7 321.6L187.1 320.5L187.5 321L187.9 321.2L188.3 320.8L188.7 321.7L189.1 319.8L189.5 319.6" fill="none" stroke="#4a7fe0" stroke-width="1.2" stroke-linejoin="round" />
<path d="M30.3 322.5L30.7 322.5L31.1 322.5L31.5 322.5L31.9 322.5L32.3 322.5L32.7 322.5L33.1 322.5L33.5 322.5L33.9 322.5L34.3 322.5L34.7 322.5L35.1 322.5L35.5 322.5L35.9 322.5L36.3 322.5L36.7 322.5L37.1 322.5L37.5 322.5L37.9 322.5L38.3 322.5L38.7 322.5L39.1 322.5L39.5 322.5L39.9 322.5L40.2 322.5L40.6 322.5L41 322.5L41.4 322.5L41.8 322.5L42.2 322.5L42.6 322.5L43 322.5L43.4 322.5L43.8 322.5L44.2 322.5L44.6 322.5L45 322.5L45.4 322.5L45.8 322.5L46.2 322.5L46.6 322.5L47 322.5L47.4 322.5L47.8 322.5L48.2 322.5L48.6 322.5L49 322.5L49.4 322.5L49.8 322.5L50.2 322.5L50.6 322.5L51 322.5L51.4 322.5L51.8 322.5L52.2 322.5L52.6 322.5L53 322.5L53.4 322.5L53.8 322.5L54.2 322.5L54.6 322.5L55 322.5L55.4 322.5L55.8 322.5L56.2 322.5L56.6 322.5L57 322.5L57.4 322.5L57.8 322.5L58.2 322.5L58.6 322.5L59 322.5L59.4 322.5L59.8 322.5L60.2 322.5L60.5 322.5L60.9 322.5L61.3 322.5L61.7 322.5L62.1 322.5L62.5 322.5L62.9 322.5L63.3 322.5L63.7 322.5L64.1 322.5L64.5 322.5L64.9 322.5L65.3 322.5L65.7 322.5L66.1 322.5L66.5 322.5L66.9 322.5L67.3 320.2L67.7 315.5L68.1 310.9L68.5 298.7L68.9 286.6L69.3 277.4L69.7 271L70.1 269.4L70.5 272.7L70.9 275.9L71.3 282.1L71.7 288.3L72.1 294.6L72.5 297.8L72.9 301.1L73.3 304.3L73.7 307.6L74.1 311.5L74.5 315.3L74.9 317.1L75.3 313.3L75.7 313.4L76.1 317.2L76.5 316.3L76.9 316.2L77.3 320.2L77.7 319.7L78.1 318.7L78.5 319L78.9 320.9L79.3 319.2L79.7 318.8L80.1 319.8L80.4 319.4L80.8 321.6L81.2 320.4L81.6 320.9L82 321.3L82.4 321.7L82.8 321.2L83.2 321.4L83.6 321L84 321.5L84.4 321.1L84.8 321.3L85.2 320.1L85.6 322.4L86 320.8L86.4 321.7L86.8 321.5L87.2 321L87.6 321.1L88 320.9L88.4 321.6L88.8 320.6L89.2 321.8L89.6 321.6L90 320.8L90.4 320.8L90.8 320.7L91.2 320.4L91.6 320.9L92 320.5L92.4 320.7L92.8 321L93.2 321.6L93.6 321.2L94 322L94.4 321.2L94.8 320.8L95.2 320.8L95.6 321.9L96 321.1L96.4 321.4L96.8 322.4L97.2 321.4L97.6 320.8L98 320.2L98.4 320.4L98.8 321.4L99.2 321.2L99.6 321.1L100 321.5L100.3 320.6L100.7 321.3L101.1 321.5L101.5 321.8L101.9 320L102.3 319.4L102.7 320.2L103.1 320.2L103.5 319.4L103.9 319.6L104.3 318.7L104.7 321L105.1 318.9L105.5 321.3L105.9 317.7L106.3 321.2L106.7 318.5L107.1 318.7L107.5 318.5L107.9 316.6L108.3 317.3L108.7 316.9L109.1 317.5L109.5 314.9L109.9 316.1L110.3 316.4L110.7 314.5L111.1 317.4L111.5 316.2L111.9 316.4L112.3 314.1L112.7 313.8L113.1 317.4L113.5 315.9L113.9 314.8L114.3 315.7L114.7 315.7L115.1 315.6L115.5 320.2L115.9 317.5L116.3 316.3L116.7 319.3L117.1 318.4L117.5 317.2L117.9 318.3L118.3 318.6L118.7 317.7L119.1 318.8L119.5 319.1L119.8 319L120.2 320.5L120.6 319.5L121 320.3L121.4 321.1L121.8 321.6L122.2 321.9L122.6 320.7L123 320.1L123.4 320.1L123.8 322.1L124.2 320.7L124.6 319.9L125 321.3L125.4 320.7L125.8 321.9L126.2 320.5L126.6 320.7L127 321.2L127.4 320.8L127.8 320L128.2 320.3L128.6 321.8L129 319.6L129.4 321.2L129.8 320.3L130.2 321.7L130.6 321.7L131 321.8L131.4 320.3L131.8 321.9L132.2 321.7L132.6 322.1L133 321.9L133.4 320.4L133.8 321.6L134.2 320.9L134.6 322.5L135 321L135.4 321.8L135.8 321.8L136.2 321.1L136.6 320.3L137 320.8L137.4 320L137.8 320.9L138.2 320.9L138.6 321.6L139 320.8L139.4 322.1L139.7 320.4L140.1 322.2L140.5 320.8L140.9 322L141.3 321.3L141.7 320.6L142.1 321L142.5 321.1L142.9 320.9L143.3 321.3L143.7 321.6L144.1 320.1L144.5 320.7L144.9 320.8L145.3 321.2L145.7 320.6L146.1 321.8L146.5 319.4L146.9 321.2L147.3 321.5L147.7 320.3L148.1 322L148.5 319.5L148.9 322L149.3 321L149.7 321.4L150.1 320.7L150.5 320.7L150.9 320.4L151.3 320.3L151.7 320.7L152.1 320.9L152.5 321.7L152.9 321.9L153.3 320.6L153.7 321.7L154.1 320.8L154.5 320.8L154.9 321.5L155.3 320.9L155.7 321.3L156.1 320.7L156.5 322.3L156.9 320.4L157.3 320.6L157.7 321L158.1 320.3L158.5 321.4L158.9 321.8L159.3 321.4L159.6 320.5L160 320.5L160.4 320.4L160.8 320.7L161.2 322L161.6 319.3L162 320L162.4 318.8L162.8 320.9L163.2 320.1L163.6 321.3L164 319.9L164.4 320.8L164.8 320.1L165.2 320.7L165.6 321.5L166 321.3L166.4 322.3L166.8 321.3L167.2 321.3L167.6 319.4L168 321.7L168.4 321.6L168.8 320.6L169.2 321.7L169.6 320.9L170 321.6L170.4 321.7L170.8 320.8L171.2 321.4L171.6 321.4L172 322.5L172.4 320.5L172.8 318.5L173.2 321L173.6 321.3L174 320.7L174.4 321.4L174.8 320.6L175.2 321.2L175.6 319.5L176 320.9L176.4 320.9L176.8 319.8L177.2 319.9L177.6 321.4L178 319.4L178.4 321.3L178.8 321.9L179.2 321L179.5 320.6L179.9 320.2L180.3 321.3L180.7 320.2L181.1 320.4L181.5 322.3L181.9 318.8L182.3 319.6L182.7 321.1L183.1 319.5L183.5 320.7L183.9 320.3L184.3 321.3L184.7 321.8L185.1 320.3L185.5 321.5L185.9 320.3L186.3 320.5L186.7 320.5L187.1 320.1L187.5 321.3L187.9 320.1L188.3 319.5L188.7 320.7L189.1 320.6L189.5 321.6" fill="none" stroke="#ee2a24" stroke-width="1.4" stroke-linejoin="round" />
<path d="M30.3 322.5L30.7 322.5L31.1 322.5L31.5 322.5L31.9 322.5L32.3 322.5L32.7 322.5L33.1 322.5L33.5 322.5L33.9 322.5L34.3 322.5L34.7 322.5L35.1 322.5L35.5 322.5L35.9 322.5L36.3 322.5L36.7 322.5L37.1 322.5L37.5 322.5L37.9 322.5L38.3 322.5L38.7 322.5L39.1 322.5L39.5 322.5L39.9 322.5L40.2 322.5L40.6 322.5L41 322.5L41.4 322.5L41.8 322.5L42.2 322.5L42.6 322.5L43 322.5L43.4 322.5L43.8 322.5L44.2 322.5L44.6 322.5L45 322.5L45.4 322.5L45.8 322.5L46.2 322.5L46.6 322.5L47 322.5L47.4 322.5L47.8 322.5L48.2 322.5L48.6 322.5L49 322.5L49.4 322.5L49.8 322.5L50.2 322.5L50.6 322.5L51 322.5L51.4 322.5L51.8 322.5L52.2 322.5L52.6 322.5L53 322.5L53.4 322.5L53.8 322.5L54.2 322.5L54.6 322.5L55 322.5L55.4 322.5L55.8 322.5L56.2 322.5L56.6 322.5L57 322.5L57.4 322.5L57.8 322.5L58.2 322.5L58.6 322.5L59 322.5L59.4 322.5L59.8 322.5L60.2 322.5L60.5 322.5L60.9 322.5L61.3 322.5L61.7 322.5L62.1 322.5L62.5 322.5L62.9 322.5L63.3 322.5L63.7 322.5L64.1 322.5L64.5 322.5L64.9 322.5L65.3 322.5L65.7 322.5L66.1 322.5L66.5 322.5L66.9 322.5L67.3 322.5L67.7 322.5L68.1 322.5L68.5 322.5L68.9 322.5L69.3 322.5L69.7 322.5L70.1 322.5L70.5 320.2L70.9 317.8L71.3 315.5L71.7 313.2L72.1 307.2L72.5 301.2L72.9 295.2L73.3 290.8L73.7 288L74.1 293.2L74.5 286L74.9 293.6L75.3 296.6L75.7 301.9L76.1 293L76.5 301.6L76.9 302.9L77.3 305.8L77.7 314.8L78.1 305L78.5 308L78.9 308.5L79.3 305.7L79.7 311.2L80.1 308.1L80.4 314.5L80.8 303.9L81.2 308.6L81.6 314.4L82 315.2L82.4 310L82.8 310.1L83.2 316L83.6 316.1L84 317.3L84.4 309.6L84.8 313.1L85.2 315.4L85.6 321.2L86 313.6L86.4 317.3L86.8 311.9L87.2 314.7L87.6 314.3L88 316.7L88.4 313.8L88.8 319.6L89.2 314.6L89.6 318.7L90 314.4L90.4 313.2L90.8 314.2L91.2 315.1L91.6 319L92 313.5L92.4 316.3L92.8 314.6L93.2 316.2L93.6 318.4L94 317.7L94.4 317.4L94.8 315.7L95.2 319.1L95.6 317.2L96 317.2L96.4 315.7L96.8 318.1L97.2 316.8L97.6 317.4L98 314.1L98.4 319.1L98.8 315.2L99.2 316.5L99.6 315.9L100 320.7L100.3 315.6L100.7 316L101.1 313.4L101.5 317.1L101.9 320.9L102.3 316.1L102.7 320.5L103.1 317.8L103.5 318.2L103.9 317.5L104.3 318.5L104.7 318.3L105.1 314L105.5 315.1L105.9 319L106.3 316.7L106.7 317.5L107.1 318.2L107.5 318.4L107.9 315.6L108.3 317L108.7 321.8L109.1 317.4L109.5 317.4L109.9 319.6L110.3 316.8L110.7 319.9L111.1 316.5L111.5 316.5L111.9 318L112.3 317.3L112.7 316.4L113.1 312.5L113.5 317.8L113.9 316.9L114.3 318.7L114.7 314.9L115.1 315.5L115.5 321.4L115.9 318.2L116.3 316.6L116.7 318.1L117.1 319.2L117.5 322.3L117.9 317.9L118.3 319L118.7 319.2L119.1 319.1L119.5 316.9L119.8 318.8L120.2 315.4L120.6 320.3L121 317.7L121.4 317.1L121.8 321.7L122.2 317.3L122.6 321.1L123 315.6L123.4 318.9L123.8 319.3L124.2 322L124.6 320.4L125 319.1L125.4 316.6L125.8 317.2L126.2 317.9L126.6 317.8L127 320.8L127.4 319.2L127.8 319.6L128.2 320.8L128.6 318.7L129 320.3L129.4 317.8L129.8 320.4L130.2 317.3L130.6 319.3L131 320L131.4 322.5L131.8 319.4L132.2 320.1L132.6 320L133 318.2L133.4 318L133.8 321.1L134.2 319.3L134.6 318.8L135 319.9L135.4 320.2L135.8 318.1L136.2 320.3L136.6 320.9L137 319.6L137.4 320.9L137.8 319L138.2 318.1L138.6 320.6L139 319.5L139.4 320.5L139.7 319.1L140.1 318.2L140.5 319L140.9 318.7L141.3 319.9L141.7 320.4L142.1 321.3L142.5 321.2L142.9 322.5L143.3 320.5L143.7 317.3L144.1 319.3L144.5 318.6L144.9 319.4L145.3 319.4L145.7 320.9L146.1 317.1L146.5 316.9L146.9 320.4L147.3 319.9L147.7 320.4L148.1 319.3L148.5 320L148.9 320.4L149.3 318.8L149.7 319L150.1 320.6L150.5 320.3L150.9 320.5L151.3 320.8L151.7 320.4L152.1 321.2L152.5 320.2L152.9 320.8L153.3 319.3L153.7 318.9L154.1 319.1L154.5 319.2L154.9 319.2L155.3 320.8L155.7 319L156.1 321.7L156.5 321.7L156.9 319.9L157.3 322.1L157.7 319.5L158.1 320.7L158.5 319.8L158.9 320.9L159.3 321.1L159.6 321.8L160 319.7L160.4 322.2L160.8 320.6L161.2 319.5L161.6 318.6L162 318.7L162.4 320.8L162.8 321.4L163.2 317.7L163.6 319.3L164 318.8L164.4 320.8L164.8 318.4L165.2 318.8L165.6 317.9L166 319.1L166.4 319.3L166.8 321.7L167.2 321.1L167.6 318.2L168 319.3L168.4 320.2L168.8 319.8L169.2 320L169.6 320L170 321.5L170.4 319.1L170.8 319.9L171.2 322L171.6 321L172 319.2L172.4 320L172.8 320L173.2 317.6L173.6 319.2L174 318.9L174.4 318.1L174.8 319.9L175.2 318.2L175.6 320.4L176 319.7L176.4 319.9L176.8 317.9L177.2 319.4L177.6 320L178 319.6L178.4 318.6L178.8 321.3L179.2 321.3L179.5 320L179.9 319.7L180.3 318.9L180.7 320L181.1 319L181.5 321L181.9 322.4L182.3 320.6L182.7 320.7L183.1 317.2L183.5 320L183.9 321.1L184.3 319.6L184.7 318.1L185.1 319.9L185.5 318.1L185.9 321.1L186.3 320.4L186.7 319.5L187.1 319.5L187.5 321.3L187.9 320.8L188.3 319.5L188.7 320.4L189.1 320.2L189.5 320.5" fill="none" stroke="#333333" stroke-width="0.9" stroke-linejoin="round" />
<path d="M30.3 322.5L30.7 322.5L31.1 322.5L31.5 322.5L31.9 322.5L32.3 322.5L32.7 322.5L33.1 322.5L33.5 322.5L33.9 322.5L34.3 322.5L34.7 322.5L35.1 322.5L35.5 322.6L35.9 322.6L36.3 322.6L36.7 322.6L37.1 322.6L37.5 322.6L37.9 322.6L38.3 322.6L38.7 322.6L39.1 322.6L39.5 322.6L39.9 322.7L40.2 322.7L40.6 322.7L41 322.7L41.4 322.7L41.8 322.7L42.2 322.7L42.6 322.7L43 322.8L43.4 322.8L43.8 322.8L44.2 322.8L44.6 322.8L45 322.8L45.4 322.8L45.8 322.8L46.2 322.9L46.6 322.9L47 322.9L47.4 322.9L47.8 322.9L48.2 322.9L48.6 322.9L49 322.9L49.4 323L49.8 323L50.2 323L50.6 323L51 323L51.4 323L51.8 323L52.2 323L52.6 323L53 323L53.4 323L53.8 323.1L54.2 323.1L54.6 323.1L55 323.1L55.4 323.1L55.8 323.1L56.2 323.1L56.6 323.1L57 323.1L57.4 323.1L57.8 323.1L58.2 323.1L58.6 323.1L59 323.1L59.4 323.1L59.8 323.1L60.2 323.1L60.5 323.1L60.9 323.1L61.3 323.1L61.7 323.1L62.1 323.1L62.5 323L62.9 323L63.3 323L63.7 323L64.1 323L64.5 323L64.9 323L65.3 323L65.7 322.9L66.1 322.9L66.5 322.9L66.9 322.9L67.3 322.9L67.7 322.8L68.1 322.8L68.5 322.8L68.9 322.8L69.3 322.7L69.7 322.7L70.1 322.7L70.5 322.6L70.9 322.6L71.3 322.6L71.7 322.5L72.1 322.5L72.5 322.3L72.9 321.9L73.3 321.3L73.7 320.5L74.1 319.8L74.5 319.1L74.9 318.5L75.3 318L75.7 317.6L76.1 317.2L76.5 316.8L76.9 316.4L77.3 316.1L77.7 315.8L78.1 315.6L78.5 315.4L78.9 315.2L79.3 315.1L79.7 315.1L80.1 315L80.4 314.9L80.8 314.8L81.2 314.8L81.6 314.7L82 314.7L82.4 314.7L82.8 314.6L83.2 314.6L83.6 314.6L84 314.6L84.4 314.6L84.8 314.5L85.2 314.5L85.6 314.5L86 314.5L86.4 314.5L86.8 314.5L87.2 314.5L87.6 314.5L88 314.5L88.4 314.5L88.8 314.5L89.2 314.4L89.6 314.4L90 314.4L90.4 314.4L90.8 314.3L91.2 314.3L91.6 314.3L92 314.3L92.4 314.2L92.8 314.2L93.2 314.2L93.6 314.2L94 314.1L94.4 314.1L94.8 314.1L95.2 314.1L95.6 314.1L96 314L96.4 314L96.8 314L97.2 314L97.6 313.9L98 313.9L98.4 313.9L98.8 313.8L99.2 313.8L99.6 313.8L100 313.7L100.3 313.7L100.7 313.7L101.1 313.6L101.5 313.6L101.9 313.6L102.3 313.5L102.7 313.5L103.1 313.5L103.5 313.4L103.9 313.4L104.3 313.4L104.7 313.3L105.1 313.3L105.5 313.3L105.9 313.2L106.3 313.2L106.7 313.1L107.1 313.1L107.5 313L107.9 313L108.3 312.9L108.7 312.9L109.1 312.8L109.5 312.7L109.9 312.7L110.3 312.6L110.7 312.5L111.1 312.5L111.5 312.4L111.9 312.3L112.3 312.2L112.7 312.1L113.1 312L113.5 311.9L113.9 311.8L114.3 311.7L114.7 311.6L115.1 311.5L115.5 311.4L115.9 311.3L116.3 311.2L116.7 311.1L117.1 310.9L117.5 310.8L117.9 310.7L118.3 310.6L118.7 310.4L119.1 310.3L119.5 310.1L119.8 310L120.2 309.9L120.6 309.7L121 309.6L121.4 309.4L121.8 309.2L122.2 309.1L122.6 308.9L123 308.8L123.4 308.6L123.8 308.4L124.2 308.3L124.6 308.1L125 307.9L125.4 307.7L125.8 307.6L126.2 307.4L126.6 307.2L127 307L127.4 306.8L127.8 306.6L128.2 306.4L128.6 306.2L129 306.1L129.4 305.9L129.8 305.7L130.2 305.5L130.6 305.3L131 305.1L131.4 304.8L131.8 304.6L132.2 304.4L132.6 304.2L133 304L133.4 303.8L133.8 303.6L134.2 303.4L134.6 303.2L135 303L135.4 302.8L135.8 302.5L136.2 302.3L136.6 302.1L137 301.9L137.4 301.7L137.8 301.5L138.2 301.2L138.6 301L139 300.8L139.4 300.6L139.7 300.4L140.1 300.2L140.5 299.9L140.9 299.7L141.3 299.5L141.7 299.3L142.1 299L142.5 298.8L142.9 298.6L143.3 298.3L143.7 298.1L144.1 297.9L144.5 297.6L144.9 297.4L145.3 297.1L145.7 296.9L146.1 296.6L146.5 296.4L146.9 296.1L147.3 295.9L147.7 295.6L148.1 295.3L148.5 295.1L148.9 294.8L149.3 294.5L149.7 294.2L150.1 294L150.5 293.7L150.9 293.4L151.3 293.1L151.7 292.8L152.1 292.5L152.5 292.3L152.9 292L153.3 291.7L153.7 291.4L154.1 291.1L154.5 290.8L154.9 290.5L155.3 290.3L155.7 290L156.1 289.7L156.5 289.4L156.9 289.1L157.3 288.9L157.7 288.6L158.1 288.3L158.5 288L158.9 287.7L159.3 287.5L159.6 287.2L160 286.9L160.4 286.6L160.8 286.3L161.2 286L161.6 285.7L162 285.4L162.4 285.1L162.8 284.7L163.2 284.4L163.6 284.1L164 283.7L164.4 283.4L164.8 283L165.2 282.6L165.6 282.3L166 281.9L166.4 281.5L166.8 281.1L167.2 280.7L167.6 280.3L168 280L168.4 279.6L168.8 279.2L169.2 278.8L169.6 278.3L170 277.9L170.4 277.5L170.8 277.1L171.2 276.7L171.6 276.3L172 275.9L172.4 275.5L172.8 275.1L173.2 274.7L173.6 274.3L174 273.9L174.4 273.5L174.8 273.1L175.2 272.7L175.6 272.4L176 272L176.4 271.6L176.8 271.2L177.2 270.8L177.6 270.4L178 270L178.4 269.5L178.8 269.1L179.2 268.7L179.5 268.3L179.9 267.8L180.3 267.4L180.7 266.9L181.1 266.4L181.5 265.9L181.9 265.4L182.3 264.9L182.7 264.4L183.1 263.8L183.5 263.2L183.9 262.7L184.3 262.1L184.7 261.5L185.1 260.9L185.5 260.3L185.9 259.7L186.3 259L186.7 258.4L187.1 257.8L187.5 257.2L187.9 256.6L188.3 256L188.7 255.4L189.1 254.8L189.5 254.2" fill="none" stroke="#333333" stroke-width="1.25" stroke-linejoin="round" stroke-dasharray="1.1 1.1"/>
<path d="M30.3 322.5L30.7 322.5L31.1 322.5L31.5 322.5L31.9 322.5L32.3 322.5L32.7 322.5L33.1 322.5L33.5 322.5L33.9 322.5L34.3 322.6L34.7 322.6L35.1 322.6L35.5 322.6L35.9 322.6L36.3 322.6L36.7 322.6L37.1 322.6L37.5 322.7L37.9 322.7L38.3 322.7L38.7 322.7L39.1 322.7L39.5 322.7L39.9 322.8L40.2 322.8L40.6 322.8L41 322.8L41.4 322.8L41.8 322.9L42.2 322.9L42.6 322.9L43 322.9L43.4 322.9L43.8 323L44.2 323L44.6 323L45 323L45.4 323L45.8 323.1L46.2 323.1L46.6 323.1L47 323.1L47.4 323.1L47.8 323.2L48.2 323.2L48.6 323.2L49 323.2L49.4 323.2L49.8 323.2L50.2 323.3L50.6 323.3L51 323.3L51.4 323.3L51.8 323.3L52.2 323.3L52.6 323.3L53 323.4L53.4 323.4L53.8 323.4L54.2 323.4L54.6 323.4L55 323.4L55.4 323.4L55.8 323.4L56.2 323.4L56.6 323.4L57 323.4L57.4 323.4L57.8 323.4L58.2 323.4L58.6 323.4L59 323.4L59.4 323.4L59.8 323.4L60.2 323.4L60.5 323.3L60.9 323.3L61.3 323.3L61.7 323.3L62.1 323.3L62.5 323.3L62.9 323.2L63.3 323.2L63.7 323.2L64.1 323.2L64.5 323.1L64.9 323.1L65.3 323.1L65.7 323L66.1 323L66.5 323L66.9 322.9L67.3 322.9L67.7 322.8L68.1 322.8L68.5 322.7L68.9 322.7L69.3 322.6L69.7 322.6L70.1 322.5L70.5 322L70.9 320.9L71.3 319.3L71.7 317.6L72.1 316.1L72.5 314.7L72.9 313.1L73.3 311.6L73.7 310L74.1 308.5L74.5 307.2L74.9 306L75.3 304.9L75.7 304L76.1 303.1L76.5 302.3L76.9 301.5L77.3 300.8L77.7 300.2L78.1 299.7L78.5 299.3L78.9 299L79.3 298.8L79.7 298.5L80.1 298.3L80.4 298.1L80.8 298L81.2 297.8L81.6 297.7L82 297.5L82.4 297.4L82.8 297.3L83.2 297.2L83.6 297.1L84 297.1L84.4 297L84.8 296.9L85.2 296.8L85.6 296.8L86 296.7L86.4 296.6L86.8 296.6L87.2 296.5L87.6 296.4L88 296.3L88.4 296.3L88.8 296.2L89.2 296.1L89.6 295.9L90 295.8L90.4 295.7L90.8 295.6L91.2 295.5L91.6 295.4L92 295.4L92.4 295.3L92.8 295.3L93.2 295.2L93.6 295.1L94 295L94.4 294.9L94.8 294.8L95.2 294.6L95.6 294.4L96 294.2L96.4 293.9L96.8 293.6L97.2 293.3L97.6 292.8L98 292.3L98.4 291.7L98.8 291.1L99.2 290.4L99.6 289.6L100 288.8L100.3 288L100.7 287.1L101.1 286.2L101.5 285.2L101.9 284.3L102.3 283.4L102.7 282.5L103.1 281.5L103.5 280.7L103.9 279.8L104.3 278.9L104.7 278.1L105.1 277.2L105.5 276.3L105.9 275.4L106.3 274.5L106.7 273.6L107.1 272.7L107.5 271.8L107.9 270.9L108.3 270L108.7 269.1L109.1 268.2L109.5 267.4L109.9 266.5L110.3 265.7L110.7 264.9L111.1 264.2L111.5 263.4L111.9 262.7L112.3 261.9L112.7 261.2L113.1 260.5L113.5 259.8L113.9 259.1L114.3 258.3L114.7 257.6L115.1 256.9L115.5 256.3L115.9 255.6L116.3 254.9L116.7 254.3L117.1 253.6L117.5 253L117.9 252.3L118.3 251.7L118.7 251.1L119.1 250.5L119.5 250L119.8 249.4L120.2 248.9L120.6 248.3L121 247.8L121.4 247.3L121.8 246.9L122.2 246.5L122.6 246.1L123 245.7L123.4 245.4L123.8 245.1L124.2 244.9L124.6 244.6L125 244.4L125.4 244.1L125.8 243.9L126.2 243.6L126.6 243.4L127 243.1L127.4 242.9L127.8 242.6L128.2 242.3L128.6 242L129 241.6L129.4 241.2L129.8 240.8L130.2 240.4L130.6 240L131 239.6L131.4 239.1L131.8 238.7L132.2 238.2L132.6 237.8L133 237.3L133.4 236.8L133.8 236.2L134.2 235.7L134.6 235.1L135 234.5L135.4 233.9L135.8 233.2L136.2 232.5L136.6 231.8L137 231L137.4 230.1L137.8 229.3L138.2 228.4L138.6 227.6L139 226.7L139.4 225.8L139.7 225L140.1 224.1L140.5 223.3L140.9 222.6L141.3 221.9L141.7 221.2L142.1 220.6L142.5 220L142.9 219.5L143.3 219.1L143.7 218.7L144.1 218.3L144.5 218L144.9 217.6L145.3 217.3L145.7 217L146.1 216.7L146.5 216.3L146.9 215.9L147.3 215.6L147.7 215.2L148.1 214.8L148.5 214.4L148.9 214L149.3 213.6L149.7 213.3L150.1 212.9L150.5 212.5L150.9 212.1L151.3 211.7L151.7 211.3L152.1 210.9L152.5 210.5L152.9 210.1L153.3 209.6L153.7 209.1L154.1 208.6L154.5 208.1L154.9 207.6L155.3 207L155.7 206.5L156.1 205.9L156.5 205.3L156.9 204.7L157.3 204.1L157.7 203.5L158.1 202.9L158.5 202.3L158.9 201.8L159.3 201.2L159.6 200.7L160 200.2L160.4 199.7L160.8 199.2L161.2 198.7L161.6 198.3L162 197.8L162.4 197.4L162.8 197L163.2 196.5L163.6 196.1L164 195.7L164.4 195.3L164.8 194.8L165.2 194.4" fill="none" stroke="#4cb860" stroke-width="1.1" stroke-linejoin="round" stroke-dasharray="1.1 1.1"/>
<path d="M30.3 322.5L30.7 322.5L31.1 322.5L31.5 322.5L31.9 322.5L32.3 322.5L32.7 322.5L33.1 322.5L33.5 322.6L33.9 322.6L34.3 322.6L34.7 322.6L35.1 322.6L35.5 322.7L35.9 322.7L36.3 322.7L36.7 322.7L37.1 322.8L37.5 322.8L37.9 322.8L38.3 322.8L38.7 322.9L39.1 322.9L39.5 322.9L39.9 323L40.2 323L40.6 323L41 323.1L41.4 323.1L41.8 323.1L42.2 323.2L42.6 323.2L43 323.2L43.4 323.3L43.8 323.3L44.2 323.3L44.6 323.4L45 323.4L45.4 323.4L45.8 323.5L46.2 323.5L46.6 323.5L47 323.6L47.4 323.6L47.8 323.6L48.2 323.7L48.6 323.7L49 323.7L49.4 323.7L49.8 323.8L50.2 323.8L50.6 323.8L51 323.8L51.4 323.9L51.8 323.9L52.2 323.9L52.6 323.9L53 323.9L53.4 324L53.8 324L54.2 324L54.6 324L55 324L55.4 324L55.8 324L56.2 324L56.6 324L57 324L57.4 324L57.8 324L58.2 324L58.6 324L59 323.9L59.4 323.9L59.8 323.9L60.2 323.9L60.5 323.9L60.9 323.8L61.3 323.8L61.7 323.8L62.1 323.7L62.5 323.7L62.9 323.6L63.3 323.6L63.7 323.5L64.1 323.5L64.5 323.4L64.9 323.4L65.3 323.3L65.7 323.2L66.1 323.2L66.5 323.1L66.9 323L67.3 322.9L67.7 322.8L68.1 322.7L68.5 322.7L68.9 322.6L69.3 322.3L69.7 320.9L70.1 318.7L70.5 316L70.9 313.2L71.3 310.5L71.7 307.3L72.1 303.9L72.5 300.7L72.9 297.9L73.3 296L73.7 294.3L74.1 292.8L74.5 291.5L74.9 290.5L75.3 289.6L75.7 288.9L76.1 288.3L76.5 288L76.9 287.7L77.3 287.4L77.7 287.3L78.1 287.1L78.5 287.1L78.9 287.1L79.3 287.1L79.7 287.1L80.1 287.1L80.4 287.2L80.8 287.2L81.2 287.3L81.6 287.3L82 287.3L82.4 287.2L82.8 287.2L83.2 287.2L83.6 287.2L84 287.2L84.4 287.2L84.8 287.2L85.2 287.2L85.6 287.2L86 287.2L86.4 287.2L86.8 287.2L87.2 287.2L87.6 287.2L88 287.2L88.4 287.2L88.8 287.3L89.2 287.3L89.6 287.3L90 287.3L90.4 287.3L90.8 287.3L91.2 287.2L91.6 287.2L92 287.2L92.4 287.2L92.8 287.2L93.2 287.1L93.6 287.1L94 287.1L94.4 287L94.8 287L95.2 287L95.6 286.9L96 286.9L96.4 286.8L96.8 286.8L97.2 286.7L97.6 286.6L98 286.4L98.4 286.3L98.8 286.1L99.2 285.8L99.6 285.5L100 285.1L100.3 284.7L100.7 284.2L101.1 283.7L101.5 283.1L101.9 282.5L102.3 281.8L102.7 281.1L103.1 280.4L103.5 279.7L103.9 278.9L104.3 278.2L104.7 277.5L105.1 276.8L105.5 276.2L105.9 275.5L106.3 274.9L106.7 274.3L107.1 273.8L107.5 273.2L107.9 272.6L108.3 272.1L108.7 271.5L109.1 270.9L109.5 270.4L109.9 269.8L110.3 269.3L110.7 268.7L111.1 268.1L111.5 267.5L111.9 267L112.3 266.4L112.7 265.7L113.1 265.1L113.5 264.5L113.9 263.8L114.3 263.1L114.7 262.3L115.1 261.6L115.5 260.8L115.9 259.9L116.3 259.1L116.7 258.2L117.1 257.3L117.5 256.5L117.9 255.6L118.3 254.8L118.7 254L119.1 253.2L119.5 252.4L119.8 251.7L120.2 251L120.6 250.3L121 249.7L121.4 249.2L121.8 248.8L122.2 248.3L122.6 247.9L123 247.6L123.4 247.3L123.8 247L124.2 246.7L124.6 246.5L125 246.2L125.4 246L125.8 245.8L126.2 245.6L126.6 245.4L127 245.2L127.4 245L127.8 244.8L128.2 244.6L128.6 244.4L129 244.1L129.4 243.9L129.8 243.7L130.2 243.4L130.6 243.2L131 243L131.4 242.8L131.8 242.6L132.2 242.4L132.6 242.2L133 242L133.4 241.8L133.8 241.5L134.2 241.2L134.6 241L135 240.6L135.4 240.3L135.8 239.9L136.2 239.6L136.6 239.2L137 238.8L137.4 238.4L137.8 237.9L138.2 237.5L138.6 237L139 236.6L139.4 236.1L139.7 235.6L140.1 235.1L140.5 234.5L140.9 234L141.3 233.5L141.7 232.9L142.1 232.3L142.5 231.7L142.9 231.1L143.3 230.5L143.7 229.8L144.1 229.1L144.5 228.4L144.9 227.7L145.3 226.9L145.7 226.2L146.1 225.4L146.5 224.6L146.9 223.8L147.3 223L147.7 222.2L148.1 221.3L148.5 220.5L148.9 219.6L149.3 218.6L149.7 217.7L150.1 216.8L150.5 215.9L150.9 214.9L151.3 214L151.7 213.1L152.1 212.1L152.5 211.2L152.9 210.4L153.3 209.5L153.7 208.7L154.1 207.9L154.5 207L154.9 206.2L155.3 205.3L155.7 204.3L156.1 203.3L156.5 202.1L156.9 200.8L157.3 199.4L157.7 197.8L158.1 196.3L158.5 194.7" fill="none" stroke="#4a7fe0" stroke-width="1.1" stroke-linejoin="round" stroke-dasharray="1.1 1.1"/>
<path d="M30.3 322.5L30.7 322.5L31.1 322.5L31.5 322.5L31.9 322.5L32.3 322.5L32.7 322.5L33.1 322.6L33.5 322.6L33.9 322.6L34.3 322.6L34.7 322.6L35.1 322.7L35.5 322.7L35.9 322.7L36.3 322.7L36.7 322.8L37.1 322.8L37.5 322.8L37.9 322.9L38.3 322.9L38.7 322.9L39.1 323L39.5 323L39.9 323.1L40.2 323.1L40.6 323.1L41 323.2L41.4 323.2L41.8 323.3L42.2 323.3L42.6 323.3L43 323.4L43.4 323.4L43.8 323.5L44.2 323.5L44.6 323.5L45 323.6L45.4 323.6L45.8 323.7L46.2 323.7L46.6 323.7L47 323.8L47.4 323.8L47.8 323.9L48.2 323.9L48.6 323.9L49 324L49.4 324L49.8 324L50.2 324.1L50.6 324.1L51 324.1L51.4 324.1L51.8 324.2L52.2 324.2L52.6 324.2L53 324.2L53.4 324.2L53.8 324.3L54.2 324.3L54.6 324.3L55 324.3L55.4 324.3L55.8 324.3L56.2 324.3L56.6 324.3L57 324.3L57.4 324.3L57.8 324.3L58.2 324.3L58.6 324.3L59 324.2L59.4 324.2L59.8 324.2L60.2 324.2L60.5 324.1L60.9 324.1L61.3 324.1L61.7 324L62.1 324L62.5 323.9L62.9 323.9L63.3 323.8L63.7 323.8L64.1 323.7L64.5 323.6L64.9 323.5L65.3 323.5L65.7 323.4L66.1 323.3L66.5 323.2L66.9 323.1L67.3 323L67.7 322.9L68.1 322.8L68.5 322.7L68.9 322.6L69.3 322.2L69.7 320.5L70.1 317.8L70.5 314.5L70.9 311.2L71.3 308.2L71.7 305L72.1 301.6L72.5 298.4L72.9 295.7L73.3 293.9L73.7 292.5L74.1 291.3L74.5 290.4L74.9 289.6L75.3 289L75.7 288.4L76.1 287.9L76.5 287.5L76.9 287.1L77.3 286.9L77.7 286.7L78.1 286.6L78.5 286.5L78.9 286.4L79.3 286.4L79.7 286.3L80.1 286.2L80.4 286.1L80.8 286L81.2 285.9L81.6 285.9L82 285.8L82.4 285.7L82.8 285.6L83.2 285.6L83.6 285.5L84 285.5L84.4 285.4L84.8 285.3L85.2 285.3L85.6 285.2L86 285.2L86.4 285.1L86.8 285L87.2 285L87.6 284.9L88 284.9L88.4 284.8L88.8 284.7L89.2 284.7L89.6 284.6L90 284.5L90.4 284.4L90.8 284.4L91.2 284.3L91.6 284.3L92 284.2L92.4 284.2L92.8 284.2L93.2 284.1L93.6 284.1L94 284L94.4 284L94.8 283.9L95.2 283.8L95.6 283.6L96 283.5L96.4 283.3L96.8 283.1L97.2 282.9L97.6 282.6L98 282.2L98.4 281.8L98.8 281.3L99.2 280.7L99.6 280.1L100 279.4L100.3 278.7L100.7 277.9L101.1 277.1L101.5 276.3L101.9 275.5L102.3 274.7L102.7 273.9L103.1 273.1L103.5 272.2L103.9 271.3L104.3 270.4L104.7 269.5L105.1 268.6L105.5 267.6L105.9 266.5L106.3 265.5L106.7 264.4L107.1 263.2L107.5 262L107.9 260.7L108.3 259.3L108.7 257.9L109.1 256.5L109.5 255L109.9 253.4L110.3 251.9L110.7 250.3L111.1 248.7L111.5 247.1L111.9 245.4L112.3 243.8L112.7 242.1L113.1 240.3L113.5 238.5L113.9 236.6L114.3 234.7L114.7 232.6L115.1 230.2L115.5 227.5L115.9 224.6L116.3 221.6L116.7 219L117.1 216.7L117.5 214.9L117.9 213.4L118.3 212.1L118.7 210.9L119.1 209.8L119.5 208.8L119.8 207.9L120.2 207L120.6 206.2L121 205.4L121.4 204.7L121.8 204L122.2 203.5L122.6 202.9L123 202.4L123.4 202L123.8 201.6L124.2 201.2L124.6 200.8L125 200.5L125.4 200.1L125.8 199.7L126.2 199.4L126.6 199L127 198.6L127.4 198.3L127.8 197.9L128.2 197.6L128.6 197.2L129 196.9L129.4 196.6L129.8 196.3L130.2 195.9L130.6 195.6L131 195.3L131.4 195L131.8 194.6" fill="none" stroke="#ee2a24" stroke-width="1.1" stroke-linejoin="round" stroke-dasharray="1.1 1.1"/>
<rect x="30.3" y="194.4" width="159.2" height="128.1" fill="none" stroke="#5f5f5f" stroke-width="1.0"/>
<path d="M30.3 322.5h-2.5M30.3 299.2h-2.5M30.3 275.9h-2.5M30.3 252.6h-2.5M30.3 229.3h-2.5M30.3 206h-2.5" stroke="#555" stroke-width="0.9"/>
<path d="M30.3 310.9h-1.5M30.3 287.6h-1.5M30.3 264.3h-1.5M30.3 241h-1.5M30.3 217.7h-1.5M30.3 194.4h-1.5" stroke="#555" stroke-width="0.9"/>
<path d="M189.5 322.5h2.5M189.5 279.8h2.5M189.5 237.1h2.5M189.5 194.4h2.5" stroke="#555" stroke-width="0.9"/>
<path d="M189.5 301.1h1.5M189.5 258.4h1.5M189.5 215.8h1.5" stroke="#555" stroke-width="0.9"/>
<path d="M30.3 322.5v2.5M70.1 322.5v2.5M109.9 322.5v2.5M149.7 322.5v2.5M189.5 322.5v2.5" stroke="#555" stroke-width="0.9"/>
<path d="M50.2 322.5v1.5M90 322.5v1.5M129.8 322.5v1.5M169.6 322.5v1.5" stroke="#555" stroke-width="0.9"/>
<text x="26.2" y="325.4" font-size="8.5" text-anchor="end" fill="#111" color="#111" >0</text>
<text x="26.2" y="302.1" font-size="8.5" text-anchor="end" fill="#111" color="#111" >10</text>
<text x="26.2" y="278.8" font-size="8.5" text-anchor="end" fill="#111" color="#111" >20</text>
<text x="26.2" y="255.5" font-size="8.5" text-anchor="end" fill="#111" color="#111" >30</text>
<text x="26.2" y="232.2" font-size="8.5" text-anchor="end" fill="#111" color="#111" >40</text>
<text x="26.2" y="208.9" font-size="8.5" text-anchor="end" fill="#111" color="#111" >50</text>
<text x="192.4" y="325.4" font-size="8.5" text-anchor="start" fill="#111" color="#111" >0</text>
<text x="192.4" y="282.7" font-size="8.5" text-anchor="start" fill="#111" color="#111" >2</text>
<text x="192.4" y="240" font-size="8.5" text-anchor="start" fill="#111" color="#111" >4</text>
<text x="192.4" y="197.3" font-size="8.5" text-anchor="start" fill="#111" color="#111" >6</text>
<text x="30.3" y="333.4" font-size="8.5" text-anchor="middle" fill="#111" color="#111" >0</text>
<text x="70.1" y="333.4" font-size="8.5" text-anchor="middle" fill="#111" color="#111" >2</text>
<text x="109.9" y="333.4" font-size="8.5" text-anchor="middle" fill="#111" color="#111" >4</text>
<text x="149.7" y="333.4" font-size="8.5" text-anchor="middle" fill="#111" color="#111" >6</text>
<text x="189.5" y="333.4" font-size="8.5" text-anchor="middle" fill="#111" color="#111" >8</text>
<text x="110.1" y="347.6" font-size="9.6" text-anchor="middle" fill="#111" color="#111" >Distance (&#197;)</text>
<text x="0" y="0" font-size="9.6" text-anchor="middle" fill="#111" color="#111" transform="translate(13 258.3) rotate(-90)">g (r)</text>
<text x="0" y="0" font-size="9.6" text-anchor="middle" fill="#111" color="#111" transform="translate(206.6 258.2) rotate(-90)">n (r)</text>
<line x1="31.9" y1="200.8" x2="49.6" y2="200.8" stroke="#7cc88c" stroke-width="1.8"/>
<text x="51.6" y="203.7" font-size="8" text-anchor="start" fill="#111" color="#111" >Li-BOB<tspan font-size="5" dy="-3">-</tspan><tspan dy="3">(O)</tspan></text>
<line x1="31.9" y1="210.6" x2="49.6" y2="210.6" stroke="#3a3a3a" stroke-width="1.1"/>
<text x="51.6" y="213.5" font-size="8" text-anchor="start" fill="#111" color="#111" >Li-DME(O)</text>
<line x1="31.9" y1="220.2" x2="49.6" y2="220.2" stroke="#ee3030" stroke-width="1.5"/>
<text x="51.6" y="223.1" font-size="8" text-anchor="start" fill="#111" color="#111" >Li-PC(O)</text>
<line x1="31.9" y1="229.9" x2="49.6" y2="229.9" stroke="#7fa6ec" stroke-width="1.8"/>
<text x="51.6" y="232.8" font-size="8" text-anchor="start" fill="#111" color="#111" >Li-PVM(O)</text>
<text x="246.3" y="191.1" font-size="18" text-anchor="start" fill="#000" color="#000" class="pl">d</text>
<path d="M279.2 322.7L279.6 322.7L280 322.7L280.4 322.7L280.8 322.7L281.2 322.7L281.6 322.7L282 322.7L282.4 322.7L282.8 322.7L283.2 322.7L283.6 322.7L284 322.7L284.4 322.7L284.8 322.7L285.2 322.7L285.6 322.7L286 322.7L286.4 322.7L286.8 322.7L287.2 322.7L287.6 322.7L288 322.7L288.4 322.7L288.8 322.7L289.2 322.7L289.6 322.7L290 322.7L290.4 322.7L290.8 322.7L291.2 322.7L291.6 322.7L292 322.7L292.4 322.7L292.7 322.7L293.1 322.7L293.5 322.7L293.9 322.7L294.3 322.7L294.7 322.7L295.1 322.7L295.5 322.7L295.9 322.7L296.3 322.7L296.7 322.7L297.1 322.7L297.5 322.7L297.9 322.7L298.3 322.7L298.7 322.7L299.1 322.7L299.5 322.7L299.9 322.7L300.3 322.7L300.7 322.7L301.1 322.7L301.5 322.7L301.9 322.7L302.3 322.7L302.7 322.7L303.1 322.7L303.5 322.7L303.9 322.7L304.3 322.7L304.7 322.7L305.1 322.7L305.5 322.7L305.9 322.7L306.3 322.7L306.7 322.7L307.1 322.7L307.5 322.7L307.9 322.7L308.3 322.7L308.7 322.7L309.1 322.7L309.5 322.7L309.9 322.7L310.3 322.7L310.7 322.7L311.1 322.7L311.5 322.7L311.9 322.7L312.3 322.7L312.7 322.7L313.1 322.7L313.5 322.7L313.9 322.7L314.3 322.7L314.7 322.7L315.1 322.7L315.5 322.7L315.9 322.7L316.3 320.7L316.7 316.7L317.1 312.7L317.5 308.8L317.9 296.4L318.3 284L318.7 271.6L319.1 259.4L319.4 247.2L319.8 261.7L320.2 276.2L320.6 275.1L321 273.9L321.4 282.3L321.8 290.6L322.2 296.1L322.6 298.8L323 301.5L323.4 304.1L323.8 305.9L324.2 303.4L324.6 312.7L325 308.4L325.4 311.6L325.8 314.2L326.2 310.6L326.6 314.5L327 314.4L327.4 314.5L327.8 312.5L328.2 315.1L328.6 314.4L329 317.1L329.4 315.4L329.8 313.8L330.2 313.1L330.6 318.5L331 317.3L331.4 317.3L331.8 317.8L332.2 318.5L332.6 316.4L333 320L333.4 320.8L333.8 317L334.2 318.9L334.6 317.8L335 319.1L335.4 319.4L335.8 317.9L336.2 318.4L336.6 322.4L337 320L337.4 321L337.8 317.6L338.2 320.7L338.6 318.4L339 318.6L339.4 318.8L339.8 318.7L340.2 316.6L340.6 319.5L341 320.6L341.4 317.9L341.8 319.6L342.2 317.2L342.6 318L343 318.2L343.4 317.9L343.8 315.2L344.2 318.7L344.6 317.7L345 316.9L345.4 317.6L345.7 315.2L346.1 314.2L346.5 317L346.9 313.2L347.3 318.4L347.7 313.2L348.1 313.7L348.5 312.5L348.9 315.6L349.3 312.3L349.7 314.6L350.1 312L350.5 316.3L350.9 306.8L351.3 315.6L351.7 312.4L352.1 315.4L352.5 309.4L352.9 309.5L353.3 307.8L353.7 306.3L354.1 312.9L354.5 314.5L354.9 314.1L355.3 311L355.7 314.4L356.1 313.4L356.5 315.8L356.9 313.8L357.3 310.2L357.7 308.7L358.1 310.2L358.5 311.9L358.9 313.4L359.3 314.5L359.7 312.6L360.1 316.6L360.5 313.1L360.9 316.7L361.3 317.1L361.7 314.1L362.1 317.2L362.5 310.3L362.9 312.8L363.3 314.7L363.7 314.2L364.1 311.5L364.5 316.4L364.9 316.1L365.3 317.9L365.7 317.9L366.1 317L366.5 314.8L366.9 315.4L367.3 317.6L367.7 318.1L368.1 318L368.5 321.7L368.9 316.4L369.3 320L369.7 318.1L370.1 321L370.5 321.5L370.9 321L371.3 317.2L371.7 319.4L372.1 320.6L372.4 319.4L372.8 319.1L373.2 319.7L373.6 320.2L374 318.3L374.4 321L374.8 317.2L375.2 320.8L375.6 319.5L376 321.1L376.4 320L376.8 318.6L377.2 318.7L377.6 318.9L378 319.5L378.4 320L378.8 320.5L379.2 319.7L379.6 320.1L380 317.4L380.4 318.6L380.8 319.8L381.2 319.2L381.6 318.9L382 320.8L382.4 319.1L382.8 319L383.2 320.8L383.6 319.8L384 321L384.4 319.5L384.8 317.4L385.2 319.2L385.6 318.6L386 315.5L386.4 314.6L386.8 312.2L387.2 318.2L387.6 316.6L388 318L388.4 319.6L388.8 318.9L389.2 318L389.6 318.3L390 319.5L390.4 318.2L390.8 320.3L391.2 319.3L391.6 318.6L392 321.4L392.4 319.2L392.8 319.5L393.2 320L393.6 321.2L394 318L394.4 319.7L394.8 319.7L395.2 320.8L395.6 321.4L396 318.1L396.4 321.7L396.8 321.1L397.2 322.2L397.6 322.1L398 320.1L398.4 320.2L398.7 320.7L399.1 320L399.5 322.3L399.9 321.2L400.3 320.5L400.7 320.8L401.1 320L401.5 322L401.9 320.8L402.3 319.7L402.7 319.3L403.1 321.2L403.5 320.4L403.9 320.6L404.3 319.6L404.7 320.1L405.1 320.5L405.5 320.8L405.9 319.9L406.3 320.7L406.7 322L407.1 321.4L407.5 320.7L407.9 321L408.3 321.4L408.7 319.3L409.1 322.3L409.5 322.2L409.9 320.1L410.3 320.6L410.7 322L411.1 322.7L411.5 319.9L411.9 322.4L412.3 320.7L412.7 320L413.1 321.2L413.5 320.3L413.9 322.1L414.3 321.2L414.7 320.4L415.1 322L415.5 320.6L415.9 321.6L416.3 319.8L416.7 321.2L417.1 321L417.5 321.5L417.9 319.9L418.3 321.4L418.7 319.1L419.1 319.8L419.5 320.4L419.9 320.2L420.3 321.7L420.7 318.5L421.1 320.8L421.5 322L421.9 320.8L422.3 320.3L422.7 322.1L423.1 320.3L423.5 321.9L423.9 320.9L424.3 318.8L424.7 319.7L425.1 320.8L425.4 321.8L425.8 319.5L426.2 318.7L426.6 320.1L427 320.3L427.4 320L427.8 322.6L428.2 320.1L428.6 321L429 320.5L429.4 319L429.8 320.9L430.2 319.3L430.6 320L431 322.3L431.4 321.5L431.8 320.1L432.2 319.2L432.6 319.9L433 319.8L433.4 320.9L433.8 321.2L434.2 320.6L434.6 320.1L435 321.9L435.4 319.6L435.8 322.2L436.2 320.3L436.6 320L437 319.8L437.4 321.9L437.8 319.7L438.2 319.1L438.6 320.7" fill="none" stroke="#4cb860" stroke-width="1.1" stroke-linejoin="round" />
<path d="M279.2 322.7L279.6 322.7L280 322.7L280.4 322.7L280.8 322.7L281.2 322.7L281.6 322.7L282 322.7L282.4 322.7L282.8 322.7L283.2 322.7L283.6 322.7L284 322.7L284.4 322.7L284.8 322.7L285.2 322.7L285.6 322.7L286 322.7L286.4 322.7L286.8 322.7L287.2 322.7L287.6 322.7L288 322.7L288.4 322.7L288.8 322.7L289.2 322.7L289.6 322.7L290 322.7L290.4 322.7L290.8 322.7L291.2 322.7L291.6 322.7L292 322.7L292.4 322.7L292.7 322.7L293.1 322.7L293.5 322.7L293.9 322.7L294.3 322.7L294.7 322.7L295.1 322.7L295.5 322.7L295.9 322.7L296.3 322.7L296.7 322.7L297.1 322.7L297.5 322.7L297.9 322.7L298.3 322.7L298.7 322.7L299.1 322.7L299.5 322.7L299.9 322.7L300.3 322.7L300.7 322.7L301.1 322.7L301.5 322.7L301.9 322.7L302.3 322.7L302.7 322.7L303.1 322.7L303.5 322.7L303.9 322.7L304.3 322.7L304.7 322.7L305.1 322.7L305.5 322.7L305.9 322.7L306.3 322.7L306.7 322.7L307.1 322.7L307.5 322.7L307.9 322.7L308.3 322.7L308.7 322.7L309.1 322.7L309.5 322.7L309.9 322.7L310.3 322.7L310.7 322.7L311.1 322.7L311.5 322.7L311.9 322.7L312.3 322.7L312.7 322.7L313.1 322.7L313.5 322.7L313.9 322.7L314.3 322.7L314.7 322.7L315.1 322.7L315.5 322.7L315.9 322.7L316.3 322.7L316.7 322.7L317.1 317.4L317.5 312.1L317.9 306.8L318.3 300.8L318.7 294.2L319.1 287.5L319.4 280.9L319.8 276.5L320.2 272L320.6 277.6L321 283.2L321.4 287.8L321.8 292.5L322.2 297.1L322.6 300.7L323 303.3L323.4 305.8L323.8 308.3L324.2 312.5L324.6 314.9L325 315.7L325.4 316.2L325.8 314.7L326.2 316.3L326.6 315.3L327 318.2L327.4 318.3L327.8 319.6L328.2 320.5L328.6 320.9L329 321L329.4 320.3L329.8 321.7L330.2 321.5L330.6 320.1L331 321.2L331.4 322.2L331.8 322.7L332.2 321.7L332.6 321.5L333 321L333.4 321.2L333.8 322.2L334.2 320.8L334.6 322.6L335 322.7L335.4 322.2L335.8 321.7L336.2 322.5L336.6 321.7L337 321.6L337.4 321.5L337.8 321.6L338.2 321.7L338.6 321.7L339 321.3L339.4 321.2L339.8 321.2L340.2 322.4L340.6 321.4L341 321.3L341.4 322.7L341.8 321.7L342.2 322.2L342.6 322.7L343 321.3L343.4 321.9L343.8 322.7L344.2 320.8L344.6 321.6L345 321.2L345.4 321.6L345.7 322.1L346.1 322.3L346.5 322.5L346.9 322.1L347.3 321.9L347.7 321.5L348.1 320.9L348.5 320.8L348.9 321.4L349.3 321.2L349.7 320.2L350.1 320.6L350.5 320.1L350.9 319.5L351.3 320.3L351.7 320L352.1 321.6L352.5 319.5L352.9 318L353.3 320L353.7 317.6L354.1 316.7L354.5 318.1L354.9 317.5L355.3 318.7L355.7 314.5L356.1 315.9L356.5 317.4L356.9 317.2L357.3 317L357.7 314.6L358.1 315.6L358.5 312.3L358.9 313.8L359.3 314.8L359.7 315.1L360.1 313.1L360.5 314L360.9 313.7L361.3 314.5L361.7 314L362.1 316.1L362.5 314.9L362.9 316.1L363.3 316.4L363.7 317.2L364.1 313.7L364.5 313.2L364.9 314.5L365.3 315.6L365.7 315.8L366.1 316.3L366.5 314.5L366.9 317.3L367.3 315L367.7 315.5L368.1 318L368.5 317.8L368.9 315.6L369.3 316.5L369.7 318.1L370.1 318.5L370.5 319L370.9 317.8L371.3 318.7L371.7 321.4L372.1 319L372.4 319.8L372.8 321.3L373.2 319.5L373.6 320L374 320.3L374.4 322L374.8 320.1L375.2 320L375.6 319.6L376 319.9L376.4 321.8L376.8 319.7L377.2 321.5L377.6 321.6L378 320.7L378.4 321.9L378.8 321.3L379.2 320.7L379.6 322.2L380 321.1L380.4 321L380.8 320.8L381.2 321.2L381.6 321.3L382 321.2L382.4 322.1L382.8 321.6L383.2 322.1L383.6 322.7L384 321.7L384.4 321.1L384.8 321.3L385.2 321.2L385.6 322.3L386 322L386.4 321.3L386.8 320.9L387.2 322L387.6 321.6L388 322.1L388.4 322.7L388.8 322.1L389.2 320.6L389.6 321.7L390 321L390.4 322L390.8 321.5L391.2 321.2L391.6 322.7L392 321.6L392.4 322.7L392.8 321.2L393.2 320.5L393.6 320.8L394 321.6L394.4 322.2L394.8 321.5L395.2 321.8L395.6 321.9L396 322L396.4 321.4L396.8 321.7L397.2 321.1L397.6 321.2L398 321.7L398.4 322.2L398.7 322.3L399.1 321.6L399.5 320.9L399.9 319.9L400.3 321.7L400.7 321.8L401.1 321.7L401.5 321.2L401.9 321.7L402.3 321.2L402.7 320.1L403.1 322L403.5 320.8L403.9 322.7L404.3 321.9L404.7 321.7L405.1 322L405.5 321.9L405.9 321.8L406.3 321.3L406.7 321.9L407.1 322L407.5 321.5L407.9 322.6L408.3 322L408.7 321.7L409.1 320.9L409.5 322.6L409.9 320.7L410.3 321.2L410.7 321.7L411.1 322.7L411.5 320.8L411.9 321.6L412.3 321.6L412.7 321.4L413.1 322.4L413.5 320.2L413.9 321.9L414.3 321.6L414.7 320.6L415.1 321L415.5 321.2L415.9 321L416.3 320.4L416.7 320.4L417.1 321L417.5 321.8L417.9 321.9L418.3 322L418.7 322L419.1 321.5L419.5 322.2L419.9 321.8L420.3 322.2L420.7 322L421.1 321.8L421.5 321.9L421.9 321.9L422.3 321.2L422.7 321.6L423.1 321.5L423.5 321.6L423.9 321.4L424.3 321.6L424.7 321.2L425.1 322.1L425.4 320.6L425.8 321.4L426.2 321.8L426.6 322.1L427 322.3L427.4 321.7L427.8 321.4L428.2 322L428.6 322.6L429 322.7L429.4 321.7L429.8 321.1L430.2 322.3L430.6 322L431 321.1L431.4 322.2L431.8 321.2L432.2 321.4L432.6 320.7L433 320.6L433.4 321.3L433.8 322.7L434.2 321L434.6 321.2L435 321.5L435.4 320.6L435.8 321.7L436.2 320.7L436.6 321.7L437 322.6L437.4 321.4L437.8 322.1L438.2 322L438.6 322.3" fill="none" stroke="#ee2a24" stroke-width="1.4" stroke-linejoin="round" />
<path d="M279.2 322.7L279.6 322.7L280 322.7L280.4 322.7L280.8 322.7L281.2 322.7L281.6 322.7L282 322.7L282.4 322.7L282.8 322.7L283.2 322.7L283.6 322.7L284 322.7L284.4 322.7L284.8 322.7L285.2 322.7L285.6 322.7L286 322.7L286.4 322.7L286.8 322.7L287.2 322.7L287.6 322.7L288 322.7L288.4 322.7L288.8 322.7L289.2 322.7L289.6 322.7L290 322.7L290.4 322.7L290.8 322.7L291.2 322.7L291.6 322.7L292 322.7L292.4 322.7L292.7 322.7L293.1 322.7L293.5 322.7L293.9 322.7L294.3 322.7L294.7 322.7L295.1 322.7L295.5 322.7L295.9 322.7L296.3 322.7L296.7 322.7L297.1 322.7L297.5 322.7L297.9 322.7L298.3 322.7L298.7 322.7L299.1 322.7L299.5 322.7L299.9 322.7L300.3 322.7L300.7 322.7L301.1 322.7L301.5 322.7L301.9 322.7L302.3 322.7L302.7 322.7L303.1 322.7L303.5 322.7L303.9 322.7L304.3 322.7L304.7 322.7L305.1 322.7L305.5 322.7L305.9 322.7L306.3 322.7L306.7 322.7L307.1 322.7L307.5 322.7L307.9 322.7L308.3 322.7L308.7 322.7L309.1 322.7L309.5 322.7L309.9 322.7L310.3 322.7L310.7 322.7L311.1 322.7L311.5 322.7L311.9 322.7L312.3 322.7L312.7 322.7L313.1 322.7L313.5 322.7L313.9 322.7L314.3 322.7L314.7 322.7L315.1 322.7L315.5 322.7L315.9 322.7L316.3 322.7L316.7 322.7L317.1 322.7L317.5 320.8L317.9 319L318.3 317.1L318.7 315.3L319.1 313.4L319.4 310.1L319.8 306.8L320.2 303.4L320.6 299.7L321 295.4L321.4 291.1L321.8 289.8L322.2 291.5L322.6 293.2L323 294.8L323.4 297.7L323.8 300.6L324.2 293.5L324.6 303.6L325 309.9L325.4 310.5L325.8 314.6L326.2 312.2L326.6 319.4L327 309.5L327.4 317.5L327.8 312.1L328.2 316.2L328.6 318.1L329 313L329.4 317.1L329.8 319.5L330.2 318.2L330.6 318.8L331 320.6L331.4 319.3L331.8 321.8L332.2 319.2L332.6 318.3L333 317.7L333.4 316.7L333.8 321.1L334.2 318.4L334.6 320.5L335 319.3L335.4 320.3L335.8 320L336.2 320.2L336.6 319.9L337 320.8L337.4 320.6L337.8 319.7L338.2 321.4L338.6 320.7L339 319.6L339.4 319.1L339.8 321.8L340.2 321L340.6 320.2L341 320.2L341.4 320.3L341.8 320.3L342.2 321.2L342.6 319.9L343 322.3L343.4 320.5L343.8 320.1L344.2 319.6L344.6 318.7L345 321.7L345.4 320.5L345.7 318.8L346.1 321.7L346.5 320.1L346.9 319.9L347.3 320.3L347.7 320.3L348.1 321L348.5 321.4L348.9 320.1L349.3 319.8L349.7 320.6L350.1 317.7L350.5 320.2L350.9 322.5L351.3 320.7L351.7 322.4L352.1 320.7L352.5 320.9L352.9 320.3L353.3 322.2L353.7 322.3L354.1 319.5L354.5 321.6L354.9 319.2L355.3 318.9L355.7 320.1L356.1 319.8L356.5 322.7L356.9 319.7L357.3 320.6L357.7 322.4L358.1 320.4L358.5 322.6L358.9 321.8L359.3 319.3L359.7 319.6L360.1 319.6L360.5 320.9L360.9 320.2L361.3 320.1L361.7 320.4L362.1 321.7L362.5 321.4L362.9 319.6L363.3 320.6L363.7 320.5L364.1 320.8L364.5 321.7L364.9 321L365.3 319.7L365.7 320.1L366.1 321.6L366.5 321.5L366.9 320.3L367.3 321.3L367.7 320.9L368.1 321.5L368.5 321.4L368.9 322.7L369.3 317.7L369.7 320.1L370.1 319.3L370.5 320.5L370.9 322.1L371.3 319L371.7 320L372.1 321.2L372.4 321.9L372.8 318.3L373.2 319.3L373.6 318.9L374 321.7L374.4 318.5L374.8 321.3L375.2 322.7L375.6 320.6L376 319.9L376.4 319.8L376.8 322.4L377.2 320.6L377.6 319.5L378 319.6L378.4 319.6L378.8 320.9L379.2 320.3L379.6 321.1L380 319.7L380.4 322.7L380.8 320.2L381.2 320.6L381.6 320.5L382 319.9L382.4 322.5L382.8 321.1L383.2 321.2L383.6 319.7L384 321L384.4 321L384.8 320.3L385.2 320.7L385.6 320.3L386 321.8L386.4 319.7L386.8 319.2L387.2 320.3L387.6 322.7L388 320.1L388.4 320.6L388.8 320L389.2 322.4L389.6 320.6L390 320.9L390.4 320.1L390.8 320.4L391.2 321.4L391.6 319.4L392 321.4L392.4 319.1L392.8 319.3L393.2 320.4L393.6 319.4L394 318.6L394.4 319.6L394.8 320.7L395.2 321L395.6 321L396 320.8L396.4 320.8L396.8 320.4L397.2 320.7L397.6 322.7L398 321.6L398.4 319L398.7 320.9L399.1 319L399.5 320.1L399.9 322.7L400.3 318.9L400.7 319.5L401.1 319.9L401.5 319.5L401.9 319.7L402.3 320.9L402.7 319.8L403.1 321.5L403.5 320.7L403.9 320.5L404.3 320.2L404.7 321L405.1 320.2L405.5 321.9L405.9 319.8L406.3 319.1L406.7 318.8L407.1 322.7L407.5 319.3L407.9 321.3L408.3 318.7L408.7 321.2L409.1 320.4L409.5 320.5L409.9 319.6L410.3 320.1L410.7 322.2L411.1 320.8L411.5 320.6L411.9 322.1L412.3 319.5L412.7 319.3L413.1 322.1L413.5 322.7L413.9 319.3L414.3 320.9L414.7 321.9L415.1 319.9L415.5 320.9L415.9 321.6L416.3 320.3L416.7 320.4L417.1 321.1L417.5 319.4L417.9 320.1L418.3 321.1L418.7 321.9L419.1 320.5L419.5 318.4L419.9 322.7L420.3 321.1L420.7 320.8L421.1 322L421.5 320.7L421.9 318.3L422.3 321L422.7 321.3L423.1 320.9L423.5 320.8L423.9 318.7L424.3 320.7L424.7 320L425.1 319.3L425.4 321.5L425.8 322.6L426.2 321.1L426.6 319.8L427 318.3L427.4 321.8L427.8 321.3L428.2 320.6L428.6 319.2L429 319.6L429.4 320.9L429.8 319.9L430.2 321.2L430.6 320.9L431 322.3L431.4 321.2L431.8 319.8L432.2 319.7L432.6 321.7L433 319.9L433.4 322.7L433.8 321L434.2 322.4L434.6 321.7L435 320.7L435.4 321L435.8 321L436.2 318.8L436.6 320.9L437 319.4L437.4 318.7L437.8 319.7L438.2 320.3L438.6 321.1" fill="none" stroke="#4a7fe0" stroke-width="1.1" stroke-linejoin="round" />
<path d="M279.2 322.7L279.6 322.7L280 322.7L280.4 322.7L280.8 322.7L281.2 322.7L281.6 322.7L282 322.7L282.4 322.7L282.8 322.7L283.2 322.7L283.6 322.7L284 322.7L284.4 322.7L284.8 322.8L285.2 322.8L285.6 322.8L286 322.8L286.4 322.8L286.8 322.8L287.2 322.8L287.6 322.8L288 322.8L288.4 322.8L288.8 322.8L289.2 322.8L289.6 322.9L290 322.9L290.4 322.9L290.8 322.9L291.2 322.9L291.6 322.9L292 322.9L292.4 322.9L292.7 322.9L293.1 322.9L293.5 323L293.9 323L294.3 323L294.7 323L295.1 323L295.5 323L295.9 323L296.3 323L296.7 323L297.1 323L297.5 323L297.9 323.1L298.3 323.1L298.7 323.1L299.1 323.1L299.5 323.1L299.9 323.1L300.3 323.1L300.7 323.1L301.1 323.1L301.5 323.1L301.9 323.1L302.3 323.1L302.7 323.1L303.1 323.1L303.5 323.1L303.9 323.1L304.3 323.1L304.7 323.1L305.1 323.1L305.5 323.2L305.9 323.2L306.3 323.2L306.7 323.1L307.1 323.1L307.5 323.1L307.9 323.1L308.3 323.1L308.7 323.1L309.1 323.1L309.5 323.1L309.9 323.1L310.3 323.1L310.7 323.1L311.1 323.1L311.5 323.1L311.9 323.1L312.3 323.1L312.7 323L313.1 323L313.5 323L313.9 323L314.3 323L314.7 323L315.1 322.9L315.5 322.9L315.9 322.9L316.3 322.9L316.7 322.9L317.1 322.8L317.5 322.8L317.9 322.8L318.3 322.8L318.7 322.7L319.1 322.7L319.4 322.5L319.8 321.9L320.2 321.2L320.6 320.3L321 319.5L321.4 318.7L321.8 317.7L322.2 316.7L322.6 315.9L323 315.2L323.4 314.8L323.8 314.4L324.2 314L324.6 313.7L325 313.4L325.4 313.2L325.8 313L326.2 312.8L326.6 312.7L327 312.6L327.4 312.4L327.8 312.3L328.2 312.2L328.6 312.1L329 312L329.4 311.9L329.8 311.8L330.2 311.7L330.6 311.6L331 311.5L331.4 311.4L331.8 311.3L332.2 311.2L332.6 311.1L333 311L333.4 310.9L333.8 310.9L334.2 310.8L334.6 310.7L335 310.6L335.4 310.6L335.8 310.5L336.2 310.4L336.6 310.3L337 310.3L337.4 310.2L337.8 310.1L338.2 310.1L338.6 310L339 309.9L339.4 309.8L339.8 309.8L340.2 309.7L340.6 309.6L341 309.6L341.4 309.5L341.8 309.5L342.2 309.4L342.6 309.3L343 309.3L343.4 309.2L343.8 309.2L344.2 309.1L344.6 309L345 309L345.4 308.9L345.7 308.9L346.1 308.8L346.5 308.8L346.9 308.7L347.3 308.7L347.7 308.6L348.1 308.6L348.5 308.5L348.9 308.5L349.3 308.4L349.7 308.4L350.1 308.3L350.5 308.3L350.9 308.2L351.3 308.2L351.7 308.1L352.1 308.1L352.5 308L352.9 307.9L353.3 307.9L353.7 307.8L354.1 307.8L354.5 307.7L354.9 307.7L355.3 307.6L355.7 307.6L356.1 307.6L356.5 307.5L356.9 307.5L357.3 307.5L357.7 307.4L358.1 307.4L358.5 307.4L358.9 307.3L359.3 307.3L359.7 307.3L360.1 307.3L360.5 307.2L360.9 307.2L361.3 307.2L361.7 307.2L362.1 307.1L362.5 307.1L362.9 307.1L363.3 307.1L363.7 307L364.1 307L364.5 307L364.9 306.9L365.3 306.9L365.7 306.9L366.1 306.8L366.5 306.8L366.9 306.7L367.3 306.7L367.7 306.7L368.1 306.6L368.5 306.5L368.9 306.5L369.3 306.4L369.7 306.4L370.1 306.3L370.5 306.2L370.9 306.1L371.3 306L371.7 306L372.1 305.9L372.4 305.8L372.8 305.7L373.2 305.5L373.6 305.4L374 305.3L374.4 305.2L374.8 305L375.2 304.9L375.6 304.7L376 304.5L376.4 304.3L376.8 304.1L377.2 303.8L377.6 303.6L378 303.3L378.4 303L378.8 302.7L379.2 302.4L379.6 302.1L380 301.8L380.4 301.5L380.8 301.2L381.2 300.8L381.6 300.5L382 300.1L382.4 299.7L382.8 299.3L383.2 299L383.6 298.6L384 298.2L384.4 297.8L384.8 297.4L385.2 297L385.6 296.6L386 296.2L386.4 295.7L386.8 295.3L387.2 294.9L387.6 294.4L388 294L388.4 293.6L388.8 293.1L389.2 292.7L389.6 292.2L390 291.7L390.4 291.3L390.8 290.8L391.2 290.4L391.6 289.9L392 289.4L392.4 288.9L392.8 288.4L393.2 288L393.6 287.5L394 287L394.4 286.5L394.8 286L395.2 285.5L395.6 285L396 284.5L396.4 284L396.8 283.5L397.2 283L397.6 282.5L398 282L398.4 281.5L398.7 281L399.1 280.5L399.5 280L399.9 279.5L400.3 279L400.7 278.5L401.1 278L401.5 277.5L401.9 277L402.3 276.5L402.7 275.9L403.1 275.4L403.5 274.9L403.9 274.4L404.3 273.8L404.7 273.3L405.1 272.8L405.5 272.3L405.9 271.7L406.3 271.2L406.7 270.7L407.1 270.1L407.5 269.6L407.9 269L408.3 268.5L408.7 267.9L409.1 267.4L409.5 266.8L409.9 266.3L410.3 265.7L410.7 265.2L411.1 264.6L411.5 264L411.9 263.5L412.3 262.9L412.7 262.3L413.1 261.7L413.5 261.2L413.9 260.6L414.3 260L414.7 259.4L415.1 258.8L415.5 258.2L415.9 257.7L416.3 257.1L416.7 256.5L417.1 255.9L417.5 255.3L417.9 254.7L418.3 254.1L418.7 253.5L419.1 252.9L419.5 252.3L419.9 251.7L420.3 251L420.7 250.4L421.1 249.8L421.5 249.1L421.9 248.5L422.3 247.9L422.7 247.2L423.1 246.5L423.5 245.9L423.9 245.2L424.3 244.5L424.7 243.8L425.1 243.1L425.4 242.4L425.8 241.7L426.2 241L426.6 240.3L427 239.5L427.4 238.8L427.8 238L428.2 237.2L428.6 236.4L429 235.6L429.4 234.8L429.8 234L430.2 233.2L430.6 232.4L431 231.5L431.4 230.7L431.8 229.8L432.2 229L432.6 228.1L433 227.2L433.4 226.4L433.8 225.5L434.2 224.6L434.6 223.7L435 222.9L435.4 222L435.8 221.1L436.2 220.3L436.6 219.4L437 218.5L437.4 217.7L437.8 216.8L438.2 216L438.6 215.1" fill="none" stroke="#4a7fe0" stroke-width="1.1" stroke-linejoin="round" stroke-dasharray="1.1 1.1"/>
<path d="M279.2 322.7L279.6 322.7L280 322.7L280.4 322.7L280.8 322.7L281.2 322.7L281.6 322.7L282 322.8L282.4 322.8L282.8 322.8L283.2 322.8L283.6 322.8L284 322.9L284.4 322.9L284.8 322.9L285.2 322.9L285.6 323L286 323L286.4 323L286.8 323.1L287.2 323.1L287.6 323.1L288 323.2L288.4 323.2L288.8 323.3L289.2 323.3L289.6 323.3L290 323.4L290.4 323.4L290.8 323.5L291.2 323.5L291.6 323.5L292 323.6L292.4 323.6L292.7 323.7L293.1 323.7L293.5 323.7L293.9 323.8L294.3 323.8L294.7 323.9L295.1 323.9L295.5 323.9L295.9 324L296.3 324L296.7 324.1L297.1 324.1L297.5 324.1L297.9 324.2L298.3 324.2L298.7 324.2L299.1 324.3L299.5 324.3L299.9 324.3L300.3 324.3L300.7 324.4L301.1 324.4L301.5 324.4L301.9 324.4L302.3 324.4L302.7 324.5L303.1 324.5L303.5 324.5L303.9 324.5L304.3 324.5L304.7 324.5L305.1 324.5L305.5 324.5L305.9 324.5L306.3 324.5L306.7 324.5L307.1 324.5L307.5 324.5L307.9 324.4L308.3 324.4L308.7 324.4L309.1 324.4L309.5 324.3L309.9 324.3L310.3 324.3L310.7 324.2L311.1 324.2L311.5 324.1L311.9 324.1L312.3 324L312.7 323.9L313.1 323.9L313.5 323.8L313.9 323.7L314.3 323.7L314.7 323.6L315.1 323.5L315.5 323.4L315.9 323.3L316.3 323.2L316.7 323.1L317.1 323L317.5 322.9L317.9 322.8L318.3 322.4L318.7 320.5L319.1 317.6L319.4 314.3L319.8 311.2L320.2 308.8L320.6 306.5L321 304.1L321.4 301.8L321.8 299.7L322.2 297.8L322.6 296.3L323 295.2L323.4 294.5L323.8 293.9L324.2 293.4L324.6 293L325 292.7L325.4 292.5L325.8 292.3L326.2 292.2L326.6 292.1L327 292.1L327.4 292L327.8 292L328.2 291.9L328.6 291.8L329 291.7L329.4 291.5L329.8 291.3L330.2 291.2L330.6 291L331 290.8L331.4 290.6L331.8 290.5L332.2 290.3L332.6 290.2L333 290L333.4 289.8L333.8 289.7L334.2 289.5L334.6 289.4L335 289.2L335.4 289.1L335.8 288.9L336.2 288.8L336.6 288.6L337 288.5L337.4 288.3L337.8 288.2L338.2 288L338.6 287.9L339 287.7L339.4 287.5L339.8 287.4L340.2 287.2L340.6 287L341 286.9L341.4 286.7L341.8 286.5L342.2 286.3L342.6 286.2L343 286.1L343.4 286.1L343.8 286L344.2 285.9L344.6 285.9L345 285.8L345.4 285.6L345.7 285.4L346.1 285.2L346.5 284.8L346.9 284.4L347.3 283.9L347.7 283.2L348.1 282.5L348.5 281.6L348.9 280.6L349.3 279.4L349.7 278.2L350.1 276.9L350.5 275.5L350.9 274.1L351.3 272.7L351.7 271.2L352.1 269.8L352.5 268.3L352.9 266.9L353.3 265.5L353.7 264.1L354.1 262.8L354.5 261.6L354.9 260.4L355.3 259.1L355.7 257.8L356.1 256.6L356.5 255.3L356.9 254L357.3 252.8L357.7 251.5L358.1 250.3L358.5 249.1L358.9 247.9L359.3 246.7L359.7 245.5L360.1 244.4L360.5 243.3L360.9 242.3L361.3 241.2L361.7 240.3L362.1 239.3L362.5 238.4L362.9 237.5L363.3 236.7L363.7 235.8L364.1 235L364.5 234.3L364.9 233.5L365.3 232.8L365.7 232.1L366.1 231.4L366.5 230.7L366.9 230.1L367.3 229.4L367.7 228.8L368.1 228.3L368.5 227.7L368.9 227.2L369.3 226.6L369.7 226.1L370.1 225.7L370.5 225.2L370.9 224.8L371.3 224.5L371.7 224.1L372.1 223.8L372.4 223.5L372.8 223.2L373.2 222.9L373.6 222.6L374 222.3L374.4 222L374.8 221.7L375.2 221.4L375.6 221.1L376 220.8L376.4 220.5L376.8 220.2L377.2 219.8L377.6 219.5L378 219.1L378.4 218.6L378.8 218.2L379.2 217.7L379.6 217.1L380 216.5L380.4 215.8L380.8 215L381.2 214.2L381.6 213.4L382 212.5L382.4 211.6L382.8 210.7L383.2 209.8L383.6 208.9L384 208.1L384.4 207.3L384.8 206.5L385.2 205.6L385.6 204.8L386 204L386.4 203.2L386.8 202.4L387.2 201.6L387.6 200.7L388 199.9L388.4 199L388.8 198.1L389.2 197.2L389.6 196.2L390 195.1" fill="none" stroke="#4cb860" stroke-width="1.1" stroke-linejoin="round" stroke-dasharray="1.1 1.1"/>
<path d="M279.2 322.7L279.6 322.7L280 322.7L280.4 322.7L280.8 322.7L281.2 322.7L281.6 322.8L282 322.8L282.4 322.8L282.8 322.8L283.2 322.9L283.6 322.9L284 322.9L284.4 323L284.8 323L285.2 323L285.6 323.1L286 323.1L286.4 323.2L286.8 323.2L287.2 323.3L287.6 323.3L288 323.4L288.4 323.4L288.8 323.5L289.2 323.5L289.6 323.6L290 323.6L290.4 323.7L290.8 323.7L291.2 323.8L291.6 323.9L292 323.9L292.4 324L292.7 324L293.1 324.1L293.5 324.1L293.9 324.2L294.3 324.3L294.7 324.3L295.1 324.4L295.5 324.4L295.9 324.5L296.3 324.5L296.7 324.6L297.1 324.6L297.5 324.7L297.9 324.7L298.3 324.7L298.7 324.8L299.1 324.8L299.5 324.9L299.9 324.9L300.3 324.9L300.7 325L301.1 325L301.5 325L301.9 325L302.3 325.1L302.7 325.1L303.1 325.1L303.5 325.1L303.9 325.1L304.3 325.1L304.7 325.1L305.1 325.1L305.5 325.1L305.9 325.1L306.3 325.1L306.7 325L307.1 325L307.5 325L307.9 325L308.3 324.9L308.7 324.9L309.1 324.8L309.5 324.8L309.9 324.7L310.3 324.7L310.7 324.6L311.1 324.5L311.5 324.4L311.9 324.4L312.3 324.3L312.7 324.2L313.1 324.1L313.5 324L313.9 323.8L314.3 323.7L314.7 323.6L315.1 323.5L315.5 323.3L315.9 323.2L316.3 323L316.7 322.9L317.1 322.7L317.5 321.4L317.9 318.4L318.3 314.3L318.7 309.9L319.1 305.7L319.4 301.4L319.8 296.6L320.2 291.8L320.6 287.6L321 284.4L321.4 282L321.8 280L322.2 278.3L322.6 276.8L323 275.6L323.4 274.5L323.8 273.5L324.2 272.6L324.6 271.9L325 271.2L325.4 270.6L325.8 270.1L326.2 269.6L326.6 269.2L327 268.9L327.4 268.6L327.8 268.3L328.2 268L328.6 267.7L329 267.3L329.4 267L329.8 266.6L330.2 266.3L330.6 266L331 265.7L331.4 265.4L331.8 265.2L332.2 264.9L332.6 264.7L333 264.5L333.4 264.3L333.8 264.1L334.2 263.9L334.6 263.8L335 263.6L335.4 263.5L335.8 263.4L336.2 263.4L336.6 263.3L337 263.2L337.4 263.2L337.8 263.1L338.2 263.1L338.6 263.1L339 263L339.4 263L339.8 262.9L340.2 262.9L340.6 262.8L341 262.7L341.4 262.6L341.8 262.6L342.2 262.4L342.6 262.3L343 262.2L343.4 262L343.8 261.8L344.2 261.6L344.6 261.3L345 261.1L345.4 260.8L345.7 260.5L346.1 260.2L346.5 259.8L346.9 259.3L347.3 258.8L347.7 258.2L348.1 257.4L348.5 256.6L348.9 255.7L349.3 254.6L349.7 253.4L350.1 252.1L350.5 250.7L350.9 249.2L351.3 247.6L351.7 245.9L352.1 244.2L352.5 242.4L352.9 240.6L353.3 238.8L353.7 237L354.1 235.2L354.5 233.3L354.9 231.3L355.3 229.2L355.7 227.1L356.1 224.9L356.5 222.7L356.9 220.5L357.3 218.3L357.7 216.2L358.1 214.1L358.5 212L358.9 209.9L359.3 207.8L359.7 205.7L360.1 203.7L360.5 201.7L360.9 199.7L361.3 197.8L361.7 196" fill="none" stroke="#ee2a24" stroke-width="1.1" stroke-linejoin="round" stroke-dasharray="1.1 1.1"/>
<rect x="279.2" y="194.9" width="159.4" height="127.8" fill="none" stroke="#5f5f5f" stroke-width="1.0"/>
<path d="M279.2 322.7h-2.5M279.2 299.5h-2.5M279.2 276.2h-2.5M279.2 253h-2.5M279.2 229.8h-2.5M279.2 206.5h-2.5" stroke="#555" stroke-width="0.9"/>
<path d="M279.2 311.1h-1.5M279.2 287.8h-1.5M279.2 264.6h-1.5M279.2 241.4h-1.5M279.2 218.1h-1.5M279.2 194.9h-1.5" stroke="#555" stroke-width="0.9"/>
<path d="M438.6 322.7h2.5M438.6 280.1h2.5M438.6 237.5h2.5M438.6 194.9h2.5" stroke="#555" stroke-width="0.9"/>
<path d="M438.6 301.4h1.5M438.6 258.8h1.5M438.6 216.2h1.5" stroke="#555" stroke-width="0.9"/>
<path d="M279.2 322.7v2.5M319.1 322.7v2.5M358.9 322.7v2.5M398.8 322.7v2.5M438.6 322.7v2.5" stroke="#555" stroke-width="0.9"/>
<path d="M299.1 322.7v1.5M339 322.7v1.5M378.8 322.7v1.5M418.7 322.7v1.5" stroke="#555" stroke-width="0.9"/>
<text x="275.2" y="325.6" font-size="8.5" text-anchor="end" fill="#111" color="#111" >0</text>
<text x="275.2" y="302.4" font-size="8.5" text-anchor="end" fill="#111" color="#111" >10</text>
<text x="275.2" y="279.1" font-size="8.5" text-anchor="end" fill="#111" color="#111" >20</text>
<text x="275.2" y="255.9" font-size="8.5" text-anchor="end" fill="#111" color="#111" >30</text>
<text x="275.2" y="232.7" font-size="8.5" text-anchor="end" fill="#111" color="#111" >40</text>
<text x="275.2" y="209.4" font-size="8.5" text-anchor="end" fill="#111" color="#111" >50</text>
<text x="441.3" y="325.6" font-size="8.5" text-anchor="start" fill="#111" color="#111" >0</text>
<text x="441.3" y="283" font-size="8.5" text-anchor="start" fill="#111" color="#111" >2</text>
<text x="441.3" y="240.4" font-size="8.5" text-anchor="start" fill="#111" color="#111" >4</text>
<text x="441.3" y="197.8" font-size="8.5" text-anchor="start" fill="#111" color="#111" >6</text>
<text x="279.2" y="333.6" font-size="8.5" text-anchor="middle" fill="#111" color="#111" >0</text>
<text x="319.1" y="333.6" font-size="8.5" text-anchor="middle" fill="#111" color="#111" >2</text>
<text x="358.9" y="333.6" font-size="8.5" text-anchor="middle" fill="#111" color="#111" >4</text>
<text x="398.8" y="333.6" font-size="8.5" text-anchor="middle" fill="#111" color="#111" >6</text>
<text x="438.6" y="333.6" font-size="8.5" text-anchor="middle" fill="#111" color="#111" >8</text>
<text x="359" y="347.6" font-size="9.6" text-anchor="middle" fill="#111" color="#111" >Distance (&#197;)</text>
<text x="0" y="0" font-size="9.6" text-anchor="middle" fill="#111" color="#111" transform="translate(262.2 259.3) rotate(-90)">g (r)</text>
<text x="0" y="0" font-size="9.6" text-anchor="middle" fill="#111" color="#111" transform="translate(455.2 260) rotate(-90)">n (r)</text>
<line x1="279.6" y1="199.3" x2="297.2" y2="199.3" stroke="#55b868" stroke-width="1.2"/>
<text x="299.2" y="202.2" font-size="8" text-anchor="start" fill="#111" color="#111" >Li-BOB(O)</text>
<line x1="279.6" y1="208.9" x2="297.2" y2="208.9" stroke="#f07070" stroke-width="1.8"/>
<text x="299.2" y="211.8" font-size="8" text-anchor="start" fill="#111" color="#111" >Li-PC(O)</text>
<line x1="279.6" y1="218.6" x2="297.2" y2="218.6" stroke="#4a7fe0" stroke-width="1.2"/>
<text x="299.2" y="221.5" font-size="8" text-anchor="start" fill="#111" color="#111" >Li-DME(O)</text>
<text x="482.3" y="196" font-size="18" text-anchor="start" fill="#000" color="#000" class="pl">e</text>
<path d="M520.2 322.2H679.5" stroke="#9a9a9a" stroke-width="1"/>
<path d="M679.5 194.1V322.2" stroke="#8a8a8a" stroke-width="1"/>
<path d="M520.2 194.1H679.5" stroke="#b4b4b4" stroke-width="1.4"/>
<path d="M520.2 193.4V322.2" stroke="#a8a8a8" stroke-width="1.3"/>
<path d="M520.2 194.1h-2.2M520.2 210.1h-2.2M520.2 226.1h-2.2M520.2 242.1h-2.2M520.2 258.1h-2.2M520.2 274.2h-2.2M520.2 290.2h-2.2M520.2 306.2h-2.2M520.2 322.2h-2.2" stroke="#888" stroke-width="0.9"/>
<path d="M520.2 202.1h-1.2M520.2 218.1h-1.2M520.2 234.1h-1.2M520.2 250.1h-1.2M520.2 266.2h-1.2M520.2 282.2h-1.2M520.2 298.2h-1.2M520.2 314.2h-1.2" stroke="#999" stroke-width="0.9"/>
<path d="M532.5 322.2v2.2M557 322.2v2.2M581.5 322.2v2.2M606 322.2v2.2M630.5 322.2v2.2M655 322.2v2.2M679.5 322.2v2.2" stroke="#888" stroke-width="0.9"/>
<path d="M520.2 322.2v1.2M544.7 322.2v1.2M569.2 322.2v1.2M593.7 322.2v1.2M618.2 322.2v1.2M642.7 322.2v1.2M667.2 322.2v1.2" stroke="#999" stroke-width="0.9"/>
<text x="515.2" y="197.1" font-size="8.5" text-anchor="end" fill="#111" color="#111" >&#8722;5.0</text>
<text x="515.2" y="213.1" font-size="8.5" text-anchor="end" fill="#111" color="#111" >&#8722;5.2</text>
<text x="515.2" y="229.1" font-size="8.5" text-anchor="end" fill="#111" color="#111" >&#8722;5.4</text>
<text x="515.2" y="245.1" font-size="8.5" text-anchor="end" fill="#111" color="#111" >&#8722;5.6</text>
<text x="515.2" y="261.1" font-size="8.5" text-anchor="end" fill="#111" color="#111" >&#8722;5.8</text>
<text x="515.2" y="277.2" font-size="8.5" text-anchor="end" fill="#111" color="#111" >&#8722;6.0</text>
<text x="515.2" y="293.2" font-size="8.5" text-anchor="end" fill="#111" color="#111" >&#8722;6.2</text>
<text x="515.2" y="309.2" font-size="8.5" text-anchor="end" fill="#111" color="#111" >&#8722;6.4</text>
<text x="515.2" y="325.2" font-size="8.5" text-anchor="end" fill="#111" color="#111" >&#8722;6.6</text>
<text x="532.5" y="333" font-size="8.5" text-anchor="middle" fill="#111" color="#111" >2.8</text>
<text x="557" y="333" font-size="8.5" text-anchor="middle" fill="#111" color="#111" >2.9</text>
<text x="581.5" y="333" font-size="8.5" text-anchor="middle" fill="#111" color="#111" >3.0</text>
<text x="606" y="333" font-size="8.5" text-anchor="middle" fill="#111" color="#111" >3.1</text>
<text x="630.5" y="333" font-size="8.5" text-anchor="middle" fill="#111" color="#111" >3.2</text>
<text x="655" y="333" font-size="8.5" text-anchor="middle" fill="#111" color="#111" >3.3</text>
<text x="679.5" y="333" font-size="8.5" text-anchor="middle" fill="#111" color="#111" >3.4</text>
<path d="M539.8 212.1L668.5 273" stroke="#5b8ee6" stroke-width="1.1"/>
<path d="M539.8 240.5L668.5 295.4" stroke="#e46464" stroke-width="1.1"/>
<circle cx="539.8" cy="211.7" r="2.1" fill="#5b8ee6"/>
<circle cx="560.6" cy="223.3" r="2.1" fill="#5b8ee6"/>
<circle cx="581.5" cy="232.5" r="2.1" fill="#5b8ee6"/>
<circle cx="603.5" cy="244.1" r="2.1" fill="#5b8ee6"/>
<circle cx="628" cy="252.5" r="2.1" fill="#5b8ee6"/>
<circle cx="668.5" cy="273.8" r="2.1" fill="#5b8ee6"/>
<circle cx="539.8" cy="245.3" r="2.1" fill="#e46464"/>
<circle cx="560.6" cy="246.9" r="2.1" fill="#e46464"/>
<circle cx="581.5" cy="254.9" r="2.1" fill="#e46464"/>
<circle cx="603.5" cy="266.6" r="2.1" fill="#e46464"/>
<circle cx="628" cy="278.2" r="2.1" fill="#e46464"/>
<circle cx="668.5" cy="298.2" r="2.1" fill="#e46464"/>
<circle cx="628.8" cy="200.4" r="2.1" fill="#5b8ee6"/>
<circle cx="628.8" cy="209.9" r="2.1" fill="#e46464"/>
<text x="639.8" y="203.3" font-size="7.9" text-anchor="start" fill="#111" color="#111" >PDE</text>
<text x="639.8" y="212.8" font-size="7.9" text-anchor="start" fill="#111" color="#111" >PVM-GPE</text>
<text x="521.8" y="305.2" font-size="8.3" text-anchor="start" fill="#e46464" color="#e46464" >Ea= 10.89 KJ mol<tspan font-size="5.7" dy="-3.4">-1</tspan></text>
<text x="521.8" y="318.2" font-size="8.3" text-anchor="start" fill="#5b8ee6" color="#5b8ee6" >Ea= 12.13 KJ mol<tspan font-size="5.7" dy="-3.4">-1</tspan></text>
<text x="0" y="0" font-size="9.6" text-anchor="middle" fill="#111" color="#111" transform="translate(497.4 257.2) rotate(-90)">ln &#963; ( S cm<tspan font-size="6" dy="-3.5">-1</tspan><tspan dy="3.5"> )</tspan></text>
<text x="599.8" y="347.6" font-size="9.6" text-anchor="middle" fill="#111" color="#111" >1000/T ( K<tspan font-size="6" dy="-3.5">-1</tspan><tspan dy="3.5"> )</tspan></text>
<text x="0.3" y="376.6" font-size="18" text-anchor="start" fill="#000" color="#000" class="pl">f</text>
<rect x="58" y="445.8" width="24.6" height="69.2" fill="#f6dfdf"/>
<rect x="138.8" y="475.6" width="24.2" height="39.4" fill="#dde9f8"/>
<rect x="29.7" y="380.4" width="162.1" height="134.6" fill="none" stroke="#3a3a3a" stroke-width="0.9"/>
<text x="70.2" y="443.6" font-size="8.6" text-anchor="middle" fill="#111" color="#111" >0.77</text>
<text x="151" y="474.1" font-size="8.6" text-anchor="middle" fill="#111" color="#111" >0.44</text>
<text x="70.8" y="525.3" font-size="8.4" text-anchor="middle" fill="#111" color="#111" >PVM-GPE-Li</text>
<text x="150.3" y="525.3" font-size="8.4" text-anchor="middle" fill="#111" color="#111" >PDE-Li</text>
<text x="0" y="0" font-size="9.2" text-anchor="middle" fill="#111" color="#111" transform="translate(23.2 448.1) rotate(-90)">Li<tspan font-size="5.5" dy="-3.5">+</tspan><tspan dy="3.5"> transference number</tspan></text>
<text x="245.8" y="372.2" font-size="18" text-anchor="start" fill="#000" color="#000" class="pl">g</text>
<path d="M279.7 486.5H438.9" stroke="#777" stroke-width="0.8"/>
<path d="M279.7 498.9L280 498.9L280.2 498.9L280.5 498.9L280.8 498.9L281 498.9L281.3 498.9L281.6 498.9L281.8 498.8L282.1 498.8L282.4 498.8L282.6 498.8L282.9 498.8L283.1 498.8L283.4 498.8L283.7 498.8L283.9 498.8L284.2 498.8L284.5 498.7L284.7 498.7L285 498.7L285.3 498.7L285.5 498.7L285.8 498.7L286.1 498.7L286.3 498.7L286.6 498.7L286.9 498.7L287.1 498.6L287.4 498.6L287.7 498.6L287.9 498.6L288.2 498.6L288.5 498.6L288.7 498.6L289 498.6L289.3 498.6L289.5 498.6L289.8 498.5L290 498.5L290.3 498.5L290.6 498.5L290.8 498.5L291.1 498.5L291.4 498.5L291.6 498.5L291.9 498.5L292.2 498.5L292.4 498.5L292.7 498.4L293 498.4L293.2 498.4L293.5 498.4L293.8 498.4L294 498.4L294.3 498.4L294.6 498.4L294.8 498.4L295.1 498.4L295.4 498.3L295.6 498.3L295.9 498.3L296.2 498.3L296.4 498.3L296.7 498.3L296.9 498.3L297.2 498.3L297.5 498.3L297.7 498.3L298 498.3L298.3 498.2L298.5 498.2L298.8 498.2L299.1 498.2L299.3 498.2L299.6 498.2L299.9 498.2L300.1 498.2L300.4 498.2L300.7 498.2L300.9 498.2L301.2 498.1L301.5 498.1L301.7 498.1L302 498.1L302.3 498.1L302.5 498.1L302.8 498.1L303 498.1L303.3 498.1L303.6 498.1L303.8 498.1L304.1 498L304.4 498L304.6 498L304.9 498L305.2 498L305.4 498L305.7 498L306 498L306.2 498L306.5 498L306.8 498L307 497.9L307.3 497.9L307.6 497.9L307.8 497.9L308.1 497.9L308.4 497.9L308.6 497.9L308.9 497.9L309.2 497.9L309.4 497.8L309.7 497.8L309.9 497.8L310.2 497.8L310.5 497.8L310.7 497.8L311 497.8L311.3 497.8L311.5 497.8L311.8 497.7L312.1 497.7L312.3 497.7L312.6 497.7L312.9 497.7L313.1 497.7L313.4 497.7L313.7 497.7L313.9 497.7L314.2 497.7L314.5 497.6L314.7 497.6L315 497.6L315.3 497.6L315.5 497.6L315.8 497.6L316.1 497.6L316.3 497.6L316.6 497.6L316.8 497.6L317.1 497.5L317.4 497.5L317.6 497.5L317.9 497.5L318.2 497.5L318.4 497.5L318.7 497.4L319 497.4L319.2 497.4L319.5 497.4L319.8 497.4L320 497.3L320.3 497.3L320.6 497.3L320.8 497.2L321.1 497.2L321.4 497.2L321.6 497.1L321.9 497.1L322.2 497.1L322.4 497L322.7 496.9L322.9 496.9L323.2 496.8L323.5 496.7L323.7 496.6L324 496.5L324.3 496.3L324.5 496.2L324.8 496.1L325.1 496L325.3 495.8L325.6 495.7L325.9 495.6L326.1 495.4L326.4 495.3L326.7 495.2L326.9 495L327.2 494.9L327.5 494.8L327.7 494.7L328 494.5L328.3 494.4L328.5 494.2L328.8 494.1L329.1 494L329.3 493.8L329.6 493.6L329.8 493.5L330.1 493.3L330.4 493.1L330.6 493L330.9 492.8L331.2 492.6L331.4 492.4L331.7 492.2L332 492L332.2 491.7L332.5 491.5L332.8 491.2L333 490.9L333.3 490.7L333.6 490.4L333.8 490.1L334.1 489.8L334.4 489.5L334.6 489.2L334.9 488.9L335.2 488.6L335.4 488.3L335.7 488L336 487.7L336.2 487.3L336.5 487L336.7 486.6L337 486.2L337.3 485.8L337.5 485.3L337.8 484.8L338.1 484.3L338.3 483.8L338.6 483.3L338.9 482.9L339.1 482.4L339.4 482L339.7 481.6L339.9 481.2L340.2 480.8L340.5 480.4L340.7 480L341 479.7L341.3 479.3L341.5 479.1L341.8 478.8L342.1 478.6L342.3 478.5L342.6 478.4L342.8 478.3L343.1 478.2L343.4 478.2L343.6 478.2L343.9 478.1L344.2 478.1L344.4 478.1L344.7 478.1L345 478.1L345.2 478.2L345.5 478.2L345.8 478.2L346 478.3L346.3 478.3L346.6 478.3L346.8 478.4L347.1 478.4L347.4 478.5L347.6 478.5L347.9 478.6L348.2 478.6L348.4 478.6L348.7 478.6L349 478.6L349.2 478.6L349.5 478.6L349.7 478.5L350 478.5L350.3 478.5L350.5 478.5L350.8 478.4L351.1 478.4L351.3 478.3L351.6 478.3L351.9 478.2L352.1 478.1L352.4 478L352.7 477.9L352.9 477.8L353.2 477.6L353.5 477.5L353.7 477.3L354 477.1L354.3 476.9L354.5 476.7L354.8 476.5L355.1 476.3L355.3 476L355.6 475.8L355.9 475.5L356.1 475.2L356.4 474.9L356.6 474.6L356.9 474.3L357.2 473.9L357.4 473.5L357.7 473.1L358 472.6L358.2 472.2L358.5 471.6L358.8 471.1L359 470.6L359.3 470L359.6 469.3L359.8 468.7L360.1 468L360.4 467.3L360.6 466.5L360.9 465.7L361.2 464.8L361.4 463.8L361.7 462.9L362 461.8L362.2 460.8L362.5 459.7L362.7 458.5L363 457.3L363.3 456L363.5 454.6L363.8 453.1L364.1 451.5L364.3 449.8L364.6 447.9L364.9 445.9L365.1 443.9L365.4 441.8L365.7 439.8L365.9 437.9L366.2 436.1L366.5 434.4L366.7 432.5L367 430.5L367.3 428.3L367.5 425.8L367.8 422.9L368.1 419.6L368.3 415.9L368.6 411.8L368.9 407.1L369.1 401.5L369.4 395L369.6 388.1L369.9 381.4" fill="none" stroke="#5b8fe8" stroke-width="1.1" stroke-linejoin="round" />
<path d="M279.7 499.4L280.2 499.4L280.8 499.3L281.3 499.3L281.8 499.3L282.4 499.3L282.9 499.3L283.4 499.3L283.9 499.2L284.5 499.2L285 499.2L285.5 499.2L286.1 499.2L286.6 499.2L287.1 499.1L287.7 499.1L288.2 499.1L288.7 499.1L289.3 499.1L289.8 499L290.3 499L290.8 499L291.4 499L291.9 499L292.4 499L293 498.9L293.5 498.9L294 498.9L294.6 498.9L295.1 498.9L295.6 498.9L296.2 498.8L296.7 498.8L297.2 498.8L297.7 498.8L298.3 498.8L298.8 498.7L299.3 498.7L299.9 498.7L300.4 498.7L300.9 498.7L301.5 498.6L302 498.6L302.5 498.6L303 498.6L303.6 498.6L304.1 498.5L304.6 498.5L305.2 498.5L305.7 498.5L306.2 498.5L306.8 498.4L307.3 498.4L307.8 498.4L308.4 498.4L308.9 498.3L309.4 498.3L309.9 498.3L310.5 498.3L311 498.2L311.5 498.2L312.1 498.2L312.6 498.2L313.1 498.2L313.7 498.1L314.2 498.1L314.7 498.1L315.3 498.1L315.8 498L316.3 498L316.8 498L317.4 498L317.9 497.9L318.4 497.9L319 497.9L319.5 497.9L320 497.8L320.6 497.8L321.1 497.8L321.6 497.8L322.2 497.7L322.7 497.7L323.2 497.7L323.7 497.6L324.3 497.6L324.8 497.6L325.3 497.6L325.9 497.5L326.4 497.5L326.9 497.5L327.5 497.5L328 497.4L328.5 497.4L329.1 497.4L329.6 497.3L330.1 497.3L330.6 497.3L331.2 497.3L331.7 497.2L332.2 497.2L332.8 497.2L333.3 497.1L333.8 497.1L334.4 497.1L334.9 497L335.4 497L336 497L336.5 496.9L337 496.9L337.5 496.9L338.1 496.8L338.6 496.8L339.1 496.8L339.7 496.7L340.2 496.7L340.7 496.6L341.3 496.6L341.8 496.5L342.3 496.5L342.8 496.4L343.4 496.3L343.9 496.3L344.4 496.2L345 496.2L345.5 496.1L346 496L346.6 496L347.1 495.9L347.6 495.8L348.2 495.7L348.7 495.6L349.2 495.6L349.7 495.5L350.3 495.4L350.8 495.3L351.3 495.2L351.9 495.1L352.4 495L352.9 494.9L353.5 494.8L354 494.7L354.5 494.6L355.1 494.5L355.6 494.4L356.1 494.3L356.6 494.1L357.2 494L357.7 493.9L358.2 493.7L358.8 493.6L359.3 493.4L359.8 493.3L360.4 493.1L360.9 493L361.4 492.8L362 492.6L362.5 492.4L363 492.2L363.5 492L364.1 491.8L364.6 491.5L365.1 491.3L365.7 491.1L366.2 490.8L366.7 490.6L367.3 490.3L367.8 490L368.3 489.8L368.9 489.5L369.4 489.3L369.9 489L370.4 488.7L371 488.3L371.5 487.9L372 487.4L372.6 486.5L373.1 485.2L373.6 483.5L374.2 481.9L374.7 480.3L375.2 478.8L375.8 477.3L376.3 476L376.8 474.8L377.3 473.6L377.9 472.5L378.4 471.5L378.9 470.8L379.5 470.2L380 469.7L380.5 469.3L381.1 469L381.6 468.9L382.1 468.8L382.6 468.8L383.2 468.9L383.7 469.1L384.2 469.3L384.8 469.6L385.3 469.9L385.8 470.2L386.4 470.5L386.9 471L387.4 471.4L388 471.9L388.5 472.4L389 472.8L389.5 473.1L390.1 473.3L390.6 473.5L391.1 473.6L391.7 473.6L392.2 473.5L392.7 473.3L393.3 473.1L393.8 472.8L394.3 472.5L394.9 472L395.4 471.4L395.9 470.5L396.4 469.6L397 468.4L397.5 467L398 465.5L398.6 463.8L399.1 461.9L399.6 459.8L400.2 457.5L400.7 455L401.2 452.3L401.8 449.3L402.3 446.2L402.8 443L403.3 439.8L403.9 436.5L404.4 433.1L404.9 429.7L405.5 426.2L406 422.8L406.5 419.6L407.1 416.4L407.6 413.5L408.1 410.5L408.7 407.7L409.2 405L409.7 402.4L410.2 400L410.8 397.8L411.3 395.7L411.8 393.8L412.4 392L412.9 390.4L413.4 389L414 387.7L414.5 386.7L415 385.8L415.6 385.2L416.1 384.9L416.6 384.8L417.1 384.9L417.7 385.1L418.2 385.6L418.7 386.3L419.3 387.2L419.8 388.2L420.3 389.4L420.9 390.7L421.4 392.3L421.9 394.1L422.4 396.1L423 398L423.5 399.8L424 401.3L424.6 402.4L425.1 403.4L425.6 404.1L426.2 404.7L426.7 405.1L427.2 405.3L427.8 405.3L428.3 405L428.8 404.6L429.3 404L429.9 403.2L430.4 402.4L430.9 401.5L431.5 400.5L432 399.3L432.5 398.1L433.1 396.8L433.6 395.4L434.1 394L434.7 392.4L435.2 390.8L435.7 389.1L436.2 387.5L436.8 386.1L437.3 384.8L437.8 383.6L438.4 382.5L438.9 381.4" fill="none" stroke="#e8606c" stroke-width="1.1" stroke-linejoin="round" />
<path d="M279.7 509.9H438.9" stroke="#7c7c7c" stroke-width="1"/>
<path d="M279.7 510.4V381.4" stroke="#7c7c7c" stroke-width="1"/>
<path d="M279.2 381.4H438.9V510.4" fill="none" stroke="#5a5a5a" stroke-width="1"/>
<path d="M279.7 509.9h-2.5M279.7 498.2h-2.5M279.7 474.9h-2.5M279.7 451.5h-2.5M279.7 428.1h-2.5M279.7 404.8h-2.5M279.7 381.4h-2.5" stroke="#555" stroke-width="0.9"/>
<path d="M279.7 486.5h-1.5M279.7 463.2h-1.5M279.7 439.8h-1.5M279.7 416.4h-1.5M279.7 393.1h-1.5" stroke="#555" stroke-width="0.9"/>
<path d="M279.7 509.9v2.5M332.8 509.9v2.5M385.8 509.9v2.5M438.9 509.9v2.5" stroke="#555" stroke-width="0.9"/>
<path d="M306.2 509.9v1.5M359.3 509.9v1.5M412.4 509.9v1.5" stroke="#555" stroke-width="0.9"/>
<text x="276.3" y="501.1" font-size="8.5" text-anchor="end" fill="#111" color="#111" >0</text>
<text x="276.3" y="477.8" font-size="8.5" text-anchor="end" fill="#111" color="#111" >20</text>
<text x="276.3" y="454.4" font-size="8.5" text-anchor="end" fill="#111" color="#111" >40</text>
<text x="276.3" y="431" font-size="8.5" text-anchor="end" fill="#111" color="#111" >60</text>
<text x="276.3" y="407.7" font-size="8.5" text-anchor="end" fill="#111" color="#111" >80</text>
<text x="276.3" y="384.3" font-size="8.5" text-anchor="end" fill="#111" color="#111" >100</text>
<text x="279.7" y="520.6" font-size="8.5" text-anchor="middle" fill="#111" color="#111" >3</text>
<text x="332.8" y="520.6" font-size="8.5" text-anchor="middle" fill="#111" color="#111" >4</text>
<text x="385.8" y="520.6" font-size="8.5" text-anchor="middle" fill="#111" color="#111" >5</text>
<text x="438.9" y="520.6" font-size="8.5" text-anchor="middle" fill="#111" color="#111" >6</text>
<line x1="282.3" y1="388.4" x2="301.5" y2="388.4" stroke="#5b8fe8" stroke-width="1.1"/>
<line x1="282.3" y1="398.7" x2="301.5" y2="398.7" stroke="#e8606c" stroke-width="1.1"/>
<text x="303.6" y="391.4" font-size="8.6" text-anchor="start" fill="#111" color="#111" >PDE</text>
<text x="303.6" y="401.7" font-size="8.6" text-anchor="start" fill="#111" color="#111" >PVM-GPE</text>
<text x="310.2" y="474.3" font-size="6.3" text-anchor="start" fill="#111" color="#111" >4.08 V</text>
<text x="387.6" y="499.7" font-size="6.3" text-anchor="start" fill="#111" color="#111" >4.74 V</text>
<path d="M328.9 476.4L335.6 484.6" stroke="#222" stroke-width="0.7"/><path d="M336.4 485.6l-2.7 -1.2l1.8 -1.4z" fill="#222"/>
<path d="M385.8 493.9L375 487.9" stroke="#222" stroke-width="0.7"/><path d="M373.8 487.2l2.8 0.4l-1.1 2z" fill="#222"/>
<text x="0" y="0" font-size="9.8" text-anchor="middle" fill="#111" color="#111" transform="translate(257.6 445) rotate(-90)">Current (&#956;A cm<tspan font-size="6.2" dy="-3.6">-2</tspan><tspan dy="3.6">)</tspan></text>
<text x="359.8" y="534.6" font-size="9.6" text-anchor="middle" fill="#111" color="#111" >Potential (V vs Li/Li<tspan font-size="6.2" dy="-3.6">+</tspan><tspan dy="3.6">)</tspan></text>
<text x="481.2" y="375.2" font-size="18" text-anchor="start" fill="#000" color="#000" class="pl">h</text>
<path d="M520.3 426.4L520.7 442.4L521.1 454.5L521.5 464.6L521.9 470.4L522.3 475.5L522.7 478.1L523.1 480.7L523.5 483.3L523.9 484.6L524.3 485.9L524.7 487.1L525.1 488.4L525.5 489.3L525.9 490.1L526.3 490.5L526.7 491.7L527.1 492.1L527.5 492.8L527.9 492.7L528.3 493.3L528.7 493.5L529.1 494.2L529.5 494.5L529.9 495L530.2 495.3L530.6 495.4L531 495.9L531.4 496.1L531.8 496.2L532.2 496.5L532.6 496.9L533 496.8L533.4 497.3L533.8 497.5L534.2 497.6L534.6 497.9L535 498L535.4 498.2L535.8 498L536.2 498.5L536.6 498.6L537 498.7L537.4 498.7L537.8 499.2L538.2 499.5L538.6 499.2L539 499.8L539.4 499.7L539.8 499.7L540.2 499.5L540.6 500L541 500.3L541.4 499.9L541.8 500.2L542.2 500.3L542.6 500.2L543 500.3L543.4 500.4L543.8 500.6L544.2 500.4L544.6 500.4L545 500.7L545.4 500.9L545.8 500.7L546.2 500.9L546.6 501.2L547 501.2L547.4 501L547.8 501.2L548.2 501.4L548.6 501.3L549 501.5L549.4 501.5L549.8 501.8L550.1 501.3L550.5 501.5L550.9 501.7L551.3 501.5L551.7 501.6L552.1 501.7L552.5 501.6L552.9 501.4L553.3 501.7L553.7 501.6L554.1 501.5L554.5 502.1L554.9 502L555.3 501.9L555.7 502.3L556.1 502.1L556.5 501.9L556.9 501.9L557.3 502.1L557.7 502.5L558.1 501.8L558.5 502.2L558.9 502.2L559.3 502.2L559.7 502.6L560.1 502.6L560.5 502.6L560.9 502.1L561.3 502.6L561.7 502.5L562.1 502.6L562.5 502.5L562.9 502.5L563.3 502.6L563.7 502.9L564.1 503.2L564.5 502.7L564.9 502.7L565.3 502.6L565.7 502.8L566.1 502.9L566.5 502.8L566.9 503.1L567.3 503L567.7 503L568.1 502.8L568.5 502.6L568.9 502.8L569.3 502.8L569.7 502.9L570 502.9L570.4 503.1L570.8 503.1L571.2 503.4L571.6 503.2L572 503.3L572.4 503L572.8 503L573.2 503L573.6 502.9L574 503.2L574.4 503L574.8 502.9L575.2 503.2L575.6 503.1L576 503.3L576.4 503.5L576.8 503.3L577.2 503.4L577.6 503.3L578 503.4L578.4 503.3L578.8 503.7L579.2 503.1L579.6 503.2L580 503.5L580.4 503.6L580.8 503.5L581.2 503.4L581.6 503.4L582 503.5L582.4 503.9L582.8 503.7L583.2 503.4L583.6 503.6L584 503.9L584.4 503.8L584.8 503.9L585.2 503.8L585.6 503.5L586 503.7L586.4 503.5L586.8 503.7L587.2 503.9L587.6 503.8L588 503.4L588.4 503.9L588.8 503.9L589.2 503.6L589.6 503.8L589.9 503.8L590.3 503.6L590.7 504.1L591.1 503.8L591.5 504L591.9 504.1L592.3 504L592.7 503.7L593.1 503.9L593.5 504.2L593.9 504.1L594.3 503.7L594.7 503.8L595.1 504.1L595.5 503.6L595.9 504L596.3 504.2L596.7 504L597.1 503.8L597.5 503.8L597.9 503.9L598.3 504.1L598.7 504.1L599.1 504.3L599.5 504.1L599.9 504.2L600.3 504L600.7 504.3L601.1 504.2L601.5 504.3L601.9 504.3L602.3 504.3L602.7 504.3L603.1 504.3L603.5 504.1L603.9 504.2L604.3 504.4L604.7 504.1L605.1 504.2L605.5 504L605.9 504.3L606.3 504.3L606.7 504.4L607.1 504.3L607.5 504.2L607.9 504.3L608.3 504.3L608.7 504.2L609.1 504.3L609.5 504.3L609.9 504.5L610.2 504.3L610.6 504.5L611 504.5L611.4 504.4L611.8 504.1L612.2 504.3L612.6 504.4L613 504.5L613.4 504.3L613.8 504.2L614.2 504.3L614.6 504.5L615 504.5L615.4 504.6L615.8 504.6L616.2 504.7L616.6 504.6L617 504.9L617.4 504.7L617.8 504.5L618.2 504.7L618.6 504.5L619 504.8L619.4 504.7L619.8 504.6L620.2 504.8L620.6 504.8L621 504.3L621.4 504.8L621.8 504.8L622.2 504.8L622.6 504.7L623 504.7L623.4 504.6L623.8 504.6L624.2 504.8L624.6 504.8L625 505L625.4 505L625.8 504.9L626.2 504.7L626.6 504.8L627 504.7L627.4 504.7L627.8 504.9L628.2 504.5L628.6 504.9L629 505L629.4 504.9L629.8 504.7L630.1 504.9L630.5 505L630.9 504.9L631.3 504.8L631.7 505L632.1 505L632.5 504.8L632.9 504.8L633.3 504.8L633.7 505.1L634.1 505L634.5 505L634.9 505.3L635.3 504.8L635.7 505L636.1 505.1L636.5 504.7L636.9 505.1L637.3 505.2L637.7 505.1L638.1 505L638.5 505L638.9 505.1L639.3 505.3L639.7 505.3L640.1 505.3L640.5 505.3L640.9 505.2L641.3 505.3L641.7 505.2L642.1 505.3L642.5 505.4L642.9 505.3L643.3 505.3L643.7 505.1L644.1 505.4L644.5 505.2L644.9 505.3L645.3 505.5L645.7 505.2L646.1 505.3L646.5 505.7L646.9 505.2L647.3 505.2L647.7 505.5L648.1 505.1L648.5 505.4L648.9 505.6L649.3 505.3L649.7 505.5L650 505.6L650.4 505.8L650.8 505.4L651.2 505.6L651.6 505.4L652 505.4L652.4 505.6L652.8 505.6L653.2 505.2L653.6 505.3L654 505.4L654.4 505.6L654.8 505.7L655.2 505.6L655.6 505.3L656 505.5L656.4 505.6L656.8 505.8L657.2 505.6L657.6 505.8L658 505.6L658.4 505.5L658.8 505.5L659.2 505.6L659.6 505.7L660 505.6L660.4 505.4L660.8 505.6L661.2 505.9L661.6 505.5L662 505.7L662.4 505.2L662.8 505.8L663.2 505.8L663.6 505.8L664 505.7L664.4 505.9L664.8 506L665.2 506.1L665.6 505.8L666 505.9L666.4 505.9L666.8 505.5L667.2 505.7L667.6 505.7L668 506L668.4 505.9L668.8 505.9L669.2 506L669.6 505.8L669.9 505.8L670.3 505.9L670.7 505.9L671.1 506.2L671.5 506.1L671.9 505.9L672.3 506.1L672.7 506.1L673.1 506L673.5 506.2L673.9 506.1L674.3 505.9L674.7 506.1L675.1 505.9L675.5 506L675.9 506L676.3 505.9L676.7 506.5L677.1 506.1L677.5 506.3L677.9 506.2L678.3 506.2L678.7 506L679.1 506.2L679.5 505.9" fill="none" stroke="#e8606c" stroke-width="1.0" stroke-linejoin="round" />
<path d="M520.3 381.7L520.6 388.1L520.9 394.5L521.3 401.5L521.6 408.5L521.9 414.3L522.2 420L522.5 424.2L522.8 428.3L523.2 432.5L523.5 436.7L523.8 440.1L524.1 443.5L524.4 446.9L524.8 448.3L525.1 449.8L525.4 451.6L525.7 452.8L526 454.1L526.3 455.1L526.7 457.1L527 458.2L527.3 458.8L527.6 460.2L527.9 459.4L528.3 460.5L528.6 461.5L528.9 462.3L529.2 463.5L529.5 464L529.9 464L530.2 465.5L530.5 466.1L530.8 465.4L531.1 465.9L531.4 467.2L531.8 467.6L532.1 468.4L532.4 468.2L532.7 469.9L533 470L533.4 470.2L533.7 470.1L534 471.5L534.3 471.7L534.6 472.5L534.9 473L535.3 473.5L535.6 473.5L535.9 473.4L536.2 474.8L536.5 475.2L536.9 475.5L537.2 475.5L537.5 475.7L537.8 477.3L538.1 476.6L538.4 477.6L538.8 476.8L539.1 478L539.4 478.3L539.7 478.3L540 478.2L540.4 478.9L540.7 478.5L541 478.7L541.3 479L541.6 479.1L542 479L542.3 480.2L542.6 480L542.9 480.2L543.2 481.6L543.5 480.4L543.9 481.3L544.2 481.5L544.5 481.6L544.8 481.5L545.1 481.6L545.5 481.7L545.8 482.6L546.1 481.9L546.4 482.2L546.7 482.8L547 482.7L547.4 482.4L547.7 482.7L548 482.7L548.3 483.2L548.6 482.7L549 482.3L549.3 483.4L549.6 484.7L549.9 483L550.2 484.4L550.5 485L550.9 485.7L551.2 484.3L551.5 484L551.8 484.2L552.1 485.1L552.5 484.2L552.8 485.2L553.1 485.7L553.4 485.4L553.7 485.5L554.1 485.7L554.4 485.5L554.7 487.1L555 485L555.3 486.3L555.6 485.7L556 486.6L556.3 486.2L556.6 486.5L556.9 487.4L557.2 486.3L557.6 486.2L557.9 487.3L558.2 488L558.5 487.2L558.8 487.4L559.1 487L559.5 487.1L559.8 486.3L560.1 486.9L560.4 487.5L560.7 487.4L561.1 489.2L561.4 488.1L561.7 488.2L562 487.8L562.3 487.7L562.6 487.8L563 487.5L563.3 488.5L563.6 488L563.9 488.4L564.2 488.4L564.6 488.3L564.9 488.7L565.2 488.5L565.5 488.7L565.8 488.2L566.1 488.9L566.5 488.7L566.8 487.5L567.1 488.7L567.4 488.9L567.7 488.6L568.1 489.9L568.4 489L568.7 489L569 489.3L569.3 489L569.7 489.2L570 489.1L570.3 490.2L570.6 489.7L570.9 490.3L571.2 489.4L571.6 490.1L571.9 491L572.2 490.2L572.5 491L572.8 489.9L573.2 490.7L573.5 491.9L573.8 490.9L574.1 490.2L574.4 490.6L574.7 491.3L575.1 490.6L575.4 490.7L575.7 490.3L576 490.7L576.3 491.1L576.7 491.8L577 491.3L577.3 491.4L577.6 491.6L577.9 491.4L578.2 492.4L578.6 491.4L578.9 491.8L579.2 491.6L579.5 492L579.8 492.1L580.2 491.9L580.5 491.6L580.8 492.3L581.1 492L581.4 492.6L581.8 492L582.1 492.3L582.4 493.1L582.7 491.7L583 493L583.3 492.4L583.7 493.3L584 493.6L584.3 492.3L584.6 493.5L584.9 493.9L585.3 492.9L585.6 493.7L585.9 493L586.2 491.9L586.5 493.2L586.8 492.8L587.2 492.8L587.5 493L587.8 493.3L588.1 492.4L588.4 493.3L588.8 493.1L589.1 493.3L589.4 494.2L589.7 493.3L590 493.5L590.3 493.2L590.7 493.2L591 492.8L591.3 494.8L591.6 494.1L591.9 494.1L592.3 494.4L592.6 493.7L592.9 494L593.2 493.9L593.5 495L593.9 494.7L594.2 494.2L594.5 494.5L594.8 494.6L595.1 494.4L595.4 494.5L595.8 495L596.1 493.5L596.4 494.9L596.7 494.1L597 494.2L597.4 494L597.7 494.9L598 495.2L598.3 494.4L598.6 494.6L598.9 496.1L599.3 496.3L599.6 495.1L599.9 495.1L600.2 495L600.5 494.7L600.9 495.5L601.2 493.5L601.5 494.5L601.8 494.3L602.1 494.9L602.4 496.3L602.8 495L603.1 495.5L603.4 494.9L603.7 495.3L604 494.9L604.4 495.8L604.7 495.5L605 495.3L605.3 495.8L605.6 495.7L605.9 495.1L606.3 494.4L606.6 495.6L606.9 495.1L607.2 496.2L607.5 495.9L607.9 495.4L608.2 495.3L608.5 496.3L608.8 495.4L609.1 495.7L609.5 495L609.8 495.3L610.1 495.5L610.4 496.1L610.7 495.8L611 496.4L611.4 496.4L611.7 497L612 496.8L612.3 496.8L612.6 496.1L613 496L613.3 496.9L613.6 496.2L613.9 495.9L614.2 495.7L614.5 496.3L614.9 496.1L615.2 496.5L615.5 495.7L615.8 497.2L616.1 496.2L616.5 497.7L616.8 495.4L617.1 495.9L617.4 497.6L617.7 496.7L618 497.3L618.4 497.5L618.7 496.7L619 497L619.3 496L619.6 496.9L620 497.2L620.3 496.7L620.6 496.4L620.9 496.2L621.2 496.4L621.6 497.6L621.9 497.2L622.2 496.9L622.5 497.3L622.8 496.4L623.1 497L623.5 496.9L623.8 497.1L624.1 496.9L624.4 497.8L624.7 495.8L625.1 497.3L625.4 497.4L625.7 498L626 497.1L626.3 497.8L626.6 496.9L627 496.4L627.3 496.8L627.6 497.4L627.9 496.4L628.2 497.3L628.6 497.2L628.9 497.2L629.2 497.5L629.5 497L629.8 498L630.1 498.3L630.5 496.6L630.8 497.7L631.1 497.5L631.4 497.2L631.7 497.6L632.1 498.1L632.4 497.5L632.7 498L633 497.1L633.3 497.7L633.7 497.6L634 497.1L634.3 498.4L634.6 498.4L634.9 497.1L635.2 496.9L635.6 497.5L635.9 498L636.2 496.9L636.5 497.4L636.8 497.1L637.2 498.7L637.5 497.8L637.8 498.3L638.1 498.4L638.4 497.4L638.7 497.4L639.1 498.1L639.4 497.9L639.7 497L640 497.5L640.3 497.9L640.7 497.6L641 497.8L641.3 498.6L641.6 498.2L641.9 497.8L642.2 497.6L642.6 498.7L642.9 498.5L643.2 498.4L643.5 498.9L643.8 497.4L644.2 497.8L644.5 497.3L644.8 499.3L645.1 498.6L645.4 497.1L645.7 498.9L646.1 499.2L646.4 498.1L646.7 497.3L647 497.8L647.3 498.8L647.7 497.9L648 498L648.3 498.1L648.6 498.1L648.9 497.8L649.3 497.7L649.6 497.6L649.9 497.7L650.2 498.4L650.5 499.4L650.8 498.1L651.2 499.3L651.5 497.1L651.8 499.1L652.1 499.5L652.4 499.5L652.8 498.3L653.1 498.3L653.4 498.1L653.7 498.4L654 499L654.3 498.1L654.7 499L655 499.4L655.3 498.1L655.6 498.3L655.9 499.2L656.3 498.8L656.6 498.1L656.9 498.2L657.2 499.3L657.5 498.1L657.8 500.2L658.2 498.7L658.5 498.5L658.8 498.8L659.1 498.7L659.4 499.7L659.8 498.9L660.1 498.6L660.4 499.4L660.7 498.8L661 499L661.4 500.2L661.7 499.3L662 498.6L662.3 499.8L662.6 498.9L662.9 498.8L663.3 499.7L663.6 499.1L663.9 498.5L664.2 498.6L664.5 499.6L664.9 498.5L665.2 498.9L665.5 499L665.8 498.2L666.1 498.7L666.4 498.9L666.8 498.6L667.1 498.8L667.4 498.4L667.7 499.2L668 500.2L668.4 498.3L668.7 498.8L669 498.9L669.3 499.2L669.6 499.3L669.9 499.2L670.3 499.8L670.6 498.8L670.9 499.2L671.2 499.7L671.5 499L671.9 499.3L672.2 499.1L672.5 498.8L672.8 497.5L673.1 499.7L673.5 498.8L673.8 498.6L674.1 498.7L674.4 498.1L674.7 499.2L675 499.1L675.4 498.9L675.7 499.7L676 498.2L676.3 499.5L676.6 498.5L677 498.1L677.3 499.2L677.6 498.8L677.9 498.8L678.2 497.7L678.5 498.5L678.9 499.6L679.2 498L679.5 498.1" fill="none" stroke="#5b8fe8" stroke-width="1.15" stroke-linejoin="round" />
<path d="M520.3 509.5H679.5" stroke="#666" stroke-width="1"/>
<path d="M520.3 509.5V381.7" stroke="#777" stroke-width="1"/>
<path d="M520.3 381.7H679.5" stroke="#aaa" stroke-width="1.4"/>
<path d="M679.5 381.7V509.5" stroke="#999" stroke-width="1.2"/>
<path d="M520.3 509.5h-2.5M520.3 483.9h-2.5M520.3 458.4h-2.5M520.3 432.8h-2.5M520.3 407.3h-2.5M520.3 381.7h-2.5" stroke="#555" stroke-width="0.9"/>
<path d="M520.3 496.7h-1.5M520.3 471.2h-1.5M520.3 445.6h-1.5M520.3 420h-1.5M520.3 394.5h-1.5" stroke="#555" stroke-width="0.9"/>
<path d="M520.3 509.5v2.5M552.1 509.5v2.5M584 509.5v2.5M615.8 509.5v2.5M647.7 509.5v2.5M679.5 509.5v2.5" stroke="#555" stroke-width="0.9"/>
<path d="M536.2 509.5v1.5M568.1 509.5v1.5M599.9 509.5v1.5M631.7 509.5v1.5M663.6 509.5v1.5" stroke="#555" stroke-width="0.9"/>
<text x="516.4" y="512.4" font-size="8.5" text-anchor="end" fill="#111" color="#111" >0.00</text>
<text x="516.4" y="486.8" font-size="8.5" text-anchor="end" fill="#111" color="#111" >0.02</text>
<text x="516.4" y="461.3" font-size="8.5" text-anchor="end" fill="#111" color="#111" >0.04</text>
<text x="516.4" y="435.7" font-size="8.5" text-anchor="end" fill="#111" color="#111" >0.06</text>
<text x="516.4" y="410.2" font-size="8.5" text-anchor="end" fill="#111" color="#111" >0.08</text>
<text x="516.4" y="384.6" font-size="8.5" text-anchor="end" fill="#111" color="#111" >0.10</text>
<text x="520.3" y="520.3" font-size="8.5" text-anchor="middle" fill="#111" color="#111" >0</text>
<text x="552.1" y="520.3" font-size="8.5" text-anchor="middle" fill="#111" color="#111" >2</text>
<text x="584" y="520.3" font-size="8.5" text-anchor="middle" fill="#111" color="#111" >4</text>
<text x="615.8" y="520.3" font-size="8.5" text-anchor="middle" fill="#111" color="#111" >6</text>
<text x="647.7" y="520.3" font-size="8.5" text-anchor="middle" fill="#111" color="#111" >8</text>
<text x="679.5" y="520.3" font-size="8.5" text-anchor="middle" fill="#111" color="#111" >10</text>
<line x1="617.6" y1="388.7" x2="636.7" y2="388.7" stroke="#5b8fe8" stroke-width="1.1"/>
<line x1="617.6" y1="398.7" x2="636.7" y2="398.7" stroke="#e8606c" stroke-width="1.1"/>
<text x="639" y="391.7" font-size="8.4" text-anchor="start" fill="#111" color="#111" >PDE</text>
<text x="639" y="401.7" font-size="8.4" text-anchor="start" fill="#111" color="#111" >PVM-GPE</text>
<text x="0" y="0" font-size="10.8" text-anchor="middle" fill="#111" color="#111" transform="translate(495.3 445.6) rotate(-90)">Current (A cm<tspan font-size="6.8" dy="-4">-2</tspan><tspan dy="4">)</tspan></text>
<text x="600.3" y="535.6" font-size="10.8" text-anchor="middle" fill="#111" color="#111" >Time (h)</text>
</svg></body></html>
